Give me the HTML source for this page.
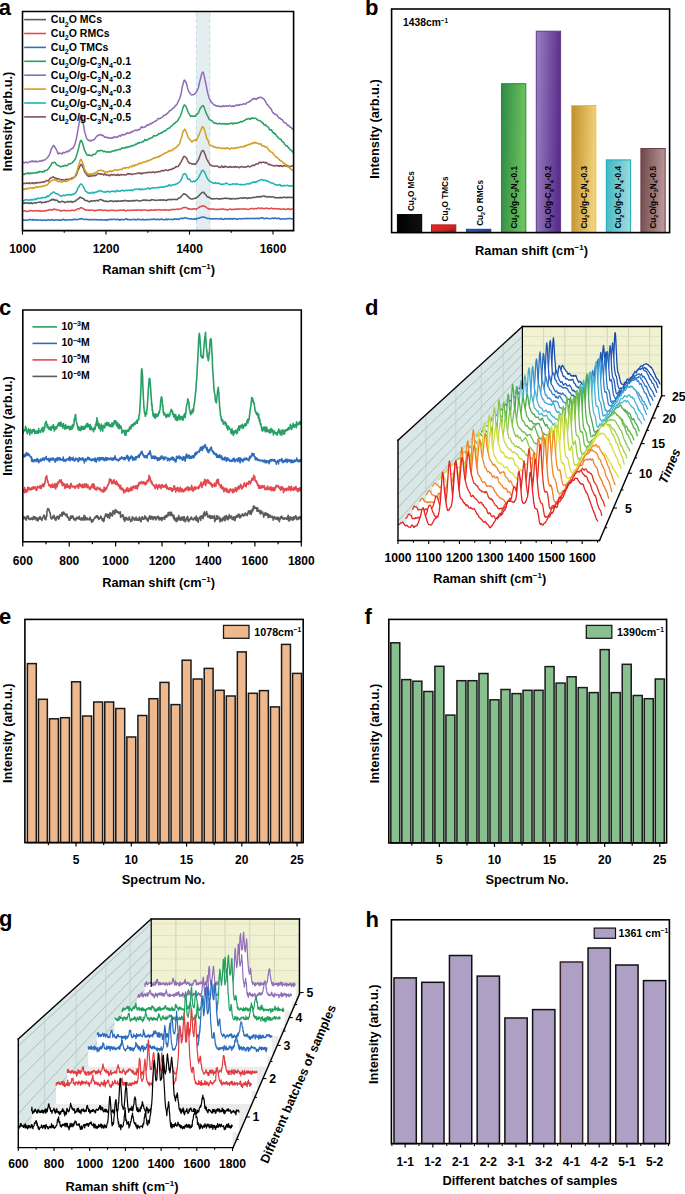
<!DOCTYPE html>
<html><head><meta charset="utf-8"><style>
html,body{margin:0;padding:0;background:#fff;width:685px;height:1194px;overflow:hidden}
svg{display:block}
text{font-family:"Liberation Sans",sans-serif;font-weight:bold;fill:#000}
</style></head><body>
<svg width="685" height="1194" viewBox="0 0 685 1194">
<defs>
<linearGradient id="gBlack" x1="0" y1="0" x2="1" y2="0"><stop offset="0" stop-color="#000"/><stop offset="1" stop-color="#111"/></linearGradient>
<linearGradient id="gRed" x1="0" y1="0" x2="1" y2="1"><stop offset="0" stop-color="#ee2a2a"/><stop offset="0.6" stop-color="#cc2424"/><stop offset="1" stop-color="#6e1a1a"/></linearGradient>
<linearGradient id="gBlue" x1="0" y1="0" x2="1" y2="0"><stop offset="0" stop-color="#2a58b0"/><stop offset="1" stop-color="#1d4090"/></linearGradient>
<linearGradient id="gGreen" x1="0" y1="0" x2="1" y2="0.15"><stop offset="0" stop-color="#2f8a45"/><stop offset="1" stop-color="#6cc35c"/></linearGradient>
<linearGradient id="gPurple" x1="0" y1="0" x2="1" y2="0.15"><stop offset="0" stop-color="#9a80c0"/><stop offset="1" stop-color="#5a2f8e"/></linearGradient>
<linearGradient id="gGold" x1="0" y1="0" x2="1" y2="0.15"><stop offset="0" stop-color="#c08f28"/><stop offset="1" stop-color="#f2d07a"/></linearGradient>
<linearGradient id="gCyan" x1="0" y1="0" x2="1" y2="0.15"><stop offset="0" stop-color="#3cb8c2"/><stop offset="1" stop-color="#9ad8de"/></linearGradient>
<linearGradient id="gBrown" x1="0" y1="0" x2="1" y2="0.15"><stop offset="0" stop-color="#6c4649"/><stop offset="1" stop-color="#b99598"/></linearGradient>
</defs>
<text x="-1.20" y="15.20" font-size="22" text-anchor="start" >a</text>
<text x="365.00" y="15.20" font-size="22" text-anchor="start" >b</text>
<text x="-0.90" y="315.20" font-size="22" text-anchor="start" >c</text>
<text x="365.00" y="315.20" font-size="22" text-anchor="start" >d</text>
<text x="-0.90" y="624.30" font-size="22" text-anchor="start" >e</text>
<text x="364.60" y="623.60" font-size="22" text-anchor="start" >f</text>
<text x="-0.90" y="925.80" font-size="22" text-anchor="start" >g</text>
<text x="365.40" y="926.90" font-size="22" text-anchor="start" >h</text>
<rect x="397.40" y="214.60" width="24.30" height="18.00" fill="url(#gBlack)" stroke="#000" stroke-width="1.0" />
<rect x="431.50" y="224.90" width="24.30" height="7.70" fill="url(#gRed)" stroke="#b01c1c" stroke-width="1.0" />
<rect x="466.50" y="229.30" width="24.30" height="3.30" fill="url(#gBlue)" stroke="#1c3f8a" stroke-width="1.0" />
<rect x="501.50" y="83.70" width="24.30" height="148.90" fill="url(#gGreen)" stroke="#228a3c" stroke-width="1.0" />
<rect x="536.30" y="31.20" width="24.30" height="201.40" fill="url(#gPurple)" stroke="#5f3a8c" stroke-width="1.0" />
<rect x="571.50" y="105.50" width="24.30" height="127.10" fill="url(#gGold)" stroke="#f0c030" stroke-width="1.0" />
<rect x="606.30" y="159.90" width="24.30" height="72.70" fill="url(#gCyan)" stroke="#19a9b3" stroke-width="1.0" />
<rect x="640.90" y="148.50" width="24.30" height="84.10" fill="url(#gBrown)" stroke="#6a4346" stroke-width="1.0" />
<text x="413.55" y="211.10" font-size="8.2" text-anchor="start" transform="rotate(-90 413.55 211.10)" font-family="Liberation Sans, sans-serif" font-weight="bold">Cu<tspan font-size="5.58" dy="2.46">2</tspan><tspan dy="-2.46">O MCs</tspan></text>
<text x="447.65" y="221.40" font-size="8.2" text-anchor="start" transform="rotate(-90 447.65 221.40)" font-family="Liberation Sans, sans-serif" font-weight="bold">Cu<tspan font-size="5.58" dy="2.46">2</tspan><tspan dy="-2.46">O TMCs</tspan></text>
<text x="482.65" y="225.80" font-size="8.2" text-anchor="start" transform="rotate(-90 482.65 225.80)" font-family="Liberation Sans, sans-serif" font-weight="bold">Cu<tspan font-size="5.58" dy="2.46">2</tspan><tspan dy="-2.46">O RMCs</tspan></text>
<text x="516.65" y="228.60" font-size="8.2" text-anchor="start" fill="#1a1a1a" transform="rotate(-90 516.65 228.60)" font-family="Liberation Sans, sans-serif" font-weight="bold">Cu<tspan font-size="5.58" dy="2.46">2</tspan><tspan dy="-2.46">O/g-C</tspan><tspan font-size="5.58" dy="2.46">3</tspan><tspan dy="-2.46">N</tspan><tspan font-size="5.58" dy="2.46">4</tspan><tspan dy="-2.46">-0.1</tspan></text>
<text x="551.45" y="228.60" font-size="8.2" text-anchor="start" fill="#1a1a1a" transform="rotate(-90 551.45 228.60)" font-family="Liberation Sans, sans-serif" font-weight="bold">Cu<tspan font-size="5.58" dy="2.46">2</tspan><tspan dy="-2.46">O/g-C</tspan><tspan font-size="5.58" dy="2.46">3</tspan><tspan dy="-2.46">N</tspan><tspan font-size="5.58" dy="2.46">4</tspan><tspan dy="-2.46">-0.2</tspan></text>
<text x="586.65" y="228.60" font-size="8.2" text-anchor="start" fill="#1a1a1a" transform="rotate(-90 586.65 228.60)" font-family="Liberation Sans, sans-serif" font-weight="bold">Cu<tspan font-size="5.58" dy="2.46">2</tspan><tspan dy="-2.46">O/g-C</tspan><tspan font-size="5.58" dy="2.46">3</tspan><tspan dy="-2.46">N</tspan><tspan font-size="5.58" dy="2.46">4</tspan><tspan dy="-2.46">-0.3</tspan></text>
<text x="621.45" y="228.60" font-size="8.2" text-anchor="start" fill="#1a1a1a" transform="rotate(-90 621.45 228.60)" font-family="Liberation Sans, sans-serif" font-weight="bold">Cu<tspan font-size="5.58" dy="2.46">2</tspan><tspan dy="-2.46">O/g-C</tspan><tspan font-size="5.58" dy="2.46">3</tspan><tspan dy="-2.46">N</tspan><tspan font-size="5.58" dy="2.46">4</tspan><tspan dy="-2.46">-0.4</tspan></text>
<text x="656.05" y="228.60" font-size="8.2" text-anchor="start" fill="#1a1a1a" transform="rotate(-90 656.05 228.60)" font-family="Liberation Sans, sans-serif" font-weight="bold">Cu<tspan font-size="5.58" dy="2.46">2</tspan><tspan dy="-2.46">O/g-C</tspan><tspan font-size="5.58" dy="2.46">3</tspan><tspan dy="-2.46">N</tspan><tspan font-size="5.58" dy="2.46">4</tspan><tspan dy="-2.46">-0.5</tspan></text>
<rect x="391.60" y="9.00" width="278.00" height="223.60" fill="none" stroke="#000" stroke-width="1.6" />
<text x="403" y="26.3" font-size="10.3" text-anchor="start" font-family="Liberation Sans, sans-serif" font-weight="bold">1438cm<tspan font-size="6.39" dy="-3.71">−1</tspan><tspan dy="3.71"></tspan></text>
<text x="378.50" y="129.00" font-size="12.8" text-anchor="middle" transform="rotate(-90 378.5 129)" font-family="Liberation Sans, sans-serif" font-weight="bold">Intensity (arb.u.)</text>
<text x="531.5" y="255" font-size="12.8" text-anchor="middle" font-family="Liberation Sans, sans-serif" font-weight="bold">Raman shift (cm<tspan font-size="7.94" dy="-4.61">−1</tspan><tspan dy="4.61">)</tspan></text>
<rect x="24.90" y="619.40" width="278.30" height="223.20" fill="#fff" stroke="none" stroke-width="1.0" />
<rect x="27.40" y="663.60" width="8.90" height="179.00" fill="#f0b98d" stroke="#1a1a1a" stroke-width="1.5" />
<rect x="38.45" y="699.30" width="8.90" height="143.30" fill="#f0b98d" stroke="#1a1a1a" stroke-width="1.5" />
<rect x="49.50" y="718.80" width="8.90" height="123.80" fill="#f0b98d" stroke="#1a1a1a" stroke-width="1.5" />
<rect x="60.55" y="717.70" width="8.90" height="124.90" fill="#f0b98d" stroke="#1a1a1a" stroke-width="1.5" />
<rect x="71.60" y="681.80" width="8.90" height="160.80" fill="#f0b98d" stroke="#1a1a1a" stroke-width="1.5" />
<rect x="82.65" y="716.00" width="8.90" height="126.60" fill="#f0b98d" stroke="#1a1a1a" stroke-width="1.5" />
<rect x="93.70" y="702.00" width="8.90" height="140.60" fill="#f0b98d" stroke="#1a1a1a" stroke-width="1.5" />
<rect x="104.75" y="702.00" width="8.90" height="140.60" fill="#f0b98d" stroke="#1a1a1a" stroke-width="1.5" />
<rect x="115.80" y="708.50" width="8.90" height="134.10" fill="#f0b98d" stroke="#1a1a1a" stroke-width="1.5" />
<rect x="126.85" y="737.00" width="8.90" height="105.60" fill="#f0b98d" stroke="#1a1a1a" stroke-width="1.5" />
<rect x="137.90" y="715.50" width="8.90" height="127.10" fill="#f0b98d" stroke="#1a1a1a" stroke-width="1.5" />
<rect x="148.95" y="698.70" width="8.90" height="143.90" fill="#f0b98d" stroke="#1a1a1a" stroke-width="1.5" />
<rect x="160.00" y="682.40" width="8.90" height="160.20" fill="#f0b98d" stroke="#1a1a1a" stroke-width="1.5" />
<rect x="171.05" y="704.60" width="8.90" height="138.00" fill="#f0b98d" stroke="#1a1a1a" stroke-width="1.5" />
<rect x="182.10" y="660.20" width="8.90" height="182.40" fill="#f0b98d" stroke="#1a1a1a" stroke-width="1.5" />
<rect x="193.15" y="679.00" width="8.90" height="163.60" fill="#f0b98d" stroke="#1a1a1a" stroke-width="1.5" />
<rect x="204.20" y="668.40" width="8.90" height="174.20" fill="#f0b98d" stroke="#1a1a1a" stroke-width="1.5" />
<rect x="215.25" y="690.30" width="8.90" height="152.30" fill="#f0b98d" stroke="#1a1a1a" stroke-width="1.5" />
<rect x="226.30" y="696.00" width="8.90" height="146.60" fill="#f0b98d" stroke="#1a1a1a" stroke-width="1.5" />
<rect x="237.35" y="651.90" width="8.90" height="190.70" fill="#f0b98d" stroke="#1a1a1a" stroke-width="1.5" />
<rect x="248.40" y="693.30" width="8.90" height="149.30" fill="#f0b98d" stroke="#1a1a1a" stroke-width="1.5" />
<rect x="259.45" y="690.60" width="8.90" height="152.00" fill="#f0b98d" stroke="#1a1a1a" stroke-width="1.5" />
<rect x="270.50" y="706.90" width="8.90" height="135.70" fill="#f0b98d" stroke="#1a1a1a" stroke-width="1.5" />
<rect x="281.55" y="644.40" width="8.90" height="198.20" fill="#f0b98d" stroke="#1a1a1a" stroke-width="1.5" />
<rect x="292.60" y="673.40" width="8.90" height="169.20" fill="#f0b98d" stroke="#1a1a1a" stroke-width="1.5" />
<rect x="24.90" y="619.40" width="278.30" height="223.20" fill="none" stroke="#000" stroke-width="1.6" />
<line x1="48.43" y1="842.60" x2="48.43" y2="845.10" stroke="#000" stroke-width="1.2" />
<line x1="76.05" y1="842.60" x2="76.05" y2="846.60" stroke="#000" stroke-width="1.2" />
<text x="76.05" y="864.10" font-size="12" text-anchor="middle" font-family="Liberation Sans, sans-serif" font-weight="bold">5</text>
<line x1="103.68" y1="842.60" x2="103.68" y2="845.10" stroke="#000" stroke-width="1.2" />
<line x1="131.30" y1="842.60" x2="131.30" y2="846.60" stroke="#000" stroke-width="1.2" />
<text x="131.30" y="864.10" font-size="12" text-anchor="middle" font-family="Liberation Sans, sans-serif" font-weight="bold">10</text>
<line x1="158.93" y1="842.60" x2="158.93" y2="845.10" stroke="#000" stroke-width="1.2" />
<line x1="186.55" y1="842.60" x2="186.55" y2="846.60" stroke="#000" stroke-width="1.2" />
<text x="186.55" y="864.10" font-size="12" text-anchor="middle" font-family="Liberation Sans, sans-serif" font-weight="bold">15</text>
<line x1="214.18" y1="842.60" x2="214.18" y2="845.10" stroke="#000" stroke-width="1.2" />
<line x1="241.80" y1="842.60" x2="241.80" y2="846.60" stroke="#000" stroke-width="1.2" />
<text x="241.80" y="864.10" font-size="12" text-anchor="middle" font-family="Liberation Sans, sans-serif" font-weight="bold">20</text>
<line x1="269.43" y1="842.60" x2="269.43" y2="845.10" stroke="#000" stroke-width="1.2" />
<line x1="297.05" y1="842.60" x2="297.05" y2="846.60" stroke="#000" stroke-width="1.2" />
<text x="297.05" y="864.10" font-size="12" text-anchor="middle" font-family="Liberation Sans, sans-serif" font-weight="bold">25</text>
<rect x="223.50" y="625.40" width="25.50" height="12.90" fill="#f0b98d" stroke="#1a1a1a" stroke-width="1.3" />
<text x="254.30" y="635.8" font-size="10.7" text-anchor="start" font-family="Liberation Sans, sans-serif" font-weight="bold">1078cm<tspan font-size="6.63" dy="-3.85">−1</tspan><tspan dy="3.85"></tspan></text>
<text x="163.40" y="883.50" font-size="12.8" text-anchor="middle" font-family="Liberation Sans, sans-serif" font-weight="bold">Spectrum No.</text>
<text x="12.00" y="733.20" font-size="12.8" text-anchor="middle" transform="rotate(-90 12 733.2)" font-family="Liberation Sans, sans-serif" font-weight="bold">Intensity (arb.u.)</text>
<rect x="388.80" y="619.40" width="277.80" height="223.50" fill="#fff" stroke="none" stroke-width="1.0" />
<rect x="390.80" y="642.80" width="9.00" height="200.10" fill="#88bf8f" stroke="#1a1a1a" stroke-width="1.5" />
<rect x="401.82" y="679.60" width="9.00" height="163.30" fill="#88bf8f" stroke="#1a1a1a" stroke-width="1.5" />
<rect x="412.84" y="681.20" width="9.00" height="161.70" fill="#88bf8f" stroke="#1a1a1a" stroke-width="1.5" />
<rect x="423.86" y="691.50" width="9.00" height="151.40" fill="#88bf8f" stroke="#1a1a1a" stroke-width="1.5" />
<rect x="434.88" y="666.30" width="9.00" height="176.60" fill="#88bf8f" stroke="#1a1a1a" stroke-width="1.5" />
<rect x="445.90" y="715.10" width="9.00" height="127.80" fill="#88bf8f" stroke="#1a1a1a" stroke-width="1.5" />
<rect x="456.92" y="680.70" width="9.00" height="162.20" fill="#88bf8f" stroke="#1a1a1a" stroke-width="1.5" />
<rect x="467.94" y="680.70" width="9.00" height="162.20" fill="#88bf8f" stroke="#1a1a1a" stroke-width="1.5" />
<rect x="478.96" y="673.50" width="9.00" height="169.40" fill="#88bf8f" stroke="#1a1a1a" stroke-width="1.5" />
<rect x="489.98" y="699.80" width="9.00" height="143.10" fill="#88bf8f" stroke="#1a1a1a" stroke-width="1.5" />
<rect x="501.00" y="689.50" width="9.00" height="153.40" fill="#88bf8f" stroke="#1a1a1a" stroke-width="1.5" />
<rect x="512.02" y="693.60" width="9.00" height="149.30" fill="#88bf8f" stroke="#1a1a1a" stroke-width="1.5" />
<rect x="523.04" y="690.30" width="9.00" height="152.60" fill="#88bf8f" stroke="#1a1a1a" stroke-width="1.5" />
<rect x="534.06" y="690.30" width="9.00" height="152.60" fill="#88bf8f" stroke="#1a1a1a" stroke-width="1.5" />
<rect x="545.08" y="666.60" width="9.00" height="176.30" fill="#88bf8f" stroke="#1a1a1a" stroke-width="1.5" />
<rect x="556.10" y="683.10" width="9.00" height="159.80" fill="#88bf8f" stroke="#1a1a1a" stroke-width="1.5" />
<rect x="567.12" y="676.80" width="9.00" height="166.10" fill="#88bf8f" stroke="#1a1a1a" stroke-width="1.5" />
<rect x="578.14" y="687.60" width="9.00" height="155.30" fill="#88bf8f" stroke="#1a1a1a" stroke-width="1.5" />
<rect x="589.16" y="692.60" width="9.00" height="150.30" fill="#88bf8f" stroke="#1a1a1a" stroke-width="1.5" />
<rect x="600.18" y="649.60" width="9.00" height="193.30" fill="#88bf8f" stroke="#1a1a1a" stroke-width="1.5" />
<rect x="611.20" y="692.60" width="9.00" height="150.30" fill="#88bf8f" stroke="#1a1a1a" stroke-width="1.5" />
<rect x="622.22" y="664.30" width="9.00" height="178.60" fill="#88bf8f" stroke="#1a1a1a" stroke-width="1.5" />
<rect x="633.24" y="695.50" width="9.00" height="147.40" fill="#88bf8f" stroke="#1a1a1a" stroke-width="1.5" />
<rect x="644.26" y="698.70" width="9.00" height="144.20" fill="#88bf8f" stroke="#1a1a1a" stroke-width="1.5" />
<rect x="655.28" y="679.00" width="9.00" height="163.90" fill="#88bf8f" stroke="#1a1a1a" stroke-width="1.5" />
<rect x="388.80" y="619.40" width="277.80" height="223.50" fill="none" stroke="#000" stroke-width="1.6" />
<line x1="411.83" y1="842.90" x2="411.83" y2="845.40" stroke="#000" stroke-width="1.2" />
<line x1="439.38" y1="842.90" x2="439.38" y2="846.90" stroke="#000" stroke-width="1.2" />
<text x="439.38" y="864.40" font-size="12" text-anchor="middle" font-family="Liberation Sans, sans-serif" font-weight="bold">5</text>
<line x1="466.93" y1="842.90" x2="466.93" y2="845.40" stroke="#000" stroke-width="1.2" />
<line x1="494.48" y1="842.90" x2="494.48" y2="846.90" stroke="#000" stroke-width="1.2" />
<text x="494.48" y="864.40" font-size="12" text-anchor="middle" font-family="Liberation Sans, sans-serif" font-weight="bold">10</text>
<line x1="522.03" y1="842.90" x2="522.03" y2="845.40" stroke="#000" stroke-width="1.2" />
<line x1="549.58" y1="842.90" x2="549.58" y2="846.90" stroke="#000" stroke-width="1.2" />
<text x="549.58" y="864.40" font-size="12" text-anchor="middle" font-family="Liberation Sans, sans-serif" font-weight="bold">15</text>
<line x1="577.13" y1="842.90" x2="577.13" y2="845.40" stroke="#000" stroke-width="1.2" />
<line x1="604.68" y1="842.90" x2="604.68" y2="846.90" stroke="#000" stroke-width="1.2" />
<text x="604.68" y="864.40" font-size="12" text-anchor="middle" font-family="Liberation Sans, sans-serif" font-weight="bold">20</text>
<line x1="632.23" y1="842.90" x2="632.23" y2="845.40" stroke="#000" stroke-width="1.2" />
<line x1="659.78" y1="842.90" x2="659.78" y2="846.90" stroke="#000" stroke-width="1.2" />
<text x="659.78" y="864.40" font-size="12" text-anchor="middle" font-family="Liberation Sans, sans-serif" font-weight="bold">25</text>
<rect x="586.30" y="625.40" width="25.50" height="12.90" fill="#88bf8f" stroke="#1a1a1a" stroke-width="1.3" />
<text x="617.10" y="635.8" font-size="10.7" text-anchor="start" font-family="Liberation Sans, sans-serif" font-weight="bold">1390cm<tspan font-size="6.63" dy="-3.85">−1</tspan><tspan dy="3.85"></tspan></text>
<text x="527.00" y="883.50" font-size="12.8" text-anchor="middle" font-family="Liberation Sans, sans-serif" font-weight="bold">Spectrum No.</text>
<text x="378.50" y="733.50" font-size="12.8" text-anchor="middle" transform="rotate(-90 378.5 733.5)" font-family="Liberation Sans, sans-serif" font-weight="bold">Intensity (arb.u.)</text>
<rect x="394.00" y="977.90" width="22.30" height="165.70" fill="#ada0c4" stroke="#111" stroke-width="1.5" />
<rect x="421.72" y="982.30" width="22.30" height="161.30" fill="#ada0c4" stroke="#111" stroke-width="1.5" />
<rect x="449.44" y="955.50" width="22.30" height="188.10" fill="#ada0c4" stroke="#111" stroke-width="1.5" />
<rect x="477.16" y="976.10" width="22.30" height="167.50" fill="#ada0c4" stroke="#111" stroke-width="1.5" />
<rect x="504.88" y="1018.00" width="22.30" height="125.60" fill="#ada0c4" stroke="#111" stroke-width="1.5" />
<rect x="532.60" y="1009.60" width="22.30" height="134.00" fill="#ada0c4" stroke="#111" stroke-width="1.5" />
<rect x="560.32" y="962.00" width="22.30" height="181.60" fill="#ada0c4" stroke="#3a2020" stroke-width="1.5" />
<rect x="588.04" y="948.00" width="22.30" height="195.60" fill="#ada0c4" stroke="#111" stroke-width="1.5" />
<rect x="615.76" y="965.00" width="22.30" height="178.60" fill="#ada0c4" stroke="#111" stroke-width="1.5" />
<rect x="643.48" y="980.60" width="22.30" height="163.00" fill="#ada0c4" stroke="#111" stroke-width="1.5" />
<rect x="391.40" y="919.80" width="278.00" height="223.80" fill="none" stroke="#000" stroke-width="1.6" />
<line x1="405.15" y1="1143.60" x2="405.15" y2="1147.60" stroke="#000" stroke-width="1.1" />
<line x1="419.01" y1="1143.60" x2="419.01" y2="1146.10" stroke="#000" stroke-width="1.1" />
<text x="405.15" y="1166.00" font-size="12" text-anchor="middle" font-family="Liberation Sans, sans-serif" font-weight="bold">1-1</text>
<line x1="432.87" y1="1143.60" x2="432.87" y2="1147.60" stroke="#000" stroke-width="1.1" />
<line x1="446.73" y1="1143.60" x2="446.73" y2="1146.10" stroke="#000" stroke-width="1.1" />
<text x="432.87" y="1166.00" font-size="12" text-anchor="middle" font-family="Liberation Sans, sans-serif" font-weight="bold">1-2</text>
<line x1="460.59" y1="1143.60" x2="460.59" y2="1147.60" stroke="#000" stroke-width="1.1" />
<line x1="474.45" y1="1143.60" x2="474.45" y2="1146.10" stroke="#000" stroke-width="1.1" />
<text x="460.59" y="1166.00" font-size="12" text-anchor="middle" font-family="Liberation Sans, sans-serif" font-weight="bold">2-1</text>
<line x1="488.31" y1="1143.60" x2="488.31" y2="1147.60" stroke="#000" stroke-width="1.1" />
<line x1="502.17" y1="1143.60" x2="502.17" y2="1146.10" stroke="#000" stroke-width="1.1" />
<text x="488.31" y="1166.00" font-size="12" text-anchor="middle" font-family="Liberation Sans, sans-serif" font-weight="bold">2-2</text>
<line x1="516.03" y1="1143.60" x2="516.03" y2="1147.60" stroke="#000" stroke-width="1.1" />
<line x1="529.89" y1="1143.60" x2="529.89" y2="1146.10" stroke="#000" stroke-width="1.1" />
<text x="516.03" y="1166.00" font-size="12" text-anchor="middle" font-family="Liberation Sans, sans-serif" font-weight="bold">3-1</text>
<line x1="543.75" y1="1143.60" x2="543.75" y2="1147.60" stroke="#000" stroke-width="1.1" />
<line x1="557.61" y1="1143.60" x2="557.61" y2="1146.10" stroke="#000" stroke-width="1.1" />
<text x="543.75" y="1166.00" font-size="12" text-anchor="middle" font-family="Liberation Sans, sans-serif" font-weight="bold">3-2</text>
<line x1="571.47" y1="1143.60" x2="571.47" y2="1147.60" stroke="#000" stroke-width="1.1" />
<line x1="585.33" y1="1143.60" x2="585.33" y2="1146.10" stroke="#000" stroke-width="1.1" />
<text x="571.47" y="1166.00" font-size="12" text-anchor="middle" font-family="Liberation Sans, sans-serif" font-weight="bold">4-1</text>
<line x1="599.19" y1="1143.60" x2="599.19" y2="1147.60" stroke="#000" stroke-width="1.1" />
<line x1="613.05" y1="1143.60" x2="613.05" y2="1146.10" stroke="#000" stroke-width="1.1" />
<text x="599.19" y="1166.00" font-size="12" text-anchor="middle" font-family="Liberation Sans, sans-serif" font-weight="bold">4-2</text>
<line x1="626.91" y1="1143.60" x2="626.91" y2="1147.60" stroke="#000" stroke-width="1.1" />
<line x1="640.77" y1="1143.60" x2="640.77" y2="1146.10" stroke="#000" stroke-width="1.1" />
<text x="626.91" y="1166.00" font-size="12" text-anchor="middle" font-family="Liberation Sans, sans-serif" font-weight="bold">5-1</text>
<line x1="654.63" y1="1143.60" x2="654.63" y2="1147.60" stroke="#000" stroke-width="1.1" />
<line x1="668.49" y1="1143.60" x2="668.49" y2="1146.10" stroke="#000" stroke-width="1.1" />
<text x="654.63" y="1166.00" font-size="12" text-anchor="middle" font-family="Liberation Sans, sans-serif" font-weight="bold">5-2</text>
<line x1="391.90" y1="1143.60" x2="391.90" y2="1146.10" stroke="#000" stroke-width="1.1" />
<rect x="594.20" y="928.10" width="21.30" height="10.20" fill="#ada0c4" stroke="#111" stroke-width="1.2" />
<text x="618.5" y="937.2" font-size="10.7" text-anchor="start" font-family="Liberation Sans, sans-serif" font-weight="bold">1361 cm<tspan font-size="6.63" dy="-3.85">−1</tspan><tspan dy="3.85"></tspan></text>
<text x="530.00" y="1184.50" font-size="12.8" text-anchor="middle" font-family="Liberation Sans, sans-serif" font-weight="bold">Different batches of samples</text>
<text x="378.50" y="1034.20" font-size="12.8" text-anchor="middle" transform="rotate(-90 378.5 1034.2)" font-family="Liberation Sans, sans-serif" font-weight="bold">Intensity (arb.u.)</text>
<rect x="196.40" y="12.50" width="13.40" height="217.60" fill="#e4edf0" stroke="none" stroke-width="1.0" />
<line x1="196.40" y1="12.50" x2="196.40" y2="230.60" stroke="#c3dde8" stroke-width="1.0" stroke-dasharray="4,2.3"/>
<line x1="209.80" y1="12.50" x2="209.80" y2="230.60" stroke="#c3dde8" stroke-width="1.0" stroke-dasharray="4,2.3"/>
<path d="M22.5,220.2l.4-.1 .4-.2 .5-.1 .4,.2 .4,.2 .4,.1 .4-.1 .4-.1 .5,.1 .4,.1 .4-.2 .4-.1 .4,.1 .4,0 .5-.1 .4-.4 .4,0 .4-.2 .4,.2 .4,0 .5,.4 .4,0 .4,.2 .4-.5 .4-.1 .5,.1 .4,.4 .4-.2 .4-.1 .4-.1 .4,.1 .5,.2 .4,0 .4,.2 .4-.1 .4,.1 .4-.1 .5-.1 .4,.1 .4-.2 .4,0 .4,.2 .5,0 .4,.1 .4-.2 .4,.1 .4,.2 .4,.1 .5-.1 .4-.3 .4,0 .4,.1 .4,.1 .4-.1 .5,.2 .4,.1 .4-.1 .4-.1 .4-.3 .5,.1 .4-.2 .4,0 .4-.1 .4,.4 .4,.2 .5-.1 .4-.3 .4-.1 .4-.1 .4,0 .4-.1 .5,.5 .4,.2 .4,0 .4-.3 .4-.1 .4,.3 .5-.1 .4,0 .4-.2 .4,.1 .4,0 .5-.2 .4,0 .4-.1 .4,.4 .4,.1 .4,.1 .5-.1 .4-.2 .4,.2 .4-.1 .4,.1 .4-.3 .5,0 .4-.4 .4-.1 .4-.1 .4,.1 .4,.4 .5,.4 .4,0 .4-.1 .4-.4 .4,.2 .5,.1 .4-.1 .4,.1 .4,.1 .4-.2 .4-.1 .5-.1 .4,0 .4,.1 .4-.2 .4,.3 .4,0 .5,.2 .4-.3 .4-.1 .4-.3 .4-.1 .5,.1 .4-.1 .4,.3 .4-.3 .4,.4 .4-.3 .5,.3 .4-.2 .4-.1 .4,0 .4,.1 .4,.1 .5-.3 .4-.3 .4-.2 .4,.1 .4-.1 .4,.2 .5-.3 .4,0 .4-.1 .4,.3 .4,.2 .5,.4 .4-.1 .4,0 .4-.1 .4-.1 .4,.2 .5,0 .4,.1 .4-.2 .4,0 .4,.3 .4,.1 .5,0 .4-.2 .4,.4 .4-.1 .4-.1 .5-.3 .4,0 .4,.1 .4,.1 .4,.3 .4-.2 .5,0 .4-.1 .4,.1 .4-.2 .4-.1 .4,.2 .5,.1 .4,.2 .4-.2 .4,0 .4-.1 .4,.1 .5,0 .4,.1 .4-.1 .4,.2 .4,.1 .5,.1 .4-.3 .4-.3 .4,.1 .4,.2 .4,.2 .5,0 .4-.1 .4,.2 .4,0 .4-.2 .4,.1 .5-.3 .4,.2 .4-.2 .4,.4 .4,.1 .5,.2 .4-.3 .4-.6 .4-.1 .4,0 .4,.3 .5,0 .4-.1 .4-.4 .4,0 .4,.2 .4,.3 .5,0 .4-.2 .4-.2 .4,0 .4,0 .5-.1 .4,.2 .4,.1 .4,.3 .4-.2 .4-.1 .5-.2 .4,0 .4,.1 .4,0 .4,.2 .4,0 .5,.5 .4-.3 .4,.1 .4-.3 .4,.2 .4-.4 .5-.1 .4,.2 .4,.2 .4,.1 .4-.2 .5,.2 .4,0 .4-.3 .4-.3 .4-.3 .4-.2 .5,0 .4,.5 .4,.5 .4-.1 .4-.3 .4,.2 .5,.2 .4,.1 .4-.2 .4,0 .4,.1 .4,.1 .5,0 .4-.3 .4,0 .4-.1 .4,.3 .5-.3 .4,.1 .4-.1 .4-.1 .4,.3 .4,.3 .5,.1 .4-.2 .4-.1 .4-.4 .4-.1 .4,0 .5,.4 .4-.2 .4-.1 .4,0 .4,.4 .5,0 .4,.1 .4,0 .4-.1 .4-.1 .4-.5 .5,.3 .4,.2 .4,.5 .4-.2 .4-.1 .4-.1 .5-.2 .4,0 .4-.1 .4,.3 .4,.1 .5,0 .4-.3 .4-.2 .4,.2 .4,.2 .4,.1 .5-.3 .4-.2 .4-.1 .4,.2 .4,.1 .4,0 .5-.2 .4,.1 .4-.2 .4,0 .4-.2 .4,.4 .5-.1 .4,.3 .4,0 .4,.1 .4-.2 .5-.2 .4,.1 .4-.1 .4,0 .4,.4 .4,.1 .5-.1 .4-.5 .4,.1 .4-.2 .4,0 .4,.1 .5,.1 .4,.3 .4,.1 .4,.1 .4,0 .4,0 .5-.1 .4-.1 .4-.6 .4,.1 .4,.3 .5,.4 .4-.2 .4-.4 .4-.2 .4,.2 .4,.1 .5,.1 .4,0 .4,0 .4-.1 .4,0 .4,0 .5,.1 .4,.3 .4,.1 .4-.1 .4-.6 .5,0 .4-.3 .4,0 .4,.1 .4,.4 .4,.1 .5-.4 .4-.2 .4-.1 .4,.4 .4,.4 .4,.1 .5-.3 .4-.6 .4-.1 .4,0 .4-.1 .5-.1 .4-.2 .4,.2 .4,.1 .4,.2 .4-.3 .5-.2 .4-.2 .4,0 .4-.2 .4-.1 .4-.1 .5,.3 .4,.2 .4,.4 .4,.1 .4-.1 .4-.1 .5,0 .4,.4 .4,.1 .4,.2 .4,0 .5-.1 .4-.3 .4,.1 .4,.3 .4-.2 .4,.1 .5,0 .4,.5 .4-.3 .4-.2 .4-.4 .4,.4 .5,0 .4,.4 .4-.6 .4,0 .4-.6 .4,0 .5,0 .4,0 .4,.1 .4-.2 .4-.1 .5-.4 .4-.2 .4,0 .4-.1 .4-.1 .4-.1 .5-.1 .4,0 .4,.1 .4,.3 .4,.1 .4,.1 .5-.1 .4,.2 .4,.2 .4,.1 .4,.5 .5-.1 .4,.2 .4-.2 .4,.1 .4,.1 .4,.1 .5,.3 .4-.1 .4-.1 .4-.1 .4,0 .4,.4 .5-.1 .4,0 .4-.4 .4,.2 .4-.1 .5,0 .4-.1 .4,.3 .4,0 .4-.1 .4-.3 .5,.1 .4,.2 .4,0 .4,.1 .4,0 .4,0 .5,.2 .4-.3 .4,0 .4-.4 .4,.4 .4,.2 .5,.3 .4-.3 .4,.1 .4,0 .4,.3 .5-.2 .4-.3 .4-.4 .4-.1 .4,.4 .4,.3 .5,0 .4-.3 .4-.2 .4,.4 .4-.3 .4,.2 .5-.4 .4,.6 .4-.3 .4,.1 .4-.4 .4,.1 .5,.2 .4,.4 .4,.1 .4-.4 .4-.4 .5,0 .4,.1 .4,.3 .4,0 .4-.1 .4,0 .5,0 .4,.3 .4,.3 .4,0 .4-.3 .4-.3 .5-.1 .4,0 .4,0 .4-.1 .4,.2 .5,0 .4,.2 .4-.1 .4-.1 .4-.2 .4,0 .5,0 .4,.2 .4,0 .4-.1 .4-.1 .4-.2 .5,.1 .4,0 .4-.2 .4,.1 .4,.1 .5,.3 .4-.1 .4-.1 .4-.1 .4,0 .4-.1 .5,.2 .4-.2 .4,.1 .4,0 .4,.2 .4-.2 .5,.1 .4-.3 .4,.2 .4-.1 .4,.3 .4-.1 .5-.1 .4-.1 .4,0 .4,.2 .4,0 .5-.3 .4,0 .4,.1 .4,.4 .4-.1 .4-.4 .5-.1 .4,0 .4-.2 .4-.1 .4-.2 .4,.2 .5-.2 .4,.5 .4,.1 .4,.2 .4,0 .4,.3 .5,0 .4-.3 .4-.5 .4,0 .4,.1 .5,.2 .4,.2 .4,.1 .4-.2 .4,0 .4,0 .5,.2 .4,.2 .4,0 .4-.2 .4-.1 .4-.2 .5-.2 .4,.1 .4,.1 .4,.4 .4-.4 .5,0 .4-.2 .4,.2 .4-.3 .4,0 .4,.3 .5,.4 .4,0 .4-.1 .4,0 .4-.3 .4,0 .5,0 .4,.5 .4,.3 .4,.1 .4,0 .4-.3 .5,0 .4-.1 .4-.1 .4,0 .4,.4 .5,0 .4-.1 .4-.3 .4,.2 .4,0 .4,.2 .5-.3 .4-.1 .4-.2 .4,.2 .4,.2 .4-.2 .5-.2 .4-.1 .4,.1 .4-.1 .4,.1 .5,.2 .4,.3 .4-.2 .4,0 .4-.1 .4,.3 .5-.3 .4-.1" stroke="#2f6fc0" stroke-width="1.5" fill="none" stroke-linejoin="round" />
<path d="M22.5,211l.4,0 .4,0 .5-.1 .4-.1 .4,.3 .4-.1 .4-.1 .4,.1 .5,.4 .4,.3 .4-.2 .4-.2 .4-.1 .4,0 .5-.2 .4-.2 .4,.1 .4,0 .4-.3 .4-.2 .5,.2 .4,.1 .4,.2 .4-.1 .4,.2 .5,0 .4,0 .4-.2 .4,0 .4-.2 .4,.2 .5,.1 .4,0 .4-.2 .4,0 .4,.2 .4-.2 .5-.1 .4-.2 .4,.6 .4,.2 .4,.1 .5-.3 .4,.2 .4-.1 .4-.1 .4-.1 .4,0 .5,.2 .4-.3 .4,.2 .4,.1 .4,.2 .4-.2 .5-.6 .4,0 .4-.1 .4,.3 .4-.1 .5,0 .4-.4 .4-.1 .4-.1 .4,.1 .4-.2 .5,0 .4-.4 .4,.2 .4,0 .4,.4 .4,0 .5-.1 .4-.4 .4-.4 .4-.2 .4,.2 .4,.2 .5-.1 .4,.2 .4-.1 .4,.4 .4,0 .5,.2 .4,0 .4,0 .4,.1 .4-.2 .4,.1 .5,.4 .4,.5 .4,.3 .4-.2 .4-.3 .4,0 .5-.1 .4,.1 .4-.2 .4,0 .4,0 .4,0 .5-.2 .4,0 .4,.4 .4,.1 .4,0 .5-.2 .4,.1 .4-.1 .4-.1 .4,0 .4,.2 .5,0 .4,.1 .4-.2 .4,0 .4-.3 .4,.3 .5-.3 .4,0 .4-.3 .4,.3 .4,.2 .5,.2 .4-.4 .4,0 .4-.3 .4,0 .4-.1 .5-.2 .4-.4 .4-.3 .4-.2 .4,0 .4-.1 .5,0 .4,.1 .4-.2 .4-.4 .4-.5 .4-.1 .5,.1 .4,.2 .4,.2 .4,.1 .4,.2 .5,.3 .4,.5 .4,.1 .4,.3 .4,.1 .4,.3 .5,.1 .4,.2 .4-.1 .4-.2 .4,0 .4,0 .5,.2 .4-.1 .4,.3 .4,0 .4,0 .5-.4 .4-.1 .4,.2 .4,.1 .4,.1 .4-.1 .5,.2 .4-.1 .4,.1 .4,0 .4,.5 .4-.2 .5-.2 .4-.4 .4,.2 .4-.1 .4,.1 .4-.1 .5,0 .4-.1 .4-.1 .4-.1 .4-.1 .5,0 .4,.3 .4,.2 .4-.2 .4-.1 .4,.2 .5,.3 .4,0 .4-.2 .4,0 .4-.1 .4,0 .5-.2 .4,.3 .4,.2 .4,.2 .4-.2 .5,.1 .4-.3 .4,.1 .4,.2 .4,.2 .4-.1 .5-.3 .4-.1 .4,.2 .4,0 .4-.3 .4-.2 .5,0 .4,.3 .4,.2 .4,0 .4,.1 .5-.3 .4,.1 .4,.2 .4,.2 .4-.1 .4-.3 .5,.2 .4-.2 .4,0 .4-.2 .4,.2 .4,0 .5-.1 .4-.1 .4,.1 .4-.1 .4-.1 .4,0 .5,.1 .4,0 .4,0 .4,0 .4-.1 .5,.1 .4-.2 .4,.3 .4,.3 .4,.4 .4-.2 .5-.2 .4-.3 .4,0 .4,.2 .4-.3 .4,.2 .5-.2 .4,.3 .4-.1 .4-.1 .4-.1 .4,0 .5,.1 .4,0 .4-.1 .4-.3 .4,0 .5,.2 .4,.3 .4-.1 .4,0 .4-.1 .4-.1 .5-.1 .4,.2 .4-.1 .4,.2 .4-.3 .4,0 .5,.1 .4,0 .4,0 .4-.2 .4,.1 .5,.4 .4-.1 .4,0 .4-.1 .4,0 .4-.1 .5-.1 .4,.1 .4-.2 .4,0 .4,.1 .4,0 .5-.1 .4,.2 .4,.1 .4,.2 .4,0 .5,0 .4,.2 .4-.3 .4,.1 .4-.4 .4,.4 .5,.1 .4-.3 .4-.3 .4-.2 .4,.4 .4,.2 .5-.1 .4,0 .4-.1 .4,0 .4,.1 .4-.4 .5,.1 .4-.3 .4,.5 .4-.2 .4,0 .5,0 .4-.1 .4,0 .4-.3 .4,.1 .4,.2 .5,.3 .4,0 .4,.1 .4-.1 .4,0 .4-.1 .5,.1 .4,0 .4-.1 .4-.2 .4,.1 .4-.1 .5,.1 .4-.1 .4,.2 .4-.2 .4,.1 .5,0 .4,0 .4,.2 .4,0 .4,.3 .4-.1 .5-.2 .4-.3 .4-.1 .4,.1 .4,.1 .4-.1 .5-.3 .4-.1 .4-.2 .4,.3 .4-.1 .5,.2 .4-.1 .4,.1 .4-.1 .4-.2 .4-.2 .5-.2 .4,.1 .4,.3 .4,.1 .4,.2 .4-.5 .5,.1 .4-.2 .4,.1 .4-.1 .4,.1 .5-.1 .4-.3 .4-.6 .4-.1 .4-.2 .4,0 .5-.2 .4,.2 .4-.4 .4,0 .4-.1 .4,.4 .5,.1 .4,0 .4,0 .4,.3 .4,.6 .4,.5 .5-.1 .4-.3 .4-.1 .4,.3 .4,.1 .5,0 .4,0 .4,.3 .4,.1 .4-.3 .4-.4 .5,0 .4-.2 .4,.3 .4-.1 .4,.4 .4,0 .5,.2 .4-.3 .4-.3 .4-.1 .4-.1 .4-.5 .5-.3 .4-.3 .4,.1 .4-.6 .4-.1 .5-.5 .4,0 .4,0 .4-.1 .4-.1 .4,0 .5-.4 .4,.1 .4-.2 .4,.5 .4,.2 .4,.2 .5,.1 .4,.3 .4,.4 .4,.2 .4,.4 .5,.5 .4,.1 .4-.1 .4,.2 .4,.5 .4,.1 .5-.3 .4-.1 .4,0 .4,0 .4,.2 .4,.1 .5,0 .4-.2 .4,0 .4,0 .4,.2 .5,.1 .4,.2 .4,.1 .4-.1 .4,0 .4-.1 .5-.1 .4,.1 .4-.1 .4,.2 .4-.1 .4,.1 .5-.3 .4-.1 .4,.2 .4-.1 .4,.3 .4-.1 .5-.3 .4-.2 .4-.2 .4,.3 .4,.3 .5,.3 .4-.1 .4-.3 .4,.2 .4,.2 .4,.1 .5-.1 .4,.3 .4,.2 .4-.2 .4-.3 .4-.1 .5-.1 .4-.2 .4-.1 .4,0 .4,.1 .4,0 .5,.5 .4-.1 .4-.1 .4-.3 .4,.2 .5,.1 .4,0 .4-.2 .4-.4 .4,0 .4,.1 .5,.3 .4,0 .4-.2 .4,0 .4,.2 .4,0 .5-.1 .4-.3 .4-.1 .4,.3 .4-.1 .5,.1 .4-.2 .4,.3 .4-.1 .4-.1 .4,.1 .5,.1 .4-.3 .4,0 .4-.2 .4,.2 .4,.1 .5,.2 .4,.1 .4-.1 .4,0 .4,.1 .5,.2 .4,0 .4-.2 .4-.2 .4-.1 .4-.2 .5,0 .4-.2 .4,.1 .4-.2 .4-.1 .4,0 .5,.3 .4,.3 .4-.1 .4-.1 .4-.3 .4,0 .5,0 .4,.1 .4,.2 .4,0 .4-.3 .5-.4 .4-.2 .4,0 .4,.3 .4,.2 .4-.1 .5-.1 .4,.1 .4,.2 .4-.2 .4-.3 .4,.1 .5,.2 .4,.2 .4,.1 .4,.1 .4,.1 .4-.1 .5-.4 .4-.2 .4,0 .4,.2 .4,.1 .5,0 .4-.1 .4,.1 .4,.2 .4,.1 .4,0 .5,.1 .4,0 .4-.4 .4-.3 .4,0 .4,.2 .5,.1 .4,.3 .4,.1 .4-.2 .4,.1 .5,.1 .4,0 .4-.3 .4,.2 .4,.1 .4,.1 .5-.2 .4,0 .4,0 .4,.1 .4,.1 .4,0 .5-.1 .4,.5 .4-.1 .4,.2 .4-.4 .4,.1 .5-.1 .4,.1 .4,.2 .4,0 .4-.2 .5-.3 .4,.1 .4,.1 .4,.3 .4,0 .4,.1 .5,0 .4-.1 .4-.3 .4-.4 .4-.2 .4,.4 .5,.1 .4,.3 .4-.1 .4,.3 .4,0 .5-.1 .4-.3 .4-.1 .4,.1 .4-.1 .4,0 .5,.2 .4-.2" stroke="#e54a50" stroke-width="1.5" fill="none" stroke-linejoin="round" />
<path d="M22.5,203.1l.4,.1 .4,.1 .5,.1 .4-.4 .4,.2 .4-.3 .4,.4 .4-.2 .5-.3 .4-.3 .4,0 .4,.7 .4,.2 .4,0 .5-.5 .4,.1 .4,.3 .4,.2 .4-.3 .4-.6 .5,.2 .4,.5 .4,.3 .4,.1 .4-.4 .5-.3 .4,0 .4-.3 .4,.1 .4-.2 .4,.4 .5,.1 .4,0 .4-.3 .4-.3 .4-.1 .4,0 .5,0 .4-.2 .4,0 .4-.1 .4-.1 .5-.2 .4,.3 .4,.3 .4,.6 .4-.3 .4-.2 .5-.2 .4,.2 .4,0 .4,.1 .4-.1 .4-.2 .5-.6 .4,.1 .4,.1 .4-.1 .4-.3 .5-.1 .4,.2 .4-.1 .4-.1 .4-.2 .4-.4 .5-.4 .4-.2 .4,0 .4-.5 .4-.3 .4,0 .5,.5 .4-.4 .4,.3 .4-.4 .4,.6 .4-.2 .5,.5 .4,.1 .4-.3 .4,.2 .4,0 .5,0 .4,.5 .4,.4 .4,.9 .4-.5 .4,.2 .5,.1 .4,.5 .4-.2 .4-.4 .4-.2 .4-.3 .5-.1 .4,.1 .4,.2 .4,.3 .4-.1 .4,.5 .5,.3 .4,0 .4-.1 .4-.4 .4,0 .5-.1 .4-.1 .4,0 .4-.4 .4,.3 .4,.3 .5,0 .4,.1 .4-.5 .4-.1 .4-.3 .4,.4 .5,.6 .4,.2 .4-.4 .4-.3 .4-.2 .5,.2 .4-.2 .4,0 .4-.2 .4-.3 .4-.3 .5-.6 .4-.3 .4-.4 .4-.1 .4-.4 .4-.1 .5-.3 .4-.5 .4-.5 .4-.5 .4,.2 .4,.4 .5,.3 .4,0 .4,.2 .4-.1 .4,.7 .5,0 .4,.1 .4,.6 .4,.7 .4,.5 .4-.2 .5,0 .4,.3 .4-.1 .4,0 .4,.2 .4,.3 .5,.4 .4,0 .4,.4 .4-.4 .4,.1 .5-.7 .4-.1 .4,.1 .4,.2 .4,.2 .4-.2 .5-.1 .4-.2 .4-.1 .4,0 .4,.1 .4,.1 .5-.1 .4-.3 .4-.2 .4,0 .4,.2 .4,.3 .5,.1 .4-.3 .4-.5 .4-.4 .4-.1 .5-.2 .4,.1 .4,.2 .4,.3 .4,.1 .4,.2 .5-.3 .4,.4 .4,.3 .4,.6 .4-.1 .4,.2 .5-.3 .4,.1 .4,.2 .4-.1 .4,.1 .5-.1 .4,.3 .4-.1 .4,0 .4-.2 .4,0 .5-.4 .4,0 .4-.2 .4,.2 .4,.1 .4,.2 .5-.2 .4,.3 .4,.1 .4,.4 .4-.5 .5-.2 .4,0 .4,.1 .4-.3 .4,.1 .4,.4 .5-.1 .4,.1 .4-.5 .4,.3 .4,.1 .4-.3 .5,.1 .4,0 .4,.1 .4-.1 .4-.2 .4-.1 .5,.4 .4-.2 .4,.2 .4-.5 .4,.3 .5-.2 .4-.3 .4-.1 .4-.2 .4,.4 .4,.3 .5,0 .4-.2 .4,0 .4,.2 .4,.5 .4-.2 .5-.2 .4-.3 .4,.1 .4,.3 .4,0 .4-.2 .5-.2 .4-.1 .4,.4 .4,0 .4-.1 .5-.5 .4,.1 .4,.3 .4,.1 .4-.3 .4-.1 .5-.2 .4-.2 .4,.2 .4,.2 .4,.2 .4,.1 .5,.2 .4-.1 .4,.2 .4,0 .4-.1 .5-.3 .4,0 .4-.1 .4-.1 .4-.1 .4-.2 .5-.1 .4,0 .4,.2 .4-.2 .4-.1 .4,.1 .5,.3 .4-.2 .4,.2 .4-.3 .4,.2 .5,.1 .4,.1 .4-.1 .4-.1 .4,.1 .4,0 .5-.1 .4,.2 .4-.3 .4-.2 .4-.4 .4,.2 .5,0 .4,0 .4,.2 .4,0 .4,.2 .4,0 .5,0 .4,0 .4,.2 .4,.2 .4-.2 .5-.3 .4-.2 .4,.1 .4,.2 .4,0 .4-.1 .5,0 .4,.1 .4,0 .4-.4 .4,0 .4-.1 .5,.5 .4,0 .4,0 .4-.4 .4,0 .4,.2 .5,.1 .4,.4 .4-.1 .4,.2 .4-.3 .5,0 .4-.5 .4-.1 .4-.1 .4,.2 .4-.4 .5,.2 .4-.1 .4,.3 .4-.2 .4,0 .4,.1 .5-.2 .4-.1 .4-.1 .4,.3 .4,0 .5-.2 .4-.2 .4,.1 .4,.2 .4-.1 .4,.3 .5-.2 .4,.1 .4-.3 .4-.5 .4-.3 .4-.5 .5-.1 .4,0 .4-.1 .4-.3 .4-.6 .5-.3 .4-.7 .4-.2 .4-.6 .4-.4 .4-.5 .5-.4 .4-.1 .4,.3 .4,.3 .4,0 .4,.1 .5,.1 .4,.7 .4,.2 .4,.8 .4,.2 .4,.6 .5,.2 .4,.6 .4,.4 .4,.3 .4,0 .5,.3 .4,.1 .4,.1 .4,.1 .4-.2 .4,0 .5-.4 .4-.1 .4,.1 .4-.1 .4,0 .4-.1 .5,.1 .4-.7 .4-.2 .4-.2 .4,0 .4-.3 .5-.9 .4-.2 .4-.5 .4,0 .4-.9 .5-.3 .4-.7 .4,0 .4-.7 .4-.4 .4,0 .5,0 .4,0 .4-.2 .4,.3 .4,.7 .4,.8 .5,.6 .4,0 .4,.4 .4,.8 .4,.8 .5,.4 .4,.1 .4,.1 .4-.1 .4,.1 .4,.4 .5,.3 .4,.7 .4,0 .4,.1 .4-.2 .4,.4 .5,.2 .4-.3 .4-.2 .4,.2 .4,.1 .5-.2 .4,0 .4,.1 .4,0 .4-.3 .4-.1 .5,.2 .4,.1 .4,.3 .4,.1 .4-.3 .4-.1 .5,0 .4,.4 .4,.1 .4-.3 .4-.2 .4,0 .5-.1 .4-.2 .4,0 .4,0 .4,.4 .5-.5 .4-.1 .4-.1 .4,.2 .4,.2 .4-.2 .5,.2 .4-.3 .4,.2 .4,0 .4,.2 .4-.1 .5,.2 .4-.1 .4,.3 .4-.3 .4,.4 .4-.2 .5,.2 .4-.4 .4,.2 .4-.3 .4,.1 .5,.1 .4,.2 .4,.1 .4,0 .4,0 .4-.2 .5-.2 .4-.3 .4,.3 .4,.1 .4,.1 .4-.3 .5-.2 .4,0 .4,0 .4,0 .4-.3 .5,0 .4-.1 .4,.2 .4,.1 .4-.1 .4,.1 .5-.1 .4,.1 .4-.4 .4-.2 .4,.2 .4,0 .5,.2 .4,.1 .4,.3 .4,.2 .4-.3 .5-.4 .4-.1 .4,.1 .4,.3 .4-.2 .4,.1 .5-.1 .4,.1 .4-.2 .4-.1 .4-.1 .4-.1 .5,0 .4-.2 .4,.2 .4-.2 .4,.2 .4-.4 .5,0 .4,.1 .4-.1 .4-.2 .4-.6 .5,0 .4,.5 .4,.1 .4,.2 .4-.6 .4,0 .5-.1 .4,.5 .4-.2 .4-.1 .4-.3 .4,0 .5-.1 .4-.1 .4-.3 .4,.1 .4,.2 .4,.3 .5-.3 .4,.2 .4,.1 .4,.5 .4,0 .5-.1 .4,0 .4-.3 .4,.2 .4-.2 .4,.1 .5,.3 .4,0 .4,0 .4-.2 .4,.1 .4-.1 .5,0 .4,0 .4,.1 .4,.1 .4-.1 .5,.5 .4,.3 .4,.2 .4-.3 .4,.1 .4,0 .5,.1 .4-.3 .4,0 .4,.3 .4-.1 .4,.3 .5-.3 .4,.1 .4-.5 .4,.5 .4-.2 .4,.2 .5-.2 .4,.3 .4-.2 .4-.2 .4-.4 .5,.2 .4,0 .4,.2 .4-.1 .4-.1 .4,0 .5,.2 .4,.3 .4-.2 .4-.1 .4-.4 .4,.4 .5-.1 .4,0 .4-.2 .4,.3 .4,0 .5,.1 .4,0 .4-.1 .4-.2 .4,0 .4,.1 .5,.2 .4,.1" stroke="#5a5a5a" stroke-width="1.5" fill="none" stroke-linejoin="round" />
<path d="M22.5,200.6l.4,0 .4,.5 .5-.1 .4-.6 .4-.4 .4,0 .4-.2 .4,.1 .5-.2 .4,0 .4,.2 .4,0 .4,.2 .4-.1 .5,.2 .4-.1 .4-.1 .4-.4 .4,.3 .4,.1 .5-.1 .4-.4 .4,0 .4,.2 .4,.3 .5,.1 .4-.3 .4-.4 .4-.6 .4,.1 .4,0 .5,.8 .4-.1 .4-.5 .4-.8 .4,0 .4,.1 .5-.1 .4-.2 .4,.3 .4,.1 .4-.2 .5,0 .4-.1 .4,0 .4-.5 .4-.1 .4,.1 .5-.1 .4,0 .4,0 .4,.1 .4,0 .4-.5 .5,.2 .4,0 .4,.1 .4-.8 .4-.6 .5-.1 .4,.5 .4,0 .4-.3 .4-.8 .4-.4 .5-.6 .4-.1 .4-.6 .4-.2 .4-.1 .4-.2 .5-.7 .4-.3 .4,0 .4-.2 .4,.1 .4,.3 .5,.6 .4,.4 .4,.3 .4,.2 .4-.2 .5,0 .4,.2 .4,.3 .4,.3 .4,.2 .4,.4 .5,.4 .4,.4 .4-.1 .4-.1 .4,.2 .4-.1 .5,.3 .4-.4 .4-.1 .4-.6 .4,.1 .4,.1 .5,.5 .4,0 .4-.2 .4-.4 .4,0 .5-.3 .4,0 .4-.2 .4,.2 .4,0 .4,.1 .5-.3 .4-.3 .4,.4 .4-.1 .4,.5 .4-.3 .5,.1 .4-.6 .4-.1 .4,.3 .4-.1 .5-.5 .4-.3 .4-.1 .4,.1 .4-.7 .4-.4 .5-1.3 .4-.1 .4-1 .4-1 .4-1.3 .4-.8 .5-.1 .4-1 .4-.8 .4-.9 .4,0 .4-.2 .5,.2 .4,.1 .4,.6 .4,.6 .4,.7 .5,.7 .4,1.1 .4,.6 .4,1.1 .4,.6 .4,.9 .5,.1 .4,.2 .4,.4 .4,.6 .4,.3 .4,.3 .5-.1 .4,0 .4-.4 .4,.3 .4,0 .5,.2 .4,.1 .4,.1 .4-.5 .4-.3 .4-.5 .5,.7 .4,.4 .4,.1 .4-.3 .4-.6 .4,0 .5,0 .4,.1 .4-.4 .4,0 .4-.6 .4,.1 .5-.2 .4,.2 .4-.3 .4-.5 .4-.3 .5,.2 .4,.4 .4-.1 .4,.1 .4,0 .4,.5 .5,.1 .4,.2 .4,.1 .4,.2 .4-.1 .4,.3 .5-.5 .4,.2 .4-.4 .4,.4 .4-.4 .5-.3 .4-.1 .4,.1 .4,.5 .4-.3 .4,.4 .5,0 .4,.2 .4-.4 .4-.3 .4-.2 .4,0 .5,.1 .4,.2 .4-.2 .4-.1 .4-.2 .5,.3 .4,.4 .4,.3 .4-.2 .4-.7 .4-.4 .5-.4 .4,.5 .4,.1 .4,.3 .4-.3 .4,.1 .5,.2 .4,0 .4-.1 .4-.5 .4,.3 .4-.2 .5-.1 .4-.5 .4-.1 .4,.3 .4,.7 .5,.1 .4,0 .4-.5 .4,0 .4-.3 .4-.1 .5,0 .4,.4 .4-.4 .4,.2 .4-.4 .4,.3 .5-.1 .4,.1 .4,.1 .4,0 .4-.1 .4-.5 .5,.2 .4,.3 .4,.6 .4-.2 .4-.7 .5-.3 .4-.4 .4,.1 .4,.2 .4,0 .4,0 .5-.6 .4,.1 .4,0 .4,.2 .4-.1 .4,.3 .5-.1 .4-.1 .4-.6 .4,.5 .4,.5 .5,.2 .4-.4 .4-.5 .4,.1 .4-.1 .4,.4 .5,0 .4,.2 .4-.2 .4-.2 .4,.2 .4-.3 .5,0 .4-.4 .4,0 .4-.2 .4,0 .5-.1 .4-.4 .4-.2 .4,.5 .4,.6 .4,.3 .5-.1 .4-.5 .4-.2 .4-.2 .4-.2 .4-.2 .5-.1 .4,.1 .4,0 .4,0 .4,0 .4,.3 .5-.1 .4,0 .4-.2 .4-.1 .4-.1 .5-.2 .4,.1 .4,.3 .4,.2 .4-.5 .4-.2 .5-.4 .4,.3 .4-.1 .4,0 .4,0 .4,.1 .5-.2 .4,.1 .4,.1 .4,0 .4-.1 .4-.5 .5,.3 .4-.3 .4-.1 .4-.3 .4-.2 .5,.1 .4,0 .4,.1 .4-.2 .4-.9 .4,0 .5-.4 .4,.7 .4,.1 .4,.4 .4-.3 .4-.3 .5-.2 .4-.1 .4-.2 .4-.3 .4,.3 .5,0 .4,.2 .4-.4 .4-.1 .4-.4 .4,0 .5,0 .4-.1 .4-.4 .4-.6 .4,0 .4-.3 .5-.3 .4-.5 .4-.3 .4-.4 .4-1.1 .5-.5 .4-.8 .4-.7 .4-1.3 .4-1.2 .4-1.1 .5-.5 .4-.1 .4,0 .4-.2 .4-.1 .4,.5 .5,.6 .4,1.1 .4,1 .4,1.6 .4,.7 .4,.2 .5-.1 .4-.4 .4,.4 .4,.5 .4,1.1 .5,.5 .4,.3 .4,0 .4,0 .4,.3 .4-.3 .5-.2 .4-.6 .4,.5 .4,.2 .4,.3 .4-.7 .5-.5 .4-.5 .4,0 .4-.5 .4-.3 .4-.7 .5-.4 .4-.8 .4-.7 .4-1 .4-1 .5-.7 .4-.9 .4-.7 .4-1 .4-.8 .4-.2 .5-.2 .4,.6 .4,.3 .4,.4 .4,.5 .4,.7 .5,1.1 .4,.9 .4,1.1 .4,1 .4,1.2 .5,.5 .4,.8 .4,.3 .4,.6 .4,.5 .4,.6 .5,.2 .4,0 .4,.2 .4,.4 .4,.3 .4,0 .5,.1 .4,.7 .4,.2 .4,0 .4-.3 .5-.4 .4,0 .4-.2 .4,.9 .4,0 .4,0 .5-.3 .4,.1 .4,.1 .4,.1 .4-.3 .4,.1 .5,.2 .4,.7 .4,.2 .4-.1 .4-.1 .4,.1 .5,.3 .4,0 .4-.2 .4-.2 .4-.2 .5,.1 .4,0 .4-.1 .4-.5 .4-.2 .4-.2 .5,.5 .4,.1 .4,.1 .4,.2 .4,.2 .4,.3 .5,.2 .4,.3 .4-.3 .4-.1 .4-.3 .4,.4 .5,0 .4-.2 .4-.2 .4-.4 .4,.1 .5,.1 .4-.1 .4-.1 .4,.2 .4,.2 .4,.3 .5-.4 .4-.2 .4-.2 .4,.4 .4,.1 .4,.3 .5,0 .4,.1 .4-.2 .4,.2 .4-.1 .5,.2 .4-.1 .4,.1 .4-.2 .4,0 .4,.2 .5,.1 .4,0 .4-.1 .4-.2 .4,.2 .4-.3 .5-.4 .4-.1 .4,0 .4,.1 .4-.3 .5-.3 .4,.6 .4,.1 .4-.3 .4-.3 .4-.3 .5,.6 .4-.4 .4-.5 .4-.5 .4,0 .4,.3 .5-.6 .4,0 .4,.3 .4-.1 .4,0 .4-.6 .5,.7 .4-.3 .4-.1 .4-.4 .4-.1 .5-.2 .4-.3 .4-.3 .4-.4 .4,.2 .4-.1 .5,.1 .4-.4 .4-.3 .4-.2 .4-.2 .4,.2 .5,.2 .4,.4 .4,0 .4,.2 .4-.1 .4,0 .5,.1 .4-.2 .4,.5 .4,.2 .4,.4 .5-.3 .4,.1 .4,0 .4,.6 .4,.1 .4,.1 .5,.3 .4,.3 .4,.2 .4,.2 .4,0 .4,.2 .5,0 .4,0 .4,.1 .4,.1 .4,.6 .5,.5 .4,.1 .4,.2 .4-.2 .4,.2 .4,0 .5,.1 .4,.5 .4,0 .4-.2 .4-.2 .4,0 .5,.2 .4-.8 .4,.4 .4,.3 .4,.8 .4,0 .5,.2 .4-.1 .4,0 .4-.4 .4,0 .5,0 .4,.3 .4-.2 .4-.1 .4-.1 .4,.2 .5,0 .4,0 .4-.1 .4-.3 .4,.4 .4,.1 .5,.2 .4-.2 .4,.5 .4-.3 .4-.2 .5,0 .4,.4 .4-.1 .4-.2 .4,.1 .4,.3 .5,.3 .4-.3" stroke="#1fb3b6" stroke-width="1.5" fill="none" stroke-linejoin="round" />
<path d="M22.5,184l.4-.4 .4,0 .5-.2 .4,0 .4-.1 .4,.1 .4,.1 .4,0 .5-.4 .4,.1 .4-.1 .4,.3 .4,.2 .4-.3 .5-.4 .4-.2 .4,.3 .4,.7 .4,0 .4-.3 .5-.3 .4-.3 .4-.2 .4,.4 .4,.2 .5,.4 .4-.5 .4,.3 .4-.1 .4,.1 .4-.6 .5-.4 .4,0 .4,.5 .4,.3 .4-.3 .4-.3 .5-.2 .4,.2 .4,0 .4,.2 .4-.3 .5,.1 .4-.1 .4,.1 .4-.5 .4-.1 .4,.2 .5,.1 .4-.2 .4-.3 .4,.2 .4,0 .4-.6 .5-.2 .4-.5 .4,0 .4-.1 .4,0 .5,.1 .4,.3 .4,0 .4-.3 .4-1.1 .4-.5 .5-.6 .4-.2 .4-.4 .4-.2 .4-.1 .4-.2 .5-.3 .4-.4 .4,.2 .4,.3 .4,.5 .4,.2 .5,.1 .4,.1 .4-.3 .4,.7 .4,.3 .5,.4 .4-.5 .4,.1 .4-.2 .4,.2 .4,.2 .5,.5 .4,.2 .4,.1 .4-.1 .4,.2 .4-.3 .5,.1 .4,0 .4-.1 .4,.6 .4-.2 .4,.5 .5-.6 .4,.2 .4-.7 .4-.1 .4-.1 .5,.3 .4,0 .4,.1 .4-.3 .4,.2 .4-.3 .5,.2 .4-.5 .4,.2 .4-.1 .4,.2 .4-.7 .5-.6 .4-.3 .4,.2 .4,0 .4-.1 .5-.5 .4,.1 .4-.3 .4-.4 .4-.6 .4-.4 .5-.6 .4-1.2 .4-1.3 .4-1.2 .4-1 .4-.9 .5-.8 .4-.9 .4-.9 .4-.9 .4-.8 .4-.7 .5-.1 .4,.5 .4,.9 .4,.9 .4,1 .5,.9 .4,1 .4,1.2 .4,1 .4,.9 .4,.6 .5,.5 .4,.4 .4,.8 .4,.4 .4,.5 .4,0 .5,.6 .4-.3 .4,.2 .4-.2 .4,.1 .5-.4 .4,.1 .4,0 .4,0 .4,.1 .4-.2 .5-.2 .4-.2 .4,.2 .4,.3 .4-.5 .4,0 .5-.3 .4,.4 .4-.6 .4-.2 .4-.6 .4-.2 .5-.3 .4,.1 .4,.1 .4,0 .4-.1 .5,.3 .4,.3 .4-.2 .4-.1 .4,.1 .4,.1 .5,0 .4,.1 .4,.6 .4,0 .4-.6 .4-.5 .5,.1 .4,.6 .4,.5 .4,.2 .4-.1 .5,0 .4-.2 .4,.2 .4-.2 .4,.8 .4,.1 .5,0 .4-.7 .4-.3 .4-.2 .4,.1 .4-.1 .5,.5 .4,0 .4,0 .4-.4 .4-.2 .5,.1 .4,.2 .4,.5 .4-.2 .4,.3 .4-.2 .5,.1 .4-.7 .4-.3 .4,.1 .4,.7 .4,.3 .5-.1 .4-.3 .4-.2 .4-.3 .4,.3 .4,.1 .5,0 .4-.2 .4,0 .4,.1 .4-.2 .5,.2 .4,0 .4,.1 .4,0 .4,.1 .4-.1 .5-.2 .4-.4 .4-.2 .4-.6 .4,.5 .4-.3 .5,.5 .4-.4 .4,.1 .4-.2 .4,.2 .4,.3 .5,.4 .4,0 .4,0 .4-.5 .4,0 .5-.2 .4,0 .4-.2 .4,0 .4,.1 .4,0 .5-.1 .4-.2 .4,0 .4-.2 .4-.1 .4,.2 .5-.3 .4,0 .4-.2 .4,.2 .4,.6 .5-.7 .4,.6 .4-.3 .4,.7 .4-.4 .4-.3 .5-.4 .4,.2 .4-.3 .4,.1 .4,0 .4-.1 .5,0 .4-.2 .4-.1 .4,.3 .4-.1 .5,0 .4-.3 .4-.3 .4,.2 .4-.1 .4,0 .5,.3 .4-.2 .4,.3 .4-.2 .4,.2 .4-.3 .5-.2 .4-.4 .4,.2 .4,.2 .4,.6 .4,.1 .5-.2 .4-.5 .4-.2 .4-.1 .4,.3 .5,0 .4-.2 .4-.4 .4,0 .4,.2 .4,0 .5-.1 .4-.2 .4,0 .4-.4 .4-.4 .4,.2 .5-.2 .4,.2 .4-.4 .4,.3 .4,0 .4,.1 .5-.6 .4-.1 .4-.3 .4,.3 .4,0 .5,.2 .4,.2 .4,0 .4,0 .4-.5 .4-.2 .5-.1 .4,.1 .4-.3 .4-.1 .4-.2 .4,.3 .5-.2 .4-.5 .4-.5 .4,.1 .4,.2 .5-.2 .4-.4 .4-.3 .4-.2 .4-.7 .4-.4 .5,.2 .4,.2 .4,0 .4-.2 .4-.2 .4-.8 .5-.5 .4-.8 .4-.4 .4-.7 .4-.6 .5-.6 .4-1.1 .4-1 .4-.4 .4-.8 .4-1.1 .5-1 .4-.1 .4,.2 .4-.2 .4,.4 .4,.2 .5,.7 .4,.4 .4,.8 .4,1.2 .4,.9 .4,.7 .5,.6 .4,.4 .4,.6 .4-.2 .4,0 .5,.2 .4,.2 .4,.3 .4-.1 .4,.2 .4,0 .5,.3 .4-.5 .4,.2 .4,0 .4,.4 .4-.4 .5-.6 .4,0 .4-.7 .4-.6 .4-1 .4-.3 .5-.8 .4-.7 .4-1.2 .4-1 .4-1.4 .5-1.1 .4-1.1 .4-1 .4-1 .4-.3 .4-.5 .5-.1 .4,.1 .4,.3 .4,1.2 .4,.7 .4,1.3 .5,1 .4,1.1 .4,1.1 .4,1.4 .4,.7 .5,1 .4,.5 .4,1 .4,.3 .4,.9 .4,.6 .5,1.1 .4,0 .4,.4 .4-.1 .4,.3 .4,.3 .5,.2 .4,0 .4-.1 .4,.3 .4,.2 .5-.2 .4-.3 .4,0 .4,.1 .4,.1 .4-.2 .5,.1 .4,.2 .4,.4 .4,.1 .4,.4 .4-.2 .5,.6 .4-.1 .4,.1 .4-.7 .4-.7 .4-.2 .5,.2 .4,1 .4-.3 .4,.4 .4-.4 .5,.4 .4-.9 .4,.1 .4-.2 .4,.7 .4,0 .5-.2 .4,.1 .4,.1 .4,.4 .4,0 .4,.1 .5-.1 .4-.5 .4-.4 .4,.2 .4,.4 .4,.3 .5-.3 .4-.1 .4,0 .4,0 .4-.2 .5,.5 .4,.1 .4,0 .4-.7 .4-.2 .4,.3 .5,.4 .4,.1 .4-.1 .4-.2 .4-.2 .4,.2 .5,.2 .4,.7 .4-.4 .4-.1 .4-.4 .5,.1 .4-.2 .4-.4 .4,.1 .4,.3 .4,.1 .5,.2 .4,.1 .4,.1 .4-.2 .4-.3 .4,0 .5,.1 .4,.1 .4-.1 .4-.3 .4-.3 .5-.3 .4,.1 .4,.3 .4,.5 .4-.2 .4,0 .5-.2 .4,.1 .4-.4 .4-.4 .4-.3 .4-.2 .5,0 .4,.1 .4-.1 .4,.2 .4-.5 .4-.1 .5-.6 .4-.3 .4,0 .4-.2 .4,.3 .5-.1 .4-.1 .4-.6 .4-.6 .4-.3 .4-.2 .5,.3 .4-.2 .4,.4 .4-.1 .4,.1 .4-.3 .5-.2 .4,0 .4,.2 .4-.2 .4,.1 .4,.4 .5,.3 .4-.1 .4-.5 .4-.1 .4,.5 .5,.3 .4,.5 .4,.3 .4,.7 .4-.1 .4,0 .5-.2 .4,.4 .4,0 .4,.1 .4,.3 .4,.2 .5,.2 .4,0 .4,.2 .4,.1 .4-.1 .5,.3 .4,.1 .4,0 .4-.5 .4-.1 .4-.1 .5,.2 .4,.2 .4-.2 .4,0 .4,.1 .4,.5 .5-.2 .4,.2 .4-.2 .4,0 .4-.5 .4,.2 .5,.4 .4,.4 .4,.1 .4-.4 .4-.4 .5-.2 .4,.2 .4-.2 .4,.2 .4,.1 .4,.3 .5,.1 .4-.3 .4-.3 .4-.2 .4,.4 .4,.5 .5,0 .4,0 .4-.2 .4,.4 .4-.2 .5,0 .4-.2 .4-.2 .4-.1 .4-.5 .4,.2 .5,.2 .4,.3" stroke="#7c5256" stroke-width="1.5" fill="none" stroke-linejoin="round" />
<path d="M22.5,189.3l.4-.1 .4-.1 .5,.3 .4,.2 .4-.7 .4-.5 .4,.1 .4,.3 .5,.4 .4-.5 .4,.1 .4-.5 .4,.5 .4-.2 .5,.3 .4-.5 .4-.3 .4-.5 .4-.1 .4,.1 .5,.4 .4,.3 .4,.3 .4-.6 .4-.3 .5-.3 .4,.5 .4,0 .4,.2 .4-.4 .4-.6 .5-.3 .4-.2 .4,.4 .4,.2 .4,0 .4-.3 .5,.3 .4-.1 .4-.2 .4-.4 .4-.1 .5,.1 .4,.1 .4,.4 .4-.4 .4-.2 .4-.4 .5,.2 .4-.1 .4-.2 .4,.1 .4-.2 .4-.1 .5-.3 .4-.1 .4-.2 .4,0 .4-.3 .5-.2 .4-.5 .4-.5 .4-.6 .4-.6 .4-.1 .5-.4 .4-.4 .4-.4 .4-.2 .4-.5 .4,0 .5-.4 .4,.1 .4-.3 .4,0 .4-.1 .4,.3 .5-.1 .4,.3 .4-.1 .4,.2 .4,.2 .5,.1 .4,1 .4,0 .4,0 .4-.2 .4,.3 .5-.2 .4,0 .4,0 .4,.4 .4,.1 .4,.2 .5,0 .4-.3 .4-.5 .4-.2 .4-.1 .4,.1 .5,0 .4-.4 .4,.3 .4,.4 .4,0 .5-.4 .4-.6 .4,.2 .4-.1 .4-.1 .4-.4 .5-.2 .4-.4 .4,.1 .4-.4 .4,.2 .4-.3 .5,.2 .4-.4 .4,0 .4-.7 .4-.2 .5-.6 .4-.2 .4-.7 .4-.3 .4-1.2 .4-.8 .5-1.5 .4-.5 .4-1.7 .4-1.3 .4-2.1 .4-.8 .5-1.6 .4-1.2 .4-1.8 .4-1.3 .4-.8 .4-.1 .5,.5 .4,.8 .4,.7 .4,1.2 .4,1.1 .5,1.5 .4,1.8 .4,1.4 .4,1.2 .4,.5 .4,.7 .5,1 .4,.6 .4,.4 .4,.1 .4,.5 .4,.8 .5-.3 .4,.3 .4-.2 .4,.3 .4-.3 .5,0 .4,.5 .4-.1 .4-.5 .4-.3 .4,.4 .5,.2 .4-.9 .4-.2 .4-.1 .4,.5 .4-.5 .5-.3 .4-.6 .4,.1 .4,.1 .4-.6 .4-.8 .5-.2 .4,.2 .4-.3 .4-.5 .4,0 .5,.2 .4-.1 .4,0 .4,0 .4,.3 .4,0 .5,.1 .4,.1 .4,.5 .4,.3 .4,.1 .4-.1 .5,.1 .4,.3 .4,0 .4,.3 .4,.1 .5-.1 .4-.5 .4-.1 .4,.1 .4,0 .4-.5 .5-.6 .4,.1 .4,.4 .4,.5 .4-.5 .4,0 .5-.3 .4,.3 .4-.2 .4-.2 .4-.3 .5-.6 .4-.1 .4-.3 .4,.4 .4,.2 .4,.5 .5-.1 .4-.3 .4-.2 .4-.2 .4,.1 .4-.1 .5-.2 .4-.2 .4-.1 .4,0 .4,.1 .4,.3 .5-.2 .4-.3 .4-.9 .4-.1 .4-.1 .5-.1 .4,0 .4,.1 .4,.2 .4-.3 .4-.4 .5,.2 .4-.3 .4,0 .4,.1 .4,.2 .4,.1 .5-.6 .4-.3 .4-.3 .4,0 .4-.1 .4,0 .5,0 .4,.3 .4-.5 .4-.6 .4-.7 .5,.4 .4,.2 .4,.4 .4-.6 .4-.5 .4-.2 .5,0 .4,0 .4-.2 .4,0 .4,.1 .4-.4 .5-.7 .4-.3 .4,.1 .4,.3 .4-.2 .5-.4 .4,.1 .4-.1 .4,0 .4-.5 .4-.2 .5-.2 .4-.2 .4-.2 .4-.3 .4,.3 .4,.1 .5,.3 .4-.5 .4-.2 .4-.8 .4-.3 .5,.2 .4,.2 .4,.1 .4-.3 .4-.2 .4-.4 .5-.3 .4,0 .4,0 .4-.1 .4-.3 .4-.4 .5-.3 .4-.4 .4,.2 .4-.6 .4,0 .4,.1 .5,.2 .4-.3 .4-.7 .4,.2 .4,0 .5,0 .4-.5 .4-.2 .4,.4 .4-.2 .4-.2 .5-.9 .4-.1 .4,0 .4,.1 .4-.3 .4-.5 .5-.3 .4-.2 .4,0 .4-.6 .4-.3 .4-.2 .5,.1 .4-.4 .4-.1 .4-.1 .4-.2 .5-.3 .4-.4 .4,.2 .4-.6 .4-.1 .4-.8 .5,.2 .4,.1 .4,0 .4-.1 .4-.6 .4,.3 .5-.1 .4,.2 .4-.9 .4-.7 .4-.2 .5,0 .4-.1 .4-.4 .4-.5 .4-.1 .4-.4 .5,.1 .4-.7 .4-.3 .4-.8 .4-.2 .4-.4 .5-.4 .4-.9 .4-1.1 .4-1.8 .4-1.1 .5-1.5 .4-.8 .4-1.7 .4-1.7 .4-1.6 .4-1.1 .5-.5 .4-.8 .4-.7 .4,0 .4,.4 .4,1.4 .5,.7 .4,1.1 .4,.9 .4,1.5 .4,.9 .4,1.1 .5,.5 .4,1.3 .4,.3 .4,.2 .4,.2 .5,.6 .4,1 .4,.4 .4,.1 .4-.4 .4-.5 .5-.2 .4-.2 .4,0 .4-.6 .4,.1 .4-.2 .5,.8 .4-.2 .4-.5 .4-1 .4-1 .4-.7 .5-1.4 .4-.3 .4-.8 .4-.9 .4-1.5 .5-1.1 .4-.8 .4-1 .4-1.3 .4-.9 .4-.5 .5,.4 .4,.2 .4,.4 .4,1 .4,1.2 .4,1.7 .5,1.3 .4,1.8 .4,1.5 .4,1.4 .4,1.2 .5,.6 .4,.8 .4,.9 .4,1.3 .4,1.2 .4,1 .5,.3 .4,.2 .4,.2 .4,.3 .4,.2 .4-.1 .5,.4 .4,0 .4,.6 .4-.4 .4,.6 .5-.1 .4,.6 .4-.5 .4,.3 .4,.2 .4,.2 .5,.2 .4-.2 .4-.3 .4,.1 .4,.3 .4,.3 .5,.1 .4-.3 .4,.1 .4-.1 .4,.1 .4,.7 .5-.3 .4,.3 .4-.2 .4-.1 .4-.5 .5-.1 .4,.4 .4,.4 .4,.2 .4,0 .4-.3 .5-.8 .4,.1 .4,0 .4,.7 .4,0 .4-.1 .5,.3 .4,.1 .4,.5 .4-.6 .4-.4 .4-.3 .5,.2 .4-.2 .4,.2 .4,.1 .4,.3 .5-.3 .4,.2 .4-.1 .4-.5 .4-.4 .4-.1 .5,.7 .4,0 .4-.1 .4-.4 .4,.1 .4-.1 .5-.1 .4-.3 .4,.1 .4-.1 .4-.3 .5-.1 .4-.1 .4,.3 .4-.2 .4,.3 .4,0 .5-.3 .4-.4 .4-.6 .4,.3 .4,0 .4,.4 .5-.6 .4-.7 .4-.1 .4-.1 .4,.3 .5-.4 .4-.1 .4-.1 .4-.5 .4,0 .4-.4 .5,.1 .4,0 .4,.1 .4-.1 .4-.8 .4-.3 .5,.1 .4,.3 .4-.4 .4-.3 .4-.3 .4,.3 .5,.3 .4,.5 .4-.2 .4,0 .4-.1 .5,.2 .4,0 .4,.4 .4,.3 .4,.4 .4-.4 .5,.2 .4-.4 .4,.3 .4,.4 .4,1.1 .4,.5 .5,.1 .4-.2 .4-.1 .4,0 .4,.4 .4,.2 .5,.5 .4,0 .4,0 .4-.1 .4,.2 .5,.4 .4,.8 .4,.7 .4,.7 .4,.3 .4,.7 .5,.2 .4,.5 .4,.2 .4,.4 .4,.3 .4,0 .5,.2 .4,.3 .4,.8 .4,.5 .4,.4 .5,.5 .4,.7 .4,.6 .4,.5 .4,0 .4,.2 .5,.1 .4,.5 .4,.3 .4,.6 .4,.4 .4,.3 .5,.1 .4,.8 .4,.6 .4,.5 .4-.2 .4,.2 .5,0 .4,.4 .4,.8 .4,.2 .4,.7 .5-.2 .4,.5 .4,.2 .4,.7 .4,.5 .4-.2 .5,.3 .4,.1 .4,1.2 .4,.3 .4,.6 .4-.4 .5,.3 .4,0 .4,.8 .4,.4 .4,.8 .5,0 .4,.3 .4,.5 .4,.3 .4,.1 .4,.1 .5,.3 .4,.7" stroke="#d29d22" stroke-width="1.5" fill="none" stroke-linejoin="round" />
<path d="M22.5,174.3l.4-.4 .4,.4 .5,.1 .4,0 .4-.4 .4-.5 .4,.1 .4,.2 .5-.1 .4,.1 .4-.6 .4,.1 .4-.6 .4,.7 .5,.1 .4,.4 .4-.6 .4,.1 .4-.5 .4,.1 .5,.2 .4,.3 .4,0 .4-.4 .4-.1 .5-.1 .4,0 .4,.2 .4,0 .4-.3 .4,0 .5-.1 .4,.3 .4,0 .4-.1 .4-.8 .4-.1 .5,.2 .4,.2 .4-.6 .4-.4 .4,.3 .5,.1 .4,0 .4-.2 .4,.4 .4,0 .4-.1 .5-.5 .4,.3 .4,.1 .4,0 .4-.8 .4-.5 .5,0 .4-.1 .4,.1 .4-.3 .4-.1 .5-.4 .4-.4 .4-.6 .4-.7 .4-.2 .4-.7 .5-.6 .4-1 .4-.4 .4-.8 .4-1.1 .4-.4 .5-.1 .4,.2 .4-.3 .4-.1 .4-.3 .4,.3 .5,0 .4,.6 .4,.6 .4,.8 .4,.2 .5,.5 .4,.1 .4,.3 .4,0 .4,.1 .4,.3 .5,.3 .4,.3 .4,.2 .4-.1 .4,0 .4-.4 .5,0 .4-.2 .4,.1 .4-.1 .4,.1 .4-.4 .5-.4 .4-.2 .4,.3 .4,.2 .4,.1 .5,0 .4-.1 .4-.4 .4-.6 .4-.5 .4-.3 .5,.1 .4,0 .4-.1 .4-.3 .4-.1 .4-.3 .5-.1 .4-.4 .4-.5 .4-.6 .4-.4 .5-.2 .4-.4 .4-.8 .4-.4 .4-1 .4-.9 .5-1.6 .4-1.3 .4-1.4 .4-1.3 .4-1.3 .4-1.7 .5-2.1 .4-1.9 .4-1.5 .4-1.5 .4-1 .4-.6 .5,.3 .4,.7 .4,1.1 .4,.7 .4,1.6 .5,1.8 .4,2.1 .4,1.1 .4,.6 .4,.9 .4,.9 .5,1.1 .4,.5 .4,.9 .4,.6 .4,0 .4,.1 .5-.3 .4,.2 .4-.1 .4,0 .4,.5 .5-.2 .4,.1 .4,.1 .4,.3 .4-.2 .4-.6 .5-.6 .4-.2 .4-.1 .4,.1 .4,.1 .4-.2 .5-.4 .4-.5 .4-.8 .4-.6 .4-.8 .4-.2 .5,.1 .4-.3 .4,.2 .4,0 .4,.1 .5-.5 .4-.2 .4,.1 .4,0 .4,.1 .4,.1 .5,.4 .4,.4 .4,.3 .4-.1 .4-.1 .4-.3 .5,.4 .4-.1 .4,.4 .4,0 .4,.4 .5-.2 .4-.4 .4,.1 .4,0 .4,.5 .4-.3 .5,.1 .4,0 .4-.1 .4,.1 .4-.8 .4,.1 .5-.4 .4,.1 .4-.2 .4,0 .4,.3 .5-.5 .4-.2 .4-.5 .4,.5 .4-.2 .4,.1 .5-.4 .4,.1 .4,0 .4-.1 .4-.2 .4-.6 .5,0 .4,.1 .4,.1 .4,0 .4-.7 .4-.4 .5-.6 .4,.2 .4,.3 .4,.1 .4,0 .5,0 .4-.2 .4-.4 .4-.5 .4,.4 .4-.3 .5,.1 .4-.3 .4,.4 .4-.2 .4-.5 .4,0 .5,.2 .4-.3 .4-.1 .4-.4 .4,.3 .4,0 .5-.3 .4-.6 .4-.4 .4,.3 .4,.3 .5-.2 .4,0 .4-.5 .4,0 .4-.8 .4,.1 .5-.3 .4,.2 .4-.3 .4-.3 .4-.8 .4,.2 .5-.2 .4,.3 .4-.5 .4-.2 .4,0 .5,0 .4,.1 .4-.3 .4-.2 .4-.6 .4-.1 .5,0 .4,.3 .4-.8 .4-.5 .4-.8 .4,0 .5,.4 .4,.4 .4,0 .4-.4 .4-.1 .5-.3 .4-.1 .4-.3 .4-.6 .4-.3 .4,.1 .5,.1 .4-.1 .4-.6 .4-.2 .4,.1 .4-.1 .5-.3 .4-1.1 .4-.2 .4-.4 .4,.1 .4,0 .5,.4 .4-.2 .4-.2 .4-.3 .4,0 .5-.2 .4-.6 .4-.3 .4-.6 .4-.1 .4,.2 .5-.2 .4-.2 .4-.6 .4,.1 .4-.1 .4,.1 .5-.4 .4-.4 .4-.6 .4-.1 .4-.2 .4-.1 .5,.1 .4-.2 .4-.4 .4-.4 .4-.3 .5-.4 .4-.8 .4-.1 .4-.1 .4-.1 .4-.4 .5-.1 .4-.1 .4-.6 .4-.6 .4-.5 .4,.1 .5-.3 .4-.5 .4-.6 .4-.6 .4-.2 .5-.4 .4,.2 .4-.6 .4-.3 .4-.6 .4-.4 .5-.2 .4-.3 .4-.1 .4-.9 .4-.4 .4-1.1 .5-.6 .4-.9 .4-.5 .4-.9 .4-1 .5-1.2 .4-1.3 .4-1.2 .4-1.4 .4-1.4 .4-1.4 .5-1.1 .4-.8 .4-.2 .4,.2 .4,.6 .4,.6 .5,.4 .4,.9 .4,1.2 .4,1.5 .4,1 .4,.9 .5,.8 .4,.7 .4,.6 .4,.7 .4,.8 .5,.5 .4-.1 .4-.3 .4,.1 .4,0 .4,.3 .5-.2 .4,0 .4-.1 .4,0 .4,.2 .4,0 .5-.6 .4-.8 .4-.7 .4-.2 .4-.2 .4-.1 .5-.6 .4-.8 .4-1 .4-1 .4-1.2 .5-1 .4-.3 .4-.8 .4-.3 .4-.5 .4-.1 .5-.3 .4-.1 .4,.6 .4,1 .4,1.1 .4,1.2 .5,1.3 .4,1.2 .4,1.1 .4,.8 .4,1.1 .5,.6 .4,1 .4,.7 .4,.8 .4,1 .4,.3 .5,.5 .4,0 .4,.2 .4,.3 .4,0 .4,.4 .5,.4 .4,.5 .4,.6 .4,.4 .4,.3 .5,.1 .4-.1 .4,.1 .4-.1 .4,0 .4,.2 .5,.4 .4,.2 .4-.1 .4,.1 .4-.2 .4-.2 .5-.3 .4,.3 .4-.1 .4,.6 .4,.1 .4,0 .5-.3 .4-.3 .4,.2 .4,.1 .4,.3 .5-.4 .4-.1 .4,0 .4,.5 .4,.3 .4-.4 .5,0 .4-.3 .4,.2 .4,0 .4,.3 .4-.2 .5-.1 .4-.4 .4-.2 .4,.1 .4,.1 .4,0 .5-.4 .4,0 .4,.6 .4,.3 .4,.1 .5-.7 .4-.3 .4-.2 .4,.4 .4,0 .4-.2 .5,.2 .4,.1 .4-.1 .4-.6 .4,0 .4-.2 .5,.3 .4-.2 .4-.2 .4-.3 .4-.6 .5,.2 .4-.1 .4,.3 .4-.1 .4-.3 .4-.3 .5-.3 .4-.2 .4,.1 .4-.3 .4-.2 .4-.6 .5-.2 .4-.4 .4,0 .4-.1 .4,.2 .5-.4 .4-.2 .4-.2 .4,0 .4,.6 .4,.3 .5,0 .4-.8 .4-.2 .4-.5 .4,.5 .4-.1 .5,.3 .4-.2 .4,0 .4-.2 .4,.2 .4-.1 .5,.2 .4,0 .4,.3 .4,.4 .4,.5 .5,.4 .4,.2 .4,0 .4,.4 .4-.2 .4,.4 .5-.1 .4,.4 .4,.2 .4,.4 .4,.7 .4,.5 .5-.1 .4,.2 .4,.5 .4,.9 .4,.6 .4,0 .5-.2 .4-.2 .4,.5 .4,.8 .4,.4 .5,.2 .4,.2 .4,.2 .4,.4 .4,.6 .4,1.2 .5,.4 .4,.5 .4-.2 .4,.3 .4-.4 .4,.7 .5,.5 .4,1.3 .4,.3 .4,.5 .4-.4 .5,.6 .4,.4 .4,.7 .4-.3 .4,.7 .4,.6 .5,.8 .4,.2 .4,.4 .4,.7 .4,.4 .4,.7 .5,.2 .4,.3 .4,0 .4,0 .4,.4 .4,.7 .5,1 .4,.4 .4,.3 .4,0 .4,.5 .5,.5 .4,1 .4,.3 .4,.5 .4,.6 .4,.5 .5,.4 .4-.3 .4,.1 .4,.4 .4,.7 .4,.9 .5,.1 .4,.4 .4,.5 .4,.8 .4,.4 .5-.1 .4,.3 .4,.5 .4,.8 .4,.2 .4,.7 .5,.2 .4,.4" stroke="#25a064" stroke-width="1.5" fill="none" stroke-linejoin="round" />
<path d="M22.5,162.1l.4,.4 .4,.1 .5,0 .4,.3 .4-.3 .4,0 .4-.4 .4-.1 .5,.2 .4,.1 .4,.2 .4,.2 .4-.1 .4,.1 .5-.7 .4-.5 .4-.2 .4,.1 .4,.2 .4,.3 .5-.5 .4-.2 .4-.6 .4,.8 .4,.1 .5,.2 .4-.6 .4,.3 .4,0 .4,.3 .4-.8 .5,.4 .4-.1 .4,.6 .4,0 .4-.2 .4-.3 .5-.1 .4,.1 .4-.1 .4-.2 .4-.3 .5,.1 .4,.2 .4,0 .4,.2 .4-.7 .4-.1 .5-.2 .4,.2 .4-.4 .4-.2 .4,0 .4,0 .5-.4 .4-.6 .4-.2 .4-.6 .4-.2 .5-.4 .4-.6 .4-.7 .4-.5 .4-.8 .4-.5 .5-1.2 .4-1.4 .4-1.7 .4-1.1 .4-.6 .4-.5 .5-1 .4-.8 .4-.8 .4,.4 .4,0 .4,1 .5,.6 .4,.9 .4,.8 .4,.4 .4,.9 .5,.9 .4,1.8 .4,.7 .4,.2 .4-.8 .4,.3 .5-.2 .4,.1 .4-.1 .4,.1 .4,.5 .4,0 .5,.1 .4-.6 .4-.7 .4-.3 .4,.1 .4,.3 .5,.2 .4-.2 .4-.5 .4-.1 .4-.6 .5-.1 .4,.1 .4,.4 .4-.3 .4-.6 .4-.3 .5,.3 .4-.5 .4-.7 .4-.6 .4,.3 .4-.4 .5-.2 .4-.7 .4,.3 .4-.5 .4-.5 .5-1.3 .4-.6 .4-.7 .4-1.3 .4-1.4 .4-1.9 .5-1.6 .4-2.3 .4-2.2 .4-2.3 .4-2.5 .4-2.3 .5-2.4 .4-2.5 .4-2.7 .4-2 .4-1.7 .4-.8 .5,.2 .4,1.6 .4,2.3 .4,1.8 .4,1.9 .5,2 .4,2.6 .4,2.3 .4,2 .4,1.4 .4,1.5 .5,1.7 .4,1.5 .4,.9 .4,.3 .4,.3 .4,.8 .5,.3 .4,.3 .4-.5 .4,0 .4,.1 .5,.7 .4-.1 .4-.4 .4-.1 .4-.1 .4-.1 .5-.3 .4-.2 .4,.1 .4-.2 .4-.6 .4-.6 .5-.6 .4-.6 .4-.7 .4-.2 .4-.5 .4,.1 .5-.6 .4,0 .4-.3 .4-.2 .4,.2 .5-.3 .4-.1 .4-.2 .4,.7 .4,.5 .4,.1 .5-.3 .4-.1 .4,.5 .4,.4 .4,.9 .4-.2 .5,.4 .4-.2 .4,.4 .4-.2 .4-.1 .5,.3 .4,.3 .4-.2 .4,.3 .4-.3 .4,.7 .5-.2 .4,.3 .4-.2 .4,.1 .4-.3 .4-.4 .5-.2 .4,.1 .4,.6 .4-.7 .4-.3 .5-.3 .4,.1 .4-.1 .4,.1 .4,.6 .4-.3 .5-.2 .4-.2 .4,.3 .4-.4 .4-.3 .4-.5 .5-.3 .4,0 .4,.2 .4,.4 .4-.4 .4-.7 .5-.6 .4,.1 .4,.5 .4-.1 .4-.3 .5,.1 .4-.3 .4,.2 .4-.5 .4-.3 .4,.1 .5-.7 .4,0 .4-.4 .4,.4 .4,.2 .4-.3 .5-.2 .4,.2 .4-.2 .4,0 .4-.9 .4-.3 .5,0 .4,.2 .4,0 .4-.4 .4-.2 .5-.5 .4-.1 .4-.4 .4,.1 .4-.1 .4-.3 .5-.1 .4,.2 .4,.1 .4,.3 .4-.6 .4-.1 .5-.3 .4,.1 .4,.1 .4-.4 .4-.4 .5-.7 .4-1 .4-.5 .4-.2 .4,.8 .4,0 .5,0 .4,0 .4-.2 .4-.1 .4-.1 .4,0 .5-.8 .4-.2 .4-.4 .4-.1 .4-.5 .5-.3 .4,.2 .4-.1 .4,.2 .4-.3 .4-.6 .5-.5 .4-.2 .4-.1 .4,.5 .4-.5 .4-.3 .5-.6 .4,0 .4-.1 .4-.5 .4-.3 .4-.1 .5,0 .4-.4 .4-.3 .4-.2 .4,0 .5-1 .4-.7 .4-.6 .4,.4 .4,0 .4,.2 .5-.1 .4-.3 .4-.4 .4,0 .4-.4 .4-.2 .5-.3 .4-.1 .4-.8 .4-.6 .4-.4 .4,.1 .5-.1 .4-.1 .4-.4 .4-.3 .4-.4 .5-.2 .4-.5 .4-.4 .4-.4 .4-.5 .4-.4 .5-.5 .4-.5 .4-.1 .4-.2 .4,0 .4-.7 .5-.3 .4-.4 .4-.3 .4-.6 .4-.2 .5-.5 .4,0 .4-1.1 .4-.5 .4-.4 .4-.1 .5-.4 .4-.7 .4-.8 .4-.5 .4-1.4 .4-.7 .5-1.2 .4-.5 .4-1 .4-1.5 .4-1.4 .5-2.1 .4-2.1 .4-2.9 .4-1.5 .4-1.5 .4-1.4 .5-2 .4-1.3 .4-.1 .4,.1 .4,1.2 .4,.5 .5,.7 .4,1.2 .4,1.4 .4,1.9 .4,1.5 .4,1.2 .5,1.4 .4,.6 .4,.7 .4,.4 .4,.4 .5,.8 .4,.4 .4,.3 .4,0 .4-.1 .4-.1 .5,0 .4-.2 .4,0 .4-.6 .4-.2 .4-.4 .5-.4 .4-.7 .4-.9 .4-.4 .4-1.1 .4-.9 .5-1.1 .4-1.2 .4-2.1 .4-2 .4-1.7 .5-1.6 .4-1.6 .4-1.8 .4-1.2 .4-1.5 .4-.8 .5-.3 .4,.6 .4,1.3 .4,1.7 .4,1.8 .4,2.1 .5,2.2 .4,2 .4,2 .4,1.9 .4,2.4 .5,1.9 .4,1.8 .4,1.4 .4,1.6 .4,1.3 .4,.8 .5,.8 .4,.4 .4,1.5 .4,.4 .4,.7 .4,.1 .5,.4 .4,.5 .4,.6 .4,.4 .4,.5 .5,.1 .4-.1 .4,.4 .4,.1 .4,.6 .4-.5 .5,.2 .4-.1 .4,.2 .4,.4 .4,.1 .4,.1 .5-.5 .4,.1 .4,.3 .4,.2 .4,0 .4,.1 .5-.4 .4-.3 .4-.6 .4,.3 .4,.5 .5,.3 .4-.2 .4-.4 .4,0 .4,.1 .4,.1 .5-.2 .4-.3 .4,.2 .4,0 .4,.5 .4-.4 .5-.3 .4-.3 .4,.3 .4,.2 .4,.1 .4,.4 .5,.2 .4-.2 .4-.6 .4,.1 .4,0 .5,.5 .4-.1 .4-.1 .4-.4 .4-.4 .4-.1 .5-.2 .4-.1 .4,.3 .4,.1 .4,0 .4-.4 .5-.3 .4,.4 .4-.5 .4,0 .4-.2 .5,.1 .4,.2 .4,0 .4,0 .4-.2 .4-.6 .5,.2 .4-.2 .4,.2 .4,0 .4,0 .4,.1 .5-.4 .4-.5 .4-.5 .4-.2 .4-.2 .5,0 .4-.3 .4,.2 .4-.7 .4-.3 .4-.2 .5-.1 .4-.2 .4-.8 .4,.1 .4-.5 .4-.2 .5-.7 .4-.2 .4,.5 .4-.2 .4,.1 .4-.5 .5,.6 .4-.1 .4,.6 .4-.8 .4-.1 .5-.7 .4,.3 .4,0 .4-.2 .4-.4 .4-.4 .5,0 .4,.1 .4,0 .4,.1 .4,.3 .4,.4 .5,.2 .4,0 .4,.2 .4,.5 .4,.4 .4,.6 .5,.8 .4,.9 .4,.4 .4,.9 .4,.9 .5,.6 .4,.2 .4,.5 .4,.6 .4,.8 .4,.3 .5,.7 .4,.4 .4,.2 .4,.6 .4,.1 .4,1.4 .5,1 .4,1.2 .4,0 .4,.3 .4,.4 .5,.6 .4,.4 .4-.1 .4,.2 .4,.1 .4,.3 .5,0 .4,.6 .4,.9 .4,.3 .4,.7 .4,.4 .5,.6 .4-.1 .4,0 .4,.7 .4,.4 .4,.1 .5,.2 .4,0 .4,.7 .4,.5 .4,.9 .5,.5 .4,.2 .4,.5 .4,.2 .4,.1 .4,.1 .5,.3 .4,.8 .4,.8 .4,.5 .4-.1 .4-.2 .5,.2 .4,.8 .4,.6 .4,.3 .4-.1 .5,.4 .4,.4 .4,.5 .4,.2 .4,.6 .4,.3 .5,.6 .4,.2" stroke="#8f6cb6" stroke-width="1.5" fill="none" stroke-linejoin="round" />
<line x1="24.20" y1="19.60" x2="46.00" y2="19.60" stroke="#5a5a5a" stroke-width="1.6" />
<text x="50.8" y="23.40" font-size="10.5" text-anchor="start" font-family="Liberation Sans, sans-serif" font-weight="bold">Cu<tspan font-size="7.14" dy="3.15">2</tspan><tspan dy="-3.15">O MCs</tspan></text>
<line x1="24.20" y1="33.50" x2="46.00" y2="33.50" stroke="#e54a50" stroke-width="1.6" />
<text x="50.8" y="37.30" font-size="10.5" text-anchor="start" font-family="Liberation Sans, sans-serif" font-weight="bold">Cu<tspan font-size="7.14" dy="3.15">2</tspan><tspan dy="-3.15">O RMCs</tspan></text>
<line x1="24.20" y1="47.40" x2="46.00" y2="47.40" stroke="#2f6fc0" stroke-width="1.6" />
<text x="50.8" y="51.20" font-size="10.5" text-anchor="start" font-family="Liberation Sans, sans-serif" font-weight="bold">Cu<tspan font-size="7.14" dy="3.15">2</tspan><tspan dy="-3.15">O TMCs</tspan></text>
<line x1="24.20" y1="61.30" x2="46.00" y2="61.30" stroke="#25a064" stroke-width="1.6" />
<text x="50.8" y="65.10" font-size="10.5" text-anchor="start" font-family="Liberation Sans, sans-serif" font-weight="bold">Cu<tspan font-size="7.14" dy="3.15">2</tspan><tspan dy="-3.15">O/g-C</tspan><tspan font-size="7.14" dy="3.15">3</tspan><tspan dy="-3.15">N</tspan><tspan font-size="7.14" dy="3.15">4</tspan><tspan dy="-3.15">-0.1</tspan></text>
<line x1="24.20" y1="75.20" x2="46.00" y2="75.20" stroke="#8f6cb6" stroke-width="1.6" />
<text x="50.8" y="79.00" font-size="10.5" text-anchor="start" font-family="Liberation Sans, sans-serif" font-weight="bold">Cu<tspan font-size="7.14" dy="3.15">2</tspan><tspan dy="-3.15">O/g-C</tspan><tspan font-size="7.14" dy="3.15">3</tspan><tspan dy="-3.15">N</tspan><tspan font-size="7.14" dy="3.15">4</tspan><tspan dy="-3.15">-0.2</tspan></text>
<line x1="24.20" y1="89.10" x2="46.00" y2="89.10" stroke="#d29d22" stroke-width="1.6" />
<text x="50.8" y="92.90" font-size="10.5" text-anchor="start" font-family="Liberation Sans, sans-serif" font-weight="bold">Cu<tspan font-size="7.14" dy="3.15">2</tspan><tspan dy="-3.15">O/g-C</tspan><tspan font-size="7.14" dy="3.15">3</tspan><tspan dy="-3.15">N</tspan><tspan font-size="7.14" dy="3.15">4</tspan><tspan dy="-3.15">-0.3</tspan></text>
<line x1="24.20" y1="103.00" x2="46.00" y2="103.00" stroke="#1fb3b6" stroke-width="1.6" />
<text x="50.8" y="106.80" font-size="10.5" text-anchor="start" font-family="Liberation Sans, sans-serif" font-weight="bold">Cu<tspan font-size="7.14" dy="3.15">2</tspan><tspan dy="-3.15">O/g-C</tspan><tspan font-size="7.14" dy="3.15">3</tspan><tspan dy="-3.15">N</tspan><tspan font-size="7.14" dy="3.15">4</tspan><tspan dy="-3.15">-0.4</tspan></text>
<line x1="24.20" y1="116.90" x2="46.00" y2="116.90" stroke="#7c5256" stroke-width="1.6" />
<text x="50.8" y="120.70" font-size="10.5" text-anchor="start" font-family="Liberation Sans, sans-serif" font-weight="bold">Cu<tspan font-size="7.14" dy="3.15">2</tspan><tspan dy="-3.15">O/g-C</tspan><tspan font-size="7.14" dy="3.15">3</tspan><tspan dy="-3.15">N</tspan><tspan font-size="7.14" dy="3.15">4</tspan><tspan dy="-3.15">-0.5</tspan></text>
<path d="M22.5,11.5 H293.6 V230.6 H22.5 Z" fill="none" stroke="#000" stroke-width="1.6"/>
<line x1="22.50" y1="230.60" x2="22.50" y2="234.60" stroke="#000" stroke-width="1.1" />
<text x="22.50" y="252.50" font-size="12" text-anchor="middle" font-family="Liberation Sans, sans-serif" font-weight="bold">1000</text>
<line x1="64.25" y1="230.60" x2="64.25" y2="232.80" stroke="#000" stroke-width="1.1" />
<line x1="106.00" y1="230.60" x2="106.00" y2="234.60" stroke="#000" stroke-width="1.1" />
<text x="106.00" y="252.50" font-size="12" text-anchor="middle" font-family="Liberation Sans, sans-serif" font-weight="bold">1200</text>
<line x1="147.75" y1="230.60" x2="147.75" y2="232.80" stroke="#000" stroke-width="1.1" />
<line x1="189.50" y1="230.60" x2="189.50" y2="234.60" stroke="#000" stroke-width="1.1" />
<text x="189.50" y="252.50" font-size="12" text-anchor="middle" font-family="Liberation Sans, sans-serif" font-weight="bold">1400</text>
<line x1="231.25" y1="230.60" x2="231.25" y2="232.80" stroke="#000" stroke-width="1.1" />
<line x1="273.00" y1="230.60" x2="273.00" y2="234.60" stroke="#000" stroke-width="1.1" />
<text x="273.00" y="252.50" font-size="12" text-anchor="middle" font-family="Liberation Sans, sans-serif" font-weight="bold">1600</text>
<text x="12.00" y="121.50" font-size="12.8" text-anchor="middle" transform="rotate(-90 12 121.5)" font-family="Liberation Sans, sans-serif" font-weight="bold">Intensity (arb.u.)</text>
<text x="158.6" y="273.5" font-size="12.8" text-anchor="middle" font-family="Liberation Sans, sans-serif" font-weight="bold">Raman shift (cm<tspan font-size="7.94" dy="-4.61">−1</tspan><tspan dy="4.61">)</tspan></text>
<path d="M22.8,520.2l.3-2.2 .3-1.2 .2-.4 .3,.5 .3,.6 .3,.2 .2,.8 .3-1.2 .3,.5 .3,1.7 .3-1.4 .2-.9 .3,2.9 .3-1.4 .3-2.1 .3,.9 .2-.8 .3-1 .3,1.8 .3-1.2 .2,2.4 .3-.5 .3,1.2 .3-.5 .3,.5 .2-.8 .3,.8 .3-1 .3,.9 .3,0 .2-1.2 .3,.1 .3-.3 .3,.1 .2,.9 .3,.7 .3-1.1 .3-2 .3,1 .2,1.7 .3-2.7 .3,1.9 .3-1.1 .3,1.2 .2-.1 .3-1.2 .3,.4 .3,2.5 .2-2.3 .3,.6 .3-.4 .3,1.2 .3,.5 .2,.3 .3,.9 .3-2.2 .3-.3 .3-.2 .2-1 .3,.2 .3,1.6 .3-2.5 .2,2.6 .3-.1 .3-1 .3,.2 .3,.9 .2,.4 .3,.9 .3-2.1 .3-.4 .3-.1 .2-.6 .3-.6 .3-1.3 .3-.3 .2,.9 .3,.7 .3,1.6 .3,1.2 .3-.2 .2-.8 .3,1.4 .3-3.1 .3-1.3 .3,.8 .2-5.2 .3-.8 .3-1.4 .3,1.2 .2-1.5 .3,1.4 .3-.5 .3,0 .3,1.8 .2,.7 .3,.1 .3,1 .3,1.2 .2,3.5 .3,.3 .3,.2 .3,.8 .3-.4 .2,.2 .3-1.3 .3-1.3 .3,.9 .3,.5 .2-.6 .3,.9 .3-2.7 .3,1.6 .2,1.1 .3-.2 .3,2 .3,.1 .3-1.2 .2,1.8 .3-3.1 .3,1.7 .3-1.7 .3-1 .2,.8 .3,.4 .3,0 .3,.4 .2-1.7 .3,2.9 .3-.8 .3-.1 .3-1.8 .2-1.4 .3,.4 .3,.4 .3-.1 .3-1.4 .2,.3 .3,.4 .3-2.3 .3,3.4 .2-3.5 .3,1.1 .3,.8 .3-2.5 .3,.6 .2,1.6 .3-1.8 .3,1.2 .3,.1 .3,.5 .2,.6 .3-.8 .3,.5 .3,1 .2-.3 .3,.9 .3-2 .3,1 .3,2.2 .2,.3 .3,.2 .3-.6 .3,.8 .3,.7 .2,1.4 .3-1.4 .3,1.6 .3-1.9 .2,1.1 .3-2.9 .3,.7 .3-1.6 .3,1.6 .2,.9 .3-1.1 .3-.2 .3,.1 .3-1.1 .2,.1 .3,.3 .3,2.1 .3,1.2 .2-1.4 .3,.5 .3,.6 .3-.3 .3,.3 .2,1.2 .3-1.1 .3-1.2 .3-.5 .2,1.8 .3-2.2 .3,.9 .3-.8 .3-.1 .2,.6 .3,0 .3,.9 .3,.1 .3-1.5 .2-1.2 .3,3 .3-1.2 .3,1.3 .2-.8 .3,0 .3,1.7 .3-1.1 .3,.5 .2-1.7 .3,1.2 .3,.2 .3-1.1 .3,1.9 .2-2.1 .3,.5 .3-1.6 .3-1.7 .2,4.1 .3,.3 .3,.4 .3-3.7 .3,2.8 .2,.9 .3-.8 .3-.1 .3-1 .3,1 .2-1.2 .3,.9 .3,.9 .3-1 .2,.7 .3-.3 .3,.3 .3,.5 .3-.6 .2-.4 .3-1.9 .3,1 .3,1.9 .3-.9 .2,1 .3-.4 .3,2.8 .3-2.1 .2-.3 .3,.3 .3,1.1 .3-1.3 .3,.7 .2-1.6 .3,.4 .3-.9 .3-.6 .3-.8 .2,1 .3-.8 .3-.6 .3,.8 .2-.7 .3-1.3 .3,.6 .3,.1 .3-.9 .2,2.3 .3-1.4 .3,.1 .3,.3 .3,2.6 .2-1.6 .3,1.4 .3-1.4 .3-.1 .2,.4 .3,.2 .3-.9 .3-1.3 .3,.6 .2,.6 .3,.9 .3,.8 .3,1.4 .2,0 .3-1.7 .3,.6 .3-.9 .3,3.2 .2-1.2 .3,.3 .3-2.6 .3-.2 .3-1.1 .2-1.7 .3,.5 .3-1.8 .3,1.9 .2-.7 .3,1.1 .3-.7 .3-1.2 .3,2 .2,1.2 .3-3 .3,.4 .3,.6 .3,.7 .2-1.7 .3,4 .3-1.5 .3-2 .2-2.4 .3,2.3 .3,.9 .3-.9 .3,.7 .2-1.9 .3,.9 .3-1.6 .3,3 .3-2.4 .2-2.8 .3,.1 .3,2.1 .3-.3 .2-.7 .3,.8 .3,1.5 .3-2.2 .3-2.5 .2,1.7 .3-1.3 .3,.8 .3,1.5 .3-.8 .2-.4 .3,1.3 .3-.7 .3,1 .2-.4 .3,.8 .3-1 .3,1.4 .3-.8 .2,.4 .3-.7 .3,1.3 .3-1.8 .3,5.7 .2-2.5 .3,1.8 .3-.8 .3,0 .2,.3 .3-1.3 .3,0 .3-.3 .3,.7 .2,.3 .3,4 .3-2.7 .3,1 .3,1.5 .2,2 .3-3.7 .3,.8 .3,.9 .2,.2 .3-2 .3-.4 .3,.3 .3,1.9 .2-.7 .3,1.1 .3-.7 .3,.2 .2,.6 .3-1.7 .3-.1 .3-1.3 .3,.9 .2,1.4 .3,.3 .3,0 .3,2.2 .3-.9 .2-.3 .3-1.2 .3,1.1 .3,.5 .2-3.7 .3-.4 .3,.9 .3,.1 .3,0 .2,.2 .3,1.5 .3-.1 .3,.9 .3-.4 .2-1.7 .3,1.7 .3-1.2 .3-.3 .2-1.3 .3,3 .3,.1 .3-1.7 .3,.4 .2,.6 .3,.5 .3,.3 .3-.3 .3,.5 .2-2.4 .3,.5 .3-1.6 .3,2.8 .2-.3 .3-.2 .3,1.2 .3,1.2 .3-.4 .2-3.1 .3,1.1 .3-2.5 .3,1.3 .3-.8 .2,1.6 .3,.3 .3-.9 .3,1 .2-.2 .3-.8 .3,.2 .3-2.6 .3,1.5 .2,1.3 .3,0 .3-1.9 .3,1.4 .3,.7 .2-.4 .3,1.6 .3-1.1 .3-.1 .2,.4 .3,2.1 .3-3.3 .3-.7 .3,1.3 .2-1.4 .3,.8 .3-2.4 .3,2.9 .3-.2 .2-1.8 .3,2.7 .3-1.5 .3-.6 .2-.9 .3,.4 .3,.5 .3-.3 .3,2.7 .2,0 .3-1.2 .3-.7 .3,.9 .3-1.9 .2,1.6 .3-.9 .3-.4 .3-.2 .2,2.2 .3,.9 .3-1.3 .3,0 .3-.1 .2-1.2 .3,.8 .3-1.8 .3,.7 .2,.5 .3-.9 .3,.2 .3,3.1 .3-.8 .2-1.2 .3,1.3 .3,.5 .3-1.9 .3,1 .2-1 .3,.5 .3-.8 .3,3.1 .2-3 .3,1.4 .3,.3 .3-1.4 .3,.8 .2-1 .3-.4 .3,.3 .3-.7 .3,2.5 .2-.9 .3-.5 .3-2.5 .3,1.6 .2-1.2 .3,.2 .3,1.1 .3-1.3 .3-1.2 .2,.6 .3,.1 .3,.8 .3-3.6 .3,2 .2-.5 .3-.7 .3,1.6 .3-1.9 .2-1.1 .3,1.5 .3,.4 .3,1.6 .3-2.1 .2,.2 .3-1.2 .3,2.3 .3,.6 .3,.7 .2-1.3 .3,1.4 .3-.9 .3,2.9 .2-1.6 .3-1.1 .3,4.5 .3-.6 .3,.2 .2,.1 .3-1.3 .3,2.5 .3-2.3 .3,3.1 .2-1.3 .3-2.2 .3,1.5 .3,1.4 .2-3 .3,.8 .3-1.7 .3,.5 .3-2.1 .2,4.1 .3-1.3 .3,1.5 .3-1.8 .3,.4 .2,1.9 .3-2.5 .3,.1 .3-.7 .2,1.3 .3,1.3 .3-.8 .3-1 .3-.7 .2,2.8 .3-3.2 .3,.9 .3,3 .2-2.8 .3-1.3 .3,2 .3,1.2 .3,1.9 .2-1 .3-1 .3,.3 .3-.1 .3-2.4 .2,1.6 .3,.5 .3-.5 .3-3 .2,2.7 .3,2.2 .3-1.8 .3,2.4 .3-1.8 .2-.7 .3,1 .3-1.3 .3,.4 .3-1.1 .2,1 .3-2.2 .3,1 .3-.7 .2,.6 .3,1.2 .3,.3 .3,0 .3-.1 .2-.3 .3,.9 .3-.7 .3-.1 .3-1.1 .2,.4 .3-1.1 .3,1.3 .3,.4 .2-1.3 .3,2.6 .3-4.3 .3,1.9 .3-.2 .2-.1 .3,3.5 .3-1.8 .3,.4 .3,2.4 .2-2.8 .3-.8 .3-.3 .3-.7 .2,.9 .3,0 .3-2 .3,2.5 .3,1.5 .2-4 .3,.8 .3,.2 .3,0 .3-1.9 .2,.5 .3,.1 .3,2.6 .3-.6 .2-3.6 .3-1.2 .3-.4 .3-1 .3,1.9 .2-.2 .3,2.3 .3-1.1 .3-1.1 .3,.4 .2-1.7 .3-.9 .3,2.3 .3,1.3 .2-1.6 .3,2.6 .3,1.1 .3-1 .3,.9 .2-.8 .3,.3 .3,.4 .3-1.6 .2,2.3 .3,.3 .3,.5 .3-2.7 .3,.4 .2,2.1 .3-1.1 .3,0 .3-.1 .3-1.1 .2,2.1 .3-.6 .3-.7 .3,.9 .2-1 .3,1.7 .3-2.8 .3,6 .3-3.5 .2,1.8 .3,.4 .3-1.6 .3,.1 .3-.6 .2-2.3 .3,2.3 .3,1 .3-1.3 .2-2.1 .3,.9 .3,.7 .3-.1 .3,.6 .2,.3 .3,1.3 .3-2.1 .3,4.6 .3-2.4 .2,1 .3-1.7 .3,.2 .3-.1 .2,2 .3,.1 .3-1.4 .3,.4 .3-2.1 .2,.9 .3-1.6 .3,1.9 .3,.4 .3,.5 .2,.1 .3-4 .3,4.6 .3-3 .2-.7 .3-1.1 .3,1.7 .3-2.2 .3,2.6 .2-.5 .3,1.9 .3-2.5 .3,1.7 .3-.2 .2,1.2 .3-3.1 .3,1.3 .3-3.1 .2,1.2 .3,.9 .3,1.1 .3-1.7 .3,.8 .2,.5 .3-1.6 .3,.5 .3-.3 .3,2.8 .2,.5 .3-1.2 .3-.5 .3,1.7 .2-1.2 .3-.9 .3-.6 .3,.5 .3,3 .2-3.1 .3,3.4 .3-3.2 .3-.9 .2,1.7 .3-1.7 .3,.5 .3-1.4 .3,.8 .2,0 .3,.7 .3-1 .3-1.7 .3,2 .2-.3 .3-.6 .3-.4 .3-.9 .2,3.8 .3-2.7 .3,2 .3,.2 .3-.9 .2-.9 .3-.1 .3-.6 .3,.8 .3-.4 .2-1.6 .3,.9 .3,.6 .3,.3 .2-.8 .3,1.2 .3-.9 .3,.3 .3-1 .2-1 .3-.4 .3,.4 .3,.5 .3,1.1 .2-.7 .3-.2 .3,.1 .3,1.5 .2-1.6 .3-1.3 .3,.7 .3-2.6 .3,1.3 .2-.5 .3,.5 .3-1 .3,2.1 .3,.8 .2-3.5 .3,1 .3,.3 .3,2.5 .2-3.6 .3-.7 .3,.3 .3,1.6 .3-2.9 .2,0 .3,1.1 .3-4.1 .3,0 .3,2.4 .2-.4 .3-1.7 .3,2.1 .3-.4 .2,.3 .3-.6 .3,.2 .3-.4 .3,.7 .2,.3 .3,2.6 .3-1.1 .3-2.3 .3,2.2 .2,1.1 .3-1.2 .3,1.2 .3-.8 .2,1.6 .3-1.1 .3,1.9 .3-1.5 .3,2.9 .2-3.1 .3-.5 .3,2.8 .3-1.1 .2,.7 .3,0 .3-.4 .3-.5 .3,1.5 .2,.3 .3,1.5 .3,1.9 .3-2.9 .3,.7 .2,.4 .3-1.7 .3-1.1 .3,1.2 .2,1.3 .3-1.1 .3,.9 .3-1.5 .3,1 .2-.4 .3-.4 .3,1.8 .3,.9 .3,1.4 .2-3.3 .3,2.4 .3,.7 .3-.3 .2-1.9 .3-.3 .3,.4 .3,.7 .3-.1 .2,.6 .3,.9 .3-1 .3,.2 .3-.6 .2,.1 .3,1.3 .3,.2 .3,2.4 .2-1.2 .3-.9 .3,.5 .3-1.9 .3,.8 .2,.9 .3,.2 .3,.5 .3-.5 .3-1.1 .2,1 .3-.7 .3,1.4 .3-1.1 .2,1.4 .3-2.2 .3,2.6 .3-1.9 .3-.5 .2,.3 .3,1.4 .3,2.5 .3-.9 .3-2.4 .2,1 .3-.6 .3-2 .3,1.2 .2-.7 .3,.9 .3-2 .3,2 .3-.4 .2-.2 .3,.3 .3,1.5 .3-1.2 .3-.1 .2,.5 .3-.1 .3,.7 .3-1.3 .2,0 .3,.1 .3,.5 .3-.2 .3,.4 .2,.5 .3-.9 .3,1.1 .3-.3 .2-2.6 .3,2.9 .3-4.1 .3,5.6 .3-1.3 .2,.6 .3-2.7 .3,3.5 .3-3.4 .3-.5 .2,1.2 .3-1.2 .3,.3 .3,1.9 .2-1.1 .3,1.2 .3-.1 .3,1.1 .3-2.7 .2,2 .3-1 .3,1 .3-2.8 .3,2.4 .2-.7 .3-.1 .3-1.5 .3,.8 .2,0 .3-1.8 .3,.3 .3,.5 .3,2.9 .2-1.5 .3,.9 .3-.7 .3,.1 .3-.4 .2-.5 .3,1.9 .3-1.3 .3-.4 .2-.9 .3,1.4 .3-.6 .3-.3 .3,1.6 .2-2.2 .3,1.7 .3,.6" stroke="#5a5c5e" stroke-width="1.6" fill="none" stroke-linejoin="round" />
<path d="M22.8,491.4l.3-.7 .3-.9 .2,1.7 .3-.6 .3-.7 .3,2.4 .2-5 .3,1.5 .3,1.7 .3-.3 .3-.7 .2,2.6 .3-.7 .3-2 .3,.5 .3,1.2 .2,0 .3-4.2 .3,2.3 .3-.5 .2-1.6 .3,2 .3-1.5 .3,.3 .3,1.6 .2-1.3 .3,.7 .3,.3 .3,.4 .3-.3 .2-1.7 .3,.3 .3,.8 .3-1.7 .2,.4 .3,1.4 .3-.1 .3-1.8 .3-.4 .2,1.5 .3-.3 .3-1 .3,.3 .3,.2 .2-.5 .3,2.7 .3-.7 .3-.2 .2-.3 .3,1.9 .3-1.5 .3-2.5 .3,.8 .2,.2 .3-.3 .3,.5 .3,.1 .3-.7 .2-.3 .3,.7 .3-1.7 .3,2.4 .2-.6 .3,.3 .3-2.3 .3,3.3 .3-3.4 .2,.6 .3,.8 .3-1.5 .3,.5 .3-2.1 .2,1.7 .3,.6 .3,.7 .3-1.1 .2-.3 .3-.3 .3-2 .3-1.8 .3,.7 .2-4.4 .3,.9 .3-2.1 .3,.8 .3-1.3 .2,2.8 .3,1.3 .3,.3 .3,2.2 .2-.5 .3,1.6 .3,.7 .3,1.6 .3-.3 .2-.8 .3,1.3 .3-.1 .3-.5 .2,2.1 .3-1.2 .3-.2 .3-1.5 .3,.7 .2,1.5 .3-2.6 .3,3 .3,.1 .3-.1 .2,0 .3-1.5 .3,.1 .3-2 .2,.4 .3,3.6 .3-1.6 .3-.7 .3,3.5 .2-2.7 .3-2.9 .3,3.6 .3,0 .3-1.6 .2,1 .3-2.2 .3-.3 .3-2.2 .2,1.4 .3,0 .3-1.1 .3-.4 .3-1.6 .2,1.7 .3-.7 .3,.8 .3-.6 .3,.6 .2-2 .3,3.7 .3-2 .3,1.3 .2,2.9 .3-2 .3-.8 .3,1.6 .3,.7 .2,.3 .3-1.7 .3,2.1 .3-1.9 .3,4.4 .2-1.2 .3-.9 .3,1.3 .3-.5 .2-2.3 .3,2.5 .3-1.9 .3-1.7 .3,3.2 .2,.4 .3,0 .3-1.1 .3-1 .3,1.4 .2,.6 .3-.1 .3,1.4 .3-2.4 .2,2.2 .3-.3 .3-4.4 .3-.2 .3,.9 .2,1.6 .3,.2 .3,.2 .3,.7 .3-.7 .2-.1 .3,.5 .3-.1 .3-.5 .2,1 .3-.8 .3,1.5 .3-1.3 .3,2 .2-1.8 .3,.2 .3-.7 .3,.6 .2-.5 .3-.1 .3-.8 .3-.5 .3,1.2 .2,.9 .3,.8 .3,.6 .3-1.9 .3-2.5 .2,1.8 .3-2.2 .3,.9 .3,2 .2-.2 .3-1.4 .3,.2 .3,.5 .3-.8 .2,2.4 .3-1.4 .3,1.9 .3-3.3 .3,1.9 .2-1.2 .3,2.4 .3-1.8 .3,1.7 .2-2.4 .3-1.1 .3,.5 .3-.1 .3,.5 .2,2.1 .3-.3 .3-2.8 .3,3.1 .3-1.7 .2,1.5 .3,1 .3-3 .3,.4 .2,1.8 .3-.6 .3,1.4 .3,.5 .3,.1 .2,1.2 .3-1.5 .3,1.1 .3-2.3 .3,1.2 .2,0 .3,0 .3-2.4 .3-.6 .2-.1 .3-.8 .3,1.9 .3,1.4 .3-3.4 .2-.1 .3,4.3 .3-3.9 .3,3.4 .3-1.4 .2,3 .3,.3 .3,.1 .3-.1 .2-1 .3,.2 .3,1.2 .3-.9 .3-2.1 .2,0 .3,.7 .3,0 .3,.6 .3,0 .2,1.1 .3-1 .3,.4 .3-.5 .2,.7 .3-1 .3,2.8 .3-1.6 .3,.5 .2,.1 .3,0 .3,1 .3,.8 .2-.5 .3-1 .3,1.8 .3-1.2 .3-.9 .2,2.1 .3-4.9 .3,2.3 .3,1.2 .3-.5 .2,.8 .3-2.7 .3-.1 .3,.6 .2-.6 .3,1.2 .3-1.8 .3-.8 .3,.1 .2-1.6 .3-.5 .3-.4 .3,.2 .3-1.6 .2-.2 .3-2.6 .3-1.3 .3,2.3 .2-.5 .3-.7 .3,.9 .3-.4 .3,2.6 .2-3 .3,3.8 .3-1.3 .3,1.2 .3-1 .2-.7 .3,.4 .3-1.3 .3-.8 .2-.4 .3,3.6 .3-.1 .3,.2 .3-1.2 .2,1.2 .3,0 .3,1.1 .3-3.5 .3,1.8 .2-1.3 .3,2 .3,.9 .3-.8 .2,1 .3,1.2 .3-1.1 .3-.3 .3,2.3 .2-.3 .3-.2 .3,2.4 .3-1.2 .3-2.2 .2,2.2 .3,.5 .3,1.7 .3-1.6 .2,.6 .3,1 .3-.4 .3-1.1 .3,1.4 .2,.5 .3,2 .3,.9 .3-3 .3,1.1 .2,.2 .3-.5 .3,.9 .3,.2 .2,.1 .3-2.7 .3,0 .3-1.3 .3,2.8 .2,.1 .3-3 .3-.1 .3,1.9 .2,1.5 .3,.5 .3-1.4 .3,.1 .3-.4 .2-1.2 .3,2.1 .3-2.2 .3-.5 .3,.5 .2-1.6 .3,2.4 .3,.8 .3-2.7 .2,1.5 .3,.7 .3-2.4 .3-.8 .3-.4 .2,1.3 .3-.7 .3-.4 .3,1.4 .3,.4 .2,0 .3-2.1 .3,2.3 .3-1.2 .2,0 .3-1.4 .3,2.3 .3-1.3 .3,2.2 .2-1.4 .3-2.5 .3-.6 .3,1.8 .3-2.3 .2-1.2 .3,.8 .3,.3 .3-1.5 .2,1.2 .3-.8 .3-.3 .3,1 .3-1.9 .2,.6 .3,.3 .3,.5 .3-.5 .3,1 .2-.2 .3-1 .3-.6 .3,1.5 .2-1.1 .3,1.3 .3,.9 .3-1.1 .3,.8 .2-1.7 .3,2.5 .3-1.4 .3,.7 .3-.9 .2,.3 .3-2.2 .3-.9 .3-.2 .2,.7 .3-.9 .3,1.1 .3,.2 .3-5.9 .2,.6 .3,1.4 .3,1.1 .3-1.2 .3,1.8 .2,1.4 .3,.7 .3,1.6 .3-.2 .2-1.4 .3,1.5 .3,1.8 .3-.6 .3,.9 .2-.2 .3,.1 .3,1.2 .3-.5 .3,0 .2,1 .3,.5 .3,1.7 .3-2.1 .2,1.2 .3-.9 .3-2.6 .3,2.8 .3-.4 .2-.7 .3,.2 .3,3 .3-3.5 .2-.1 .3,1.8 .3-.9 .3-1.9 .3,1.5 .2,0 .3,.7 .3,1.2 .3-1.5 .3,.9 .2,1.3 .3-3.9 .3,1.1 .3,1 .2-2.3 .3,1.3 .3-.2 .3,1.5 .3-1.4 .2,1.4 .3-.2 .3-1.2 .3,0 .3,1 .2-.2 .3-1.2 .3,2 .3-1.1 .2-.1 .3-1.8 .3,2.9 .3,1.7 .3-1.4 .2-1.2 .3,1.6 .3-.1 .3,1.1 .3-.4 .2,.9 .3-.7 .3,.7 .3-1.6 .2,.8 .3,.6 .3-1.4 .3,1.7 .3-1.6 .2,1.1 .3,.6 .3,1.6 .3-2.4 .3,2.4 .2-2.5 .3,.8 .3,.7 .3-.9 .2-2.6 .3-.8 .3,2 .3-1.9 .3,2.9 .2-.5 .3,.8 .3,2.9 .3-1.1 .3-1 .2-1.9 .3,1.6 .3-.5 .3-.2 .2,1.7 .3-3.3 .3,2.8 .3,0 .3-.2 .2,1.8 .3-3.1 .3,1 .3,.3 .3-2.8 .2,1.9 .3,.8 .3,1.7 .3-.2 .2,.3 .3-.7 .3-2.4 .3,1.8 .3-.4 .2,.9 .3,0 .3,1.1 .3-1.2 .2,.1 .3-1.4 .3,1 .3-1.8 .3,2.1 .2-2.5 .3,.2 .3-.3 .3,.5 .3,.9 .2-.8 .3,.7 .3-2.8 .3,2.8 .2-1.2 .3,1.1 .3,1.3 .3-3.4 .3,.9 .2,0 .3,1.7 .3-1.5 .3,.5 .3-.9 .2,1.5 .3-2 .3,2.2 .3-4.4 .2,1.5 .3,3.2 .3-1.5 .3-1 .3,3.8 .2-1.7 .3,1.2 .3-2.1 .3,.9 .3-.3 .2-2.6 .3,1.6 .3,0 .3,1.1 .2-.3 .3-2 .3,.1 .3,.3 .3,.5 .2-.8 .3,.3 .3,.8 .3,.1 .3,.4 .2-.6 .3-1.5 .3-1 .3,2 .2-1.2 .3-1.5 .3,.6 .3-2.1 .3,.6 .2-2 .3,2.7 .3-.6 .3,3.4 .3-1.2 .2-1.2 .3,.3 .3-.8 .3-2.4 .2,.1 .3-.7 .3,2.5 .3-2.7 .3-2.1 .2,3.1 .3,1.3 .3-3.8 .3,5.6 .3-3.9 .2,.3 .3-1.5 .3,.6 .3-.8 .2-.2 .3-.6 .3,3.6 .3-2.6 .3,1.2 .2,.6 .3-1.1 .3,2 .3,.2 .2-.4 .3,1.2 .3,.5 .3-1.8 .3,.4 .2,.3 .3,1 .3,1.9 .3,.5 .3-1.5 .2,1.1 .3-1.7 .3,.6 .3-1.1 .2,.6 .3-.7 .3,.7 .3,1.6 .3-3.5 .2,.8 .3-.5 .3,1.6 .3,.8 .3-2.5 .2-2.9 .3,2.8 .3-.9 .3-2.8 .2,1.2 .3,.6 .3-2 .3,4.2 .3,1.1 .2,.2 .3-.7 .3,1 .3,.1 .3,1.7 .2-1.2 .3,2 .3-.9 .3-2 .2,3.7 .3-1.5 .3-.2 .3,.9 .3-1 .2,2.8 .3-1.8 .3,1.4 .3,2.7 .3-1.3 .2-1.9 .3-.5 .3,2.3 .3-.9 .2,.6 .3,.2 .3-1.2 .3,2.3 .3-3.1 .2,3.6 .3-2.8 .3,.7 .3,.1 .3,2.1 .2,.5 .3-.8 .3,.7 .3,.1 .2-.8 .3-1.5 .3-.5 .3-.9 .3,1.8 .2-.1 .3-.7 .3,.8 .3,.2 .3-.4 .2-1.1 .3,.6 .3,2.9 .3-.8 .2-2.7 .3,1.4 .3-.1 .3,1.3 .3-2.5 .2,.3 .3,.9 .3-3.1 .3,1.5 .2,.4 .3-.6 .3,2.8 .3-.9 .3-1.9 .2-1.2 .3,2.2 .3-1 .3-2.1 .3,.9 .2-1.6 .3,.9 .3,1.9 .3,0 .2-1.2 .3-.4 .3-1.8 .3-1.1 .3,2.6 .2-.2 .3-1.1 .3,2.3 .3,1 .3-1 .2-.9 .3-.1 .3-.2 .3,.4 .2-2 .3-1.3 .3,.7 .3-1.7 .3,2.5 .2-.7 .3,1.5 .3-1 .3,1.2 .3,.5 .2-2.3 .3-1.4 .3,.8 .3-.7 .2,.5 .3-.7 .3,1.4 .3-.4 .3-2.8 .2,.9 .3-.4 .3,.9 .3-1.2 .3-.1 .2,2.6 .3-1.6 .3,0 .3-1.2 .2-.7 .3-.9 .3-1.3 .3,1.7 .3-1.3 .2-.2 .3,1.8 .3-2 .3-2.8 .3,.9 .2,.4 .3-.2 .3,.1 .3,4.2 .2,.1 .3,.3 .3-.6 .3,1 .3,.8 .2-1 .3,1.2 .3,1.3 .3,1.3 .3-.5 .2-.4 .3,.9 .3,2.9 .3-2.6 .2,1.9 .3-1.5 .3,2.4 .3-1.8 .3-.1 .2-.2 .3,1.5 .3,.3 .3,0 .2-2.1 .3,2.1 .3-2.1 .3-.2 .3,1.4 .2-.6 .3-.2 .3,.1 .3,1.1 .3-.9 .2-.7 .3,3.2 .3-1 .3,1.6 .2-.5 .3-.2 .3-1 .3,1.5 .3-1.3 .2-.6 .3,1.9 .3-3.5 .3,1.9 .3-.2 .2,.2 .3,1.1 .3,.5 .3-1.1 .2-.1 .3,1.2 .3-1.7 .3-1 .3,2 .2,.1 .3,1.8 .3-2.2 .3-1.3 .3,2.5 .2,.6 .3-2.2 .3,1.8 .3,.7 .2-2.5 .3,.1 .3-.7 .3,2.6 .3,.4 .2-.1 .3-2.5 .3,.7 .3-1.8 .3-.9 .2-.5 .3,.1 .3,1.3 .3-.3 .2-.1 .3-.3 .3-.8 .3,.9 .3,1.2 .2,.1 .3,.4 .3-.4 .3-.5 .3,1.5 .2-1.1 .3,2.7 .3-2.7 .3,2.1 .2-2.6 .3,2.7 .3-1.1 .3-1.7 .3,.8 .2-.1 .3,1.6 .3,.7 .3,2.8 .3-4.3 .2,2.9 .3-1.9 .3,1.1 .3,.2 .2-.8 .3-1 .3-.1 .3,0 .3,.4 .2,1.5 .3-2.4 .3,1.3 .3-1.3 .2,.1 .3,.2 .3,1.7 .3-.4 .3-.7 .2-2.7 .3,1.2 .3-.6 .3,1.7 .3,1.2 .2,0 .3,.8 .3-1.8 .3-2.5 .2,.2 .3,1.6 .3,.1 .3,1.6 .3-.7 .2,.1 .3-.3 .3,1.1 .3-1.8 .3-1 .2,2.5 .3-.2 .3-.7 .3-1.3 .2,1.8 .3-2.4 .3-.5 .3,2.3 .3-.5 .2,.8 .3,1.4 .3-1.6 .3,2.7 .3-2.7 .2,1.2 .3-1.6 .3,2.5 .3-1.2 .2,.3 .3,.6 .3-2.8 .3,1.2 .3-1.3 .2,1.2 .3,1.2 .3-1" stroke="#e24a4f" stroke-width="1.6" fill="none" stroke-linejoin="round" />
<path d="M22.8,455.5l.3-.6 .3,.1 .2,1.6 .3,.5 .3-2.2 .3,1.4 .2,.3 .3-.6 .3-1.8 .3,1.9 .3-2.7 .2,1.5 .3,.4 .3-2.8 .3,2.1 .3,.5 .2-.5 .3-.8 .3,.7 .3-1 .2,1.6 .3,.5 .3-.4 .3-.3 .3,.7 .2,.7 .3,.6 .3-.1 .3,1 .3-.5 .2-.4 .3,3.8 .3,.8 .3-2.4 .2,1 .3,1.3 .3,0 .3-.3 .3,.7 .2-1.6 .3-.3 .3,.5 .3-.6 .3,.8 .2-.4 .3,.6 .3-1.1 .3,1.7 .2-1.2 .3,1.2 .3-2.9 .3,.9 .3,1.2 .2-.9 .3,.8 .3-.9 .3,3.1 .3-1.1 .2-.7 .3,.5 .3-.9 .3,.6 .2-.6 .3-1.5 .3,.5 .3,1.5 .3-.5 .2-1.2 .3,.3 .3-.1 .3,.3 .3-1.9 .2,.1 .3,2 .3-1.1 .3,.4 .2,1.1 .3-1.4 .3-.5 .3-.6 .3-.2 .2,.9 .3-1.7 .3-.4 .3,3 .3-.6 .2,.6 .3-.4 .3,.1 .3,.7 .2-.2 .3-1.2 .3,2.2 .3-1.6 .3,.8 .2,1.9 .3-2.6 .3,1.2 .3-2 .2,.9 .3-.2 .3,.8 .3-.9 .3,.4 .2,.5 .3-1.8 .3,.6 .3,1.1 .3-1.7 .2,.5 .3,0 .3,1.3 .3-.5 .2,1 .3-.2 .3,1.9 .3-2 .3-1.2 .2,1.6 .3-.3 .3-.2 .3-2 .3,2.6 .2-1.3 .3-.2 .3-1.3 .3,1.8 .2-.8 .3,.9 .3-1.1 .3-.8 .3,1.3 .2-.8 .3,1.8 .3-1.7 .3,1.3 .3-.1 .2,.3 .3-.1 .3-.2 .3,.2 .2-.6 .3,.7 .3-.9 .3-1.9 .3,2.3 .2,1.7 .3-1.5 .3,.7 .3,.2 .3-.5 .2-.5 .3,1.9 .3-.1 .3-.7 .2-.8 .3-.4 .3-.1 .3,.4 .3-.4 .2,0 .3-.7 .3,.3 .3,1 .3-.4 .2-1.7 .3,1.9 .3-2.8 .3,3.9 .2-1.2 .3,.1 .3-1.8 .3,0 .3,.9 .2-.2 .3-.3 .3,1.6 .3,.2 .3-.8 .2-.6 .3-1.3 .3,1.9 .3-.4 .2,1.1 .3,1 .3-.3 .3-1.1 .3,.3 .2,.5 .3-2 .3,.8 .3-.2 .2-.6 .3,0 .3,.2 .3,.9 .3,.3 .2,1.7 .3-1 .3,1 .3-.9 .3-2.7 .2,1.8 .3-1.8 .3,1.8 .3-.8 .2-.1 .3,.8 .3-.8 .3,.9 .3,.3 .2-.9 .3,.3 .3-1.5 .3,1.6 .3-1.4 .2,1.9 .3,0 .3,.7 .3-.7 .2,2.9 .3-3.2 .3-.1 .3-.7 .3,1.6 .2-1.4 .3,1.8 .3-1.4 .3,.5 .3-1 .2,.5 .3-1.4 .3-.9 .3,1.6 .2-1.3 .3,.2 .3,1.7 .3-1.7 .3,1.9 .2-.9 .3,.2 .3,.7 .3,.4 .3-.7 .2,.6 .3,.7 .3,0 .3-.8 .2-.4 .3-.4 .3,.2 .3,.9 .3-.3 .2-.6 .3,.9 .3-1.3 .3,.1 .3,.1 .2,2.2 .3-3.1 .3,2.3 .3,0 .2-.2 .3,1.8 .3-1.4 .3-.7 .3-1.5 .2,.7 .3-1.2 .3,.4 .3,.5 .3-.7 .2,1.4 .3,1.4 .3-.5 .3-1.2 .2-1.6 .3,2.4 .3-.6 .3-1.1 .3,0 .2,.4 .3-1.1 .3,1.9 .3-1.6 .2,.3 .3,1.3 .3-1.7 .3,1.1 .3,.3 .2-1.1 .3,2.5 .3-1.1 .3,.9 .3-.1 .2-1 .3-.7 .3-1.1 .3,1.4 .2,.1 .3,1.5 .3-.8 .3-2 .3,1.4 .2-.6 .3-.2 .3,.7 .3,.6 .3-1.1 .2,.1 .3,.3 .3-.4 .3,.9 .2-.7 .3-.4 .3-.4 .3,1.1 .3,.6 .2-.5 .3-.9 .3,1.9 .3-1.2 .3,.1 .2,1.2 .3-2.2 .3,.3 .3-.2 .2-.3 .3,1.4 .3-.9 .3-2.4 .3,2.2 .2-.7 .3,2.2 .3-.2 .3,.1 .3,.4 .2-.2 .3-.4 .3,.3 .3,.4 .2,.6 .3-1 .3,1.3 .3-1.1 .3-.4 .2,.7 .3-1.9 .3,1.1 .3-.9 .3,.8 .2-1.2 .3,.2 .3-.3 .3-1.2 .2,1.6 .3-.7 .3,.5 .3-.2 .3,.8 .2-.5 .3,1.2 .3-1.7 .3,0 .3-.1 .2,1.2 .3,1 .3-.8 .3-1.4 .2,.9 .3-.7 .3-.4 .3-.8 .3-1.4 .2,1.5 .3,2 .3-.3 .3-2 .2,2.7 .3-1.3 .3,3.2 .3-2.3 .3-.7 .2,1.1 .3-1.7 .3,1.2 .3-.5 .3-1.5 .2,1.3 .3-2.1 .3,2.2 .3-.3 .2-.4 .3-.5 .3,3.3 .3,.1 .3-2.4 .2,2.1 .3-1.4 .3-.5 .3,.2 .3,.2 .2,1.2 .3-1.6 .3-1.3 .3,2.9 .2-1.7 .3-1.2 .3,1.2 .3-1.1 .3,.3 .2,.1 .3-.8 .3-.8 .3-.2 .3,1.6 .2-1.4 .3,1.8 .3-3.2 .3,1.4 .2-.8 .3-1.1 .3,.9 .3-1.2 .3-1.6 .2-.3 .3,1 .3-1.3 .3,2.3 .3,0 .2,0 .3,1.8 .3,.5 .3-.5 .2,.1 .3,1.7 .3,.4 .3-1.6 .3,.8 .2-.3 .3,.1 .3-.8 .3,1.8 .3-.6 .2,.4 .3,.7 .3-2.5 .3-.1 .2-.4 .3-.8 .3-.5 .3,.6 .3-1 .2,.8 .3-2.2 .3,.7 .3-1.7 .3,2.1 .2,.2 .3,2.1 .3,.8 .3,1.3 .2,.8 .3,0 .3,.1 .3-1.4 .3-.8 .2,2.1 .3-.2 .3-.8 .3,.4 .3-1.4 .2,2.6 .3-2.5 .3,1 .3,.8 .2-1.5 .3,1.7 .3,.4 .3-1.1 .3,.1 .2,.9 .3-.8 .3,2.8 .3-1.3 .2-.8 .3-.6 .3,1.5 .3,.8 .3-2.2 .2,.5 .3-.8 .3,1.4 .3-.8 .3,.9 .2-2.4 .3-.7 .3,0 .3,.9 .2-.9 .3,2.1 .3,.1 .3-.4 .3-.5 .2,1 .3,1.3 .3-2.7 .3,.9 .3,1.6 .2-2 .3,.1 .3-.6 .3,.8 .2,.1 .3-.3 .3-.1 .3,.7 .3,.2 .2,.7 .3,1.5 .3-1.3 .3-1.1 .3,1.6 .2-.2 .3-.9 .3,.2 .3,1.7 .2-1 .3-1 .3,.9 .3-.1 .3,0 .2-1.6 .3,1.3 .3-.5 .3-1.6 .3,1.8 .2,.3 .3-1.6 .3,2.7 .3-2.6 .2,.3 .3,1 .3,.8 .3,0 .3-.2 .2,2.1 .3-1.2 .3,.4 .3,1.2 .3-2.7 .2-3 .3,1.2 .3-.3 .3,.7 .2,.2 .3-1 .3,0 .3,.4 .3,.2 .2-2 .3,3.2 .3-.5 .3-.4 .3,.2 .2-1.5 .3,.6 .3,.6 .3,.8 .2-.6 .3,.3 .3-.2 .3,2.1 .3-.6 .2-.7 .3-2.3 .3,.8 .3-.9 .2,3 .3-.8 .3-.9 .3,.7 .3,2.5 .2-2 .3-3.1 .3,.5 .3-1.7 .3-.7 .2,1.9 .3,2 .3-1 .3-1.3 .2-.2 .3,.2 .3,1.1 .3-1.4 .3-.3 .2,3.3 .3-1.7 .3,1.7 .3-1.3 .3,1.2 .2-1.9 .3,1.2 .3,.6 .3-.7 .2-1.1 .3,1 .3-.8 .3-.8 .3,2 .2,.1 .3-.2 .3-2.1 .3,1.7 .3-1 .2-1.1 .3-1.9 .3,2.2 .3-.8 .2-.1 .3-2.4 .3,0 .3,2 .3-.6 .2-.8 .3-.3 .3-.2 .3-.8 .3,.4 .2-.9 .3,.6 .3-.6 .3,1 .2-1 .3-1.9 .3,1.1 .3-3 .3,1 .2,1 .3,.8 .3-2.6 .3,2.6 .3,.2 .2,.2 .3-4.1 .3,1.4 .3,.2 .2-.8 .3,1 .3-2.1 .3,1 .3-.6 .2-1.8 .3,.2 .3,.9 .3,1.4 .3,1 .2-.2 .3,1.8 .3-1.3 .3-.6 .2,3.2 .3,.8 .3-.7 .3-1 .3,1.7 .2,.9 .3-1.9 .3-.6 .3-.7 .2,1.1 .3-2.2 .3-.2 .3-.3 .3,.2 .2-1 .3,2.4 .3,.8 .3,.6 .3,.9 .2-.9 .3,1 .3-.2 .3,1.7 .2-.4 .3,1 .3-1.4 .3,1.2 .3-.3 .2,.6 .3,.7 .3,.2 .3,.2 .3-1.4 .2,3.4 .3-2 .3,.7 .3-.3 .2,1.9 .3-2.3 .3,1.8 .3,.1 .3,.1 .2-.4 .3-.7 .3-1.3 .3,3 .3-.5 .2-.6 .3,.5 .3-.7 .3-.7 .2,2.6 .3,.8 .3-1.8 .3,2.3 .3-.6 .2,.8 .3-1.1 .3,.6 .3-.8 .3,.4 .2-1.6 .3,2.6 .3-.9 .3-.7 .2,1.4 .3-2.4 .3,2.3 .3,1.4 .3-2.6 .2,1.7 .3-.5 .3-.2 .3-1.6 .3,2.4 .2-1.1 .3,.4 .3-.5 .3,.9 .2-.2 .3,.7 .3,.9 .3-.6 .3,.4 .2-.7 .3,.4 .3-.7 .3,.6 .3,.7 .2-1.7 .3,.6 .3-.5 .3-1.4 .2,1.3 .3,1 .3-1.5 .3-1.1 .3,1.9 .2-.4 .3,2.2 .3-1.8 .3,.1 .2-.4 .3,.3 .3-.7 .3-.2 .3,.8 .2-.7 .3,2.1 .3-2.6 .3,.8 .3-1.3 .2-.5 .3,2.9 .3-2.6 .3,3.5 .2-1.6 .3,1.2 .3,1.6 .3-4.7 .3,.5 .2,1.9 .3-.8 .3-.1 .3,.7 .3-.5 .2,1.2 .3,.7 .3-2.5 .3,.4 .2,.4 .3,.6 .3-2.2 .3,1.2 .3-.6 .2,.4 .3,0 .3,.1 .3-1.4 .3-.2 .2,1 .3,.7 .3,.2 .3-1 .2,0 .3,.7 .3,.3 .3-.5 .3-.4 .2,1.9 .3-2.3 .3-.9 .3-1.3 .3,1.6 .2-1.2 .3,1.5 .3-2.2 .3,.6 .2-.6 .3-.1 .3-2.6 .3,2.3 .3-1.4 .2-.2 .3,.4 .3-.3 .3,1.3 .3-1.7 .2,3 .3,.2 .3,0 .3-.1 .2,2.8 .3-.9 .3-.9 .3,2 .3-1.5 .2,.5 .3-.5 .3,.6 .3,.5 .3,.7 .2-.9 .3,.6 .3,.6 .3,0 .2,.1 .3-.5 .3,.3 .3,.5 .3-.8 .2,.9 .3-.5 .3-.2 .3,.1 .2-.1 .3,.3 .3,.4 .3-.6 .3-.1 .2,1.8 .3-.3 .3-.9 .3,.6 .3-.8 .2-.6 .3,.3 .3,2.3 .3-1.7 .2,0 .3-.4 .3,.7 .3,1.6 .3-1.3 .2,.4 .3-.4 .3-.6 .3,1 .3-.9 .2,.3 .3-.5 .3,2.9 .3-2.5 .2-.3 .3,1.1 .3-2.3 .3,.8 .3-1 .2,.8 .3-.6 .3,1.3 .3-1 .3-.1 .2-.4 .3,.5 .3-.3 .3,1.1 .2-.2 .3,.4 .3-1.3 .3,1.6 .3-1.7 .2,1.4 .3-.2 .3,.3 .3-.1 .3,.6 .2,2.6 .3-2.4 .3-.3 .3,.6 .2-.7 .3,.5 .3-1.7 .3,.2 .3,3.6 .2-2.7 .3-.6 .3,.2 .3-.1 .3-1.3 .2,1.3 .3-.4 .3,.3 .3-.2 .2-.5 .3-.3 .3-1.2 .3,3.4 .3-1.9 .2,.6 .3,2 .3-1.6 .3,1 .3-1.1 .2,.8 .3-.9 .3-.5 .3,1.3 .2-1.2 .3-1.1 .3,1.2 .3,.6 .3-1.8 .2,2 .3,.3 .3,.8 .3-2.2 .2,1.2 .3-2.2 .3,1.1 .3,.7 .3,.3 .2-.3 .3-.4 .3-.7 .3,.1 .3,.8 .2,.8 .3,.6 .3,.5 .3-.3 .2-2.6 .3,.8 .3,.6 .3-.5 .3,1.8 .2-.2 .3-1.1 .3,0 .3,1.1 .3-1.8 .2-.6 .3,1.3 .3-.5 .3,.6 .2-.5 .3,.4 .3-1.2 .3-.1 .3,.6 .2-2.5 .3,2.5 .3,.6 .3-.6 .3-.5 .2,1.4 .3-.5 .3,.5 .3,.4 .2-1.1 .3-.3 .3-.6 .3,.1 .3,.2 .2,.3 .3,1.1 .3-2.7" stroke="#2e6cbb" stroke-width="1.6" fill="none" stroke-linejoin="round" />
<path d="M22.8,431.4l.3,1.8 .3-1.2 .2-.5 .3,0 .3-2 .3,1 .2-.7 .3,.1 .3,.2 .3-3.9 .3,4.3 .2-3 .3,3.9 .3-.5 .3,.8 .3,2.2 .2-3.5 .3,2 .3-1 .3-2.6 .2,2.8 .3-.8 .3-.7 .3-.3 .3,5.1 .2-4.4 .3-1.2 .3,.9 .3,1.4 .3,1.1 .2,.1 .3-1.4 .3,1.9 .3-1.5 .2-2.1 .3,.7 .3,.2 .3,.7 .3-.5 .2-1.5 .3,.7 .3-.1 .3,3.5 .3-2.5 .2,2.3 .3,.1 .3-1.7 .3,1.1 .2-.7 .3-1 .3,1.1 .3,1.2 .3-.7 .2-1.7 .3-.4 .3,2.7 .3-4.6 .3,1.8 .2,.6 .3,0 .3,.8 .3-.3 .2-.1 .3,1 .3-2 .3-.1 .3-1.3 .2,.7 .3-.2 .3-1.9 .3,3 .3,1.4 .2-.3 .3-.8 .3-2.9 .3,2.6 .2-3.3 .3-1.1 .3,1.8 .3-4.8 .3,.5 .2-1.1 .3-.8 .3-.4 .3,1.8 .3,.7 .2,2.3 .3,1.4 .3-3 .3,2.2 .2,.5 .3-.2 .3,.5 .3,1.9 .3-.1 .2-2.1 .3,.6 .3,1.3 .3-2.1 .2,.4 .3,2.8 .3-.5 .3-2.9 .3-.6 .2,1.9 .3-2 .3,.9 .3-.7 .3,1.7 .2-3.5 .3,1.6 .3,1.7 .3,3.1 .2-1.1 .3-2.8 .3,1.5 .3,.8 .3-1.9 .2-.6 .3,.8 .3,1.1 .3-2.4 .3,.6 .2-.5 .3-.7 .3-1.5 .3,1.4 .2-1.9 .3-1 .3,1.8 .3,.6 .3,.5 .2-3 .3,3.2 .3-2.6 .3-1.3 .3,.7 .2,3.5 .3-1 .3-1.3 .3,.3 .2,1.2 .3-.9 .3,3.6 .3-3.3 .3-1.3 .2,2.4 .3,.5 .3-.3 .3,.6 .3,2.5 .2-3.5 .3,.3 .3-1.2 .3,3.4 .2,.6 .3-1.3 .3,.8 .3-1.7 .3,1.7 .2-.2 .3-1.9 .3,.9 .3-.6 .3-.3 .2,1.1 .3,1.2 .3,1.2 .3-2.8 .2-.1 .3-.2 .3,2.5 .3-.2 .3-1 .2,1.6 .3-.7 .3-3.4 .3,3.2 .3-.9 .2-1.9 .3-1.5 .3,2.1 .3-1.4 .2-1.1 .3-4.9 .3-.5 .3,.6 .3-3.8 .2,.1 .3-.9 .3,5.9 .3,1 .2,.7 .3,1.4 .3,.4 .3,1.7 .3,1.7 .2-.8 .3,3.1 .3-1.7 .3-1 .3,3.3 .2-1.3 .3,1.2 .3-.7 .3-1.8 .2,3 .3-3 .3,2.6 .3-3.6 .3-.5 .2,2.7 .3,.3 .3-1 .3-1.4 .3,2.8 .2-3 .3,1.6 .3,.5 .3-.1 .2,.8 .3-2.3 .3,1.7 .3-.4 .3-3.1 .2,0 .3,1.1 .3-.6 .3,.6 .3-3.1 .2,4 .3-.6 .3-1.6 .3-1.1 .2,1.7 .3-1 .3,2.2 .3-.6 .3,1 .2-.8 .3,3 .3-4.9 .3,1.6 .3,2.3 .2-2.1 .3,3.4 .3-2.4 .3,2.4 .2-1.1 .3,.1 .3,.5 .3,.3 .3-.1 .2,2.4 .3-2.6 .3-1.6 .3,1.8 .3-.7 .2,.7 .3-.5 .3-4.2 .3,1.8 .2-1.9 .3-2.3 .3-.1 .3-4.4 .3,3 .2,4.5 .3-4.2 .3,2.4 .3,2.5 .3,.9 .2,1.2 .3-4.2 .3,3.3 .3,.8 .2-2.1 .3,2 .3,2.9 .3-1.4 .3-1.4 .2-3.9 .3,3 .3,1.3 .3-.9 .2,.4 .3,3.3 .3-3.7 .3-2.1 .3,2 .2-.1 .3,.2 .3-.2 .3,.5 .3-1.3 .2-3.3 .3,1.1 .3,.1 .3-1.1 .2,2.1 .3-.1 .3-2.9 .3,1.2 .3,1.7 .2-1 .3-1.2 .3,1.4 .3-1.3 .3-.3 .2,3.3 .3-.7 .3,.7 .3-1.2 .2,.6 .3-.8 .3,1.1 .3,.8 .3-.7 .2,.6 .3-3.7 .3,1.3 .3,2.2 .3,.2 .2-1.3 .3-1.1 .3-1.7 .3,1.9 .2-.6 .3-3.3 .3,2.3 .3-.8 .3,0 .2-1.3 .3,2.4 .3-1.8 .3,4.3 .3-2.1 .2-1.3 .3,3.7 .3-.3 .3-2.2 .2,4.5 .3-3.1 .3,1.8 .3,1.8 .3-4 .2,4.4 .3-1.3 .3,.3 .3-2.1 .3,2.2 .2-1.9 .3,1 .3,1.5 .3,.7 .2,4.1 .3-3.1 .3,.8 .3,0 .3,.2 .2,.5 .3,.2 .3-1.5 .3,.8 .3,.4 .2,2.3 .3,1.2 .3-2.1 .3-2.6 .2,4.9 .3-2.3 .3-2.2 .3,.5 .3-.8 .2,0 .3,.8 .3,.2 .3-.7 .2-1.6 .3,1.1 .3,.7 .3-1.4 .3-.2 .2-2.7 .3,2.4 .3-.1 .3-2.5 .3,.1 .2,1.9 .3-3.7 .3,1.1 .3-.7 .2,.7 .3-.9 .3-.4 .3,1.6 .3-1.5 .2,.4 .3-2 .3-.1 .3,.9 .3,.7 .2-.1 .3-.6 .3-1.9 .3,.5 .2,.2 .3-1.2 .3-.8 .3,.6 .3,2.1 .2-3.2 .3-.5 .3,.3 .3,0 .3-.2 .2-3 .3-2.4 .3,.3 .3-5.6 .2-2.3 .3-5.8 .3-5.6 .3-6.8 .3-8.7 .2-6.5 .3-4.5 .3,.3 .3,4.6 .3,2.3 .2,9.2 .3,6.1 .3,7 .3,4.1 .2,5.2 .3,2.3 .3,2.9 .3-.6 .3,2.7 .2,1.3 .3-2.5 .3,.5 .3-2.5 .3,2.6 .2-4.4 .3,.4 .3-4.6 .3-4.4 .2-2.6 .3-5.3 .3-4.6 .3-3.9 .3-4.3 .2-2.1 .3-.1 .3,.1 .3,3.3 .3,2.6 .2,3.6 .3,5 .3,4 .3,3.9 .2,4.7 .3-1.7 .3,6.7 .3-.9 .3,4 .2,2.1 .3-1.8 .3-.4 .3,3.3 .3-.6 .2-.5 .3-.5 .3,3 .3-3.8 .2-.8 .3,3.3 .3-1.9 .3-.8 .3,2.2 .2-1.6 .3,.7 .3-.2 .3-1.5 .2,1.9 .3-1.5 .3-1.9 .3-.7 .3,1.5 .2-2.4 .3-.9 .3-1.3 .3-3 .3-5.6 .2-.5 .3-2 .3-.7 .3,.7 .2,.6 .3,3.6 .3,4.6 .3-.5 .3,5 .2,2.4 .3-.1 .3,1.8 .3-1 .3-1.3 .2,2 .3-.1 .3,.6 .3,0 .2,2.2 .3-.9 .3-1.8 .3,1.2 .3,.8 .2-2.3 .3,.4 .3,0 .3-.5 .3,.4 .2,1.4 .3,.6 .3-1.2 .3-.7 .2,.4 .3-1.9 .3-1.8 .3,.5 .3-1.4 .2-1.2 .3,1.4 .3-.2 .3,.4 .3-.2 .2,3.4 .3-1.3 .3,.6 .3,1.3 .2,2 .3-1.7 .3,2 .3-1.7 .3-.7 .2,.1 .3,4.9 .3-5.2 .3,3.5 .3,1.9 .2-3 .3,2.5 .3,1.1 .3-1.5 .2,1.4 .3-2.2 .3-1.9 .3,1 .3-1.1 .2-1.4 .3,.3 .3,4.6 .3-3.5 .3,1 .2,.4 .3,1.5 .3-1 .3,.6 .2-1.3 .3-1.1 .3,.1 .3,1.7 .3,2.2 .2-1.2 .3,.7 .3-1.8 .3-1 .2-2.1 .3,2 .3-3.3 .3,2.1 .3,1.8 .2-3 .3-.8 .3-2.9 .3-3.7 .3-1.4 .2-1.5 .3-.3 .3-.9 .3-4.1 .2,.7 .3,.9 .3,1.1 .3,.4 .3,4 .2,2.9 .3,1.2 .3,0 .3,3.1 .3-1.7 .2,3.3 .3-2 .3,.7 .3-.5 .2-.8 .3-1.6 .3-1.2 .3,3.3 .3-3 .2-.6 .3,2.1 .3-5.2 .3-.5 .3-3 .2-.4 .3-3 .3-2.6 .3-3.4 .2-1.7 .3-2.1 .3-7.6 .3-.9 .3-4.8 .2-4.1 .3-6.9 .3-2.6 .3-8.4 .3-4.3 .2-6.1 .3-6.5 .3-1.6 .3-2.2 .2,1.7 .3,2.9 .3,4.7 .3,4.5 .3,3.8 .2,5.6 .3,.3 .3-1.2 .3,1.8 .3,.1 .2,.6 .3-.8 .3-1.4 .3,1.6 .2-4.7 .3-4.1 .3-3.6 .3-3.3 .3-2.1 .2-3.4 .3,.2 .3-4.3 .3,6.2 .3,4.1 .2,4.7 .3,1.7 .3,1.3 .3,5.8 .2,1.2 .3-.2 .3,1.6 .3,2.1 .3-1.2 .2-2.2 .3-4.7 .3,1.9 .3-8.3 .2-2 .3-4.7 .3,1.4 .3-2.4 .3,1.3 .2,1.8 .3,4.5 .3,5.8 .3,3.6 .3,9.1 .2,5.6 .3,2.8 .3,5 .3,4 .2,5.6 .3,2.3 .3,2.3 .3,1.8 .3,1 .2,3.8 .3,2.2 .3,.7 .3,.9 .3,.2 .2-2.7 .3-2.6 .3-2 .3-3.6 .2-2.3 .3-.1 .3-2.2 .3,4.9 .3,.4 .2,7.3 .3,2.6 .3,5.2 .3,2.3 .3,1.9 .2,3.8 .3,.3 .3,1 .3,2.3 .2,1.3 .3,.3 .3,.3 .3-1.6 .3,1.5 .2,.7 .3,2.3 .3-1.8 .3-.3 .3,1.4 .2-.5 .3,.4 .3,.3 .3-1.9 .2,3.5 .3-.5 .3-.2 .3-.8 .3,2.4 .2,1.9 .3-1.3 .3,0 .3,3.2 .3-2.9 .2-1 .3,1.4 .3-.1 .3,0 .2,.3 .3,1.6 .3-.2 .3,.3 .3,.8 .2,1.8 .3,1.3 .3,.5 .3-.2 .3-4.8 .2,3.1 .3,.6 .3,.4 .3-1.8 .2,4.4 .3-1 .3-1.5 .3,.6 .3-1.3 .2-1.2 .3,1.4 .3-1.2 .3-.9 .2,1.6 .3,.1 .3-1.3 .3,3.1 .3-3.5 .2,2.8 .3-1.3 .3-3.3 .3,.1 .3,.9 .2-1.9 .3-1.5 .3,1.8 .3,2.4 .2-4.2 .3,2 .3-1.4 .3-1.2 .3,0 .2,0 .3,1.1 .3-.2 .3-1.4 .3,3.5 .2-4.2 .3,2.8 .3,0 .3,.8 .2-1.4 .3,.1 .3-1.2 .3,.3 .3-1.7 .2,1.9 .3-2.3 .3,2.1 .3-.6 .3,.2 .2-1.7 .3,.5 .3-3.2 .3-.6 .2,2 .3-3.1 .3,3.5 .3-2.8 .3,.4 .2-.4 .3-1.4 .3-2.9 .3-2.4 .3-2.8 .2-1.1 .3-1.8 .3-1.9 .3-2.7 .2-1.6 .3-3.7 .3,2 .3,.3 .3-1.6 .2,1.7 .3,1.8 .3-.7 .3,2.3 .3,.3 .2-.6 .3,3.2 .3,1.6 .3,3.1 .2-.7 .3,1.6 .3-.2 .3,1.8 .3-.5 .2,1.6 .3-.6 .3-.9 .3,1 .3,.3 .2,1 .3,2.9 .3-4.2 .3,4 .2,1.9 .3,1.3 .3-2 .3,3.3 .3,1.7 .2-.7 .3,.3 .3,3.1 .3-.1 .2,2.8 .3-1.3 .3,2.7 .3-2.1 .3-1 .2,.1 .3-.8 .3,1.6 .3,1.5 .3-2.2 .2,1 .3-2.1 .3,2.5 .3,2.3 .2-4.3 .3,4.1 .3-.5 .3-4.2 .3,.9 .2,.7 .3,2.8 .3-1.8 .3,.5 .3,1.3 .2-.5 .3,.3 .3-.2 .3,1.8 .2-2.9 .3,3 .3-3.6 .3,.4 .3,2.4 .2,.4 .3-4 .3,3.1 .3-2.1 .3-.1 .2,1.8 .3-1.1 .3,2.2 .3-1 .2,3.6 .3-2.6 .3-1.2 .3-.2 .3,.5 .2,1.2 .3,.4 .3,.7 .3-.5 .3-.3 .2,.8 .3-.9 .3,1.5 .3,.8 .2-.1 .3-2.1 .3-1.6 .3,1 .3,.1 .2-3.3 .3,2.4 .3,.9 .3-1.4 .3-.7 .2,4.1 .3-.2 .3-1.1 .3,1.7 .2,0 .3-3.5 .3,3.9 .3-5.2 .3,.8 .2-.8 .3,1.4 .3-1.2 .3,2.2 .3,1.7 .2-1.5 .3-.4 .3,1.6 .3-3.8 .2,1.5 .3-1.5 .3,.6 .3,0 .3-.3 .2-.1 .3-.8 .3,.1 .3,.9 .2-1 .3-1 .3-.1 .3-.8 .3,1.5 .2,.6 .3-.6 .3-.8 .3,.5 .3-2.5 .2-2 .3,4 .3-1.5 .3,.9 .2-.6 .3,2.4 .3-3.7 .3,1.2 .3-1 .2-1.3 .3-1.2 .3,3.2 .3-.7 .3,.1 .2,1.3 .3-1.7 .3-.8 .3,.4 .2,.4 .3-.6 .3-1 .3,3.7 .3-5.8 .2,3.1 .3,.2 .3-.4 .3-.9 .3,.9 .2-.7 .3-1 .3,.9 .3-.7 .2-.6 .3,1.4 .3-2.7 .3,2.3 .3-1.2 .2,1.9 .3-1 .3,.4" stroke="#26a065" stroke-width="1.6" fill="none" stroke-linejoin="round" />
<line x1="32.50" y1="326.90" x2="57.00" y2="326.90" stroke="#26a065" stroke-width="1.6" />
<text x="61.4" y="329.90" font-size="10.4" text-anchor="start" font-family="Liberation Sans, sans-serif" font-weight="bold">10<tspan font-size="7" dy="-3.8">−3</tspan><tspan dy="3.8">M</tspan></text>
<line x1="32.50" y1="343.40" x2="57.00" y2="343.40" stroke="#2e6cbb" stroke-width="1.6" />
<text x="61.4" y="346.40" font-size="10.4" text-anchor="start" font-family="Liberation Sans, sans-serif" font-weight="bold">10<tspan font-size="7" dy="-3.8">−4</tspan><tspan dy="3.8">M</tspan></text>
<line x1="32.50" y1="359.90" x2="57.00" y2="359.90" stroke="#e24a4f" stroke-width="1.6" />
<text x="61.4" y="362.90" font-size="10.4" text-anchor="start" font-family="Liberation Sans, sans-serif" font-weight="bold">10<tspan font-size="7" dy="-3.8">−5</tspan><tspan dy="3.8">M</tspan></text>
<line x1="32.50" y1="376.40" x2="57.00" y2="376.40" stroke="#5a5c5e" stroke-width="1.6" />
<text x="61.4" y="379.40" font-size="10.4" text-anchor="start" font-family="Liberation Sans, sans-serif" font-weight="bold">10<tspan font-size="7" dy="-3.8">−6</tspan><tspan dy="3.8">M</tspan></text>
<path d="M22.8,310.0 H301.3 V541.8 H22.8 Z" fill="none" stroke="#000" stroke-width="1.6"/>
<line x1="22.80" y1="541.80" x2="22.80" y2="546.60" stroke="#000" stroke-width="1.2" />
<text x="22.80" y="564.60" font-size="12" text-anchor="middle" font-family="Liberation Sans, sans-serif" font-weight="bold">600</text>
<line x1="46.01" y1="541.80" x2="46.01" y2="544.20" stroke="#000" stroke-width="1.2" />
<line x1="69.22" y1="541.80" x2="69.22" y2="546.60" stroke="#000" stroke-width="1.2" />
<text x="69.22" y="564.60" font-size="12" text-anchor="middle" font-family="Liberation Sans, sans-serif" font-weight="bold">800</text>
<line x1="92.42" y1="541.80" x2="92.42" y2="544.20" stroke="#000" stroke-width="1.2" />
<line x1="115.63" y1="541.80" x2="115.63" y2="546.60" stroke="#000" stroke-width="1.2" />
<text x="115.63" y="564.60" font-size="12" text-anchor="middle" font-family="Liberation Sans, sans-serif" font-weight="bold">1000</text>
<line x1="138.84" y1="541.80" x2="138.84" y2="544.20" stroke="#000" stroke-width="1.2" />
<line x1="162.05" y1="541.80" x2="162.05" y2="546.60" stroke="#000" stroke-width="1.2" />
<text x="162.05" y="564.60" font-size="12" text-anchor="middle" font-family="Liberation Sans, sans-serif" font-weight="bold">1200</text>
<line x1="185.26" y1="541.80" x2="185.26" y2="544.20" stroke="#000" stroke-width="1.2" />
<line x1="208.46" y1="541.80" x2="208.46" y2="546.60" stroke="#000" stroke-width="1.2" />
<text x="208.46" y="564.60" font-size="12" text-anchor="middle" font-family="Liberation Sans, sans-serif" font-weight="bold">1400</text>
<line x1="231.67" y1="541.80" x2="231.67" y2="544.20" stroke="#000" stroke-width="1.2" />
<line x1="254.88" y1="541.80" x2="254.88" y2="546.60" stroke="#000" stroke-width="1.2" />
<text x="254.88" y="564.60" font-size="12" text-anchor="middle" font-family="Liberation Sans, sans-serif" font-weight="bold">1600</text>
<line x1="278.09" y1="541.80" x2="278.09" y2="544.20" stroke="#000" stroke-width="1.2" />
<line x1="301.30" y1="541.80" x2="301.30" y2="546.60" stroke="#000" stroke-width="1.2" />
<text x="301.30" y="564.60" font-size="12" text-anchor="middle" font-family="Liberation Sans, sans-serif" font-weight="bold">1800</text>
<text x="12.00" y="426.00" font-size="12.8" text-anchor="middle" transform="rotate(-90 12 426)" font-family="Liberation Sans, sans-serif" font-weight="bold">Intensity (arb.u.)</text>
<text x="158.6" y="587" font-size="12.8" text-anchor="middle" font-family="Liberation Sans, sans-serif" font-weight="bold">Raman shift (cm<tspan font-size="7.94" dy="-4.61">−1</tspan><tspan dy="4.61">)</tspan></text>
<path d="M398.0,540.5 398.0,440.3 522.4,326.5 522.4,395.8 Z" fill="#dae7e7" stroke="none"/>
<path d="M522.4,326.5 661.7,326.5 661.7,395.8 522.4,395.8 Z" fill="#f0f2d2" stroke="none"/>
<line x1="543.62" y1="326.53" x2="543.62" y2="395.77" stroke="#cdd0bb" stroke-width="0.9" />
<line x1="564.83" y1="326.53" x2="564.83" y2="395.77" stroke="#cdd0bb" stroke-width="0.9" />
<line x1="586.05" y1="326.53" x2="586.05" y2="395.77" stroke="#cdd0bb" stroke-width="0.9" />
<line x1="607.27" y1="326.53" x2="607.27" y2="395.77" stroke="#cdd0bb" stroke-width="0.9" />
<line x1="628.48" y1="326.53" x2="628.48" y2="395.77" stroke="#cdd0bb" stroke-width="0.9" />
<line x1="649.70" y1="326.53" x2="649.70" y2="395.77" stroke="#cdd0bb" stroke-width="0.9" />
<line x1="522.40" y1="382.37" x2="661.65" y2="382.37" stroke="#dcdfc2" stroke-width="0.9" />
<line x1="398.00" y1="521.10" x2="522.40" y2="382.37" stroke="#a3b0b0" stroke-width="0.75" />
<line x1="522.40" y1="373.17" x2="661.65" y2="373.17" stroke="#dcdfc2" stroke-width="0.9" />
<line x1="398.00" y1="507.80" x2="522.40" y2="373.17" stroke="#a3b0b0" stroke-width="0.75" />
<line x1="522.40" y1="363.98" x2="661.65" y2="363.98" stroke="#dcdfc2" stroke-width="0.9" />
<line x1="398.00" y1="494.50" x2="522.40" y2="363.98" stroke="#a3b0b0" stroke-width="0.75" />
<line x1="522.40" y1="354.79" x2="661.65" y2="354.79" stroke="#dcdfc2" stroke-width="0.9" />
<line x1="398.00" y1="481.20" x2="522.40" y2="354.79" stroke="#a3b0b0" stroke-width="0.75" />
<line x1="522.40" y1="345.60" x2="661.65" y2="345.60" stroke="#dcdfc2" stroke-width="0.9" />
<line x1="398.00" y1="467.90" x2="522.40" y2="345.60" stroke="#a3b0b0" stroke-width="0.75" />
<line x1="522.40" y1="336.41" x2="661.65" y2="336.41" stroke="#dcdfc2" stroke-width="0.9" />
<line x1="398.00" y1="454.60" x2="522.40" y2="336.41" stroke="#a3b0b0" stroke-width="0.75" />
<line x1="425.92" y1="414.76" x2="425.92" y2="508.02" stroke="#b9c6c8" stroke-width="0.6" />
<line x1="455.81" y1="387.43" x2="455.81" y2="473.24" stroke="#b9c6c8" stroke-width="0.6" />
<line x1="481.29" y1="364.13" x2="481.29" y2="443.60" stroke="#b9c6c8" stroke-width="0.6" />
<line x1="503.26" y1="344.03" x2="503.26" y2="418.04" stroke="#b9c6c8" stroke-width="0.6" />
<path d="M522.4,385.1l.4-.4 .4-.5 .5-.3 .4,.2 .4,.6 .4-.7 .5-.7 .4,.3 .4,.9 .4,.7 .5-.2 .4,1 .4,.6 .4,.5 .5-.7 .4-.1 .4,0 .4,0 .5,.9 .4-1.2 .4-.2 .4-1.2 .5,1.3 .4,.1 .4-.5 .4-.9 .5,.1 .4,1 .4,.4 .4-.1 .5-1 .4,0 .4-.6 .4-.7 .5-1.5 .4-1.8 .4-1.2 .4-1.5 .4-1 .5-1.6 .4-.3 .4,1 .4,1.4 .5,1.5 .4,1.6 .4,1.7 .4,1.3 .5,.4 .4,.6 .4,.6 .4,.4 .5,.1 .4-.5 .4-.5 .4-.1 .5-.1 .4-.4 .4-1.2 .4-.9 .5-1.4 .4-.3 .4-.4 .4,.6 .5,0 .4-.7 .4-1.9 .4-3.3 .5-4.2 .4-5.8 .4-7.2 .4-8.2 .5-7.4 .4-3.7 .4,3.7 .4,6.7 .4,8 .5,5.6 .4,5.7 .4,4 .4,3.1 .5,1.5 .4,.8 .4,.6 .4,.4 .5,.1 .4-.5 .4-1 .4-.4 .5-1.9 .4-1.8 .4-2.5 .4-2 .5-2 .4-.5 .4,0 .4,1 .5,.3 .4,1.3 .4,1 .4,.4 .5,.2 .4,.8 .4,.7 .4,.6 .5,.1 .4,1.1 .4,1.1 .4,.3 .5-.8 .4,0 .4,0 .4,.5 .4,.6 .5,1 .4,.4 .4-.5 .4-.2 .5,.6 .4,.2 .4,.3 .4-1.1 .5,.3 .4,.1 .4,.6 .4-.8 .5,.1 .4,.8 .4,1.8 .4,.7 .5,1.2 .4,.7 .4,1 .4,.4 .5-.6 .4-.1 .4,.1 .4,.2 .5,.5 .4,.7 .4,.9 .4,.6 .5-.2 .4,.1 .4,.2 .4,.6 .5,.1 .4,.3 .4,.4 .4,.8 .4,0 .5-.3 .4-.9 .4-.4 .4-.8 .5,.3 .4-.6 .4,.2 .4-.9 .5-.4 .4-1.3 .4,.3 .4-.4 .5-.2 .4-.9 .4-.4 .4-.2 .5,0 .4-.7 .4,.4 .4-1 .5-.9 .4-1.7 .4-.8 .4,0 .5-.9 .4-.8 .4-1.9 .4-1.8 .5-1 .4-1.4 .4,.1 .4-.3 .5,1.8 .4,.9 .4,.6 .4,.9 .4,1.1 .5,.1 .4-.7 .4-1 .4-.6 .5-2.3 .4-2 .4-3.5 .4-3.8 .5-4.6 .4-2.2 .4,1.7 .4,4.4 .5,4.4 .4,3.4 .4,1.8 .4,1 .5,1 .4,.8 .4,.3 .4,.2 .5-.7 .4,.5 .4,.6 .4,.4 .5-1.4 .4-3.2 .4-4.3 .4-6.4 .5-7.8 .4-8.9 .4-6.6 .4-.4 .5,6.3 .4,9.9 .4,8.8 .4,7 .4,4.7 .5,3.2 .4,.9 .4,.8 .4,1.6 .5,1.9 .4,2.1 .4,1.7 .4,1.2 .5,.7 .4,.5 .4,0 .4,.3 .5,.3 .4,.4 .4,0 .4-1.3 .5-.7 .4-.9 .4,.1 .4,.1 .5-.8 .4-1.5 .4-.9 .4,.3 .5,.2 .4,.1 .4-.4 .4,.5 .5-1 .4-.6 .4-.7 .4-.1 .5,.2 .4-.3 .4-1 .4-.8 .4-1.2 .5,.3 .4-.5 .4,.1 .4-.6 .5-.8 .4,.1 .4-.8 .4-.5 .5-1.2 .4-.3 .4-.1 .4-.8 .5-.5 .4-.2 .4-.3 .4-.9 .5-.8 .4-.4 .4-.1 .4-.1 .5-.1 .4,.4 .4-.3 .4-.7 .5-.6 .4,.1 .4-.2 .4-.3 .5-.4 .4,.1 .4-.1 .4,.2 .5,.6 .4-.2 .4,.2 .4,.4 .4,.8 .5,0 .4,.7 .4,0 .4,1 .5-.6 .4,.7 .4,.7 .4,.9 .5,.5 .4,.8 .4,1 .4,1.4 .5,.2 .4,1.3 .4,.6 .4,1.8 .5,0 .4,1.4 .4,.4 .4,.8 .5,.1 .4,.5 .4,1.1 .4,.8 .5,1.4 .4,.4 .4,.3 .4-.2L660.7,395.8L522.4,395.8Z" fill="#fff" stroke="#184aa8" stroke-width="1.3" stroke-linejoin="round" stroke-dasharray="429.4 9999"/>
<path d="M518.8,389.1l.4-.7 .4-.2 .5-.4 .4,.1 .4,.9 .5-.3 .4,.1 .4-1.3 .4,1.5 .5,.2 .4,1.5 .4-.5 .5,.8 .4-.3 .4,.1 .4-.7 .5,.1 .4-.2 .4-.1 .5-.2 .4,.3 .4,0 .5,.2 .4-.3 .4,.6 .4,.1 .5,1.2 .4-.5 .4,.1 .5-1.6 .4-.7 .4-.3 .5-.7 .4,0 .4-1.8 .4-.5 .5-1.5 .4-1.5 .4-2.3 .5-1.7 .4,0 .4,1.4 .5,1.3 .4,1.7 .4,1.4 .4,2 .5,.8 .4,.5 .4,.7 .5,.6 .4-.4 .4-.9 .5-.4 .4,.4 .4,.4 .4-.6 .5-.2 .4-.9 .4-.5 .5-1 .4-.8 .4-.3 .5,.1 .4-.2 .4-.8 .4-1.6 .5-2.7 .4-4.3 .4-6.6 .5-8.6 .4-8.8 .4-7 .5-2.8 .4,2.1 .4,6.6 .4,8.7 .5,8.2 .4,6.4 .4,3.8 .5,3.1 .4,1.3 .4,1.1 .4,0 .5-.5 .4-.9 .4-.5 .5,.2 .4-.4 .4-1.3 .5-2.1 .4-2.9 .4-3.2 .4-3.1 .5-1.4 .4,.2 .4,1.2 .5,1.6 .4,1.5 .4,1.2 .5,.4 .4,1.4 .4,1.4 .4,1.3 .5,.8 .4-.2 .4-.3 .5,.3 .4,.9 .4,1.5 .5-.5 .4,.5 .4-.2 .4,.2 .5,.3 .4,.3 .4,.4 .5,.3 .4-.3 .4,.4 .5-.4 .4,0 .4-.5 .4,.5 .5-.5 .4,.5 .4-.6 .5,1.6 .4,.9 .4,1.5 .5,.1 .4,.6 .4,.3 .4,1.5 .5,.4 .4,.5 .4-.2 .5,.8 .4,.2 .4,.7 .5-1.2 .4,.6 .4-.9 .4,.8 .5,0 .4,1.4 .4,.6 .5,.3 .4,.8 .4-.1 .5,.9 .4-1.1 .4,.9 .4-1.1 .5-.8 .4-1.7 .4-.4 .5-.1 .4-.4 .4-.9 .4-.4 .5-.7 .4-.3 .4-.6 .5-.4 .4-.3 .4-.4 .5-1.3 .4-.3 .4-1.4 .4,0 .5,.1 .4,0 .4-.6 .5-1.8 .4-.6 .4-1 .5-1 .4-1.9 .4-1.8 .4-1.6 .5-.9 .4,.8 .4,.7 .5,1.9 .4,.9 .4,1 .5-.9 .4,0 .4,.2 .4,.1 .5-2.1 .4-2 .4-3.4 .5-4 .4-7.2 .4-6.1 .5-3.1 .4,3.1 .4,6.2 .4,6.2 .5,5.3 .4,3.7 .4,2.6 .5,.9 .4,.6 .4-.4 .5,1 .4-.5 .4,.1 .4-1.5 .5-.2 .4-.3 .4-1.1 .5-3.9 .4-5.7 .4-7 .5-6.6 .4-4.9 .4,.7 .4,6.1 .5,8.7 .4,6.9 .4,4.2 .5,3.1 .4,2.2 .4,.7 .4,.7 .5,1.9 .4,3.2 .4,2.8 .5,1.8 .4,1.2 .4,.7 .5,1.1 .4-.6 .4,0 .4-.4 .5,.6 .4-.2 .4-.1 .5,.6 .4-.8 .4-.5 .5-1.7 .4,.1 .4-.4 .4-.6 .5-.1 .4-.4 .4-.4 .5-.9 .4,.2 .4-.3 .5,.1 .4-1.2 .4-.9 .4-1.3 .5-.2 .4,.3 .4,.2 .5-.7 .4-.4 .4-.5 .5,.7 .4-.4 .4-.4 .4-1.2 .5-1.3 .4-.2 .4-.2 .5-.3 .4-.6 .4-1 .5-.3 .4-.9 .4-.2 .4-.8 .5-1.1 .4-.3 .4,.1 .5-.1 .4-.7 .4,.1 .5,.2 .4-.5 .4-.2 .4-.4 .5,0 .4-.3 .4-.1 .5-.2 .4-.5 .4-.1 .4,1 .5,.3 .4,.4 .4-.7 .5,1.1 .4,.2 .4,.7 .5,.6 .4,.3 .4,1 .4,.5 .5,1 .4,.6 .4,.1 .5,1 .4,.4 .4,.5 .5,.7 .4,.5 .4,.7 .4,1 .5,.7 .4,.8 .4,.4 .5,.6 .4,.3 .4,.5 .5,1.7 .4,1.2 .4,1.3 .4,.4 .5,.8 .4,.8L658.9,400.0L518.8,400.0Z" fill="#fff" stroke="#1b54b0" stroke-width="1.3" stroke-linejoin="round" stroke-dasharray="448.5 9999"/>
<path d="M515,393.2l.5-.1 .4-.6 .5-1 .4-.5 .4,0 .5,.4 .4,1.3 .4,1 .5,.2 .4-.2 .4-.8 .5,0 .4,.5 .4,.7 .5-.3 .4-.1 .5-.1 .4,1.2 .4-.2 .5,.2 .4-.1 .4-.4 .5,.2 .4-.3 .4,.5 .5-.5 .4-.1 .4,0 .5-.1 .4,.2 .4-.3 .5-.9 .4-.3 .5-1.5 .4-1.2 .4-2 .5-2.1 .4-2 .4-1.4 .5-.8 .4,.1 .4,.8 .5,1.6 .4,1.8 .4,1.8 .5,2.6 .4,1.3 .5,1 .4,.5 .4,.8 .5,.7 .4-.6 .4-.8 .5,0 .4-.5 .4,.5 .5-1.4 .4-.2 .4-1.6 .5-1.2 .4-.7 .4,.5 .5,.2 .4-.9 .5-.8 .4-1.9 .4-2.6 .5-4.2 .4-6.5 .4-7.9 .5-10.4 .4-7.7 .4-3.2 .5,3.7 .4,8.2 .4,8.9 .5,7.3 .4,5.7 .5,3.7 .4,3 .4,1.1 .5,.4 .4,.3 .4,.5 .5,.3 .4-1.3 .4-.1 .5-.6 .4-.9 .4-2.9 .5-3.3 .4-3.1 .5-3.1 .4-.4 .4,.6 .5,2.3 .4,1.3 .4,1.8 .5,.7 .4,1.4 .4,1 .5,1.3 .4,.4 .4,.7 .5,.6 .4-.1 .4,.1 .5-.5 .4,1.1 .5,1.2 .4,.9 .4,0 .5-.7 .4-.4 .4-.2 .5,0 .4,.3 .4,.6 .5,1 .4,0 .4,.2 .5,0 .4-.1 .5-.3 .4-.4 .4,.9 .5,.2 .4,.8 .4,.5 .5,1.3 .4,1.1 .4,.9 .5-.4 .4,.4 .4-.4 .5,1 .4-.1 .5,.7 .4,.3 .4-.3 .5-.1 .4,.3 .4,1.1 .5,1.1 .4-.4 .4,.2 .5,.2 .4,.5 .4,.5 .5-.6 .4-.4 .4-1 .5-.6 .4,.5 .5,.1 .4,0 .4-1 .5-.8 .4-.7 .4-.2 .5,.3 .4-.4 .4-.6 .5-1.6 .4-1.1 .4-.5 .5-.4 .4,.7 .5-.8 .4-.4 .4-.9 .5-.4 .4,0 .4-.7 .5-.5 .4-2 .4-.3 .5-1.2 .4-1.6 .4-1.3 .5,.1 .4,.6 .5-.5 .4,.1 .4,1 .5,1.4 .4,.2 .4-.1 .5-.2 .4-.8 .4-1.5 .5-2.5 .4-3.4 .4-4.4 .5-6.2 .4-5.7 .4-2.7 .5,2.9 .4,5.7 .5,5.8 .4,4.9 .4,3.3 .5,1.7 .4,1.3 .4,.9 .5,1.1 .4,.1 .4-.2 .5-.9 .4-.4 .4-.4 .5-.7 .4-2.3 .5-3.5 .4-6.1 .4-7.5 .5-7.8 .4-4.6 .4,1.7 .5,6 .4,9.1 .4,7.2 .5,4.8 .4,2.6 .4,.9 .5,1 .4,.4 .4,2.5 .5,2.7 .4,3.7 .5,2.3 .4,2.2 .4,.7 .5,.4 .4-.8 .4,.2 .5,0 .4-1.2 .4-1.3 .5-.6 .4,1.5 .4,.2 .5-.6 .4-1.6 .5-.9 .4-.7 .4-.4 .5-.6 .4,.5 .4-1.4 .5,0 .4-.9 .4-.2 .5-.8 .4-1.1 .4,.3 .5-.3 .4-.4 .5-.3 .4-.4 .4-.1 .5-.8 .4-.3 .4-.2 .5-.8 .4-.9 .4-1.4 .5-.4 .4-.3 .4,.4 .5-.6 .4-.7 .4-1.9 .5-1.4 .4-1.3 .5,.5 .4,.8 .4,.2 .5-.5 .4-1.5 .4-.6 .5-.5 .4,.2 .4-.7 .5,0 .4-.4 .4,.8 .5-.4 .4,.2 .5-.7 .4-.1 .4-.6 .5-.1 .4,.5 .4,1.2 .5,.9 .4,.3 .4,0 .5,.4 .4,0 .4,.1 .5,.4 .4,1.2 .5,1.1 .4,.6 .4,.6 .5,1.4 .4,.9 .4,1.6 .5,.2 .4,.4 .4,.6 .5,.8 .4,1.3 .4,.7 .5,.2 .4,.3 .4,.4 .5,1.7 .4,1 .5,1.1 .4,.5 .4,1.6 .5,1 .4,1.2 .4,1L657.0,404.3L515.0,404.3Z" fill="#fff" stroke="#1f5cb6" stroke-width="1.3" stroke-linejoin="round" stroke-dasharray="460.5 9999"/>
<path d="M511.2,397.7l.5,.7 .4,0 .4-.5 .5-.8 .4-.1 .5,0 .4,.1 .5-.2 .4,1 .4,.5 .5,.8 .4,0 .5,.3 .4,0 .4-.5 .5-.3 .4-.1 .5,.4 .4-.3 .4-.8 .5-.4 .4,.7 .5,.3 .4-.4 .5,0 .4-.3 .4,.5 .5-.7 .4,.7 .5-.2 .4,.2 .4-.6 .5-.9 .4-.6 .5-.9 .4-1.2 .5-1.6 .4-2.3 .4-.7 .5-1.9 .4,1 .5-.1 .4,1.6 .4,1.1 .5,2.3 .4,1.9 .5,1.2 .4,.1 .4,0 .5,0 .4-.3 .5,.5 .4-.1 .5,.9 .4-.7 .4,.4 .5-.5 .4-1.1 .5-1.3 .4-2.1 .4,.1 .5,.3 .4,.5 .5-.5 .4-1.1 .5-1.3 .4-2.7 .4-3.5 .5-6.2 .4-7.1 .5-7.8 .4-6.5 .4-3.1 .5,1.9 .4,6.4 .5,7.7 .4,6.8 .4,6 .5,3.9 .4,2.6 .5,.4 .4-.3 .5-.1 .4,.2 .4-.1 .5-.6 .4-1.2 .5-1 .4-1.4 .4-2.2 .5-2.8 .4-3.2 .5-2.2 .4-.9 .5-.5 .4,.5 .4,1.4 .5,1.7 .4,2.6 .5,.5 .4,1 .4-.2 .5,1.5 .4,.9 .5,1 .4-.2 .4,1 .5,.3 .4,1 .5-.1 .4,.4 .5-.2 .4,.2 .4,.1 .5,.7 .4,.7 .5,.3 .4-.1 .4-.1 .5-.1 .4,.1 .5-.2 .4,.1 .5,.5 .4-.1 .4,.1 .5,.5 .4,.4 .5,1.6 .4,.1 .4,1.3 .5,.1 .4,.4 .5,.3 .4,.5 .4,1.1 .5,1.1 .4,.3 .5-.6 .4-.3 .5,.4 .4,.7 .4,.4 .5-.2 .4,.7 .5,.3 .4,.8 .4,.4 .5,.9 .4,0 .5-.9 .4-.8 .5-.1 .4-.8 .4-.6 .5-1.1 .4,0 .5-.3 .4,.1 .4-.3 .5-.6 .4-1 .5-1.5 .4-.9 .4-.1 .5,.4 .4,0 .5-.6 .4-.9 .5-.8 .4-.2 .4-1 .5-1.1 .4-.8 .5-.4 .4-1.1 .4-1.4 .5-1.5 .4-.4 .5-.2 .4,.6 .5,.7 .4-.1 .4-.5 .5-.4 .4,.1 .5,0 .4-.3 .4,.4 .5-.8 .4-1.5 .5-2 .4-3.1 .4-3.8 .5-5.1 .4-4.1 .5-1.4 .4,2 .5,5.4 .4,4.2 .4,4.1 .5,2.9 .4,2 .5,1.7 .4,0 .4,.3 .5-.5 .4,.5 .5,.1 .4-.2 .5-1 .4-1.7 .4-2.8 .5-4.2 .4-4.5 .5-5.9 .4-6.1 .4-3.8 .5,2.6 .4,6.2 .5,7.4 .4,6.1 .4,4.3 .5,2.8 .4-.3 .5-.9 .4-.3 .5,2.4 .4,3.3 .4,4.2 .5,3.7 .4,2.1 .5,.9 .4,.9 .4,.7 .5,.7 .4-.4 .5,.2 .4-.5 .5-1.1 .4-1.4 .4-.9 .5,.9 .4-.5 .5-.5 .4-2.1 .4-.3 .5,.4 .4-.1 .5-.2 .4-.6 .4,.2 .5-.9 .4-.6 .5-1.6 .4-.6 .5-.2 .4,.1 .4,.1 .5-.7 .4-.4 .5-1.1 .4-.8 .4,.1 .5-.4 .4-.5 .5-.8 .4-1.1 .5,0 .4-1.9 .4-.1 .5-1.2 .4,.2 .5-.6 .4,.1 .4-.1 .5,.5 .4-1.1 .5-.5 .4-1.4 .4-.4 .5-.1 .4-.3 .5-.1 .4-.8 .5-.1 .4-.1 .4-.1 .5-.3 .4,.3 .5,.4 .4,.7 .4-.6 .5-.2 .4-.7 .5,1.8 .4,.5 .5,1.2 .4-.7 .4-.3 .5,.4 .4,1 .5,.8 .4,0 .4,1.3 .5,.8 .4,1.2 .5,.2 .4,1.2 .4,.8 .5,.5 .4,.7 .5,1.4 .4,.7 .5,.9 .4,.4 .4,1.1 .5,.5 .4,.6 .5,.5 .4,.6 .4,1.6 .5,.9 .4,1.1 .5,.6 .4,1L655.1,408.8L511.2,408.8Z" fill="#fff" stroke="#2466bd" stroke-width="1.3" stroke-linejoin="round" stroke-dasharray="425.8 9999"/>
<path d="M507.3,404l.4-.6 .5-.6 .4-.4 .5-1.6 .4,0 .5-.4 .4,.3 .5,.5 .4,.5 .5,.2 .4,1.2 .5,.4 .4,.8 .5-.4 .4-.4 .5-.6 .4,0 .4,1 .5,0 .4-.1 .5-.4 .4,1.1 .5-.2 .4-.6 .5-.7 .4,0 .5-.4 .4-.6 .5-.7 .4,.2 .5-.4 .4,.9 .5,0 .4,.3 .5-2.6 .4-1.7 .4-2.2 .5-.3 .4-.9 .5,.2 .4-1.2 .5,.4 .4,.2 .5,3 .4,1.5 .5,1.1 .4,.5 .5,.5 .4,1 .5,.2 .4-.1 .5-.7 .4-.2 .5,.2 .4,.4 .4-.5 .5-.3 .4-.7 .5-1 .4-.5 .5-.9 .4-.2 .5-1.1 .4-.4 .5-.5 .4-1.6 .5-3 .4-4.2 .5-6.2 .4-8.2 .5-9.2 .4-7.8 .5-3.3 .4,3.1 .4,7.5 .5,7.8 .4,7.7 .5,6.1 .4,5.2 .5,2.2 .4,1.8 .5,.3 .4,.2 .5-.1 .4,.4 .5,.3 .4-1.2 .5-1.2 .4-2.2 .5-2.3 .4-3.3 .5-3.9 .4-3.8 .4-.9 .5,1.2 .4,2.6 .5,2 .4,2 .5,1.6 .4,0 .5,.6 .4,1.1 .5,1.1 .4,1.2 .5,.4 .4,1 .5,.9 .4,.5 .5-.5 .4-.7 .5,.9 .4,.8 .4,.9 .5-.5 .4,.6 .5-.3 .4,.4 .5-.4 .4,.2 .5,.8 .4,.3 .5-.2 .4-.8 .5-.5 .4,.7 .5,.6 .4,.9 .5,.3 .4-.1 .5,.1 .4,1.4 .4,.6 .5,1.6 .4,0 .5,.7 .4-.4 .5,.1 .4-.3 .5,.8 .4,.1 .5,.7 .4,0 .5,1.2 .4,.2 .5,.2 .4-.5 .5,.5 .4,.5 .5,.5 .4,.1 .4-.8 .5-1.1 .4,0 .5-1 .4,1.5 .5-1.1 .4,.7 .5-2.4 .4,.3 .5-1.3 .4,.8 .5-.4 .4-.3 .5-1.3 .4-.6 .5-1.1 .4,0 .5-1.4 .4,.8 .4-.2 .5,.1 .4-.6 .5-1.2 .4,.1 .5-1.6 .4-1.2 .5-2.5 .4-2.5 .5-2.5 .4-1.5 .5,.2 .4,1.2 .5,1.3 .4,1.1 .5,.8 .4,.5 .4,1 .5-.3 .4,0 .5-.4 .4,0 .5-.9 .4-2.7 .5-4.8 .4-5.5 .5-4.9 .4-2 .5,1.7 .4,4.1 .5,5.5 .4,4.2 .5,3.1 .4,1.9 .5,1.2 .4,1.1 .4,0 .5,0 .4,.3 .5,.1 .4,.2 .5-1.4 .4-1.3 .5-2.8 .4-3.4 .5-5.6 .4-7 .5-6.8 .4-3.1 .5,3.1 .4,6.1 .5,7.3 .4,6.5 .5,5 .4,3.5 .4,.2 .5,.3 .4,.6 .5,2.1 .4,1.7 .5,3 .4,2.8 .5,2.1 .4,.5 .5-.4 .4-.7 .5-.3 .4,.4 .5-.4 .4-.5 .5,.1 .4,.1 .5-1.3 .4-.7 .4-1.4 .5,.6 .4-1.3 .5-.3 .4-.6 .5-.8 .4,.1 .5-.4 .4,.6 .5-.5 .4-.5 .5-.4 .4-.7 .5-1.3 .4-.2 .5-.1 .4,.5 .5-1 .4-1.4 .4-1.2 .5-.9 .4-.2 .5-1.3 .4,.1 .5,0 .4,.4 .5-1.1 .4-1 .5-.2 .4,0 .5-.6 .4-.6 .5-.9 .4-.3 .5-1.4 .4-.8 .5-1.7 .4,.4 .4-.2 .5,.5 .4-.5 .5-.1 .4-.2 .5,.6 .4-.2 .5-.5 .4,0 .5,0 .4,.1 .5-1.2 .4,.1 .5,.3 .4,.1 .5-.2 .4,.8 .5,1.4 .4,.6 .4,.3 .5,.6 .4,1.1 .5,.6 .4,.6 .5,.8 .4,1.1 .5,1.3 .4,.1 .5,.2 .4-.3 .5,1.6 .4,1.3 .5,1.2 .4,.5 .5,1.6 .4,.9 .5,1.6 .4,.1 .4,1.3 .5-.2 .4,.6 .5,.8 .4,1.2 .5,1.1 .4,1.1L653.1,413.3L507.3,413.3Z" fill="#fff" stroke="#2a72c2" stroke-width="1.3" stroke-linejoin="round" stroke-dasharray="456.1 9999"/>
<path d="M503.3,407.5l.4-.8 .5-.6 .4-.6 .5-.5 .4-.5 .5-.4 .4,.6 .5,1.1 .4,1.4 .5,1.2 .4-.6 .5-.3 .5-.2 .4,.9 .5,.1 .4-.1 .5-.5 .4,.5 .5,.4 .4-.5 .5,0 .4-.4 .5,0 .4,.3 .5-.3 .4,.4 .5-.7 .5,.1 .4,.3 .5,.6 .4-.9 .5-.7 .4-1.8 .5-.5 .4-1.3 .5-1.2 .4-1.4 .5-2.1 .4-1.4 .5-1.1 .5,.7 .4,1.2 .5,1.8 .4,1.3 .5,1.2 .4,.5 .5,.9 .4,1 .5,.5 .4,.5 .5-.1 .4,.5 .5,.1 .4,.3 .5-.1 .5-.4 .4-.5 .5-.6 .4-.7 .5-.9 .4,.1 .5-.4 .4-1.2 .5-1.5 .4-1.4 .5-1.1 .4-2.9 .5-3.7 .4-5.9 .5-7.5 .5-8.2 .4-7.5 .5-3 .4,1.4 .5,7.1 .4,8 .5,8.1 .4,5.6 .5,5.1 .4,2.5 .5,.7 .4-.5 .5-.2 .5-.4 .4-.2 .5-.2 .4-.1 .5-1.3 .4-3.2 .5-2.5 .4-3.7 .5-3.6 .4-3.3 .5-1.6 .4,1.7 .5,1.9 .4,3.6 .5,1.8 .5,1.1 .4,.1 .5,1.3 .4,1.6 .5,.1 .4,.4 .5,.2 .4,1.4 .5,.9 .4,1.2 .5,.3 .4,.5 .5-.4 .5,0 .4,.2 .5,.9 .4,1.7 .5,.4 .4-.1 .5-1.2 .4,1 .5,1 .4,0 .5-1 .4-1.2 .5,.1 .4-.5 .5,1.2 .5,.9 .4,.9 .5,.2 .4,.9 .5,1 .4,.6 .5,.6 .4,.4 .5,.2 .4,.1 .5,.3 .4,1.1 .5,0 .4,.8 .5,.3 .5,.9 .4-.2 .5,.2 .4,.3 .5,1 .4,.4 .5-.1 .4-.8 .5-.5 .4-.2 .5,.1 .4,.1 .5,0 .5,.2 .4-1.1 .5-.6 .4-.6 .5,.3 .4-.6 .5-.6 .4-.7 .5-.5 .4-1.2 .5,0 .4-.5 .5,.3 .4-.8 .5-1.1 .5-1 .4-.5 .5,0 .4-.3 .5-1.3 .4-.4 .5-1.4 .4-.9 .5-1.9 .4-1.3 .5-.8 .4,0 .5,.3 .5,.8 .4,.7 .5,.4 .4,.4 .5-.3 .4-.2 .5,.4 .4,.1 .5-.2 .4-2.8 .5-3.4 .4-4 .5-4.3 .4-4.2 .5-2.3 .5,1.5 .4,4.2 .5,4.7 .4,3.9 .5,2.8 .4,2 .5,1.5 .4,1.2 .5-.1 .4-.4 .5-.7 .4,.3 .5,.1 .4-.4 .5-2 .5-2.7 .4-4 .5-5 .4-7 .5-6.2 .4-2.1 .5,2.9 .4,7 .5,7 .4,6.8 .5,3.5 .4,2.6 .5,.5 .5-.5 .4-.2 .5,1.4 .4,3 .5,3.3 .4,3.1 .5,1.8 .4,.5 .5,.6 .4,0 .5,.4 .4,.2 .5,.5 .4-.3 .5-1.4 .5-1.3 .4-.2 .5,.1 .4-.8 .5-.6 .4-.1 .5-.5 .4-.7 .5-1.3 .4-.7 .5-.9 .4-.6 .5-.1 .4,.8 .5-.4 .5-.6 .4-1.8 .5-1 .4-.7 .5-.6 .4,0 .5-.4 .4,.3 .5-.5 .4-.6 .5-1.4 .4-.4 .5-.9 .5-1.1 .4-.4 .5-.2 .4,.3 .5-1.6 .4-1.5 .5-1.1 .4-.2 .5,.5 .4-.1 .5-.6 .4-.9 .5-.1 .4-1 .5,0 .5-.9 .4,.3 .5-.1 .4,.1 .5-.1 .4-.5 .5-.4 .4,.2 .5-1 .4,0 .5,.4 .4,2.2 .5,.3 .5-.1 .4-.5 .5,1.3 .4,1.2 .5,1.3 .4-.7 .5-.5 .4,.3 .5,1 .4,2.2 .5,.4 .4,1.4 .5,.5 .4,1.4 .5,1.6 .5,.5 .4,.3 .5,.1 .4,.8 .5,1 .4,1.9 .5,.3 .4,1.4 .5,.7 .4,1.9 .5,1.1 .4,.7 .5,.8 .4,1.7 .5,.4L651.1,418.0L503.3,418.0Z" fill="#fff" stroke="#2f80c8" stroke-width="1.3" stroke-linejoin="round" stroke-dasharray="447.0 9999"/>
<path d="M499.1,411.1l.5-.3 .4-1.3 .5-.6 .4,.5 .5-.2 .5,1 .4-1.2 .5,1.2 .4,.7 .5,1 .5-.3 .4-.2 .5,.6 .4,.2 .5-.6 .5,.3 .4,.5 .5,1 .4-.3 .5-.2 .5,.2 .4-.2 .5,.5 .4-.4 .5,.2 .5-.5 .4-.8 .5-.9 .4-.6 .5-.3 .5,.5 .4-.6 .5,0 .4-1.1 .5-.8 .5-.9 .4-1.4 .5-1.6 .4-2.2 .5-1.1 .5,.2 .4,1.5 .5,1.5 .4,1.8 .5,1.7 .5,1.5 .4,.6 .5,.7 .4,1.3 .5,.3 .5-.6 .4-.6 .5,.1 .4,1 .5-.9 .5-.1 .4-1.9 .5-.4 .4-1.8 .5-1.1 .5-.4 .4-1.2 .5,1.1 .4-.6 .5,1 .5-1.9 .4-3 .5-3.6 .4-5.7 .5-6.8 .5-8.8 .4-7 .5-2.4 .4,3.2 .5,7.1 .5,7.3 .4,5.8 .5,4.7 .4,2.9 .5,2.5 .5,1.2 .4,1.2 .5,1 .4-.2 .5,.4 .5-1.4 .4-1.8 .5-1.5 .4-2.4 .5-2.2 .5-4.2 .4-4 .5-3.2 .4-2.5 .5,1.5 .5,2.7 .4,3.2 .5,1.7 .4,1.8 .5,2.2 .5,1.9 .4-.4 .5,.2 .4,1 .5,1.5 .5,.9 .4-.6 .5,.4 .4-.4 .5,.9 .5-.3 .4,.7 .5,.3 .4,1.5 .5,.6 .4,.3 .5,0 .5-1 .4,.2 .5,.1 .4,.4 .5,0 .5-.7 .4,.3 .5,.3 .4,.1 .5,.7 .5,.2 .4,1.5 .5,1.5 .4,1.6 .5,.7 .5,0 .4-.1 .5,0 .4,.8 .5,.3 .5,1 .4,.1 .5-.6 .4-.6 .5,.2 .5,.6 .4,.3 .5-.2 .4,.5 .5,1 .5,.7 .4,1.3 .5-.1 .4,0 .5-.6 .5-.5 .4-.8 .5-.9 .4-1 .5-.3 .5-1 .4,.5 .5-.5 .4,0 .5-1.2 .5-.6 .4-.2 .5,.1 .4-.5 .5-.9 .5-.4 .4-.7 .5-.7 .4-.6 .5-1 .5-.2 .4-.4 .5-1.1 .4-1.9 .5-1.5 .5-.8 .4-.8 .5-.6 .4-.1 .5,.3 .5-.3 .4,1.2 .5-.3 .4,.7 .5-.4 .5,.4 .4-.1 .5-.2 .4-1 .5-2.3 .5-2.9 .4-4.5 .5-4.1 .4-5.4 .5-2.5 .5,1.3 .4,4.8 .5,6.1 .4,4.2 .5,3.4 .5,1 .4,1.2 .5,.3 .4,0 .5,.4 .5-.7 .4,.4 .5-.7 .4-.9 .5-2 .5-3.3 .4-4.9 .5-7.4 .4-8.8 .5-7.2 .5-1.3 .4,6.2 .5,8.5 .4,9.3 .5,6.2 .5,5.1 .4,2.9 .5,1.9 .4,1.6 .5,2.1 .5,2.1 .4,2.3 .5,2 .4,1.8 .5,.1 .5-.2 .4,1.2 .5,.1 .4-.1 .5-.3 .5-.4 .4-.1 .5,0 .4-.9 .5,0 .4-1.2 .5-.5 .5,.1 .4-.7 .5,.4 .4-1.1 .5,.1 .5-1.2 .4,.1 .5-.9 .4-.1 .5-.9 .5-.1 .4-.1 .5-.9 .4-.7 .5-.5 .5,.4 .4-.3 .5-.7 .4-.9 .5-1 .5,.6 .4-1.5 .5,.1 .4-.7 .5,1.2 .5-1 .4-1.2 .5-1.1 .4-.1 .5-.4 .5-.4 .4-1 .5-.7 .4-.5 .5,.6 .5-.6 .4-.3 .5-.5 .4-.2 .5-.7 .5,.2 .4,1.1 .5,.2 .4-.5 .5-.7 .5-1.3 .4-1.7 .5,0 .4,.8 .5,1 .5,.3 .4,1.2 .5,.2 .4,.4 .5-.4 .5,.6 .4,.7 .5,0 .4,.8 .5,.2 .5,1.5 .4,.4 .5,.4 .4,.7 .5,.8 .5,1.3 .4,1 .5,1.1 .4,.4 .5,0 .5,.1 .4,1.3 .5,1.1 .4,1.1 .5,.2 .5,.7 .4,1.1 .5,1.6 .4,.4 .5,.1 .5,.4 .4,.6L649.0,422.9L499.1,422.9Z" fill="#fff" stroke="#3a9ad2" stroke-width="1.3" stroke-linejoin="round" stroke-dasharray="463.6 9999"/>
<path d="M494.8,415.8l.5-.3 .5-.2 .4,.6 .5-.9 .5-1 .4-1.1 .5,.3 .5,.7 .4,.6 .5,1.3 .5,.4 .4,.6 .5-.1 .5-.4 .4,.1 .5-.6 .5,.4 .4,.3 .5-.3 .5-.1 .4-.1 .5,.9 .5,.8 .4,.1 .5,0 .5-.6 .4,0 .5-.5 .5,0 .4,.2 .5,.1 .5-.1 .4-.9 .5-1.2 .5-2.1 .4-1.8 .5-1.2 .5-1.6 .4-3.5 .5-1.7 .5-.2 .4,2.5 .5,1.1 .5,1.5 .4,1.8 .5,1.5 .5,2.4 .4,.9 .5,1.7 .5-.1 .4,.4 .5-.7 .5,.4 .4-.6 .5-.3 .5-.6 .4-.2 .5-.4 .5-1.3 .4-1.8 .5-1.4 .5-.3 .4-.1 .5,0 .5-.7 .4-1.3 .5-3.1 .5-4.3 .4-5.8 .5-8.3 .5-8.2 .4-7 .5-2.6 .5,1.9 .4,6 .5,8.2 .5,7.5 .4,6 .5,3.8 .4,2.5 .5,1.2 .5,.7 .4-.2 .5,.4 .5-.7 .4-1 .5-2.2 .5-1.2 .4-1.3 .5-1.5 .5-3.6 .4-5.2 .5-3.6 .5-1.2 .4,1.3 .5,1.5 .5,3.1 .4,3 .5,2 .5,1 .4,1.1 .5,1.8 .5-.3 .4,1 .5,.2 .5,1.7 .4,.7 .5,.2 .5-.2 .4,.5 .5,.5 .5-.1 .4,.5 .5,.3 .5,.5 .4-.1 .5-.2 .5-.4 .4,.1 .5,0 .5,1.6 .4-.6 .5-.7 .5-1.1 .4-.7 .5,1.8 .5,0 .4,2.1 .5,.9 .5,1.9 .4,.9 .5,.8 .5,1 .4,.7 .5-.3 .5-.4 .4-.3 .5,1 .5,.8 .4,1.1 .5,0 .5,.1 .4-.6 .5,.2 .5,.5 .4,.5 .5,1 .5,1 .4,.7 .5,0 .5-1.2 .4-.7 .5-.4 .5-.4 .4-.4 .5-1 .5-1 .4-.5 .5-.4 .5,.9 .4-1.1 .5,.2 .5-1.6 .4-1.2 .5-1.1 .5,.1 .4-.2 .5-.5 .5-1.2 .4,.1 .5-1.1 .5-1 .4-.6 .5-.9 .5-.2 .4-1.4 .5-.6 .5-2.3 .4-.9 .5-1.1 .5-.4 .4,.6 .5,.8 .4,.6 .5-.3 .5-.1 .4,.4 .5-1 .5,0 .4-.4 .5-.1 .5-1.8 .4-3 .5-4.3 .5-5.2 .4-5.3 .5-1.4 .5,1.8 .4,5.2 .5,3.4 .5,5 .4,3 .5,2 .5,.5 .4,.2 .5,1.2 .5,.4 .4,.3 .5,.2 .5-1.2 .4-.2 .5-2.6 .5-2.4 .4-6 .5-7.7 .5-9.7 .4-6.6 .5-.2 .5,6 .4,7.1 .5,9.2 .5,6.9 .4,6.3 .5,2.9 .5,1.1 .4,.6 .5,.9 .5,2.3 .4,2.9 .5,2.9 .5,3 .4,1.1 .5,1 .5-.5 .4-.1 .5-.4 .5,.1 .4-.4 .5,0 .5-.3 .4-1.3 .5-1.4 .5-1.1 .4,.4 .5,.3 .5,.2 .4-1.4 .5-.8 .5-.5 .4-.5 .5-.9 .5-.8 .4-.3 .5-.7 .5-.5 .4-.6 .5-.2 .5-.7 .4-.8 .5-.4 .5-.5 .4,.1 .5-1.3 .5-1 .4-1.5 .5-.8 .5-.8 .4-.6 .5,.1 .5-.7 .4,0 .5-2 .5-.4 .4-1.3 .5,.8 .5-1 .4-1 .5-.4 .5,.1 .4,.1 .5-.8 .5-1.3 .4-1.5 .5-.1 .5-.1 .4,.8 .5-1.3 .4,1.3 .5-.1 .5,0 .4-.8 .5-.6 .5,.9 .4-.6 .5,.6 .5,.3 .4,1.3 .5,.8 .5-.2 .4,.3 .5,.8 .5-.2 .4,1.4 .5,.6 .5,2.1 .4,.6 .5,.9 .5,1.4 .4,1.2 .5,.8 .5,1.3 .4,.7 .5,.7 .5,1 .4,.4 .5,1 .5,.1 .4,1 .5,1.6 .5,2.1 .4,1.1 .5,.7 .5,.9 .4,1.7 .5,.9 .5,1.2L646.9,427.8L494.8,427.8Z" fill="#fff" stroke="#3fa9d6" stroke-width="1.3" stroke-linejoin="round" stroke-dasharray="483.7 9999"/>
<path d="M490.5,422.2l.4-1 .5-1 .5-1.7 .4,.7 .5-.1 .5,.1 .5,.1 .4-.1 .5,1.6 .5,0 .5,2 .4,.2 .5,1.1 .5-.9 .4-.3 .5-.2 .5,.7 .5,.3 .4,.1 .5,.1 .5-.5 .5-.3 .4,.6 .5,.1 .5-.7 .5-.9 .4-.3 .5,.7 .5,0 .4-.2 .5,0 .5-.7 .5,.1 .4-1.6 .5-.5 .5-2.4 .5-1.8 .4-1.7 .5-1.4 .5-.3 .4-1.2 .5,1.4 .5,1.3 .5,2.3 .4,.7 .5,2.1 .5,.6 .5,1.3 .4,0 .5,.7 .5-.3 .5-.7 .4-1 .5,.4 .5,.8 .4,.5 .5-.9 .5-1.7 .5-2.1 .4-2.7 .5-1.3 .5,1.3 .5,1.1 .4,.7 .5-1.2 .5-1.3 .4-3 .5-4 .5-5.6 .5-7.6 .4-8.4 .5-7.7 .5-1.4 .5,3.1 .4,7.7 .5,6.1 .5,6.5 .5,4.8 .4,4.7 .5,2.5 .5,1.3 .4,.1 .5,.4 .5,.2 .5-.9 .4-.1 .5-1.6 .5-1 .5-2.6 .4-2.5 .5-3.5 .5-4.8 .4-2.8 .5-2.1 .5,1.6 .5,1.9 .4,2.9 .5,2.2 .5,1.7 .5,1.7 .4,.9 .5,1.6 .5,.8 .4,1.1 .5,.3 .5,.5 .5,.1 .4,.4 .5-.2 .5,1.4 .5,.9 .4,.7 .5,.1 .5-.1 .5-.1 .4-.5 .5-.5 .5,.2 .4,.9 .5,.5 .5,.6 .5-.5 .4,.6 .5-.7 .5,.3 .5,.1 .4,1.8 .5,.7 .5,.8 .4,0 .5,1 .5,.5 .5,.3 .4-.5 .5,.7 .5,.7 .5,.8 .4-.1 .5,.4 .5-.4 .5,.6 .4,0 .5,1.5 .5,0 .4,1.5 .5-.3 .5,.4 .5-.2 .4,0 .5,.3 .5-.6 .5,.5 .4-1 .5-.8 .5-.7 .4,.5 .5-.1 .5-.8 .5-1 .4-.1 .5,0 .5-.6 .5-2.5 .4-.6 .5,.6 .5,.2 .5-.6 .4-.9 .5-.5 .5-.7 .4-.7 .5,.2 .5-.7 .5-1.3 .4-1.1 .5-2.2 .5-1.7 .5-4 .4-2.3 .5-1.9 .5,.9 .4,2 .5,1.7 .5,.8 .5,.7 .4,.3 .5,1.4 .5-.2 .5-.2 .4-.4 .5-1.1 .5-.5 .4-3.2 .5-4.2 .5-6.9 .5-6 .4-2.1 .5,2.8 .5,5.5 .5,6 .4,4.4 .5,2.7 .5,.7 .5,1.6 .4,1.3 .5,1.2 .5,.1 .4-.1 .5-.9 .5-.7 .5-.6 .4-1.8 .5-3.4 .5-4.9 .5-6 .4-6.7 .5-4.7 .5-.1 .4,4.8 .5,5.5 .5,7.5 .5,6 .4,4.4 .5,1.5 .5-.1 .5,.1 .4,.3 .5,1.6 .5,3.5 .5,3.1 .4,3.6 .5,.2 .5,1.5 .4,.4 .5,.5 .5-.3 .5-.7 .4-.3 .5,.2 .5,.2 .5-.1 .4-1.3 .5-.4 .5-1.5 .4-.2 .5-.9 .5-.4 .5-.3 .4-.4 .5-.3 .5-1 .5-.2 .4-1.2 .5-.5 .5-.4 .5,.6 .4-.6 .5-1.2 .5-.9 .4-1.2 .5-.8 .5-1 .5,.2 .4,.1 .5-.3 .5,0 .5-1.3 .4-.2 .5-.6 .5,.1 .4-.2 .5-1.2 .5-1.4 .5-.7 .4-1.3 .5-.4 .5-.3 .5,.5 .4-.2 .5-.5 .5-.7 .4-.6 .5-.7 .5-.7 .5,.4 .4,.2 .5,.9 .5,.2 .5-.3 .4-.7 .5-.7 .5-.1 .5-.7 .4,.5 .5,.4 .5,1.4 .4,.3 .5-.2 .5,.2 .5-.4 .4,1.7 .5-.3 .5,.3 .5,.6 .4,1.5 .5,1.9 .5,.2 .4,1.4 .5,.6 .5,.9 .5,.5 .4,2.1 .5,1.5 .5,.7 .5-.4 .4,.9 .5,1.2 .5,.9 .5,.5 .4,.1 .5,1.1 .5,.6 .4,1.2 .5,1.8 .5,1.3 .5,.8L644.7,432.9L490.5,432.9Z" fill="#fff" stroke="#48b4d4" stroke-width="1.3" stroke-linejoin="round" stroke-dasharray="473.9 9999"/>
<path d="M485.9,426.4l.5-.7 .5,.6 .5-.7 .5,0 .4-.4 .5,.5 .5,0 .5-.1 .5,.3 .4,1.1 .5,.9 .5-.3 .5,.2 .5-.7 .4,1.1 .5-.6 .5,.2 .5-1.2 .5,.3 .4,.6 .5,1.1 .5-.6 .5-.3 .5-.5 .4,.5 .5-.2 .5-.3 .5-.8 .5,.8 .4-.5 .5,.3 .5-1.4 .5-.2 .5-1.2 .4-1.8 .5-1.9 .5-1.3 .5-1.7 .5-1.6 .4-1.9 .5,0 .5,1 .5,1.5 .5,2.4 .4,.9 .5,2.4 .5,1.3 .5,1.6 .5-.1 .4-.5 .5-.2 .5,.2 .5,.3 .5,.3 .4-.1 .5-.1 .5-1 .5-1.4 .5-1.1 .4-.1 .5,.3 .5,.5 .5,0 .5-.4 .4-1.6 .5-1.4 .5-2.1 .5-4.4 .5-6.9 .4-7.2 .5-7.6 .5-6.5 .5-3.4 .5,3 .4,6.7 .5,7.1 .5,6.4 .5,4.5 .5,2.9 .4,1.6 .5,2 .5,1.4 .5,.1 .5,.1 .4-1 .5-1 .5-1 .5-1.4 .4-2.4 .5-3.6 .5-3 .5-3.2 .5-3.2 .4-2.3 .5,.5 .5,2.4 .5,2.5 .5,2 .4,1.9 .5,2.1 .5,2 .5,.8 .5,0 .4,1.1 .5,.4 .5,1.1 .5-.3 .5-.1 .4,.4 .5,2.1 .5,1.3 .5,.2 .5-.8 .4,.2 .5-.1 .5-.8 .5,.6 .5,.6 .4,1.1 .5,.6 .5-.6 .5,.4 .5-.3 .4,.6 .5-.2 .5-.5 .5-.1 .5,.9 .4,1.6 .5,1.1 .5,.9 .5-.7 .5,1.7 .4-.3 .5,1.2 .5-.7 .5,1.2 .5,.9 .4,1 .5,1 .5-.7 .5-.5 .5-.5 .4,1.1 .5,1.6 .5,.8 .5,.4 .5-.9 .4,.7 .5,.3 .5,0 .5-1 .5-.1 .4-.8 .5-.6 .5-.1 .5-.9 .5-1.5 .4-1 .5-.5 .5,.8 .5-.7 .5-.8 .4-1.1 .5-1.5 .5,.1 .5-1 .5,.2 .4-1.1 .5-1 .5-.9 .5,.3 .5,.3 .4-.1 .5-1.5 .5-1.7 .5-1.8 .5-2 .4-1.4 .5-2.2 .5,.1 .5-.1 .5,1.9 .4,1.4 .5,1.7 .5-.2 .5,.2 .5-1.4 .4,0 .5-1.4 .5,.1 .5-1.5 .5-2.9 .4-5.5 .5-5.3 .5-5.3 .5-1.7 .5,1.5 .4,5.6 .5,5.5 .5,4.8 .5,2.6 .5,1.9 .4,.7 .5,1.5 .5,0 .5,1.1 .5-.6 .4,.3 .5-1.1 .5-1.4 .5-2.2 .5-3.2 .4-5.7 .5-8.6 .5-9.3 .5-5.2 .5,.8 .4,7.1 .5,7.9 .5,9.7 .5,6.5 .5,4.4 .4,2.8 .5,2.1 .5,1.4 .5,.7 .5,1.5 .4,2.7 .5,3.4 .5,2.5 .5,1.2 .5-.4 .4,1.1 .5-1.2 .5-1 .5-1.5 .5,.6 .4,.5 .5-.7 .5-1.1 .5-.3 .5-.6 .4-.5 .5-1.1 .5,.2 .5-.2 .5,.1 .4-.8 .5-.2 .5-1.3 .5-.4 .5-.9 .4-.2 .5-.6 .5,.2 .5-.9 .5-.4 .4-.9 .5,.4 .5-.2 .5-.4 .5-1 .4-.5 .5-.8 .5-.6 .5-.7 .5-1.5 .4-.4 .5-1.1 .5,.3 .5-.6 .5-.7 .4-1.1 .5-.7 .5,.1 .5-.3 .5,.4 .4-1 .5-.1 .5-1.5 .5,.4 .5-.3 .4,.3 .5-.6 .5-.6 .5-.6 .5-.1 .4-.4 .5-.2 .5,.6 .5,1 .5,0 .4-.9 .5-.3 .5,.4 .5,1 .5,.6 .4,1 .5,.5 .5,.9 .5,.5 .5,.4 .4,.4 .5,.8 .5,.2 .5,.9 .5-.1 .4,.9 .5,1.2 .5,1.1 .5,1.9 .5-.2 .4,1.1 .5,.7 .5,2.4 .5,1.2 .5,1 .4-.5 .5,1.2 .5,.4 .5,1.1 .5,.6 .4,.8 .5,1.3 .5,.5L642.4,438.2L485.9,438.2Z" fill="#fff" stroke="#52b9c8" stroke-width="1.3" stroke-linejoin="round" stroke-dasharray="487.5 9999"/>
<path d="M481.3,432.5l.5-1.1 .5,.1 .4-1.2 .5-.8 .5-1.5 .5,.7 .5,1 .5,1.7 .5-.7 .5,.7 .4-.2 .5,1.2 .5,.5 .5,.5 .5,.3 .5-.9 .5-.3 .5-1.1 .4,.8 .5-.3 .5,.1 .5,.4 .5-.4 .5-.3 .5-.4 .4,.8 .5,1.3 .5-.5 .5-.1 .5-1.1 .5,0 .5-.4 .5,.1 .4-1.4 .5-1.5 .5-2 .5-2 .5-1.8 .5-1.7 .5-.9 .5,.9 .4,1.1 .5,2.8 .5,1.2 .5,1.8 .5,.3 .5,1.3 .5,.9 .5,1 .4,.3 .5-.6 .5,.2 .5,.4 .5,.7 .5-1.3 .5-.7 .4-1.3 .5,0 .5-2.5 .5-1.6 .5-2.1 .5,.8 .5,.1 .5,.5 .4-1.2 .5-.7 .5-2 .5-3.4 .5-5.3 .5-7.6 .5-8 .5-7.8 .4-1.9 .5,2.4 .5,6.2 .5,6.1 .5,6.9 .5,4.9 .5,3 .4,2.1 .5,1.7 .5,1.5 .5,.7 .5-.1 .5-1.2 .5-1.3 .5-1.4 .4-1.8 .5-3.3 .5-3.7 .5-3.7 .5-4.4 .5-4.1 .5-2.6 .5,.7 .4,2.4 .5,4.5 .5,2.7 .5,2.9 .5,.5 .5,2.3 .5,.7 .4,1 .5,.3 .5,1.3 .5,.4 .5,.3 .5-.4 .5,.7 .5,1 .4,1.1 .5,.4 .5,.5 .5-.4 .5,.1 .5-.3 .5,.2 .5,1 .4,.7 .5,.9 .5,0 .5,.4 .5-.2 .5-1.6 .5-.3 .5,.5 .4,1.7 .5,1.4 .5,.9 .5,1 .5,1.3 .5,1 .5-.9 .4-.5 .5,.3 .5,1.7 .5,1.2 .5,.4 .5,.3 .5,.7 .5,.8 .4,1 .5-.2 .5,.4 .5,.1 .5-.2 .5,0 .5,.1 .5,.4 .4,.8 .5-.2 .5,.1 .5-1.2 .5-.3 .5-.6 .5-1.1 .4-.6 .5,0 .5,.2 .5-.8 .5-1.1 .5-.6 .5-.9 .5-.6 .4-.4 .5,.1 .5-1 .5-.6 .5-.5 .5-.5 .5-1.4 .5-.3 .4-.2 .5-.2 .5-1.4 .5-3.1 .5-1.4 .5-2.5 .5-1.3 .4-2.5 .5-.7 .5,.8 .5,1.8 .5,.9 .5,1.6 .5,.6 .5,.2 .4-.3 .5-.1 .5-.4 .5-2 .5-1.5 .5-3.2 .5-3.9 .5-5.8 .4-3.6 .5-1.5 .5,3 .5,3.7 .5,6 .5,4.8 .5,3.4 .5,.7 .4,1.5 .5,1.1 .5,.4 .5-1.8 .5,.5 .5-.2 .5-.7 .4-2.5 .5-2.4 .5-3.8 .5-5.6 .5-9.6 .5-8.6 .5-6.4 .5,2.2 .4,7.8 .5,9.7 .5,9.2 .5,6.3 .5,3.8 .5,2.6 .5,1.8 .5,1.6 .4,2 .5,2.2 .5,2.5 .5,2.2 .5,2.7 .5,1 .5,.9 .4-.1 .5-.7 .5-.1 .5-.2 .5,0 .5-.8 .5-.8 .5,.5 .4-.4 .5-.1 .5-.7 .5-.2 .5-.5 .5-1.1 .5-1.6 .5-.6 .4-.7 .5,.3 .5,.3 .5,.2 .5-1 .5-1.7 .5,0 .4-.9 .5,.5 .5-.5 .5,.8 .5-1.4 .5-1 .5-1.1 .5,1.2 .4-.3 .5,0 .5-1.8 .5-.3 .5-1.1 .5,.1 .5-.1 .5,.7 .4-1.4 .5-1.5 .5-.9 .5-.4 .5-.1 .5-.8 .5,.7 .5-.2 .4-.5 .5-1.1 .5-.3 .5-.6 .5-.7 .5-.1 .5,.1 .4,1.2 .5-.7 .5,.5 .5-.6 .5,.2 .5-.3 .5-.3 .5,.6 .4,.4 .5,.7 .5,0 .5,.1 .5,.7 .5,.8 .5,.3 .5,.5 .4-.2 .5,.4 .5,.9 .5,1.4 .5,1.6 .5,.9 .5,1.3 .4-.2 .5,.3 .5-1.2 .5,1.7 .5,.7 .5,1.7 .5,.5 .5,.6 .4,.9 .5,.7 .5,1.2 .5,1.7 .5,1.3 .5,1.3 .5-.9 .5,.1L640.1,443.6L481.3,443.6Z" fill="#fff" stroke="#4aab52" stroke-width="1.3" stroke-linejoin="round" stroke-dasharray="502.3 9999"/>
<path d="M476.5,436.6l.5-.9 .5-.3 .5-.2 .5-.3 .5-1 .5-.6 .5,.5 .5,.8 .4,.1 .5,.5 .5,.3 .5,.8 .5-.3 .5,1.4 .5-.2 .5,.8 .5-.6 .5,1 .5-.4 .5,.2 .5-.2 .5,.7 .5,0 .5-.5 .5,0 .4,.2 .5-.2 .5-.5 .5-1.3 .5,.1 .5-.7 .5-.5 .5-.9 .5-1.2 .5-.8 .5-1.9 .5-2.3 .5-1.6 .5-1.6 .5,.2 .5-.4 .5,.5 .5,1.2 .4,1.7 .5,2.7 .5,1.2 .5,1.8 .5,.9 .5,.5 .5,.5 .5-.4 .5,.5 .5-.5 .5,0 .5,.2 .5-.3 .5-.7 .5-1.4 .5-.8 .5-1.6 .5-.4 .4-.4 .5,.6 .5-.3 .5-.4 .5-1.9 .5-3.7 .5-5.2 .5-5.5 .5-7.8 .5-9.1 .5-8.6 .5-3.9 .5,2.6 .5,7 .5,8.3 .5,8.7 .5,5.9 .4,4.9 .5,1.3 .5,1.7 .5,.9 .5,.8 .5-.1 .5-.6 .5-1.7 .5-1.1 .5-3 .5-2.5 .5-4.8 .5-3.5 .5-5.5 .5-4.1 .5-2 .5,1.5 .5,3.5 .4,2.7 .5,2.5 .5,2.4 .5,1.6 .5,2.9 .5,1.7 .5,.9 .5,.5 .5,.6 .5,1.9 .5,.4 .5,1 .5-.3 .5-.2 .5-.3 .5,.5 .5,1.2 .4,.3 .5,.9 .5,.4 .5-.4 .5,.3 .5,.1 .5,1.3 .5-1.2 .5-.5 .5-.5 .5,.8 .5-.3 .5-.1 .5,.2 .5,1.7 .5,1.1 .5,.9 .5,.6 .4,1.9 .5,2 .5,1.4 .5-.2 .5,.3 .5,.3 .5,.6 .5,.2 .5,.5 .5,0 .5-.1 .5-.4 .5,.4 .5,.1 .5,.7 .5,.9 .5,1.7 .5,.6 .4,.5 .5-1.6 .5-.9 .5-1.4 .5-.5 .5-.7 .5-.2 .5-.1 .5,.1 .5-.3 .5,0 .5-.9 .5-.5 .5-.1 .5,.8 .5-.3 .5-1.2 .4-1.5 .5-1.4 .5-.5 .5-.2 .5-.1 .5-1.3 .5-1.8 .5-.2 .5-.6 .5-.6 .5-2.9 .5-2.6 .5-2.2 .5-.9 .5,.6 .5,1.2 .5,1.5 .5,1 .4,.4 .5,.4 .5-.1 .5-.7 .5-.5 .5-.3 .5,.5 .5-.9 .5-2.8 .5-5.2 .5-5.5 .5-5.2 .5-2.4 .5,2 .5,5.1 .5,5.6 .5,4.5 .4,3.4 .5,1.9 .5,.7 .5,.6 .5,1 .5,.5 .5-.7 .5-.5 .5-1.4 .5-.9 .5-3.1 .5-3.4 .5-6.6 .5-7.7 .5-8 .5-2.9 .5,2.2 .5,8 .4,7.3 .5,7.9 .5,5.1 .5,3.4 .5,2.2 .5,1 .5,1.1 .5,.4 .5,1.2 .5,2.4 .5,3.6 .5,3 .5,1 .5,0 .5-.1 .5-.6 .5-.8 .4-.2 .5,.2 .5,.5 .5-.6 .5-1.8 .5-.7 .5,0 .5-.4 .5-.6 .5-1.3 .5-.4 .5-.3 .5-.1 .5,0 .5-1.2 .5-1 .5-.6 .5-.6 .4,.4 .5-.9 .5-.6 .5-1.3 .5,.2 .5-.5 .5-.1 .5-1.8 .5-.6 .5-.9 .5-.1 .5-.9 .5-.8 .5-1 .5-.1 .5-1.1 .5-.3 .5-1.3 .4-.4 .5-1.3 .5-.4 .5,0 .5,.2 .5-.6 .5-1.8 .5-.8 .5-.6 .5-.4 .5-.3 .5-.4 .5,.1 .5-.2 .5-.2 .5-.5 .5-.8 .4,.1 .5-.8 .5,.4 .5,.1 .5,1.7 .5,.8 .5-.1 .5,1.4 .5,.1 .5,1.4 .5-.4 .5,.6 .5,.6 .5,1.1 .5,.3 .5,.6 .5,.5 .5,1.6 .4,.5 .5,.5 .5,.5 .5,1.2 .5,1.2 .5,1.9 .5,.7 .5,1.5 .5,.9 .5,1.7 .5,1.1 .5,.5 .5,.5 .5,.2 .5,1.2 .5,1.9 .5,1.8 .4,1.5 .5,1.1L637.6,449.2L476.5,449.2Z" fill="#fff" stroke="#50b04a" stroke-width="1.3" stroke-linejoin="round" stroke-dasharray="503.5 9999"/>
<path d="M471.6,442.7l.5,.1 .5-1 .5-1.1 .5,0 .5,.2 .5-.2 .5,.2 .5,.2 .5,1.1 .5,1 .5,.5 .5,.7 .5-.8 .5,.2 .5,.7 .5,0 .5,.9 .5-.7 .5,.6 .5-.8 .5-.2 .5-.8 .5,.1 .5,.2 .5,0 .5-.6 .5-.7 .5,.1 .5,.1 .5,.3 .5-.1 .5-1 .5-1.6 .5-2.1 .5-.6 .5-1.1 .5-1.2 .5-2.4 .5-1.5 .5-2 .5-.8 .5,.7 .5,2.9 .5,2.7 .5,2.5 .5,1.6 .5,1.1 .6-.2 .5,.3 .5,.2 .5,1.2 .5,1.6 .5-.2 .5-.8 .5-1.7 .5-.5 .5-.1 .5-.5 .5,0 .5-2.1 .5-1.7 .5,.2 .5,0 .5,.1 .5-1.8 .5-.6 .5-3.6 .5-4.2 .5-6.9 .5-6.3 .5-8.4 .5-6.6 .5-3.5 .5,3.2 .5,6.8 .5,8.1 .5,6.9 .5,5.1 .5,2.9 .5,2.6 .5,1.7 .5,1.1 .5,.1 .5-.4 .5-.5 .5-1.7 .5-1.8 .5-2.6 .5-3.4 .5-4 .5-4.8 .5-4.7 .5-4.2 .5-2.4 .5,.4 .5,2 .5,4.3 .5,4.2 .5,3.4 .5,1.7 .5,2 .5,.9 .6,0 .5,.3 .5,1.5 .5,1.3 .5,.8 .5,.8 .5,.3 .5,.3 .5-.7 .5,1.1 .5,.6 .5,.9 .5,.9 .5-.8 .5,1.1 .5-.2 .5,1.1 .5-.5 .5-1.2 .5-.6 .5-1.5 .5-.4 .5-.1 .5,.8 .5,1.5 .5,1.5 .5,1.2 .5,1.5 .5,1.6 .5,1.5 .5,.5 .5,.7 .5,.6 .5,1.3 .5-.5 .5,.9 .5-.9 .5,.9 .5-.5 .5,1.1 .5,.5 .5,.8 .5,.3 .5,.3 .5-.1 .5,1.1 .5,.6 .5,.4 .5-1.6 .5,.1 .5,0 .5,0 .5-1.1 .5,.5 .6-.8 .5,.3 .5-2.5 .5-.5 .5-1.2 .5,.1 .5-.3 .5-.4 .5-.3 .5-.6 .5-.5 .5-.9 .5-1 .5-1.4 .5-.7 .5-.7 .5-.6 .5-.9 .5-.5 .5-1.4 .5-2 .5-3.1 .5-1.9 .5,0 .5,.1 .5,.5 .5-.2 .5,1.4 .5,.8 .5,1.6 .5,1 .5-.6 .5-.9 .5-1.1 .5-.1 .5-1.5 .5-3.1 .5-5.5 .5-5.3 .5-6.3 .5-3.3 .5,1.6 .5,6.1 .5,6.9 .5,5.4 .5,3.4 .5,2.7 .5,.9 .5,.7 .5,0 .5-.2 .5,.4 .5-.7 .5-.3 .6-2.3 .5-2.3 .5-4.7 .5-6.5 .5-8.3 .5-8.3 .5-3.4 .5,2.8 .5,7.5 .5,8.3 .5,8.8 .5,6.9 .5,4.2 .5,2.3 .5,.6 .5,.8 .5,1 .5,1.3 .5,2.9 .5,2.7 .5,2.5 .5,.6 .5,.9 .5,.9 .5-.2 .5-.7 .5-1 .5-.4 .5-.6 .5,.5 .5-.3 .5-.4 .5-.4 .5-1.2 .5-.1 .5-.7 .5,.5 .5-.5 .5-.1 .5-.7 .5,.1 .5-.9 .5-1.5 .5-.4 .5-1.3 .5,.4 .5-1.7 .5,.7 .5-1.4 .5,.3 .5-.8 .5-.3 .5-.5 .5,.5 .5,.2 .6-.8 .5-1.1 .5-.2 .5-.2 .5-1.6 .5-1.5 .5-.7 .5,.1 .5,.2 .5-1.7 .5-.2 .5-1.5 .5,0 .5-.6 .5,.4 .5-.2 .5-1.7 .5-.4 .5-.3 .5,.7 .5-.7 .5,0 .5,.6 .5-.1 .5-.7 .5-.6 .5,.7 .5-.1 .5,1.2 .5-.4 .5,.9 .5-1.1 .5,1 .5-1 .5,1 .5,0 .5,3.1 .5,.4 .5,.8 .5,.2 .5,1.7 .5,1.1 .5-.3 .5-.6 .5,1.2 .5,1.1 .5,2 .5-.3 .5,1.3 .5-.4 .5,1.7 .5,.7 .5,.7 .5,1.1 .6,.1 .5,1.7 .5,.8 .5,2.1 .5,.3 .5,.5 .5,.6L635.2,454.9L471.6,454.9Z" fill="#fff" stroke="#5cb547" stroke-width="1.3" stroke-linejoin="round" stroke-dasharray="522.9 9999"/>
<path d="M466.5,448.3l.5-1.3 .5-.4 .5,1.4 .5-.2 .5-.1 .5-1.6 .5,.4 .6,.5 .5,1 .5,.7 .5,1.1 .5-.1 .5,.3 .5-.2 .5-.5 .5-.3 .5-.2 .5,1.4 .6,.3 .5-.5 .5-1.1 .5-.3 .5,.6 .5,.1 .5-.2 .5,0 .5,1.1 .5-.8 .6-.9 .5-1.4 .5-.1 .5,.6 .5-1.4 .5-.5 .5-2.5 .5-1 .5-2 .5-1.9 .5-2.5 .6-1.3 .5,.1 .5,1.8 .5,1.2 .5,2.2 .5,1.8 .5,2.7 .5,2 .5,1.3 .5,1.3 .6-.2 .5-.3 .5-.9 .5,.4 .5-.1 .5,0 .5-1.6 .5-.2 .5-.7 .5-1.5 .6-2.4 .5-1 .5-.1 .5-.1 .5-1.1 .5,1.1 .5-.8 .5-1.5 .5-4.8 .5-4.8 .5-8.3 .6-7.6 .5-7.5 .5-2.5 .5,1.7 .5,6 .5,7.7 .5,6.7 .5,5.3 .5,4.3 .5,1.7 .6,1.3 .5-.3 .5,.8 .5,.2 .5,0 .5-.5 .5-2.3 .5-3.2 .5-3.8 .5-3 .5-4.8 .6-4.9 .5-4.3 .5-.7 .5,.5 .5,1.6 .5,2.9 .5,3.7 .5,3.1 .5,1.7 .5,1.9 .6,1.1 .5,.9 .5,.1 .5,1.3 .5-.1 .5,.8 .5,.3 .5,1 .5,.8 .5-.4 .5,.7 .6-.3 .5,.8 .5,.2 .5,.2 .5,2 .5,0 .5,.9 .5-1.1 .5-.3 .5,.2 .6,0 .5-.2 .5,.2 .5,1 .5,1.2 .5,1 .5,.8 .5,.9 .5,1.1 .5,1 .6,1 .5,.3 .5,0 .5,.9 .5-.4 .5,.2 .5-.2 .5,1.2 .5,1.9 .5,.1 .5,1.1 .6-1 .5,1.5 .5-.6 .5,1 .5,0 .5,.1 .5-.2 .5-.1 .5,.5 .5-.2 .6-1.1 .5-1.3 .5-.2 .5,.2 .5,.2 .5-.8 .5-1.8 .5-1.4 .5-1.3 .5-.4 .5-.2 .6-.3 .5-.5 .5-.5 .5,0 .5-1.2 .5-1.5 .5-1.5 .5,.6 .5-.5 .5,.4 .6-1.7 .5-1.1 .5-1.6 .5-1.5 .5-1.2 .5-2.6 .5-1.1 .5,.8 .5,1.6 .5,.9 .5-.4 .6,.8 .5-.5 .5,.2 .5-1.1 .5,.8 .5-1.6 .5-2.1 .5-5.4 .5-4.4 .5-7.3 .6-6.3 .5-4 .5,2.6 .5,6.1 .5,6.6 .5,6 .5,4.4 .5,2.7 .5,1.1 .5,1 .6,.9 .5,1.2 .5-.4 .5-1 .5-1.1 .5-1.1 .5-3.6 .5-4.6 .5-7 .5-8.5 .5-9 .6-2.6 .5,5.2 .5,8.9 .5,7.4 .5,7.7 .5,6.8 .5,3.6 .5,1.6 .5-.6 .5,.9 .6-.4 .5,1.5 .5,2.7 .5,4.4 .5,3.6 .5,1.3 .5,.3 .5,1.1 .5,.4 .5,.9 .5-1.7 .6-.4 .5,0 .5,.2 .5-.4 .5-1.1 .5-.4 .5-.4 .5,0 .5-1.8 .5-1.2 .6-1.2 .5,0 .5-1.4 .5-.3 .5-.1 .5-.2 .5-1.1 .5-1.1 .5,.1 .5-.8 .6-.4 .5-1.5 .5-1 .5-.4 .5-.3 .5,.3 .5-2.1 .5-.7 .5-1.6 .5,.2 .5-1.3 .6-1.1 .5-.3 .5,.2 .5-.5 .5-.7 .5-1.4 .5-.8 .5-1.3 .5-1.7 .5-.7 .6,.3 .5-.3 .5-1 .5-.6 .5-.4 .5,0 .5-.9 .5,0 .5-.3 .5-.8 .5-.7 .6,.1 .5,.3 .5-.6 .5,.7 .5,.4 .5,1.6 .5-.4 .5-.1 .5,1 .5,.4 .6,1.7 .5-1.1 .5,1.7 .5-.2 .5,2.3 .5,.3 .5,1.9 .5,1 .5,1.4 .5,.8 .5,.8 .6,1.4 .5,1.3 .5,2.2 .5,1 .5,1.2 .5,.1 .5,.8 .5,1.3 .5,1.3 .5,.9 .6,.9 .5,1.9 .5,.9 .5,1 .5,.4 .5,1.1L632.6,460.8L466.5,460.8Z" fill="#fff" stroke="#6fbd48" stroke-width="1.3" stroke-linejoin="round" stroke-dasharray="535.3 9999"/>
<path d="M461.2,455.6l.5-1 .6-.7 .5-1.2 .5,0 .5-.1 .5-.3 .6-.7 .5,.7 .5,.6 .5,1.3 .5,1.1 .5,.5 .6,.8 .5-.6 .5,.8 .5,0 .5-.1 .5,0 .6,.2 .5-.3 .5-.4 .5-.7 .5,.3 .5-.2 .6,.7 .5-.6 .5-.3 .5-1.1 .5,.8 .6-.6 .5,.5 .5-.2 .5-.1 .5-1.3 .5-1.6 .6-1.9 .5-2.2 .5-2 .5-2.2 .5-.5 .5-.5 .6,.8 .5,.5 .5,3 .5,1.6 .5,3.1 .6-.3 .5,1.7 .5-.3 .5,1.4 .5-.4 .5-.3 .6-.5 .5,.4 .5-.5 .5-1.2 .5-1.3 .5-.6 .6-1 .5-1.6 .5-1.6 .5-.6 .5,.7 .6,.7 .5-.3 .5-1.9 .5-3 .5-4.8 .5-6 .6-8.7 .5-8.8 .5-9.2 .5-3.8 .5,2.4 .5,8.8 .6,9.7 .5,7.5 .5,5.5 .5,3.5 .5,3.5 .6,2 .5,.7 .5-.4 .5-.1 .5,0 .5-1.5 .6-2 .5-2.9 .5-3.6 .5-4.7 .5-5.1 .5-4.9 .6-5.5 .5-1.8 .5,1.3 .5,4.2 .5,4.4 .6,3 .5,3.2 .5,1 .5,2.7 .5,1.3 .5,1.3 .6,1.6 .5,1.1 .5,.8 .5-1.2 .5-.3 .5,0 .6,2 .5,.4 .5,.3 .5-.4 .5-.3 .6,1.5 .5,1.1 .5,1.5 .5,0 .5-.5 .5-.6 .6-.8 .5-.6 .5-.5 .5-.7 .5,.4 .5,1.3 .6,1.1 .5,1.3 .5,1.6 .5,1.7 .5,1.1 .5,.5 .6,1 .5,.2 .5,.2 .5,.9 .5,1.3 .6,.2 .5,.4 .5,.6 .5,2 .5,.2 .5,.1 .6,.4 .5,.8 .5,.7 .5-.8 .5-.1 .5,0 .6,1.4 .5-.4 .5-.9 .5-1.2 .5-1.2 .6-.4 .5-.8 .5-.4 .5-.3 .5-.9 .5-.6 .6-1.2 .5,.4 .5,0 .5-.2 .5-.8 .5-1.3 .6-.9 .5-1.6 .5-.6 .5,0 .5-.5 .6,0 .5-.9 .5-.4 .5-1.1 .5-1.9 .5-2.6 .6-1.8 .5-1.7 .5,.3 .5-.1 .5,1.2 .5,.5 .6-.3 .5-.5 .5-.1 .5,1 .5-.7 .6,0 .5-.7 .5-.4 .5-2.5 .5-4.1 .5-5.8 .6-5.6 .5-5.4 .5-2.6 .5,1.2 .5,6.1 .5,7.1 .6,6.8 .5,3.7 .5,2.5 .5,.6 .5,.8 .6-.5 .5,0 .5-.5 .5-.5 .5-.8 .5-1.3 .6-2.8 .5-6.2 .5-7.8 .5-8.7 .5-6.1 .5-1.5 .6,4.9 .5,9.4 .5,8.5 .5,8.1 .5,4.3 .6,2.1 .5,.3 .5,.1 .5,.5 .5,1.1 .5,1.5 .6,4 .5,4.4 .5,4.1 .5,.9 .5,1.4 .5,.2 .6,.8 .5-1.4 .5-.6 .5-.2 .5-.5 .6-.3 .5-1.4 .5-.8 .5-1.4 .5-1.2 .5,.3 .6,.8 .5,0 .5-.7 .5-1.8 .5-1.3 .5-1.1 .6-.5 .5-.6 .5-.7 .5,0 .5-.4 .5-.7 .6-.5 .5-1.7 .5-.7 .5-1 .5-.4 .6-.2 .5-1.4 .5-.4 .5-2 .5-.1 .5-.5 .6,.3 .5-.5 .5-1 .5-.8 .5-1.4 .5-.5 .6-1.7 .5,.4 .5-1.2 .5-.3 .5-1.8 .6-.2 .5-1.3 .5-.3 .5-.9 .5,.5 .5-.3 .6-.1 .5-.7 .5,.1 .5,0 .5,.8 .5-.7 .6,.3 .5-.1 .5,.1 .5,0 .5-.1 .6,.9 .5,.4 .5,.8 .5,1.1 .5,.8 .5,1 .6,.5 .5,.9 .5,1.1 .5,1.4 .5,.7 .5,.2 .6,.8 .5,1.2 .5,1.8 .5,1.3 .5,2 .6,1.5 .5,1.1 .5,.9 .5,1.1 .5,1.5 .5,.6 .6,1.6 .5,1.2 .5,1.1 .5,.7 .5,.3 .5,1.6 .6,1.8L630.0,466.9L461.2,466.9Z" fill="#fff" stroke="#85c64a" stroke-width="1.3" stroke-linejoin="round" stroke-dasharray="545.9 9999"/>
<path d="M455.8,460.1l.5,.3 .6-.9 .5,.3 .5-1.4 .5,.7 .6-1.5 .5,1.4 .5-.6 .5,0 .6,.1 .5,1.4 .5,.7 .5,.3 .6,.2 .5,.4 .5,1.2 .6,.2 .5,1.2 .5-1 .5,.3 .6-1.1 .5-.8 .5-.9 .5,.5 .6,1.1 .5-.3 .5,.1 .5-1.2 .6-.4 .5-.6 .5,.9 .5,.3 .6-1.4 .5-2.2 .5-2.5 .5-.1 .6-1.9 .5-1.4 .5-2.1 .5-.9 .6-.6 .5,.1 .5,1.8 .5,2.4 .6,1.7 .5,2 .5,1.4 .6,1.1 .5,.5 .5,0 .5,.6 .6-1 .5-.1 .5-.4 .5,.2 .6,.2 .5-.7 .5-1.4 .5-2.5 .6-1.6 .5-1.2 .5-.1 .5,.2 .6,.1 .5-.5 .5-1.6 .5-2.9 .6-4.3 .5-6.5 .5-7.7 .5-8.2 .6-7.9 .5-4.5 .5,1.7 .6,6.5 .5,8.7 .5,8.6 .5,7.5 .6,4.8 .5,2.3 .5,1.1 .5,0 .6,.5 .5-.7 .5-.2 .5-.7 .6-1 .5-2.4 .5-4.3 .5-4.3 .6-3.9 .5-4.8 .5-4.8 .5-3.4 .6,.4 .5,3.4 .5,4.6 .5,3.5 .6,3.4 .5,2.2 .5,2.4 .5,.1 .6,0 .5,1.2 .5,1.3 .6,1.5 .5,.4 .5,.5 .5,.3 .6,.6 .5,1.1 .5,1.1 .5,.3 .6-.2 .5-.6 .5,.8 .5,.8 .6,0 .5-.3 .5-.5 .5,1 .6,.6 .5,1 .5-.6 .5,.5 .6,.9 .5,1.5 .5-.3 .5,0 .6,.3 .5,1.3 .5,.6 .6,.8 .5,1.2 .5-.3 .5,.5 .6-.8 .5,2 .5,.1 .5,1.6 .6,.3 .5,.6 .5-.6 .5-.8 .6-.1 .5,1.1 .5,.7 .5,1.3 .6,.6 .5,.7 .5-.8 .5-1.2 .6,.5 .5-1.1 .5,.1 .5-2.1 .6-.5 .5-.3 .5,.2 .5-.3 .6-.7 .5-.2 .5-.1 .6-1.3 .5-1.3 .5-.5 .5-.6 .6-.8 .5-1.2 .5,.1 .5,.5 .6-.3 .5-1.3 .5-1.4 .5-.8 .6-.6 .5-2.3 .5-2.3 .5-3.4 .6,0 .5,.2 .5,2.2 .5-.2 .6,.1 .5,.3 .5,2.2 .5,.2 .6-.3 .5-.7 .5,.6 .5-1.4 .6-2.7 .5-4.5 .5-5.5 .6-6.7 .5-6.1 .5-2.9 .5,2.7 .6,6.4 .5,6.8 .5,6.4 .5,3.1 .6,2.4 .5,.7 .5,1.3 .5,0 .6-.6 .5,.6 .5,.6 .5-.7 .6-3.5 .5-4.2 .5-5.1 .5-6.7 .6-7.9 .5-6.4 .5-.7 .5,6.4 .6,7.5 .5,7.5 .5,6.1 .6,5.3 .5,3.2 .5,.4 .5-1.1 .6-1.7 .5-1.1 .5,2.7 .5,4.1 .6,5.6 .5,2.6 .5,1.7 .5,1.3 .6,.8 .5-.2 .5-1.3 .5-.4 .6,0 .5,.4 .5-.1 .5-1.1 .6-1.2 .5-.9 .5-.4 .5-.9 .6-.8 .5-1 .5,.5 .5-.4 .6,.6 .5-.6 .5-1.1 .6-2.2 .5-1.2 .5,0 .5-.1 .6-1.4 .5-1.1 .5-1.1 .5-.1 .6-.2 .5,.1 .5-.6 .5-2.3 .6-1.5 .5-.7 .5,.1 .5-.6 .6-.7 .5-.6 .5-.6 .5-1.3 .6-1.6 .5-1.6 .5-.3 .5-.3 .6,.1 .5-.4 .5-.4 .6-1.3 .5-1 .5-.8 .5-.6 .6-.7 .5,.1 .5,.8 .5-.7 .6-.1 .5-1.2 .5,.5 .5-.1 .6-.4 .5,.1 .5,.1 .5,1.3 .6,1.2 .5,1.1 .5,.2 .5,.3 .6,.3 .5,.8 .5,.8 .5,.3 .6,1.5 .5,1.1 .5,.9 .5,1.2 .6,.6 .5,1.4 .5,.8 .6,2.2 .5,2 .5,1.7 .5,1 .6,.1 .5,1.1 .5,1.1 .5,1.8 .6,.9 .5,1.3 .5,.7 .5,.8 .6,1 .5,1.3 .5,2.3 .5,1.1L627.2,473.2L455.8,473.2Z" fill="#fff" stroke="#9fcf45" stroke-width="1.3" stroke-linejoin="round" stroke-dasharray="551.4 9999"/>
<path d="M450.2,466.5l.6-.5 .5-.1 .5-.3 .6-.8 .5-1.1 .5,.2 .6,.4 .5,1.1 .5,.3 .6,1 .5,.5 .5,.1 .6,.3 .5-.2 .5,.4 .6-.1 .5-.4 .5,.5 .6-.6 .5,1.1 .5,.4 .6,.4 .5-1.5 .5-1.4 .6,.4 .5,.6 .5,.9 .6,.4 .5-.5 .6-.3 .5-2.1 .5-.3 .6-.7 .5-.2 .5-1.2 .6-2.3 .5-2.2 .5-3.6 .6-1.8 .5-.9 .5,1.3 .6,.7 .5,1.1 .5,2.3 .6,2.9 .5,2.4 .5,1.8 .6,1 .5,.3 .5,.2 .6-1 .5-.2 .5-.3 .6,.4 .5-.9 .5,.1 .6-.9 .5-1.5 .5-2.6 .6-.8 .5,.2 .6,.4 .5-1.6 .5,.2 .6-.7 .5-.2 .5-2.6 .6-3 .5-6.3 .5-8.8 .6-10 .5-7.8 .5-3.3 .6,2 .5,7.8 .5,7.6 .6,7.1 .5,4.4 .5,4.5 .6,2.7 .5,1.9 .5,.4 .6-.3 .5-.2 .5-.6 .6-.6 .5-2.2 .5-1.9 .6-3.9 .5-5 .5-5.6 .6-5.2 .5-4 .6-2.8 .5,.9 .5,2.9 .6,4.3 .5,3.1 .5,3.5 .6,2.3 .5,2.9 .5,1.1 .6,1.1 .5,.2 .5,1.9 .6,.7 .5,1 .5,.6 .6,.5 .5,1.2 .5-.2 .6,.4 .5-.6 .5,.9 .6,1.2 .5,1.1 .5,0 .6-.4 .5,.1 .5-.2 .6,.4 .5,.5 .5,1.1 .6,.4 .5-.2 .6,.1 .5,1.7 .5,.7 .6,1.9 .5-.3 .5,.8 .6-.3 .5,.1 .5,.6 .6,.5 .5,1.4 .5,.7 .6,1 .5,1 .5,.9 .6-.1 .5-.7 .5,.3 .6,0 .5,.4 .5,.1 .6,1.1 .5-.1 .5,1.1 .6,.1 .5-.6 .5-.6 .6-.5 .5,1 .5-.9 .6-.4 .5-.8 .6,.4 .5-.2 .5-.8 .6-1.5 .5-.7 .5-1.1 .6-1.2 .5-.6 .5,.5 .6-.1 .5-.6 .5-1.4 .6-1 .5-.5 .5-.4 .6-.2 .5,.1 .5-1.8 .6-1.3 .5-3.5 .5-2.1 .6-2.4 .5-.5 .5,1.1 .6,1.3 .5,1.2 .5-.1 .6,.2 .5,.3 .5,.4 .6,.4 .5,0 .6-.1 .5-.7 .5-1 .6-3.6 .5-5.9 .5-7 .6-4.5 .5-2.3 .5,2.3 .6,5.3 .5,6.2 .5,4.6 .6,2.8 .5,1.6 .5,2.1 .6,.8 .5,.4 .5-.2 .6-.4 .5,0 .5-.5 .6-2.5 .5-3 .5-5.2 .6-5.7 .5-7.4 .5-4.9 .6-.6 .5,5.4 .6,6.4 .5,7.3 .5,6.3 .6,4.6 .5,1.4 .5,.3 .6-1.8 .5-1.2 .5-1.8 .6,2.2 .5,3.5 .5,5.7 .6,4.8 .5,2.3 .5,1 .6-.4 .5,.7 .5-.8 .6,.5 .5-.1 .5-1.1 .6-1 .5-2.1 .5-.1 .6-.1 .5-.5 .5-1.2 .6-2.2 .5-1.4 .5-.5 .6-.1 .5-.1 .6-.1 .5-1.2 .5-1.1 .6-1.5 .5-.1 .5-.8 .6-.4 .5-1.8 .5-.2 .6-.9 .5,0 .5-.7 .6-.7 .5-.8 .5-.2 .6-2.3 .5-1.2 .5-2.3 .6,.5 .5-.9 .5-.8 .6-1.5 .5-.1 .5-.9 .6-.1 .5-1.5 .5-.6 .6-1.5 .5-.8 .5-1.5 .6-1.6 .5-.7 .6,.4 .5-.6 .5,.3 .6-.5 .5,.5 .5-.6 .6-1.2 .5-.4 .5-.9 .6,.9 .5,0 .5,.8 .6,.4 .5,.8 .5,.4 .6,.3 .5,1 .5,1.7 .6,1.3 .5,2.1 .5,.5 .6,1.3 .5-.4 .5,2.4 .6,0 .5,1.9 .5,.9 .6,2.1 .5,1 .5,.5 .6,.5 .5,2 .6,1.5 .5,2.3 .5,1.4 .6,1.3 .5,.9 .5,1.5 .6,1.3 .5,1.5 .5,1.1 .6,2.6 .5,1.9 .5,1.8L624.4,479.7L450.2,479.7Z" fill="#fff" stroke="#c4d83e" stroke-width="1.3" stroke-linejoin="round" stroke-dasharray="543.0 9999"/>
<path d="M444.4,472l.6,.6 .5-1 .6,.6 .5-2.1 .6-.9 .5,0 .5,.9 .6,1.4 .5,1.1 .6,1.4 .5,.5 .6-.6 .5,0 .6,0 .5,.2 .5-.2 .6,.7 .5,.1 .6-.1 .5,.1 .6-.6 .5-.5 .5-.8 .6-.3 .5,1 .6,.4 .5,1.2 .6-.2 .5-1.4 .5-.5 .6-.7 .5,.2 .6-1.4 .5-1.1 .6-1 .5-1.1 .5-2.3 .6-2.1 .5-2.2 .6-.6 .5,0 .6,1.4 .5,.9 .5,1.9 .6,1.5 .5,2.2 .6,1.1 .5,1.5 .6,.6 .5,.2 .5-.2 .6-.1 .5,.4 .6,.2 .5,.3 .6-.8 .5-1 .6-1.4 .5-1.8 .5-1.3 .6-1.1 .5-.3 .6-.8 .5-.1 .6-.8 .5-1.4 .5-2.3 .6-3.9 .5-5.1 .6-8 .5-8.7 .6-7.2 .5-3.6 .5,2.8 .6,6.2 .5,7.8 .6,7.5 .5,6.1 .6,4 .5,2.2 .5,.6 .6,1 .5,.2 .6,.2 .5-.3 .6-1.3 .5-1.9 .5-3 .6-5.3 .5-4.6 .6-4.9 .5-5 .6-5.1 .5-3 .5,1.5 .6,3.2 .5,4.1 .6,3.8 .5,3.1 .6,1.4 .5,2 .6,1.8 .5,1.8 .5,1.9 .6,.2 .5,.7 .6-.8 .5,1.2 .6-.2 .5,1.8 .5,1 .6,1.6 .5,0 .6-.8 .5,.5 .6,.1 .5,1.1 .5,.2 .6,.7 .5-.9 .6-.4 .5-.4 .6,1.2 .5,0 .5,.3 .6-.7 .5,1.5 .6,1.6 .5,2.3 .6,1 .5,.3 .5,.7 .6-.1 .5,.9 .6,.6 .5,1.4 .6,1.2 .5,.7 .5-.3 .6-.5 .5,.3 .6,1.2 .5,.2 .6,.4 .5,.1 .6,1 .5,.3 .5,.6 .6,.9 .5,.4 .6,0 .5-.7 .6-.6 .5-.7 .5-.8 .6-.1 .5,0 .6,.5 .5-1 .6-2 .5-1.3 .5,.1 .6-.3 .5-1.2 .6-1.2 .5,0 .6-.4 .5-.6 .5-1.2 .6-.5 .5-1 .6-.6 .5-.4 .6-.6 .5-1.5 .5-2.8 .6-2 .5-2.8 .6-1.8 .5-2.2 .6,.6 .5,2.6 .5,1.5 .6,1.4 .5-.1 .6,1.8 .5,.5 .6,.2 .5-.9 .6-1.1 .5-1.6 .5-2.3 .6-3.1 .5-5.3 .6-6.1 .5-6.4 .6-2.5 .5,2.7 .5,5.6 .6,6.2 .5,5.1 .6,3.3 .5,1.7 .6,1.7 .5,2.4 .5,1.2 .6-.9 .5-1.7 .6-1.2 .5-1 .6-2.5 .5-4.3 .5-6.4 .6-8.3 .5-9.3 .6-6 .5,1.4 .6,8.2 .5,8.5 .5,7.7 .6,6.5 .5,5.8 .6,3.2 .5,1.3 .6,.5 .5-.5 .5,1 .6,1.7 .5,3.3 .6,3.1 .5,2.5 .6,1.6 .5,.3 .6,1.4 .5,.1 .5,1.5 .6-1.2 .5-1.6 .6-1.2 .5-.2 .6,.1 .5-.6 .5-.9 .6-1 .5-1.2 .6-.2 .5-.7 .6-1.3 .5-.5 .5-.7 .6-.8 .5-.1 .6-.9 .5-1.3 .6-1.5 .5-1.2 .5,.1 .6-1.6 .5-.1 .6-.4 .5,.3 .6-1.9 .5-.8 .5-1.4 .6-.4 .5-1.6 .6-1.1 .5,.7 .6-.5 .5-.2 .5-1 .6-1.3 .5-1.9 .6-1.4 .5-.4 .6-.7 .5-1.7 .6-.6 .5-1.1 .5-.8 .6-1.1 .5,.5 .6-.3 .5-.7 .6-1.7 .5,.3 .5-.7 .6,.7 .5-.8 .6,.7 .5-.3 .6-.3 .5,.4 .5,0 .6,1.2 .5,.2 .6,1.3 .5,.4 .6,1.6 .5,.5 .5,.5 .6-.4 .5,1.6 .6,2 .5,1.7 .6-.4 .5,.9 .5,1.2 .6,2.2 .5,1 .6,1.7 .5,1.1 .6,1.2 .5,.4 .5,1.9 .6,1.1 .5,.9 .6,.5 .5,1.4 .6,3.3 .5,1.1 .6,.7 .5,0 .5,2 .6,1.9 .5,.4L621.5,486.5L444.4,486.5Z" fill="#fff" stroke="#d4dd3a" stroke-width="1.3" stroke-linejoin="round" stroke-dasharray="566.0 9999"/>
<path d="M438.5,480l.5-1.1 .6,.1 .5-.5 .6-.8 .5-1.1 .6-.1 .5,.6 .6,1.2 .5,.7 .6-.1 .6-1.1 .5,1.2 .6,2 .5,1 .6-.6 .5,.1 .6,.4 .5-.5 .6-.7 .5-.9 .6,.7 .5-.4 .6,.7 .5,.2 .6,.9 .5,.6 .6-.2 .5,.1 .6-.9 .5-.4 .6-1.1 .6-.9 .5-.5 .6-.9 .5-1.7 .6-1.7 .5-2 .6-.2 .5-1.2 .6-1.6 .5-.8 .6,1 .5,1.8 .6,2.1 .5,.8 .6,2.1 .5,1 .6,2.4 .5,0 .6,1 .5-.4 .6,.1 .5-.5 .6-1.1 .6,0 .5-1 .6,.1 .5-.7 .6-1.5 .5-1.4 .6-1.6 .5-.1 .6-.6 .5,.2 .6-.8 .5-1.5 .6-2.9 .5-4.1 .6-5.8 .5-6.6 .6-7.1 .5-6.9 .6-3.9 .5,2 .6,7.1 .6,8.3 .5,6.1 .6,4 .5,3.5 .6,2.9 .5,1.6 .6,0 .5-.5 .6-.7 .5,.1 .6-1.7 .5-2.1 .6-2.3 .5-2.8 .6-4.3 .5-8 .6-7.2 .5-5.4 .6-1.9 .5,1.6 .6,4.9 .5,6.2 .6,3.8 .6,3.4 .5,2.4 .6,2.6 .5,.8 .6-.1 .5,1.9 .6,1.1 .5,1.5 .6,.7 .5,.3 .6,.5 .5-.4 .6,.4 .5,.7 .6,.6 .5,0 .6-.3 .5,.6 .6,1.1 .5,1.1 .6,1.1 .6,.1 .5,0 .6-1.2 .5,.1 .6-.1 .5,.5 .6,1.6 .5,1.3 .6,1.5 .5-.2 .6,1 .5,.1 .6,.2 .5-.2 .6,.6 .5,1.4 .6,.2 .5,1.1 .6,.8 .5,1 .6,0 .6-.2 .5,1.3 .6,1.3 .5,.2 .6,.8 .5-.6 .6-.1 .5-.6 .6,.4 .5,1 .6-.1 .5-.3 .6-.9 .5-.7 .6,.5 .5,.1 .6-1.5 .5-1.1 .6-2.4 .5,.3 .6-1 .5,.7 .6-.8 .6-.7 .5,0 .6-.7 .5,.4 .6,0 .5-.6 .6-.7 .5-1 .6-.9 .5-1.2 .6-1.8 .5-1.8 .6-2 .5-2.5 .6-1.5 .5-3.1 .6-1.6 .5,.3 .6,1.8 .5,2.1 .6,1 .6,1 .5-.3 .6,.5 .5,.3 .6,.9 .5-.8 .6-.4 .5-2.4 .6-4 .5-6.8 .6-5.7 .5-4.8 .6-2 .5,2.8 .6,5.3 .5,6.9 .6,4.6 .5,3.7 .6,1.6 .5,1.7 .6-.7 .5,.2 .6-.2 .6,1.4 .5-.1 .6-1.2 .5-2.4 .6-4.7 .5-6.7 .6-7.6 .5-7.5 .6-4.2 .5,.9 .6,7.4 .5,7.2 .6,7.2 .5,4.9 .6,5.2 .5,1.6 .6,1.9 .5-1.2 .6,.1 .5,.4 .6,3 .6,3.5 .5,3.2 .6,3 .5,1.2 .6,.7 .5-.1 .6,.6 .5-.1 .6-.6 .5-.6 .6,.3 .5,.4 .6-.9 .5-.6 .6-.3 .5-1.2 .6-1.3 .5-.2 .6,1.1 .5,.4 .6-1 .5-1.1 .6-.6 .6-.9 .5-.8 .6-.8 .5-.3 .6-1.4 .5-.9 .6-.8 .5,0 .6-1.1 .5,.3 .6,0 .5,.4 .6-2.2 .5-1.9 .6-.3 .5,.5 .6-.2 .5-1.2 .6-1.3 .5-.2 .6,.2 .6-.6 .5-1.5 .6-.7 .5,.5 .6,.1 .5-.4 .6-1.7 .5-.2 .6-1.7 .5-.1 .6-1 .5-.2 .6-.4 .5,.4 .6-.4 .5,.4 .6-1.3 .5,.6 .6-.4 .5,.5 .6-.3 .5-.3 .6,1.2 .6,1 .5,.5 .6-.4 .5,.1 .6,.1 .5,.9 .6,.2 .5,.8 .6,.6 .5,1.4 .6,1 .5,.9 .6,.6 .5,1.8 .6,.9 .5,.6 .6,.7 .5,1.1 .6,1.9 .5,.4 .6,2 .6,.1 .5,1.2 .6,.1 .5,1.6 .6,.7 .5,.7 .6,1 .5,1.2 .6,1.1 .5,.9L618.5,493.4L438.5,493.4Z" fill="#fff" stroke="#dfe03c" stroke-width="1.3" stroke-linejoin="round" stroke-dasharray="539.0 9999"/>
<path d="M432.3,486.4l.6-.2 .5-1.3 .6-.9 .6-.6 .5,.3 .6-.5 .5,.8 .6,.9 .6,.2 .5,.1 .6,.8 .5,1 .6,.5 .6-.8 .5,1.2 .6,0 .6,.3 .5-.1 .6,.3 .5,.3 .6-.7 .6-.2 .5,0 .6,.6 .5,.2 .6-.8 .6-.4 .5-.7 .6,.6 .6-1 .5-.4 .6-.9 .5-1.1 .6-1.3 .6-.7 .5-1.3 .6-3 .6-3.7 .5-2.5 .6,.1 .5,.8 .6,.2 .6,.9 .5,1.6 .6,4.1 .5,3.2 .6,2.5 .6,1.1 .5,.2 .6,.8 .6-.8 .5,0 .6-.5 .5-.5 .6-.8 .6-.9 .5-.4 .6-1.1 .5-.8 .6-1.1 .6-.9 .5-1 .6-1.3 .6-.3 .5-.2 .6-.7 .5-2.3 .6-5.3 .6-7 .5-9.2 .6-9.6 .5-8.7 .6-3.8 .6,3.4 .5,7.5 .6,9.5 .6,7.2 .5,6.4 .6,2.9 .5,2.7 .6,1.4 .6,1.5 .5-.3 .6-.4 .6-.5 .5-1.5 .6-2.8 .5-3.6 .6-4.2 .6-4 .5-5.7 .6-6.4 .5-5.6 .6-3.8 .6,1.9 .5,3.3 .6,6.5 .6,3.9 .5,3.2 .6,1.4 .5,3 .6,2.4 .6,1.2 .5,.7 .6,.5 .5,.8 .6,1.9 .6,.6 .5,.5 .6-1.3 .6,.5 .5,1.5 .6,1 .5,0 .6,.6 .6,1.3 .5,1.4 .6,.4 .5,1 .6,1.3 .6,.7 .5-.4 .6-1 .6-.1 .5,.1 .6,.2 .5-.7 .6,.6 .6,2 .5,1.8 .6,1.1 .6,.2 .5,.7 .6,.3 .5,1.3 .6,1.5 .6,.9 .5-.4 .6-.9 .5,.4 .6,1.1 .6,1.7 .5,1.2 .6,1 .6,.9 .5,.5 .6-.1 .5,.3 .6,.3 .6,.7 .5-.8 .6-.4 .5-.9 .6-.7 .6,.4 .5-.6 .6-.7 .6-1.5 .5-.6 .6-.3 .5-.9 .6-.2 .6-1.2 .5-.8 .6-.3 .5,0 .6-.8 .6-1.5 .5-1.1 .6,.2 .6-.1 .5-.6 .6-1.4 .5-1.1 .6-.5 .6-1.1 .5-1.4 .6-1.6 .5-1.4 .6-1 .6,.1 .5-.1 .6-.1 .6-.7 .5,.6 .6,1 .5,.4 .6-.3 .6-.5 .5-.5 .6-.9 .6-3.2 .5-3.7 .6-6.1 .5-7.3 .6-7.2 .6-4.2 .5,3.3 .6,6.4 .5,8.3 .6,6.9 .6,4.9 .5,2.4 .6,.8 .6,.7 .5,.9 .6,.4 .5-.7 .6-1.3 .6-2.1 .5-2.2 .6-4.6 .5-6.1 .6-8.7 .6-6.6 .5-3.9 .6,2.7 .6,7.7 .5,7.9 .6,7 .5,4.9 .6,4.3 .6,1.9 .5,1.6 .6,.3 .5-.2 .6-.3 .6,2.1 .5,3.3 .6,3.9 .6,2.7 .5,2.3 .6,.8 .5,.6 .6-.8 .6,.3 .5,0 .6,.1 .6-.5 .5-1.3 .6-.7 .5-.7 .6-.5 .6-1 .5-.2 .6-.3 .5-.7 .6-2.5 .6-1.3 .5-.5 .6,.4 .6-.3 .5-1.4 .6-.9 .5-1.2 .6-.1 .6-1.2 .5-1.2 .6-.2 .5-.7 .6-.3 .6-2.2 .5-.9 .6-.7 .6-.8 .5-.9 .6-1 .5-1.4 .6-1.4 .6-1.3 .5,.1 .6-.3 .5-1 .6-.7 .6-1.7 .5,.2 .6-2.4 .6-.9 .5-1.2 .6,.5 .5,.8 .6-.8 .6-1.3 .5-1.6 .6-.3 .6-.6 .5-.3 .6-.6 .5,.8 .6-.1 .6-1 .5-.3 .6,1.2 .5,1.4 .6-.3 .6-.7 .5,.9 .6,1.4 .6,1.9 .5,.3 .6,1.4 .5,.5 .6,1.5 .6,1 .5,.2 .6,.3 .5,1.2 .6,2 .6,1.3 .5,1.3 .6,1.6 .6,2.5 .5,.5 .6,1.1 .5,1 .6,2.2 .6,1.9 .5,.9 .6,1.5 .5,1.2 .6,2.5 .6,1.5 .5,1.8 .6,1 .6,1.7 .5,1.3L615.4,500.6L432.3,500.6Z" fill="#fff" stroke="#ef8d2c" stroke-width="1.3" stroke-linejoin="round" stroke-dasharray="587.4 9999"/>
<path d="M425.9,495.2l.6-.6 .6-1.3 .5-.5 .6-1.1 .6-1.1 .5-.2 .6,.7 .6,.5 .6,1.4 .5,1.1 .6,.7 .6-.2 .5,.5 .6,.5 .6,.5 .6-.5 .5,.7 .6,.4 .6,.7 .5-.7 .6-2 .6-1.1 .6-.7 .5,1.1 .6-.4 .6,.3 .5-.1 .6,.1 .6,.5 .6,.8 .5,.6 .6-1.9 .6-2.4 .5-2 .6-1 .6-1.7 .6-2.6 .5-2.3 .6-2.7 .6-.8 .5-1 .6,1.8 .6,2.3 .6,3.3 .5,2.7 .6,1.8 .6,2.4 .5,1.1 .6,.8 .6-.4 .6-.1 .5-.7 .6,.7 .6-.4 .5,.3 .6-1.4 .6-.9 .6-2.2 .5-1.7 .6-1.6 .6-1.7 .5-.1 .6,.2 .6,.9 .6-.2 .5-1.5 .6-2.9 .6-4.2 .5-6.1 .6-8 .6-10.2 .6-7.6 .5-2.9 .6,2.9 .6,7.4 .5,8.2 .6,8.1 .6,5.8 .6,4.8 .5,2 .6-.2 .6-1.2 .5-.7 .6,1.4 .6-.1 .6-1.5 .5-2.9 .6-2.3 .6-3.4 .5-5.7 .6-7.3 .6-6.8 .6-6.7 .5-3.1 .6,1 .6,5 .5,5.1 .6,5 .6,2.7 .6,1.9 .5,1.8 .6,2.8 .6,1.7 .5,1.3 .6-.1 .6,1.7 .6,1.3 .5,1.1 .6-.7 .6,.7 .5,.1 .6,1.3 .6-.6 .6,.8 .5,1.4 .6,1.6 .6,.5 .5-.9 .6-.2 .6,.5 .6,1.3 .5,.3 .6-.1 .6-1.1 .5,0 .6,1.3 .6,2.8 .6,1.8 .5,.4 .6,.4 .6,1 .5,.4 .6,0 .6,1.2 .6,1.1 .5,.9 .6-.1 .6,.5 .5,.4 .6-.7 .6,.7 .6,1.2 .5,2 .6,.3 .6-.7 .5,.1 .6,.6 .6,1.4 .6,1.1 .5,.8 .6-.1 .6-1.2 .5-.9 .6-1.4 .6,0 .6-.3 .5-.4 .6-1.3 .6-.7 .5-1.2 .6-1 .6-1.4 .6-.1 .5-.1 .6,.3 .6-1.8 .5-.5 .6-1.9 .6,.1 .6-1.7 .5,.2 .6-.9 .6-.4 .5-1.3 .6-1.3 .6-1.8 .6-2.6 .5-2.9 .6-1.7 .6,0 .5,.4 .6,2.1 .6-.2 .6,.4 .5-.5 .6,.5 .6,.8 .5-1.3 .6,.4 .6-.6 .6-.4 .5-3 .6-3.9 .6-7.3 .5-7 .6-8.1 .6-1.8 .6,3 .5,8.1 .6,7.6 .6,5.6 .5,3.3 .6,2.1 .6,2 .6,1.1 .5,.7 .6,.9 .6-.2 .5-.3 .6-2.5 .6-2.8 .6-5.5 .5-7.2 .6-9.4 .6-8.8 .5-4.4 .6,4.4 .6,8.6 .6,8.8 .5,7.7 .6,6.6 .6,5.4 .5,2.6 .6,1.9 .6,1.3 .6,.7 .5,2 .6,1.9 .6,3.8 .5,2.3 .6,2.8 .6,.4 .6,1.1 .5,.5 .6-.6 .6,.1 .5-.1 .6-.9 .6-1.4 .6-.6 .5,.7 .6-.7 .6-.6 .5-2 .6-1 .6-2.5 .6-.2 .5-1.1 .6,.6 .6-1 .5-.4 .6-1 .6-2.2 .6-.9 .5-.9 .6-1.1 .6-.5 .5-1 .6,.3 .6-.8 .6-1.3 .5-1.5 .6-.7 .6-.4 .5-.1 .6-.9 .6-.6 .6-.9 .5-1.2 .6-1.8 .6-1.5 .5-1.5 .6-1 .6-.2 .6-.6 .5-1 .6-1.7 .6-1.2 .5-.9 .6-.4 .6-.1 .6-.5 .5-.5 .6-.2 .6-.6 .5-.7 .6-1.5 .6,.3 .6-.7 .5,0 .6-.7 .6,1.1 .5,.5 .6,.2 .6,.1 .6,.4 .5,.6 .6,.1 .6,.7 .5,.6 .6,2.1 .6,1.2 .6,2.2 .5-.2 .6,.4 .6,1.3 .5,2 .6,1.7 .6,1 .6,1.4 .5,1.4 .6,.7 .6,1.5 .5,2.4 .6,2.4 .6,1.5 .6,1.1 .5,1.1 .6,1 .6,.9 .5,1.5 .6,1.6 .6,2.8 .6,2.1 .5,2 .6,.8L612.2,508.0L425.9,508.0Z" fill="#fff" stroke="#f0852a" stroke-width="1.3" stroke-linejoin="round" stroke-dasharray="618.9 9999"/>
<path d="M419.3,501.7l.6-.5 .6-1.1 .6-1 .5-.4 .6-.5 .6,.6 .6,.3 .6,1.4 .5,1.1 .6,.2 .6-.2 .6,.5 .6,.2 .6,.5 .5-.9 .6,0 .6,.1 .6,.5 .6-.1 .5,0 .6-.6 .6,.2 .6,.3 .6,.3 .5-.2 .6-.7 .6,.7 .6,.7 .6,1 .6-1 .5-.7 .6-1.4 .6-1 .6-2.2 .6-1.3 .5-1.9 .6-1.5 .6-2.6 .6-2.6 .6-1.4 .6,.2 .5,2 .6,1.8 .6,2.3 .6,2.2 .6,2.2 .5,1.3 .6-.1 .6,0 .6,1.1 .6,1.1 .5,1.4 .6,.2 .6,.3 .6-1.7 .6-1.4 .6-1.1 .5-.6 .6-1.6 .6-2.3 .6-2.2 .6,.7 .5,.5 .6,.9 .6-1.5 .6-.8 .6-2.8 .6-3.7 .5-7 .6-7.3 .6-9.7 .6-9.2 .6-4.5 .5,3.1 .6,9 .6,8.2 .6,6.7 .6,5.3 .5,3.8 .6,3.6 .6,1.3 .6,.9 .6-.1 .6-1.2 .5-1.1 .6-2.1 .6-1.9 .6-3.1 .6-4.3 .5-6 .6-6.9 .6-7 .6-7 .6-3.1 .6,1 .5,5.5 .6,6.4 .6,5.2 .6,4.8 .6,2.9 .5,3 .6,.9 .6,1 .6,.7 .6,1.4 .6,.5 .5,1.9 .6,1.1 .6,.7 .6-.2 .6-.1 .5,.3 .6,0 .6,1.5 .6,1.3 .6,1.3 .5-.4 .6-.1 .6-.1 .6,.2 .6,.7 .6-.8 .5,.2 .6,0 .6,.9 .6,.3 .6,.7 .5,1.2 .6,1.4 .6,1 .6,.6 .6,.9 .6,1.1 .5,1 .6,.2 .6,.5 .6,.9 .6,.9 .5,.5 .6-.2 .6,.6 .6,.5 .6,0 .5,.1 .6,.7 .6,.8 .6,.9 .6,.4 .6,.8 .5,1 .6-1 .6-.6 .6-1.6 .6-.5 .5-.2 .6-.2 .6-1.5 .6,0 .6-1.1 .6-.3 .5-2 .6,.2 .6-1 .6,.3 .6-1.3 .5,0 .6,0 .6-.6 .6-1 .6-2.2 .5-.4 .6,0 .6-.8 .6-1 .6-2.3 .6-2 .5-2.3 .6-2 .6-1.6 .6-.6 .6,.1 .5,.6 .6,0 .6,1 .6-.1 .6,1.3 .6,.3 .5,1 .6-.3 .6-.4 .6-1.1 .6-2.2 .5-3.9 .6-5.6 .6-6.2 .6-6.1 .6-2.2 .5,2 .6,6.3 .6,7 .6,6 .6,3.3 .6,1.6 .5,1 .6,1.2 .6-.2 .6-.6 .6-.4 .5-1.6 .6-1.4 .6-3.2 .6-4.8 .6-8.2 .6-10.4 .5-9.6 .6-2.6 .6,5.5 .6,10 .6,9.4 .5,7 .6,7.3 .6,3.9 .6,4 .6,.8 .5,.8 .6-1.7 .6,1.4 .6,1.9 .6,3.9 .6,3.6 .5,3.5 .6,1.7 .6,.7 .6,.9 .6-.4 .5-.4 .6-.3 .6-.9 .6-.4 .6-2 .6-.8 .5-1.1 .6,.2 .6-.3 .6-.6 .6-1.3 .5-1.1 .6-2.5 .6,0 .6-.8 .6,.1 .6-2.2 .5-1.7 .6-.2 .6-.7 .6,1.1 .6-1.2 .5-.9 .6-2.4 .6-.3 .6-.1 .6,.5 .5-1.2 .6-.6 .6-2 .6-.9 .6-1.8 .6-.8 .5-1.1 .6-1.5 .6-1.6 .6-.5 .6-.8 .5-.8 .6-2.2 .6-.5 .6,.2 .6-.2 .6,.5 .5-.9 .6-.6 .6-2.2 .6-1.2 .6-.8 .5-.2 .6,.2 .6-.7 .6-.1 .6-.2 .5,.6 .6,.2 .6-.6 .6-.7 .6,.3 .6,.8 .5,.3 .6-.9 .6-.2 .6,1.5 .6,2.4 .5,1.4 .6,.9 .6,1.2 .6,.8 .6,.2 .6,1.4 .5,2.3 .6,2.8 .6,1.6 .6,.6 .6,1.9 .5,.5 .6,1.6 .6,.4 .6,2.4 .6,1.5 .5,1.6 .6,.3 .6,1.3 .6,1.8 .6,1.3 .6,1 .5,.9 .6,2.5 .6,1.9 .6,2.4L608.9,515.7L419.3,515.7Z" fill="#fff" stroke="#ee7a22" stroke-width="1.3" stroke-linejoin="round" stroke-dasharray="614.6 9999"/>
<path d="M412.5,509.9l.6-1.9 .5-1 .6-1 .6,.8 .6,.2 .6-.3 .6,.7 .6,.7 .6,1.5 .6,.4 .6-.4 .6-.3 .6,.2 .5,.3 .6-.1 .6-.4 .6,1 .6-.3 .6,.4 .6-.7 .6,.2 .6-1 .6-.1 .6,.3 .6,1.2 .6,.6 .5,.2 .6-1.4 .6-.1 .6,.5 .6,.2 .6-1.1 .6-1.5 .6-1.2 .6-.5 .6-2.3 .6-1.6 .6-2.9 .5-2 .6-.9 .6-.2 .6,1.5 .6,1.5 .6,1.7 .6,2.3 .6,1.7 .6,1.3 .6,0 .6,1.1 .6,1.6 .6,.2 .5-.2 .6-.6 .6,.5 .6-1.1 .6,.3 .6-1.6 .6-1.2 .6-1.9 .6-.8 .6-.1 .6,.5 .6-1.4 .5,.4 .6-1 .6-.8 .6-3.7 .6-5.2 .6-6.4 .6-7.5 .6-7.6 .6-6.1 .6-2.8 .6,1.8 .6,5.6 .6,7 .5,7.8 .6,5.7 .6,4 .6,1.5 .6,1.2 .6-.3 .6-.8 .6-1.7 .6-.1 .6-1.1 .6-1.4 .6-3.4 .5-4 .6-6.3 .6-6.3 .6-8.1 .6-5.6 .6-4.7 .6,1.9 .6,4.7 .6,6.4 .6,5.2 .6,3.4 .6,2.7 .5,1.4 .6,2.7 .6,1.7 .6,1.8 .6,.3 .6,.2 .6,1.2 .6,.3 .6,.7 .6-.1 .6,1.8 .6,.6 .6,1.4 .5-.3 .6,1.1 .6,0 .6,1.3 .6-.6 .6,.4 .6,.2 .6,.1 .6,.9 .6-1.4 .6,.9 .6-.6 .5,1.2 .6,1.3 .6,2.3 .6,1.1 .6,.7 .6-.3 .6,1.3 .6-.7 .6,1.2 .6-.2 .6,1.8 .6,.7 .6,1.1 .5,1.2 .6,.9 .6,.1 .6,.3 .6,.8 .6,1.1 .6,.9 .6,0 .6,.3 .6-.5 .6-.3 .6,.6 .5-.5 .6-.1 .6-.3 .6-.4 .6-1.6 .6-.5 .6-1.6 .6,.4 .6-1.3 .6,1.4 .6-.9 .6,.2 .5-2.9 .6-1.4 .6-.8 .6,0 .6-.5 .6-1.2 .6-.9 .6-.9 .6,0 .6-1.5 .6-.7 .6-.4 .6-.4 .5-1.9 .6-5.4 .6-3.8 .6-2.5 .6-1.3 .6,.2 .6,1 .6,2.1 .6,1.8 .6,.8 .6,.8 .6-.1 .5-.5 .6,.4 .6-1.4 .6-.3 .6-2.3 .6-4 .6-7.3 .6-9 .6-7.5 .6-3.4 .6,4.1 .6,7.6 .6,7.7 .5,6.6 .6,3.9 .6,2.7 .6,1.6 .6,1.3 .6,1.6 .6-.4 .6,.6 .6-1.3 .6-1.1 .6-4 .6-5.6 .5-8.7 .6-8.7 .6-8.5 .6-3.3 .6,4.9 .6,9.6 .6,10.8 .6,7.2 .6,6.7 .6,4.5 .6,2.8 .6,1.2 .6-.5 .5-.1 .6,.2 .6,1.6 .6,3.1 .6,4.6 .6,5.4 .6,1.9 .6,.6 .6-1.1 .6-.2 .6-1.6 .6,.2 .5-.8 .6,1.1 .6-.4 .6-.3 .6-1.3 .6-1.5 .6,.6 .6-1.2 .6-1.2 .6-2.9 .6-.6 .6,0 .5-.4 .6-1 .6-.4 .6-.8 .6-.4 .6-1.2 .6-1.3 .6-.2 .6-.4 .6,.1 .6-.8 .6-1.9 .6,0 .5-.5 .6-.4 .6-2 .6-.9 .6-1.3 .6,.4 .6-2 .6,.1 .6-1.6 .6-1.3 .6-1.3 .6-.8 .5-.2 .6-1.9 .6-1.2 .6-.4 .6,0 .6,0 .6-.7 .6-.2 .6-1.4 .6-.5 .6-.9 .6-.5 .6-1.3 .5,.8 .6,.3 .6,1.2 .6-1.1 .6-.1 .6-.4 .6,.9 .6,1 .6,1.3 .6-.1 .6,.3 .6-.2 .5,1.1 .6,.4 .6,0 .6,1.3 .6,1.1 .6,2.8 .6,1.4 .6,1.9 .6,.9 .6,.5 .6,1 .6,1 .6,1.8 .5,1.5 .6,1.5 .6,1.7 .6,1.4 .6,1.5 .6,1.1 .6,2 .6,1.1 .6,1.2 .6,.2 .6,2.3 .6,2.1 .5,1.2 .6,1.1L605.4,523.7L412.5,523.7Z" fill="#fff" stroke="#e6321f" stroke-width="1.3" stroke-linejoin="round" stroke-dasharray="620.3 9999"/>
<path d="M405.4,518.2l.6,.4 .6-.7 .6-1.2 .6-.9 .6-1.5 .6-.2 .6,.2 .6,.7 .6,.3 .6,.7 .6,1.8 .6,1 .6-.5 .6,.4 .6-.6 .6,.6 .6-1.1 .6,.7 .6-.5 .6,.1 .6-.8 .6,.6 .6-.6 .6,1.2 .6-.6 .6,.6 .6-.8 .6-.4 .6,1 .6-.2 .6-.4 .7-1.4 .6-.2 .6-.7 .6-1.5 .6-1.8 .6-2.7 .6-1.7 .6-1.8 .6-.5 .6,0 .6,.7 .6,1.7 .6,1.9 .6,1.6 .6,1.7 .6,.5 .6,1.9 .6,.8 .6,1 .6-.7 .6,.9 .6,.4 .6-.4 .6-1.9 .6-1 .6-.6 .6-1.2 .6-.8 .6-.6 .6-1 .6-1 .6-.6 .6,.5 .6-1.6 .6-2 .6-3.2 .7-4.7 .6-6.2 .6-9 .6-9.1 .6-8.8 .6-3.4 .6,2.9 .6,7.7 .6,8.5 .6,7.7 .6,5.9 .6,3.2 .6,2.9 .6,.8 .6,1.5 .6-.4 .6-.1 .6-.9 .6-2 .6-3.1 .6-2.3 .6-4.5 .6-5.1 .6-8.3 .6-7.4 .6-7.4 .6-3 .6,1.2 .6,4.8 .6,6.1 .6,5.8 .6,4.2 .6,1.7 .6,2.8 .6,2.3 .6,1.8 .7,1.5 .6,.9 .6,1.2 .6,.8 .6,2.2 .6,1.5 .6,.3 .6-.9 .6-.5 .6,.8 .6,1.1 .6,.6 .6,.8 .6,.5 .6,0 .6,1 .6,.7 .6,1.3 .6,.5 .6,.6 .6-.3 .6-.7 .6,.1 .6,.7 .6,1.7 .6-.2 .6,1.6 .6,.5 .6,1.2 .6,.4 .6,.2 .6,1.3 .6,1.8 .6,1.8 .6,.5 .6-.8 .7-.1 .6,.5 .6,1.9 .6,1 .6,.6 .6-.6 .6-.5 .6-.1 .6,1.3 .6,1.1 .6,.8 .6-.6 .6-.7 .6-.3 .6-1.2 .6-1.3 .6-1 .6-.5 .6,1 .6-.9 .6-1.5 .6-2.2 .6-.5 .6-.4 .6-1.1 .6-.3 .6-.5 .6,.4 .6-.9 .6-.4 .6-.9 .6,.2 .6-1.2 .6-1.9 .6-.5 .6-2.2 .7-1.5 .6-3.8 .6-2.6 .6-2.8 .6-2 .6-.2 .6,1.3 .6,1.5 .6,2.1 .6,.8 .6,1.4 .6,.3 .6,.3 .6-1.3 .6-.6 .6-2.1 .6-2.5 .6-4.8 .6-5.2 .6-7.5 .6-5.3 .6-4.1 .6,5.3 .6,6.4 .6,8.2 .6,5.1 .6,4.8 .6,3.3 .6,.8 .6,.5 .6-.8 .6-.4 .6-2 .6-.6 .6-1.2 .6-2.3 .7-6.5 .6-7.9 .6-8.7 .6-5.1 .6-.7 .6,6.9 .6,8 .6,8.6 .6,6.1 .6,5.5 .6,3.9 .6,1.2 .6,2.7 .6,.9 .6,.3 .6,.6 .6,1.7 .6,4.5 .6,3 .6,3.5 .6-.3 .6,1.3 .6-.5 .6-.3 .6-.2 .6-.6 .6,0 .6-2.2 .6-.9 .6-1.3 .6-1.8 .6-1.1 .6-.6 .6,.2 .6-.6 .6-1.7 .7,.1 .6-1.8 .6,.1 .6-1.2 .6,.5 .6-1 .6-2.1 .6-1.3 .6-.5 .6,.2 .6-.9 .6-2 .6-.8 .6-.8 .6-2 .6-1 .6-.9 .6,1.2 .6-1.5 .6-.7 .6-2.6 .6-1.2 .6-1.7 .6,.2 .6-.2 .6-.4 .6-1.4 .6-1 .6-1 .6-1 .6-1.1 .6-1 .6-1.2 .6-1.3 .6-.5 .6-1.3 .7-.1 .6-1.3 .6-.2 .6,.6 .6,.1 .6,.2 .6-1.5 .6-.2 .6,.1 .6,1.6 .6,1.2 .6,.7 .6,.8 .6,.5 .6,1.2 .6-.5 .6,.1 .6,.7 .6,1.7 .6,2.1 .6,1.1 .6,.5 .6,.7 .6,1.6 .6,1.8 .6,2.4 .6,1.6 .6,1.1 .6,1.4 .6,1.2 .6,1.6 .6-.3 .6,1.7 .6,2 .6,3.4 .6,2 .7,2.2 .6,1.8 .6,.6 .6,1.1 .6,.7 .6,2.8 .6,2.5L601.9,531.9L405.4,531.9Z" fill="#fff" stroke="#e52a22" stroke-width="1.3" stroke-linejoin="round" stroke-dasharray="630.0 9999"/>
<path d="M398,525.2l.6-.8 .6,0 .6-.3 .7-1 .6-.1 .6-.4 .6-.4 .6-.1 .6,1.1 .6,1.1 .7,.8 .6,.7 .6-.6 .6,.4 .6-.3 .6,1 .6,.5 .7,.3 .6,.1 .6,.1 .6-.5 .6-1.2 .6-.7 .6,.5 .7,1.3 .6,.8 .6-.5 .6-.8 .6-.6 .6-.1 .6,.3 .6-1.9 .7-1 .6-2.1 .6-2 .6-1.1 .6-2.7 .6-2 .6-3.4 .7-1.3 .6-.5 .6,1.6 .6,2.8 .6,2.4 .6,1.8 .6,1.6 .7,2.3 .6,1.9 .6,1.3 .6,1.2 .6-.1 .6,0 .6,.5 .7,0 .6-.8 .6-1.2 .6-1.1 .6-.7 .6-1.6 .6-.7 .7-.6 .6-.3 .6-.6 .6-.4 .6-.3 .6-2.1 .6-3 .7-5.2 .6-5.4 .6-8.4 .6-9.4 .6-8.7 .6-2.5 .6,4 .6,9.4 .7,7 .6,5.7 .6,3.7 .6,4.2 .6,2.6 .6,1.8 .6-.1 .7-.3 .6-1.5 .6-.7 .6-.7 .6-1.7 .6-2.6 .6-6.2 .7-7.6 .6-8.9 .6-8.1 .6-7.5 .6-3.5 .6,1.7 .6,6 .7,6.8 .6,6.9 .6,6.5 .6,3.5 .6,4.1 .6,1.8 .6,.3 .7,.7 .6,.2 .6,2.2 .6,1 .6-.2 .6,1.5 .6,0 .7,1.8 .6-1 .6,.4 .6,.3 .6,1.9 .6,.6 .6,0 .7-.8 .6,.8 .6,.4 .6,.7 .6-.4 .6,.1 .6-.3 .7,1 .6,1.1 .6,1.4 .6,1.4 .6,.5 .6,.8 .6,.6 .6,1.7 .7,.5 .6,.6 .6,.7 .6,.7 .6,.4 .6,.7 .6,1.2 .7,0 .6,.3 .6-.7 .6,1 .6,.4 .6,1.3 .6,0 .7,.9 .6,.6 .6,1.8 .6,.3 .6-.4 .6-1.2 .6-.1 .7-1.5 .6-.8 .6-1.5 .6-.1 .6-1.2 .6-1.6 .6-1 .7,.4 .6,0 .6-.7 .6-1.2 .6-.7 .6-.1 .6-1.1 .7,.2 .6-.8 .6-.2 .6-2 .6-1 .6-1.2 .6,.3 .6-1.7 .7-1.3 .6-2.8 .6-1.8 .6-1.7 .6,.3 .6-.2 .6,.2 .7-.4 .6,.4 .6,.2 .6,0 .6,.6 .6,.3 .6-.1 .7-1.3 .6-.8 .6-1.1 .6-3.9 .6-6.6 .6-8.8 .6-6.6 .7-2 .6,3.5 .6,6.9 .6,7 .6,6.7 .6,4.9 .6,2.4 .7,.8 .6-.3 .6-.1 .6-.3 .6-1.3 .6-.8 .6-2.4 .7-1.7 .6-4.7 .6-5.7 .6-6.9 .6-6.6 .6-.3 .6,4.2 .7,7.6 .6,6.8 .6,4.6 .6,7 .6,2.8 .6,2.8 .6,.2 .7,.6 .6,.3 .6,.7 .6,3.5 .6,2.5 .6,4.9 .6,2.5 .6,1.3 .7-1.1 .6,.6 .6,.7 .6,.3 .6-1 .6-.8 .6-.5 .7,0 .6-1.4 .6-.9 .6-1.1 .6-1.5 .6-1.1 .6-.8 .7,.9 .6-1.8 .6-1.1 .6-1.4 .6,.7 .6-.9 .6-1 .7-2.2 .6-2 .6-1.1 .6,.6 .6,.8 .6-.2 .6-2.3 .7-1.8 .6-1.7 .6-.2 .6,.2 .6-1 .6-1.4 .6-.9 .7-.1 .6-1.3 .6-1.7 .6-.9 .6-1.9 .6-1.1 .6-1.8 .6-.7 .7-1.4 .6-2.2 .6-.1 .6-2.5 .6,1 .6-1.3 .6,.5 .7-1.6 .6-1 .6-.1 .6,.4 .6-.5 .6-1.4 .6-.1 .7-.2 .6,.5 .6-.4 .6,1.5 .6,1.3 .6,.3 .6,1.5 .7,.3 .6,.8 .6,.2 .6-.3 .6,.4 .6,.7 .6,2.1 .7,2.1 .6,1.1 .6,1.6 .6,1.1 .6,.4 .6,1.2 .6,1.8 .7,2.3 .6,1.9 .6,1.3 .6,1.8 .6,1.7 .6,1.5 .6,2.3 .7,1.3 .6,2 .6,.7 .6,2 .6,1.9 .6,2 .6,.6 .7,1.3 .6,1.5L598.2,540.5L398.0,540.5Z" fill="#fff" stroke="#e31e24" stroke-width="1.3" stroke-linejoin="round" stroke-dasharray="618.8 9999"/>
<line x1="398.00" y1="540.50" x2="599.50" y2="540.50" stroke="#000" stroke-width="1.4" stroke-linecap="square"/>
<line x1="398.00" y1="540.50" x2="398.00" y2="440.30" stroke="#000" stroke-width="1.4" stroke-linecap="square"/>
<line x1="398.00" y1="440.30" x2="522.40" y2="326.53" stroke="#000" stroke-width="1.4" stroke-linecap="square"/>
<line x1="522.40" y1="326.53" x2="661.65" y2="326.53" stroke="#000" stroke-width="1.4" stroke-linecap="square"/>
<line x1="661.65" y1="326.53" x2="661.65" y2="395.77" stroke="#000" stroke-width="1.4" stroke-linecap="square"/>
<line x1="599.50" y1="540.50" x2="661.65" y2="395.77" stroke="#000" stroke-width="1.4" stroke-linecap="square"/>
<line x1="522.40" y1="326.53" x2="522.40" y2="388.86" stroke="#000" stroke-width="1.2" />
<line x1="398.00" y1="540.50" x2="398.00" y2="544.00" stroke="#000" stroke-width="1.1" />
<text x="398.00" y="561.80" font-size="12.2" text-anchor="middle" font-family="Liberation Sans, sans-serif" font-weight="bold">1000</text>
<line x1="413.35" y1="540.50" x2="413.35" y2="542.70" stroke="#000" stroke-width="1.1" />
<line x1="428.70" y1="540.50" x2="428.70" y2="544.00" stroke="#000" stroke-width="1.1" />
<text x="428.70" y="561.80" font-size="12.2" text-anchor="middle" font-family="Liberation Sans, sans-serif" font-weight="bold">1100</text>
<line x1="444.05" y1="540.50" x2="444.05" y2="542.70" stroke="#000" stroke-width="1.1" />
<line x1="459.40" y1="540.50" x2="459.40" y2="544.00" stroke="#000" stroke-width="1.1" />
<text x="459.40" y="561.80" font-size="12.2" text-anchor="middle" font-family="Liberation Sans, sans-serif" font-weight="bold">1200</text>
<line x1="474.75" y1="540.50" x2="474.75" y2="542.70" stroke="#000" stroke-width="1.1" />
<line x1="490.10" y1="540.50" x2="490.10" y2="544.00" stroke="#000" stroke-width="1.1" />
<text x="490.10" y="561.80" font-size="12.2" text-anchor="middle" font-family="Liberation Sans, sans-serif" font-weight="bold">1300</text>
<line x1="505.45" y1="540.50" x2="505.45" y2="542.70" stroke="#000" stroke-width="1.1" />
<line x1="520.80" y1="540.50" x2="520.80" y2="544.00" stroke="#000" stroke-width="1.1" />
<text x="520.80" y="561.80" font-size="12.2" text-anchor="middle" font-family="Liberation Sans, sans-serif" font-weight="bold">1400</text>
<line x1="536.15" y1="540.50" x2="536.15" y2="542.70" stroke="#000" stroke-width="1.1" />
<line x1="551.50" y1="540.50" x2="551.50" y2="544.00" stroke="#000" stroke-width="1.1" />
<text x="551.50" y="561.80" font-size="12.2" text-anchor="middle" font-family="Liberation Sans, sans-serif" font-weight="bold">1500</text>
<line x1="566.85" y1="540.50" x2="566.85" y2="542.70" stroke="#000" stroke-width="1.1" />
<line x1="582.20" y1="540.50" x2="582.20" y2="544.00" stroke="#000" stroke-width="1.1" />
<text x="582.20" y="561.80" font-size="12.2" text-anchor="middle" font-family="Liberation Sans, sans-serif" font-weight="bold">1600</text>
<line x1="597.55" y1="540.50" x2="597.55" y2="542.70" stroke="#000" stroke-width="1.1" />
<line x1="604.97" y1="527.77" x2="607.17" y2="527.77" stroke="#000" stroke-width="1.1" />
<line x1="613.45" y1="508.02" x2="616.95" y2="508.02" stroke="#000" stroke-width="1.1" />
<text x="628.45" y="512.82" font-size="12.3" text-anchor="middle" font-family="Liberation Sans, sans-serif" font-weight="bold">5</text>
<line x1="621.23" y1="489.91" x2="623.43" y2="489.91" stroke="#000" stroke-width="1.1" />
<line x1="628.38" y1="473.24" x2="631.88" y2="473.24" stroke="#000" stroke-width="1.1" />
<text x="645.58" y="478.04" font-size="12.3" text-anchor="middle" font-family="Liberation Sans, sans-serif" font-weight="bold">10</text>
<line x1="634.99" y1="457.85" x2="637.19" y2="457.85" stroke="#000" stroke-width="1.1" />
<line x1="641.11" y1="443.60" x2="644.61" y2="443.60" stroke="#000" stroke-width="1.1" />
<text x="658.31" y="448.40" font-size="12.3" text-anchor="middle" font-family="Liberation Sans, sans-serif" font-weight="bold">15</text>
<line x1="646.80" y1="430.37" x2="649.00" y2="430.37" stroke="#000" stroke-width="1.1" />
<line x1="652.09" y1="418.04" x2="655.59" y2="418.04" stroke="#000" stroke-width="1.1" />
<text x="669.29" y="422.84" font-size="12.3" text-anchor="middle" font-family="Liberation Sans, sans-serif" font-weight="bold">20</text>
<line x1="657.03" y1="406.54" x2="659.23" y2="406.54" stroke="#000" stroke-width="1.1" />
<line x1="661.65" y1="395.77" x2="665.15" y2="395.77" stroke="#000" stroke-width="1.1" />
<text x="678.85" y="400.57" font-size="12.3" text-anchor="middle" font-family="Liberation Sans, sans-serif" font-weight="bold">25</text>
<text x="669.5" y="470.5" font-size="12.8" text-anchor="middle" font-style="italic" transform="rotate(-66.7 669.5 466)" font-family="Liberation Sans, sans-serif" font-weight="bold">Times</text>
<text x="489.7" y="583" font-size="12.8" text-anchor="middle" font-family="Liberation Sans, sans-serif" font-weight="bold">Raman shift (cm<tspan font-size="7.94" dy="-4.61">−1</tspan><tspan dy="4.61">)</tspan></text>
<path d="M18.3,1147.6 18.3,1039.0 151.2,919.0 151.2,994.0 Z" fill="#dae7e7" stroke="none"/>
<path d="M151.2,919.0 299.5,919.0 299.5,994.0 151.2,994.0 Z" fill="#f0f2d2" stroke="none"/>
<path d="M18.3,1147.6 233.1,1147.6 299.5,994.0 151.2,994.0 Z" fill="#ebebeb" stroke="none"/>
<line x1="175.87" y1="919.05" x2="175.87" y2="994.00" stroke="#cdd0bb" stroke-width="0.9" />
<line x1="200.51" y1="919.05" x2="200.51" y2="994.00" stroke="#cdd0bb" stroke-width="0.9" />
<line x1="225.15" y1="919.05" x2="225.15" y2="994.00" stroke="#cdd0bb" stroke-width="0.9" />
<line x1="249.78" y1="919.05" x2="249.78" y2="994.00" stroke="#cdd0bb" stroke-width="0.9" />
<line x1="274.42" y1="919.05" x2="274.42" y2="994.00" stroke="#cdd0bb" stroke-width="0.9" />
<line x1="299.06" y1="919.05" x2="299.06" y2="994.00" stroke="#cdd0bb" stroke-width="0.9" />
<line x1="151.23" y1="982.29" x2="299.47" y2="982.29" stroke="#dcdfc2" stroke-width="0.9" />
<line x1="18.30" y1="1130.64" x2="151.23" y2="982.29" stroke="#a3b0b0" stroke-width="0.75" />
<line x1="151.23" y1="970.59" x2="299.47" y2="970.59" stroke="#dcdfc2" stroke-width="0.9" />
<line x1="18.30" y1="1113.68" x2="151.23" y2="970.59" stroke="#a3b0b0" stroke-width="0.75" />
<line x1="151.23" y1="958.88" x2="299.47" y2="958.88" stroke="#dcdfc2" stroke-width="0.9" />
<line x1="18.30" y1="1096.72" x2="151.23" y2="958.88" stroke="#a3b0b0" stroke-width="0.75" />
<line x1="151.23" y1="947.18" x2="299.47" y2="947.18" stroke="#dcdfc2" stroke-width="0.9" />
<line x1="18.30" y1="1079.76" x2="151.23" y2="947.18" stroke="#a3b0b0" stroke-width="0.75" />
<line x1="151.23" y1="935.47" x2="299.47" y2="935.47" stroke="#dcdfc2" stroke-width="0.9" />
<line x1="18.30" y1="1062.80" x2="151.23" y2="935.47" stroke="#a3b0b0" stroke-width="0.75" />
<line x1="151.23" y1="923.77" x2="299.47" y2="923.77" stroke="#dcdfc2" stroke-width="0.9" />
<line x1="18.30" y1="1045.84" x2="151.23" y2="923.77" stroke="#a3b0b0" stroke-width="0.75" />
<line x1="44.69" y1="1015.19" x2="44.69" y2="1117.10" stroke="#b9c6c8" stroke-width="0.6" />
<line x1="76.13" y1="986.82" x2="76.13" y2="1080.78" stroke="#b9c6c8" stroke-width="0.6" />
<line x1="105.72" y1="960.12" x2="105.72" y2="1046.59" stroke="#b9c6c8" stroke-width="0.6" />
<line x1="130.10" y1="938.12" x2="130.10" y2="1018.42" stroke="#b9c6c8" stroke-width="0.6" />
<path d="M144.6,984.4l.2-.6 .3,2.9 .2-2.9 .3-.8 .2,.6 .3,.6 .2-2.6 .3,2 .2-1.3 .3,2.1 .2,.5 .3-.1 .2,0 .3-1.1 .3-.8 .2,.4 .3-.1 .2-.3 .3-.1 .2,.1 .3,0 .2,.1 .3,.4 .2-.9 .3,.8 .2-1.1 .3,.8 .2,0 .3,1.2 .2,1.5 .3-.7 .2-.4 .3-.4 .2,.2 .3-1.7 .2,2.4 .3,.4 .2-1 .3,.7 .3-1 .2-.6 .3-2.1 .2,3.2 .3-.1 .2-1.2 .3,.5 .2-1.3 .3-2.7 .2-.3 .3,.1 .2-.5 .3,3.4 .2-1 .3,1.6 .2,.2 .3,1.8 .2-1 .3-.8 .2-.9 .3,1 .2-1.5 .3,2.9 .2-1.7 .3-.1 .2,1.5 .3-.1 .3-.1 .2-.5 .3-.5 .2,.7 .3,.1 .2-.2 .3-.6 .2-.8 .3,.9 .2,.8 .3-.3 .2,.5 .3,.3 .2-.5 .3-.2 .2-1.2 .3,2.1 .2-1.6 .3,.9 .2-1.4 .3,1 .2-.9 .3,.9 .2,1.4 .3-1.3 .3,0 .2-.2 .3,.3 .2-.3 .3,.1 .2,.5 .3-2.4 .2,2.9 .3-.5 .2-.7 .3-.3 .2,.5 .3-.6 .2,.6 .3-.5 .2-.1 .3,.7 .2-1.6 .3-1.3 .2-.9 .3-1.2 .2-.5 .3-.2 .2,1.3 .3,2.6 .2,.9 .3-.6 .3,2.6 .2-1.2 .3,.5 .2-3.5 .3,2.6 .2,.4 .3,.1 .2,1.3 .3-1.2 .2-1.8 .3,1.1 .2,.5 .3-.6 .2-.1 .3,1 .2-.7 .3,0 .2,1.8 .3-1 .2,1.9 .3-1 .2-2.8 .3-.2 .2-.2 .3,3.1 .2-.8 .3,.3 .3-.9 .2,.6 .3-.3 .2-.6 .3,1 .2-1.5 .3,.9 .2-1.2 .3,.4 .2,0 .3,.5 .2,.1 .3-1.3 .2-2 .3,2 .2-3 .3,1.9 .2,2.1 .3-1 .2,2 .3-.5 .2,.6 .3-1.5 .2,0 .3-.7 .3,1.1 .2-1.2 .3,1.5 .2-.3 .3,0 .2-.1 .3,1.6 .2-1.7 .3,2.6 .2-1.9 .3,1 .2-.2 .3,.9 .2-1.4 .3,1.2 .2-1.2 .3,1.3 .2-.1 .3-1 .2-1 .3,2 .2-1.2 .3-.4 .2-.5 .3-.6 .2-1.7 .3,.3 .3,.1 .2-1.1 .3-.3 .2,1.4 .3,.2 .2-.5 .3-.8 .2,4.9 .3-1 .2-1.3 .3,1.4 .2-1.5 .3,.4 .2,1.4 .3,0 .2-.3 .3,.7 .2-1.1 .3-.2 .2-.2 .3-1 .2,.8 .3-.5 .2,1.5 .3-1.7 .3,1.5 .2-1.4 .3-.9 .2,.2 .3,1.4 .2-.3 .3,.1 .2,0 .3,.9 .2,1.1 .3-1.8 .2,.8 .3-1.6 .2,.4 .3,3.2 .2-.8 .3-1.9 .2-.4 .3,1 .2-.8 .3,1.8 .2-3.6 .3,3 .2-1.5 .3,.2 .2,1.3 .3-2 .3-1.3 .2,.3 .3-1.4 .2-3.7 .3-4.1 .2-4.1 .3-1 .2-.8 .3,3 .2,6.4 .3,3 .2,1.9 .3,2.7 .2,1 .3-1.8 .2-.2 .3-1.3 .2-.3 .3-1.7 .2-1.5 .3-4 .2-1.3 .3-3.5 .2-2.4 .3,.7 .3,4 .2,3.8 .3,2 .2,4.1 .3,1.3 .2,1.7 .3-1.6 .2,1.1 .3,2 .2-.2 .3-1.4 .2-.8 .3-1.3 .2,1 .3,1.5 .2-.7 .3,.2 .2,1.2 .3-1.4 .2-.6 .3-1.1 .2-2.9 .3-3.5 .2-2.5 .3,.8 .2,1.1 .3,1.5 .3,4.1 .2,1.8 .3-1.8 .2,5.5 .3-1.9 .2-.1 .3-.6 .2-1 .3,1.3 .2-.2 .3-.2 .2-.1 .3-1 .2-2.8 .3,2.9 .2-1.1 .3-.6 .2,1.1 .3-2.8 .2,.7 .3,2.1 .2-1.1 .3,.4 .2,1.9 .3-1.1 .3,1.9 .2,1.2 .3-1.2 .2,1.2 .3,.4 .2,1.1 .3-.2 .2-.8 .3-1.3 .2-.1 .3-.9 .2-.3 .3,.9 .2-.3 .3-2 .2,1.2 .3-.5 .2,1.4 .3,.1 .2-.2 .3,.2 .2-1 .3,.8 .2-.9 .3-1.1 .2-2 .3,1.8 .3-3.4 .2-1.6 .3,.9 .2-.1 .3,2.3 .2,1.9 .3,2.1 .2,.2 .3,0 .2,.7 .3-1.4 .2,0 .3-1.1 .2-.7 .3-4.4 .2-.2 .3-1.3 .2-2.9 .3-1.6 .2-2.9 .3-3 .2-4.4 .3-5.1 .2-3.9 .3-9.7 .3-5.8 .2-.7 .3-1.4 .2,4.8 .3,4.1 .2,3.3 .3,3 .2,1.4 .3-.6 .2-.3 .3-1.3 .2-3.8 .3-6.7 .2-2.4 .3-2.8 .2,1.6 .3,5.1 .2,3.1 .3,5.3 .2,3.1 .3,.1 .2,1.3 .3-2.8 .2-3 .3-1.4 .2-2.8 .3-3 .3,4.5 .2,3.2 .3,5.4 .2,6 .3,3.2 .2,3.2 .3,3.4 .2,2.8 .3,.8 .2,1.1 .3,.7 .2,1.2 .3-1.4 .2-2.7 .3-1.1 .2-1 .3,3.3 .2,2.4 .3,3.6 .2,2.3 .3,1.6 .2,1.6 .3-1.5 .2,3 .3-1.9 .3,1.4 .2-1.5 .3,.9 .2-.5 .3,.9 .2,1 .3,1 .2-.5 .3-.6 .2-1 .3-.9 .2,2.6 .3-1.8 .2,.9 .3-.5 .2-.5 .3-.4 .2,.2 .3,.5 .2-1.5 .3,1.5 .2,.4 .3-.9 .2,2.1 .3-.3 .2-1.6 .3,1 .3,1.5 .2-2.8 .3-.8 .2,1.3 .3,.7 .2-.8 .3,0 .2,1.4 .3,0 .2-1.4 .3-.5 .2,1.5 .3-.2 .2-.8 .3,.8 .2-.6 .3,.6 .2-1.3 .3,1.3 .2-.7 .3,2.2 .2-1 .3-1.5 .2,2.3 .3-2.7 .3,.3 .2-.2 .3-.3 .2,0 .3-.6 .2-1.7 .3-2.1 .2-3.3 .3,.3 .2-2.6 .3-.7 .2-2.7 .3,.1 .2-.7 .3,.8 .2,3.3 .3,3.3 .2,.5 .3,1.8 .2,1.8 .3,1.9 .2-.1 .3,1.7 .2-.3 .3,.1 .2,2.1 .3-2.9 .3-.6 .2,2 .3,.5 .2-1.2 .3,2.1 .2-1.5 .3-.1 .2,.5 .3-.7 .2,.7 .3-.3 .2-1.2 .3,1.6 .2-.2 .3-.3 .2-.8 .3,1.2 .2,.1 .3-1.1 .2,2.6 .3-.2 .2-2.4 .3-.6 .2,2.1 .3-1.2 .3,1.3 .2-1.6 .3-.4 .2-.3 .3,.7 .2-1.5 .3,3 .2-2.6 .3,2.6 .2-.5 .3-1.2 .2-.8 .3,2.3 .2,1.1 .3-2.8 .2,1.2 .3,.2 .2-.3 .3,.4 .2-.6 .3,1 .2-.4 .3-.6 .2,1.1 .3-1.6 .2-.2 .3-.2 .3,1.9 .2,.5 .3,.8 .2-1.5 .3-.9 .2-.3 .3,1.4 .2-.8 .3,.5 .2,.7 .3,.3 .2-1.3 .3,.9 .2-1.6 .3,1.2 .2-1.8 .3,1.6 .2-1.4 .3,.6 .2-.5 .3,2.3 .2,.9 .3-.8 .2-.7 .3-1 .3,.1 .2-.9 .3,2.3 .2-2.5 .3,.9 .2,.7 .3,2.3 .2-1.4 .3-.3 .2-2.1 .3,1.8 .2,0 .3-1.9 .2-.1L295.7,1001.7L144.6,1001.7Z" fill="#fff" stroke="#8f70b8" stroke-width="1.2" stroke-linejoin="round" stroke-dasharray="831.3 9999"/>
<path d="M137,997.3l.3-.1 .2-.1 .3-1 .2,.6 .3,.5 .3-2.8 .2,1.9 .3-1.2 .2,.3 .3,1.1 .2,.8 .3-1.8 .3-.9 .2-.9 .3,.8 .2,.3 .3,.7 .3,.1 .2-3.2 .3,2 .2,2.2 .3-1.6 .2-.1 .3,1.9 .3-1.1 .2-.9 .3-.7 .2-.4 .3,1.2 .2,.4 .3,0 .3-.9 .2-.4 .3,2.3 .2-1.3 .3,.4 .3,0 .2-.4 .3-2.3 .2,.4 .3,.4 .2,2.9 .3-1.5 .3-1.8 .2,.7 .3,.4 .2-2.1 .3-.1 .3-1.2 .2-.6 .3,0 .2,1.2 .3,.7 .2,2.2 .3-.6 .3-.3 .2,1.1 .3,0 .2,1.2 .3-2.2 .3,2.5 .2-1.2 .3,1 .2-1.4 .3,0 .2,1.4 .3,2.1 .3-1 .2-.8 .3-.2 .2-1.3 .3-1.6 .3,1.6 .2,.9 .3-1.5 .2,1.5 .3-.7 .2,.4 .3,2.2 .3-2.8 .2-1.2 .3,1.8 .2-1.5 .3,0 .3,.5 .2,.2 .3-1.5 .2,2 .3,.2 .2-1.4 .3-.1 .3-.8 .2,1.3 .3,.5 .2-1.8 .3,2.9 .3-.8 .2,.1 .3-1.9 .2,1.6 .3,.9 .2-.9 .3-1.2 .3,3 .2-.9 .3-2.1 .2,.6 .3,.8 .2-1.5 .3-.9 .3,.5 .2-1.1 .3-2.3 .2,1.8 .3,.1 .3,2.2 .2,.9 .3-.1 .2,1.2 .3-.9 .2,.8 .3-.1 .3-.2 .2,1 .3-2.5 .2,2.5 .3-1.7 .3,2 .2-2.3 .3,1.3 .2-.4 .3-.1 .2-.2 .3,.6 .3-.2 .2-.2 .3,.6 .2-.2 .3-.6 .3,.1 .2,.3 .3-1.4 .2,2.8 .3-2.7 .2,2.4 .3-1.4 .3,.4 .2,.1 .3-1 .2-1.3 .3,2 .3-.4 .2,.2 .3-2.3 .2,.8 .3-.4 .2,.9 .3,1.3 .3-2.9 .2,1.7 .3-1 .2-1.4 .3,2.1 .3,.6 .2,2.3 .3-2.1 .2,.4 .3,.7 .2-1.1 .3,1.4 .3-.8 .2-.6 .3-.3 .2,1 .3,1.1 .2-1.6 .3-2.1 .3,1.1 .2-.3 .3,.4 .2,1.8 .3-.1 .3,2.1 .2-1.5 .3-1.2 .2-.4 .3-.6 .2,1.6 .3-1 .3,.9 .2,.5 .3,.2 .2-1 .3,.2 .3-.1 .2-4.1 .3,2.1 .2-1.1 .3,.3 .2-2.8 .3,5.2 .3-2.1 .2-.5 .3-1 .2,2.3 .3,1.3 .3-1.9 .2,1.2 .3,1.5 .2-.2 .3-.4 .2-.1 .3,1.6 .3-2 .2,.2 .3-.5 .2,0 .3,1.2 .3-2.4 .2,.5 .3,.9 .2,.3 .3-.2 .2-1 .3-.7 .3,2.2 .2-.3 .3-.9 .2,1 .3,0 .3,.2 .2,.5 .3-1.8 .2,.6 .3,1.2 .2-1.8 .3-1.2 .3,.9 .2,.2 .3,.6 .2-.2 .3,.3 .3-1 .2,2 .3,1 .2-1.5 .3-1.4 .2,2.1 .3-2.2 .3-.4 .2-.8 .3-2.6 .2-3.5 .3-1.3 .2-4.7 .3-2.2 .3-.7 .2,2.9 .3,4.9 .2,1.8 .3,3.5 .3,3 .2,1.6 .3-.8 .2-.6 .3-1.6 .2-.1 .3-1.7 .3-1.6 .2-5.1 .3-3.8 .2-2.3 .3-1.6 .3,2.1 .2,2.9 .3,2.6 .2,5.3 .3,1.5 .2,.9 .3,2.9 .3,.6 .2,.7 .3,.4 .2-.8 .3,1.3 .3-1.3 .2,.6 .3,1 .2-1.1 .3-1.4 .2,.4 .3,1.2 .3-.6 .2,.6 .3-1.8 .2-2.8 .3-3.4 .3-3.5 .2,1.4 .3-1.3 .2,3.7 .3,1.8 .2,3.5 .3-.6 .3,1.5 .2,1.2 .3-1 .2,.7 .3,.7 .3-.9 .2,.2 .3-.5 .2-.4 .3,1.3 .2-3.7 .3,.6 .3-1.6 .2-.6 .3-.2 .2-1.7 .3,1.5 .2,.9 .3-1 .3,4.4 .2,.3 .3-1.2 .2,1.3 .3-1.2 .3,1 .2,.3 .3-1 .2,1.6 .3,.3 .2-.4 .3,1.6 .3,.3 .2-.1 .3-2 .2-1 .3,.8 .3,1.3 .2,.2 .3,.4 .2-1.3 .3-.7 .2,1.1 .3-.7 .3,2.5 .2-3.1 .3,.5 .2-1.8 .3-1.3 .3-1 .2-2.9 .3-1.6 .2,3.7 .3,0 .2-1.6 .3,2.2 .3,2 .2,.2 .3,.3 .2-.9 .3,1.4 .3-.2 .2,.5 .3-3.4 .2,.2 .3-.5 .2-1.1 .3-2.9 .3-2.9 .2-4 .3-2 .2-1.6 .3-4.9 .3-5.5 .2-7.9 .3-4.8 .2-4.1 .3,1.6 .2,3.8 .3,5.9 .3,1.9 .2,4 .3,2.2 .2-1.7 .3-1.9 .3-3.1 .2-5.2 .3-6 .2-5.6 .3,.4 .2,1.1 .3,8.4 .3,1.6 .2,6.3 .3,1.8 .2,2.4 .3-.8 .2-1.3 .3-1.1 .3-3 .2-.4 .3-5.1 .2,2.1 .3,3.6 .3,3.4 .2,6.2 .3,4.5 .2,4.9 .3,1 .2,2.8 .3-.2 .3,3 .2,1.4 .3-1.4 .2-3.5 .3,.8 .3-4.7 .2,.3 .3,3.6 .2,.6 .3,1.3 .2,5.4 .3,3.8 .3,.6 .2,1.4 .3-2.8 .2,2.2 .3,2.7 .3-3.5 .2,.6 .3,.8 .2-.8 .3-.7 .2-1.6 .3,2 .3,.4 .2-1.1 .3,1.9 .2,.6 .3-1.1 .3-.3 .2,.7 .3,.2 .2-1.7 .3,.1 .2,2.6 .3-.6 .3-.4 .2-.7 .3-.3 .2-.3 .3-.4 .3-.5 .2,1.9 .3,1.5 .2-1.6 .3-.2 .2,1.3 .3,.3 .3-1.2 .2,.4 .3,.4 .2-1.1 .3-.9 .2,.2 .3-.3 .3,1 .2-1 .3-1.1 .2,1.4 .3-.1 .3-1.6 .2,1.1 .3,1.5 .2-.6 .3-1.3 .2,.9 .3-1.5 .3,1.3 .2,.3 .3-1.2 .2,.9 .3-2.1 .3-.1 .2-1.4 .3-1.9 .2-1 .3-.9 .2-2.1 .3-2.7 .3-.6 .2,.1 .3-.5 .2,2.8 .3,.7 .3-.5 .2,4.2 .3-.3 .2,3.1 .3,.8 .2,1.2 .3,.8 .3,.2 .2-.8 .3,1.9 .2,.3 .3-.8 .3,1 .2-.2 .3-.2 .2-.3 .3,1 .2-1.6 .3,.3 .3,.7 .2-.7 .3-1.1 .2-1.3 .3,2.4 .3-1.6 .2,2.5 .3-.3 .2,.9 .3-.9 .2,.6 .3,.3 .3,1 .2-2.6 .3,2.3 .2-1.1 .3-2.5 .3,1.4 .2,.1 .3,0 .2,.3 .3,.5 .2-.4 .3,.4 .3-.4 .2-.4 .3-.4 .2,.3 .3,.1 .2,0 .3-.1 .3,2.2 .2,1.1 .3-2.5 .2,.3 .3-.7 .3,.9 .2-1.7 .3,1.4 .2-1 .3,1.1 .2-3.3 .3,2.3 .3,2.2 .2-3.3 .3,.3 .2,0 .3,2.5 .3-1.6 .2-.8 .3,1.4 .2-1.2 .3,.3 .2,.4 .3-1.8 .3,2.2 .2-.2 .3-.5 .2,.3 .3,0 .3,2.3 .2-3.2 .3,2.3 .2-.7 .3-.4 .2-.5 .3,.5 .3,.7 .2-1.2 .3-.6 .2,2.5 .3,0 .3-.4 .2,.5 .3-.8 .2-.9 .3-1 .2,1.1 .3,.2 .3-.4 .2,.6 .3-3.3 .2,1L291.9,1010.4L137.0,1010.4Z" fill="#fff" stroke="#8f70b8" stroke-width="1.2" stroke-linejoin="round" stroke-dasharray="855.1 9999"/>
<path d="M122,1009.4l.3,2.1 .2,.2 .3-3.3 .3-.1 .3-.5 .2,1.5 .3-.8 .3,1.8 .2-1.6 .3,.5 .3,0 .3-.2 .2,.4 .3-.5 .3-1.1 .2-.8 .3,.9 .3-.3 .2,.9 .3-1.4 .3-.9 .3,2.5 .2-1.4 .3,.3 .3-1.3 .2,4.9 .3-1.3 .3,.7 .3-3.1 .2,1.9 .3-.4 .3-.2 .2,.4 .3-.3 .3,1 .2,1.2 .3-1.9 .3,.5 .3,.1 .2-.6 .3-2.1 .3,1.4 .2,0 .3-1.2 .3-1.2 .3,2.6 .2-.6 .3-.9 .3-2.4 .2-.4 .3-1.2 .3,2.1 .2,2.1 .3,1 .3-1.1 .3,2.8 .2-.1 .3-.9 .3-.2 .2-.8 .3,.7 .3-1.4 .3-.1 .2,2.9 .3-1 .3,.9 .2-1.3 .3,.8 .3-.8 .3-.5 .2-.2 .3,2.3 .3,.5 .2-.4 .3-2.8 .3,1.9 .2-.9 .3-.7 .3,2.6 .3-1.8 .2,1.4 .3-.8 .3,1.3 .2-1.5 .3,.1 .3,0 .3,2.1 .2-1.1 .3-1 .3,.8 .2-1.4 .3-.1 .3,.2 .2,.4 .3-.9 .3,1.2 .3-1.9 .2,.6 .3-.4 .3-.4 .2,1.3 .3,.2 .3,.5 .3-.8 .2-1.1 .3,1.6 .3,1 .2-.1 .3-2.9 .3-.3 .2-1.3 .3,2.1 .3-1.4 .3,.7 .2,1.3 .3,.1 .3,.2 .2-1.4 .3,3.6 .3-.8 .3,.9 .2-.8 .3-1.1 .3,2.1 .2,.7 .3-1.7 .3-.2 .3,1.3 .2-2.4 .3,1.7 .3-.5 .2-.4 .3-2.2 .3,.9 .2,.5 .3,1.6 .3-.4 .3-.5 .2-2.7 .3,.1 .3,1.4 .2,1.3 .3,1.1 .3-1.1 .3-.5 .2-.5 .3,0 .3,1.2 .2-1.2 .3,.7 .3-1.2 .2,.9 .3-.8 .3,.9 .3,.3 .2-2.3 .3,1.6 .3-2.5 .2-.1 .3-.4 .3,0 .3,1.3 .2,1.6 .3,.6 .3,.4 .2-1.4 .3-.2 .3-.1 .3,1.9 .2-1.6 .3-.1 .3,2.2 .2,.1 .3-2.2 .3,1.8 .2-1.5 .3,1.6 .3,.8 .3-.9 .2-.4 .3-.8 .3,1.2 .2-.1 .3-3 .3,3.1 .3-2 .2,2.5 .3-1.6 .3,.6 .2-.8 .3,1.1 .3,.8 .2-1.1 .3,1 .3-.2 .3-1.5 .2-4 .3,.8 .3-1.2 .2,1.5 .3,1.8 .3,.1 .3-1.5 .2,1.5 .3,.2 .3,1 .2-.1 .3,1.6 .3-2.2 .2,1.8 .3-2.4 .3-.7 .3,2 .2-1.3 .3-.1 .3,1.3 .2,.3 .3-1.4 .3,1 .3,.5 .2,.4 .3,.1 .3-1 .2,.1 .3,1.2 .3-.7 .3-.4 .2,.9 .3-.2 .3,1.3 .2-.6 .3-.8 .3,.2 .2,.9 .3-2.5 .3,2.5 .3-1.8 .2,.4 .3,.1 .3-1 .2-.8 .3,1.4 .3-1.4 .3-2.3 .2,3.1 .3-.4 .3-.6 .2,.6 .3,.5 .3,0 .2-1.4 .3-2 .3-3.6 .3-6.6 .2-4 .3-2.8 .3-1.1 .2,3.6 .3,6.9 .3,3.5 .3,4.1 .2,.3 .3,.9 .3,1.4 .2-1 .3,1.2 .3-1.1 .3-2.7 .2-3.1 .3-4.3 .3-.4 .2-4.7 .3-.7 .3,.5 .2,4.8 .3,3.4 .3,.7 .3,2.9 .2,2.2 .3,2.5 .3-.8 .2,1.7 .3,1.4 .3-1 .3,.4 .2,1 .3-.8 .3,.1 .2-1.8 .3-.6 .3-.3 .2-.4 .3,2.2 .3-2 .3-2.1 .2-2.5 .3-1.1 .3-1.4 .2-4.2 .3,2.8 .3,2.2 .3,5 .2,.1 .3,2 .3,1.8 .2-.6 .3-.4 .3-.9 .2-.3 .3-.2 .3,.7 .3,1 .2,.1 .3-.7 .3-.3 .2,.1 .3,0 .3-3.7 .3,.3 .2-2.3 .3,2.9 .3-1.4 .2,1.5 .3-.2 .3,1.4 .3-.8 .2,1.7 .3,1.6 .3,.3 .2,.2 .3-.8 .3,.1 .2,.6 .3-.1 .3-.6 .3,2.5 .2-2.8 .3-.1 .3,3.9 .2-1.7 .3-1 .3,2.3 .3-2.8 .2-1.1 .3,.2 .3-.6 .2,1.4 .3-.5 .3,.1 .2,.4 .3-1.1 .3,.4 .3-2.1 .2-3.6 .3-1.3 .3,2.2 .2,1.8 .3,1.5 .3-1.7 .3,1.8 .2-1.1 .3,1 .3-.3 .2,1.5 .3,.7 .3-1.4 .2-2.4 .3,1.2 .3-4 .3-.9 .2-3.6 .3-.8 .3-2.8 .2-4.6 .3,.2 .3-9.4 .3-5.9 .2-6.1 .3-7.8 .3-2.2 .2-1 .3,4.8 .3,3.3 .3,5.9 .2,2.4 .3-.3 .3,.9 .2-.3 .3-2.3 .3-4.7 .2-6.3 .3-2.3 .3-3 .3,2.2 .2,5.9 .3,3.9 .3,2.1 .2,4.4 .3,1.4 .3-.4 .3-1.2 .2-1.3 .3-6.1 .3-4.8 .2-1.7 .3-1.2 .3,6 .2,8.1 .3,6.9 .3,2.8 .3,5.6 .2,6.9 .3,0 .3,3.7 .2,1.6 .3-.8 .3-.3 .3,.6 .2-2.6 .3-1.4 .3,.6 .2,1 .3,4 .3,1 .3,1.6 .2,3.6 .3,1.6 .3-.5 .2-1.2 .3,1.2 .3,.8 .2-.3 .3,1.5 .3-1.4 .3,.1 .2-.2 .3-1.1 .3,1.6 .2,.4 .3-1.4 .3,.6 .3,.5 .2,0 .3-.3 .3,.1 .2,1.5 .3-1.7 .3-1.4 .2,1.6 .3,1.3 .3-2.1 .3,.6 .2,1.7 .3-1.2 .3-.4 .2-1.5 .3,2.3 .3-2.2 .3,2.2 .2-.7 .3,.6 .3-.7 .2-1.2 .3,1.6 .3,1.6 .2-.3 .3-.5 .3-1.6 .3,1.4 .2-.1 .3,.2 .3-1.3 .2-1.2 .3,2 .3-2.7 .3,.5 .2,1.2 .3,.4 .3-1.8 .2,3.8 .3-1.2 .3-2.8 .3,3.4 .2-1.8 .3,0 .3,.3 .2-1 .3-1.4 .3-2.3 .2-2.1 .3-1.4 .3-.7 .3-1.8 .2-1 .3,1 .3,1 .2-1.8 .3,4.8 .3-1 .3,.9 .2,4.1 .3,2.6 .3-.5 .2-1.2 .3,1.9 .3-2 .2,.7 .3,1.6 .3-1.1 .3,1.7 .2-1.1 .3-1.4 .3-1.7 .2,.1 .3-.1 .3,3.5 .3-4.4 .2,4.7 .3-.8 .3-1.2 .2,1.2 .3-.3 .3,2.4 .3,.2 .2-1.1 .3-.1 .3-1 .2,.3 .3,.7 .3-.8 .2,1.2 .3,.1 .3-1.2 .3,1.2 .2-.5 .3,.2 .3-1 .2,.4 .3,.6 .3-.3 .3,1.1 .2-1.4 .3,.2 .3-.5 .2-.5 .3,.7 .3,.8 .2-1.4 .3,1.9 .3,1.8 .3-1.4 .2-.6 .3,.4 .3-2.6 .2,1.3 .3-.4 .3,2.2 .3-1.7 .2-.1 .3-.7 .3,.4 .2-.7 .3,1.5 .3-3.1 .2-1.1 .3,1.3 .3,2.8 .3-1.9 .2,1.2 .3-.4 .3,0 .2-1 .3,.5 .3,2.1 .3-1.6 .2,.2 .3-2 .3,3.2 .2-1.5 .3,.9 .3-1.3 .3,1.9 .2-.7 .3-.5 .3,.3 .2,.6 .3-.5 .3,.3 .2,.3 .3-.5 .3-.3 .3-.3 .2,2.4 .3-2.2 .3-1.3 .2,3.4 .3-1.5 .3,.2 .3-1 .2,.2L284.4,1027.8L122.0,1027.8Z" fill="#fff" stroke="#22a05f" stroke-width="1.2" stroke-linejoin="round" stroke-dasharray="896.9 9999"/>
<path d="M114.6,1017.7l.3,.4 .3,.2 .3,.5 .2,.7 .3-.7 .3,.1 .3,1.6 .3-1 .2-.1 .3,1.3 .3-.6 .3-.5 .2-1.4 .3,0 .3,2.3 .3-.8 .2-3.3 .3,2.4 .3-2.3 .3,1.5 .3-.9 .2,1.3 .3-.5 .3-.3 .3,.3 .2,.5 .3-.9 .3,2 .3-.9 .2,2.4 .3-1 .3-1.9 .3-.5 .3-.9 .2,1 .3-.1 .3,.8 .3,1.6 .2-1.3 .3-1.3 .3,1.2 .3-.1 .2-1.1 .3,2.3 .3-1.8 .3,.3 .3-2.2 .2,.9 .3-2.7 .3-.6 .3-.2 .2,.9 .3-.7 .3,3.7 .3,1.5 .2,2 .3,.5 .3-.7 .3,.1 .2-2 .3,1.2 .3-.6 .3-.4 .3,.9 .2-.2 .3-.5 .3-.7 .3,.6 .2,.7 .3-2 .3,.8 .3-.4 .2-1.4 .3,2.9 .3-1.9 .3,.9 .3,.2 .2,2.6 .3-1.2 .3-1.1 .3,0 .2-1.9 .3,1.6 .3-.5 .3,1 .2,.9 .3-1.2 .3-.7 .3-1.6 .3,.3 .2,1.6 .3,1.1 .3-.8 .3,.5 .2-2.8 .3,2.2 .3,.6 .3,.6 .2,.5 .3-.8 .3,2.3 .3-2.5 .3-.3 .2-1.8 .3,2.9 .3-2.8 .3,1 .2-1.5 .3,.4 .3-2 .3-1.5 .2-3 .3,2.7 .3,.4 .3,.9 .3,1.4 .2,1.2 .3,.6 .3,.1 .3,1.1 .2-1.6 .3,1.5 .3-.4 .3-1 .2,3.3 .3-1.2 .3-.8 .3-.3 .3,.2 .2-.9 .3-1 .3,2 .3-.3 .2-.8 .3,1.4 .3,1 .3-1.7 .2-.6 .3,.4 .3,1.1 .3,.3 .2-2.6 .3,.6 .3,.4 .3,.7 .3-.5 .2,1.5 .3,0 .3-1.5 .3,.5 .2,.5 .3,0 .3-1.5 .3,2.7 .2-3 .3,.7 .3-2.1 .3,.8 .3-3.4 .2,.3 .3,3 .3-2 .3,1.8 .2-.1 .3,1.8 .3,.4 .3,1.6 .2-1.1 .3-.7 .3,1.2 .3-1.2 .3-1.6 .2-.6 .3,1.2 .3-2 .3,2.4 .2-.6 .3-.2 .3,1.8 .3-1.5 .2,1.1 .3,.2 .3-1.8 .3,.4 .3,2.2 .2-1.3 .3,.4 .3,.3 .3-3.1 .2,1.8 .3,.9 .3-.9 .3-.5 .2,.1 .3-.4 .3,.2 .3-2.2 .3,2 .2-2.1 .3,.4 .3,.8 .3-.1 .2,.7 .3-.2 .3-1.3 .3,2.4 .2,1.7 .3-1.8 .3,2.2 .3-.2 .3-2.5 .2,1.4 .3-.5 .3,1.1 .3,.1 .2-.2 .3-.7 .3-1.4 .3,2.7 .2,1.5 .3-2.7 .3,1.5 .3-2.1 .2,1.4 .3-1.6 .3-.3 .3,1.9 .3,.6 .2-1.4 .3,1.5 .3-1.1 .3-.5 .2,1.3 .3-2.3 .3,2.2 .3-1.9 .2,1.1 .3,1.3 .3-1.2 .3-1.3 .3,1.3 .2-2.5 .3,3.1 .3-2.1 .3,2.4 .2-1 .3-1.8 .3,2.6 .3-2.1 .2,.2 .3-2 .3-3.2 .3-4.7 .3-6.5 .2-5.4 .3-3.9 .3,1.3 .3,.5 .2,5.6 .3,7.2 .3,5.5 .3,3.6 .2-.2 .3,.6 .3,1.5 .3-1.5 .3-1.6 .2-1.1 .3-1.9 .3-3.3 .3-1.6 .2-3.5 .3-1.2 .3,1.8 .3,1.8 .2,1.8 .3,3.3 .3,5.6 .3,1.6 .3-1 .2,1.2 .3,.4 .3,2.3 .3-1.7 .2-.7 .3-.2 .3,1 .3-.6 .2-1.2 .3-.3 .3-1.3 .3,3.6 .3-1.4 .2-2.2 .3,1.5 .3-3.5 .3-5.1 .2-1.5 .3-2.9 .3,.1 .3,6.9 .2,4.4 .3,.3 .3,2.7 .3,0 .2,.3 .3-1.4 .3,.6 .3-1.4 .3,.8 .2,.2 .3-.8 .3,.6 .3,.7 .2-3.8 .3,4.4 .3-1.4 .3-1.3 .2-1.7 .3-1.4 .3,.5 .3-2.9 .3,4.1 .2,.8 .3,.1 .3,1.5 .3,1.2 .2-1.4 .3,1.3 .3-1 .3,1.7 .2-1.5 .3,.9 .3,.5 .3,1.4 .3-1.4 .2,1 .3-1.6 .3,.9 .3-.3 .2-2.1 .3,1.5 .3,3.2 .3-3.4 .2,.6 .3-.2 .3,.8 .3-1.9 .3,4 .2-2.5 .3-3.5 .3-1.4 .3-2.5 .2-1.8 .3-1.2 .3-1.5 .3,2.5 .2,3.8 .3-.4 .3,4.3 .3-.4 .3,1.1 .2,.2 .3-.2 .3,.8 .3-2.6 .2-.9 .3-2 .3-1.8 .3-1.5 .2-2.7 .3-2.2 .3-1.2 .3-5.7 .3-3.2 .2-3.7 .3-7.4 .3-6.7 .3-3.1 .2-4.5 .3,2 .3,2.3 .3,4.4 .2,2.6 .3,2.6 .3,2.3 .3-2.6 .2-2.3 .3-3.5 .3-5.4 .3-4.5 .3-6.1 .2-1.6 .3,3.6 .3,5.9 .3,3.8 .2,5.7 .3,5.8 .3,.8 .3-2.6 .2-.2 .3-.6 .3-6 .3-4.5 .3-2.4 .2,1.9 .3,4.5 .3,6.3 .3,6.9 .2,5.1 .3,2.4 .3,3.4 .3,5.8 .2,3.7 .3,.8 .3,1.2 .3,.1 .3-.2 .2-3.6 .3-1.1 .3-1.5 .3,3.1 .2,1.3 .3,4.1 .3,2 .3,1.7 .2,.7 .3,1.1 .3,.8 .3,.2 .3,.4 .2,0 .3-.7 .3-2.5 .3,.8 .2,.8 .3,.9 .3-2.6 .3,1.3 .2,.2 .3-.4 .3,3 .3-.5 .3-1.4 .2-1.7 .3,1.8 .3-.2 .3-.2 .2,.7 .3-.1 .3,.8 .3,.6 .2-.7 .3-1.2 .3-.3 .3,.8 .3,.1 .2-1.7 .3,.4 .3-.6 .3,.5 .2-.5 .3,.3 .3,.6 .3-1.2 .2,2.3 .3-1 .3-.4 .3,1.7 .2-.7 .3,.7 .3-.7 .3,.7 .3-3.6 .2,3.7 .3-2 .3,1.3 .3-.8 .2,.6 .3,.4 .3-1.9 .3,.1 .2,2.1 .3-2.1 .3-.5 .3,.7 .3-2.5 .2-1.5 .3-.5 .3-1.8 .3-3.8 .2,.7 .3-3.6 .3-1.7 .3,4.5 .2-1.6 .3-.2 .3,2.8 .3,2.8 .3-.3 .2,2.2 .3,3.1 .3-1.5 .3,1.5 .2,.4 .3,1.4 .3-1.7 .3,.7 .2,1.4 .3-.5 .3-1.5 .3,.6 .3,3.3 .2-2 .3,.7 .3,.2 .3-1 .2-1.3 .3,.9 .3,1.8 .3-1.3 .2-.6 .3-.8 .3,1 .3,0 .3,.6 .2-.1 .3,2.9 .3-3.7 .3,.4 .2-.5 .3,1.3 .3-1.5 .3-.7 .2,3.1 .3,1.3 .3-1.8 .3,.3 .3-.6 .2,1.5 .3-1.5 .3-.9 .3,4.1 .2-3.6 .3-.3 .3,1.7 .3,1.5 .2-1.5 .3-2.3 .3,1.4 .3-2.3 .2,2.1 .3,.8 .3,.4 .3-3 .3,2.9 .2-1.5 .3-.3 .3-.9 .3,1.3 .2,1.7 .3,.4 .3-2.8 .3,2 .2-.3 .3,.4 .3-.5 .3,.9 .3-2.2 .2,.4 .3,.6 .3-.8 .3,.8 .2-.1 .3-1.7 .3,.9 .3,.5 .2-2.2 .3,2.3 .3-.3 .3-1.3 .3,2.1 .2-1 .3-1.3 .3,.8 .3,0 .2,.5 .3,.1 .3-.1 .3,0 .2,.9 .3-1.9 .3,1.5 .3-1.3 .3,1.3 .2-1.8 .3,2 .3-1.4 .3,.5 .2-1.8L280.7,1036.3L114.6,1036.3Z" fill="#fff" stroke="#22a05f" stroke-width="1.2" stroke-linejoin="round" stroke-dasharray="971.4 9999"/>
<path d="M97.1,1033.6l.3,.8 .3-1.8 .3,2.4 .2-2.1 .3,3.9 .3-.2 .3-1.9 .3,1 .3-1.5 .3,1.1 .3-.1 .3,1.4 .3-.7 .3-1.2 .3,1.4 .2-.6 .3-1.2 .3,.4 .3-.1 .3-1.5 .3,.8 .3,2.6 .3-1.1 .3,.2 .3-.1 .3-1.9 .3,1.2 .2,1.3 .3,1.1 .3-2.2 .3,.7 .3-1.2 .3,.5 .3-.9 .3,2.7 .3-.1 .3-.2 .3,1.3 .2-1.3 .3,1 .3-.6 .3,.5 .3-.8 .3,1 .3-3.6 .3-.3 .3-1.3 .3-1.7 .3,.4 .3,.4 .2-1.3 .3,2.5 .3,.2 .3,4.5 .3-1.3 .3-.5 .3-.5 .3,.4 .3-1.2 .3,2 .3,1 .3-.6 .2,1 .3-.7 .3-.2 .3,1.7 .3-.5 .3-2.3 .3,1 .3-2 .3,1 .3,1 .3-2.1 .2,2 .3-.9 .3,1 .3-.2 .3,.3 .3-.2 .3-.1 .3,.7 .3-.5 .3-.8 .3,1.2 .3,1.7 .2-2.2 .3,2.1 .3-1.7 .3-.4 .3,0 .3,1.5 .3,0 .3-2 .3,0 .3,1.8 .3-1.1 .3,.5 .2,2.4 .3-4.1 .3,2.1 .3,.2 .3-.4 .3,1 .3-2.2 .3,1.2 .3-.2 .3-1.8 .3-.2 .2-.2 .3-1.3 .3-3.3 .3,.3 .3-.2 .3,.7 .3-1.3 .3,3.8 .3,2.5 .3-2 .3,1.8 .3,1.7 .2-.5 .3-.2 .3,.5 .3-1.2 .3,.1 .3-2.7 .3,1.8 .3,.8 .3-.4 .3-.3 .3,0 .3-.3 .2,3.2 .3-.2 .3-2 .3-2.9 .3,2.6 .3-1.4 .3,1.7 .3,.1 .3-.1 .3-1.9 .3,1.5 .2-.7 .3-.2 .3-.2 .3,.9 .3-.9 .3-1 .3,1 .3,1.1 .3,0 .3,0 .3,.4 .3,.6 .2-.7 .3-1.7 .3,.6 .3-5.5 .3,1.5 .3,1.6 .3,1.8 .3-1.4 .3,3.5 .3,.6 .3-1.6 .3,1.3 .2-.6 .3,0 .3,0 .3,.8 .3-1.9 .3,.4 .3,.6 .3,.3 .3-1.9 .3,1.4 .3-.9 .2,1.7 .3,.7 .3-2.5 .3,1.5 .3,.1 .3-.6 .3-1.1 .3,1.1 .3-.2 .3-.9 .3-.6 .3,.6 .2,1.8 .3-3.1 .3,1.6 .3-3.9 .3,2.8 .3-.7 .3,.3 .3-1 .3-2.3 .3,2.4 .3-1.6 .3,.9 .2,1.4 .3-.8 .3,1 .3,.6 .3,2.2 .3-1.6 .3-2.3 .3,3.9 .3-.1 .3,.7 .3-4.6 .2,4.4 .3-.7 .3,1 .3-3.5 .3,1 .3-.2 .3,.6 .3-1.8 .3,1.3 .3-.1 .3,4.7 .3-2.1 .2-1.5 .3-.8 .3,4.2 .3-5.3 .3,1.7 .3,0 .3,3.1 .3-.6 .3,.2 .3-.8 .3-.5 .3,.2 .2-3.2 .3,.7 .3,1.1 .3,1.3 .3-3.5 .3,3.4 .3-.8 .3,.5 .3-1.1 .3-.6 .3,0 .3-.1 .2,.3 .3-3.6 .3-2.8 .3-3.1 .3-5.7 .3-.4 .3-3.5 .3,.2 .3,2.8 .3,3.1 .3,4.9 .2,3.8 .3,.2 .3,2.1 .3,.5 .3-.1 .3,.3 .3-1.6 .3-.8 .3-3.9 .3-4.8 .3-4.5 .3-3 .2-4 .3,5.5 .3,1.9 .3,5.2 .3,4.5 .3,3.6 .3,2 .3-.4 .3,3 .3-2.7 .3,2.4 .3,.1 .2-2.1 .3,1.1 .3-2.3 .3,4.1 .3-1.8 .3,.5 .3-.1 .3,.7 .3,.4 .3-3 .3-1.5 .2-2 .3-4 .3-4.1 .3-1.6 .3,2.3 .3,4.7 .3,2.9 .3,4.5 .3-.1 .3,1.2 .3-.7 .3-1.4 .2,1 .3-1 .3,2 .3-2.6 .3,1.9 .3-3.1 .3,1.5 .3,0 .3,.6 .3-1.9 .3-3.3 .3,2.3 .2,.5 .3-1.8 .3-.6 .3,2 .3,2 .3,.1 .3,.4 .3-.6 .3-.2 .3,2 .3,.9 .2,1.5 .3,.6 .3-1.6 .3,1.6 .3-2.5 .3,.3 .3,1.1 .3-2.6 .3,3.3 .3-3.3 .3,.6 .3-.6 .2,.7 .3,1.4 .3-1.7 .3,.3 .3,3.8 .3-2.6 .3-.3 .3-.7 .3-3.1 .3-1.2 .3-2.2 .3-3.7 .2,1.3 .3,0 .3,1.4 .3,2.5 .3,2.3 .3-.6 .3,3.6 .3-3.5 .3,4.1 .3,.4 .3-2.3 .2-.7 .3-3.6 .3,.2 .3-.1 .3-3.1 .3-1.6 .3-5.8 .3-.4 .3-3.4 .3-3.8 .3-5.2 .3-4.9 .2-5.4 .3-6.6 .3-3.4 .3,3.1 .3,1.6 .3,5.1 .3,3.7 .3,.5 .3-.4 .3-1.1 .3,0 .3-1.9 .2-4.6 .3-6.1 .3-4.1 .3-1.8 .3,2.9 .3,2.3 .3,7.3 .3,2.3 .3,2.7 .3,1.4 .3,.2 .2,.1 .3-5.2 .3-3.8 .3-5.4 .3-1.8 .3-.3 .3,6.2 .3,7.7 .3,5.6 .3,8 .3,3.6 .3,3.5 .2,2.7 .3,3.1 .3,2.3 .3-.8 .3-.7 .3-3.4 .3-1.8 .3-.1 .3-.2 .3,5.8 .3,2.4 .3,3.8 .2,.4 .3,1.9 .3,1.2 .3-.3 .3,1 .3,.8 .3,.7 .3-1.4 .3,.7 .3-2.1 .3,1.8 .2-.4 .3,.8 .3-1.3 .3,2 .3,1.5 .3-1.5 .3,.5 .3-.8 .3,0 .3-1.3 .3,1 .3-.8 .2-.5 .3,1.2 .3-.3 .3,1.4 .3-1.7 .3,.1 .3-1 .3,1.2 .3-1.1 .3,1.2 .3-1.7 .3-.5 .2,.4 .3,1.7 .3-1.7 .3,3.8 .3-2.1 .3,1.8 .3-1.8 .3,1.7 .3-.9 .3,.8 .3-1.8 .2-.8 .3,1.1 .3-.2 .3,.9 .3,.4 .3,.1 .3,1.2 .3-.9 .3-2.4 .3,.9 .3-.3 .3,1.1 .2-3.6 .3,1 .3,1.4 .3-3 .3,.3 .3-1 .3-.6 .3-1.7 .3-3.9 .3-1.4 .3-1.6 .3-.8 .2,.4 .3,.4 .3,.9 .3,3.7 .3-.3 .3,.9 .3,3.9 .3-.8 .3,2.7 .3,1.8 .3-.6 .3,1.1 .2-1.1 .3,1.8 .3-1.4 .3,.4 .3-.2 .3-1.1 .3,1.9 .3-.9 .3-1.3 .3,0 .3,1.6 .2,1.6 .3-1 .3,.2 .3,0 .3,1.9 .3,.8 .3-2.8 .3,.4 .3,2.7 .3-1.8 .3,0 .3,.3 .2-1.7 .3,.8 .3,1 .3-1.3 .3-1 .3,2.1 .3-2.7 .3-.6 .3,.8 .3-.1 .3,.8 .3-.2 .2,2 .3,1.2 .3-1.8 .3-2.6 .3,.6 .3,1.7 .3-.4 .3,.6 .3,.5 .3-1.1 .3-.8 .2,.3 .3,.7 .3,2.5 .3-4.3 .3,3.5 .3-1.1 .3-1.4 .3,.2 .3-1.1 .3,3.4 .3-1.8 .3-.3 .2,1.3 .3,.7 .3-2.8 .3,2 .3-2.2 .3,.1 .3,.7 .3,1.5 .3,0 .3,.1 .3-.4 .3,.4 .2-1 .3,.5 .3-.7 .3,.6 .3-1.8 .3-.8 .3,1.3 .3,0 .3,0 .3-1 .3-.1 .2,.6 .3,.8 .3-1.3 .3-.4 .3,2.1 .3-.9 .3,1.9 .3-.8 .3-1.2 .3,1.7 .3-.3 .3-1.1 .2,2L271.9,1056.6L97.1,1056.6Z" fill="#fff" stroke="#2a6cbd" stroke-width="1.2" stroke-linejoin="round" stroke-dasharray="979.2 9999"/>
<path d="M88.3,1046.4l.3,2.8 .3-1.6 .3,.4 .3-.1 .3-1.2 .3,2.6 .3-1.2 .3,.5 .3-.8 .3-2 .3,3.7 .2-.4 .3,.4 .3-2.1 .3,.7 .3,.1 .3-.5 .3-.9 .3,1.7 .3,1.6 .3-3.9 .3,1.3 .3,1.3 .3-1 .3-.9 .3,2.5 .3-.7 .3,.8 .3-1.4 .3,3.8 .3-1.3 .3-3.1 .3,2.8 .3,.2 .3,.2 .3,.7 .3-2.7 .3-1.1 .3-.4 .3,2 .3-.9 .3-1.8 .3,1.7 .3,.8 .3-2.8 .3,.9 .3,.8 .3-2.3 .3-2.9 .3,.8 .3,.1 .3,.2 .3,2.7 .3,1.9 .3-.6 .3,1.3 .3-1.1 .3,.9 .3-.4 .3,.8 .3-1.8 .3-1.6 .3,3.6 .3-2.5 .3,.3 .3,.9 .3,.2 .3-2.1 .3,.9 .3,.3 .3,1 .3-2.2 .3,4.6 .3-1.6 .3-1.7 .3,.9 .3-2.2 .3,2 .3-.7 .3-.8 .3,2.7 .3-.9 .3-.8 .3,1.2 .3-1.2 .3-1.1 .3,2.3 .3-.6 .3,.1 .3,1.5 .3-1.9 .3-.2 .3,1.8 .2-1.5 .3,.8 .3-.8 .3-.3 .3,.3 .3-.6 .3,.8 .3-1.6 .3,.3 .3,2 .3-.9 .3-2.1 .3,3 .3-2.6 .3-2.1 .3,2 .3-2.8 .3,1.5 .3-5.4 .3,.3 .3,.2 .3,2.6 .3,1.3 .3,1.6 .3,1.2 .3,1.9 .3,0 .3,0 .3,.5 .3,1.2 .3,.6 .3-1.6 .3,.7 .3-1.3 .3,.2 .3-.5 .3-.4 .3,.1 .3-2.8 .3,2.9 .3-1.1 .3,0 .3,.4 .3,1 .3-.9 .3,.5 .3,2.1 .3-3.2 .3,1.1 .3,1.9 .3-1.2 .3-1.2 .3,.9 .3,1.3 .3-2 .3,.7 .3,2.3 .3-1.2 .3-1.6 .3,1.5 .3-.7 .3-1.3 .3,.1 .3-.7 .3-.2 .3-4.6 .3,3.2 .3-.5 .3-1.3 .3,2.3 .3,1 .3,.8 .3-2.4 .3,.9 .3,2.9 .3,.1 .3-2.1 .3-.7 .3,3 .3-1.8 .3,3.5 .3-.5 .2-1 .3-2.1 .3,0 .3-1.8 .3,2.9 .3-2.8 .3,2.8 .3-3.1 .3,3.6 .3,2.4 .3-2.5 .3,.1 .3-2.3 .3,1 .3-.6 .3,2 .3,.1 .3-1.7 .3-.1 .3,.1 .3-2.3 .3-1.5 .3,1.8 .3-.4 .3,.1 .3-1.1 .3,1.3 .3-.1 .3-.4 .3,2 .3,.3 .3-.3 .3-1.5 .3,2.1 .3,0 .3,.9 .3-1.2 .3-.5 .3,1.9 .3-2.2 .3,.4 .3-.8 .3,1.4 .3,.3 .3,.6 .3-1.8 .3-.5 .3,2.6 .3-1 .3,0 .3,.8 .3,.2 .3,.7 .3,.7 .3-2.3 .3,3.1 .3-3 .3,1.7 .3-.8 .3,.6 .3-.8 .3,.7 .3-.8 .3,2.1 .3-.6 .3-1 .3-.9 .3,1.6 .3-3.1 .3,3.1 .3-1.3 .3,2.4 .3-1.2 .3-.8 .3-.8 .3-1.2 .3-2.9 .3-3.8 .3-7.6 .3-3.2 .3-4 .2,2.6 .3,0 .3,4.9 .3,7.1 .3,4 .3,.9 .3-1.8 .3,3.8 .3-.2 .3-.5 .3-2.6 .3-3.1 .3-1.1 .3-6.8 .3-3.4 .3-3.3 .3-2.8 .3,.2 .3,4.5 .3,5.1 .3,3.7 .3,4.9 .3,2.3 .3,0 .3,3.4 .3,1.7 .3,1 .3-1 .3,1.3 .3-.9 .3,.2 .3-.9 .3,1.3 .3-1.4 .3,.1 .3-1.1 .3-1.1 .3-1 .3-.1 .3-1.3 .3-5.8 .3-3.1 .3-1.3 .3,.4 .3,2.4 .3,5.3 .3,3.1 .3,1.1 .3,2.6 .3-2.5 .3,2.9 .3,.2 .3-2.1 .3,.8 .3,.5 .3-2 .3-.5 .3,3.2 .3-3 .3-1.2 .3-2.4 .3,.2 .3-1.6 .3,.4 .3-.5 .3-.6 .3,2.1 .3,2.6 .3-.1 .3-1.2 .3,4.3 .3-.1 .3,.5 .3-1.5 .3,2.2 .3-.4 .3-.7 .3-.5 .3-.1 .3,1.6 .3,.2 .3,.5 .2-3.5 .3,1.2 .3-.6 .3,.4 .3,2.5 .3,.2 .3-.2 .3-2.6 .3,2.4 .3-1.6 .3,1.5 .3-4.1 .3,1 .3,.3 .3-3.7 .3-2.9 .3-2.7 .3,1.4 .3,.2 .3,2.7 .3,2.4 .3,1.8 .3,.5 .3-.4 .3,1.3 .3-.3 .3-4 .3,1.5 .3-1 .3,1.2 .3-4.8 .3,1.2 .3-5.3 .3-1.3 .3-2.2 .3-2.5 .3-5.3 .3-4.6 .3-5.1 .3-10.5 .3-3.6 .3-4.6 .3,.9 .3,1.1 .3,8.4 .3,.9 .3,3.2 .3,5.1 .3-1.1 .3-2.7 .3-2.8 .3-7 .3-6.9 .3-7.3 .3-.4 .3,.7 .3,6.3 .3,6.1 .3,7.3 .3,3.1 .3,2.7 .3-.4 .3-.6 .3-1.7 .3-2.2 .3-7.9 .3-2.6 .3,1.6 .3,2.6 .3,7.8 .3,6.9 .3,6.5 .3,2.4 .3,3.7 .3,5 .3,2.9 .3-.3 .3,.2 .3,0 .3,.5 .3-4 .3-1.7 .2,.5 .3,.3 .3,3.9 .3,2.1 .3,3.3 .3,2.7 .3-1.1 .3,2.8 .3-.5 .3,.3 .3,1.8 .3-.8 .3,1.1 .3,0 .3,.7 .3-1.7 .3,.7 .3,1.3 .3-2 .3,1.3 .3,.1 .3-1.7 .3,.4 .3,.8 .3-1.3 .3,.5 .3,.5 .3-.7 .3,.8 .3-1.6 .3,.7 .3-.1 .3,3 .3-2.9 .3-2.4 .3,2.9 .3-.8 .3,.5 .3,1.7 .3-2 .3-1.4 .3,.6 .3,2.5 .3,.7 .3-.5 .3-1.2 .3,1.4 .3-1.6 .3-.1 .3,1.2 .3,0 .3-3.1 .3,.1 .3,1.2 .3-1.4 .3,1.8 .3,.5 .3-1.1 .3-.2 .3,3.4 .3-3.3 .3,.2 .3,1.7 .3-.3 .3-2.6 .3,1.7 .3-.7 .3-2 .3,1.2 .3-5.8 .3,1.7 .3-1.9 .3-1.1 .3-2.3 .3,.1 .3-.1 .3,1.8 .3,3.5 .3-2.2 .3,2.4 .3,1.5 .3,1.5 .2,.7 .3,2.3 .3-3.4 .3,4.3 .3,.7 .3-3.7 .3,2.3 .3-1.1 .3,1.3 .3-1 .3-1 .3,.7 .3,2.4 .3-2 .3,1.3 .3,1 .3-2.9 .3-.3 .3,.6 .3,.9 .3-.9 .3,1.6 .3,1.6 .3-1.6 .3,.6 .3,1.1 .3-2.7 .3,1.6 .3-1 .3-1.4 .3,.5 .3-.9 .3,1 .3,3.5 .3-3.9 .3,1.9 .3-.3 .3,.8 .3,.2 .3-2.1 .3-.1 .3-.8 .3,1.2 .3-2.5 .3,1.1 .3,.1 .3,.7 .3-.2 .3-.7 .3,.8 .3-.1 .3,.8 .3-.7 .3,1.3 .3-1.6 .3,0 .3,1.3 .3-.3 .3,0 .3,1.6 .3,1.6 .3-1.7 .3-.3 .3-.3 .3,1.4 .3,.1 .3,.6 .3-2.2 .3,.4 .3-1.9 .3,1.8 .3-2.7 .3,1.8 .3,.2 .3-.8 .3-.1 .3-.8 .3,2.9 .3-2 .3-.6 .3,.1 .3,.7 .2,1.1 .3-1.2 .3,1.2 .3,0 .3-1.9 .3,1.7 .3,0 .3-1.7 .3,.4 .3,3.2 .3-.3 .3,1 .3-4 .3,1.8 .3,0 .3-.3L267.5,1066.8L88.3,1066.8Z" fill="#fff" stroke="#2a6cbd" stroke-width="1.2" stroke-linejoin="round" stroke-dasharray="1037.0 9999"/>
<path d="M67.3,1069.4l.3,3.3 .3-1.9 .3-1.7 .3,1.7 .4,1.7 .3-.4 .3,.1 .3-1.1 .3,1.4 .3-.5 .4,1.7 .3-1.7 .3-1.5 .3,1.6 .3,.2 .3,.1 .3-1.8 .4,.9 .3,.6 .3,.9 .3,.6 .3-2.3 .3,1.3 .4-1.5 .3,.4 .3,1.7 .3,.4 .3-1.6 .3,3.5 .4,.8 .3-4.3 .3,2.3 .3-1.4 .3-1.8 .3-1.5 .4,3.6 .3-.6 .3-1.8 .3,1.7 .3,.8 .3-2.5 .4,3.2 .3-2.9 .3,.8 .3-.5 .3,.4 .3-1.6 .4-2.8 .3,.2 .3-1.1 .3,1.1 .3,2.6 .3,1.6 .3,.6 .4,1 .3-1.4 .3,2.8 .3-3.2 .3,2.2 .3,.7 .4-1 .3,1.8 .3-3.2 .3,.6 .3-.4 .3-.6 .4,.2 .3,3.3 .3-3.3 .3,2.2 .3-1.8 .3,1.2 .4-.2 .3,.9 .3-1.9 .3-1 .3,2.5 .3-1.3 .4-.8 .3,.6 .3,.1 .3-2.1 .3,0 .3,.5 .4-.3 .3,0 .3,1.7 .3-.8 .3,1.2 .3,1.2 .4-1.8 .3-.5 .3-.3 .3,2 .3,.6 .3-.3 .3-2.4 .4,.6 .3-2 .3,2.6 .3-1.3 .3,1.4 .3-.3 .4,.9 .3,1.5 .3-3.1 .3,.4 .3-1.2 .3-.6 .4-.2 .3-2.2 .3-2.3 .3-1.5 .3,2.3 .3,1.9 .4-.4 .3,2.8 .3,.5 .3,.2 .3-1 .3,2.1 .4-1.4 .3,.5 .3,.3 .3-1.8 .3,3.7 .3-1.6 .4,0 .3,.4 .3-.8 .3,4.4 .3-1.8 .3,.1 .3,.6 .4-1.6 .3-1.5 .3,.4 .3-1.9 .3,4.6 .3-1.8 .4,.1 .3,.5 .3-.5 .3,.3 .3-1.1 .3,.5 .4-.2 .3,.3 .3-.5 .3-1.1 .3,1.6 .3-1.1 .4,.9 .3-.1 .3-1.9 .3,2.4 .3-2.6 .3-2.8 .4-.9 .3-.7 .3-1.4 .3,3.3 .3,.3 .3-.5 .4,4.8 .3-1.6 .3,.4 .3,.6 .3-.4 .3,1.3 .3-.9 .4,.6 .3-.3 .3,.5 .3-2.3 .3,.4 .3-1.7 .4,1.4 .3,.5 .3-.1 .3,0 .3,2.4 .3,1 .4,.2 .3-2.6 .3,.9 .3-.2 .3-.7 .3-1.4 .4,1.2 .3,.2 .3-.6 .3-1.7 .3,1.3 .3-1.5 .4-.7 .3,.8 .3,.3 .3,.2 .3-.9 .3,.9 .4,0 .3,1.7 .3-1.1 .3,1.1 .3-1.3 .3,2.3 .4-1 .3-.8 .3,2.9 .3-1.4 .3,.9 .3,.3 .3,1.2 .4-1.5 .3,.3 .3-.9 .3-1.1 .3,3.1 .3-4.8 .4-1.3 .3,2.8 .3,.7 .3,.2 .3-1.3 .3-2 .4,3.6 .3,2.6 .3-3 .3,1.1 .3,.5 .3-.1 .4,2.1 .3-3.7 .3,1.2 .3-1.2 .3,.9 .3,.3 .4,1.2 .3-3.5 .3,1.3 .3,0 .3-1.5 .3,.9 .4-.3 .3,2.8 .3-4.9 .3-.1 .3,1.2 .3-.2 .3-3.4 .4-1.9 .3-6.6 .3-3.3 .3-8.5 .3-6.1 .3-.6 .4,6.9 .3,7.6 .3,5.2 .3,1.7 .3,6.8 .3,1.3 .4-.4 .3,.4 .3-1.6 .3,1.4 .3-2.6 .3-5 .4-1.9 .3-3.9 .3-1.8 .3-1.4 .3,1.4 .3,2.9 .4,4.4 .3,2.5 .3,3.3 .3,.9 .3,.9 .3,3 .4-1.2 .3,1.4 .3,2.6 .3-3.1 .3,1.7 .3-2.5 .4,1.7 .3-2.5 .3-.1 .3,2.1 .3-.3 .3-2.9 .3,1.8 .4-2.3 .3-4 .3-2.4 .3-5.3 .3-3.7 .3,3.6 .4,3.8 .3,4.7 .3,5.6 .3-1.1 .3,.8 .3-.4 .4,1.5 .3,.7 .3,.6 .3-1 .3,.6 .3,.4 .4-1.8 .3-1.2 .3-1 .3,1 .3-1.8 .3,.1 .4-.2 .3-1.8 .3-.6 .3,3.4 .3,.1 .3,1.9 .4,1.8 .3,.2 .3-.3 .3,.3 .3,.7 .3-1 .3-1.8 .4,2 .3-1.7 .3,.3 .3-.8 .3,.4 .3,.5 .4,1.5 .3,.9 .3,.1 .3-.5 .3-.3 .3,0 .4-.5 .3-.5 .3,.3 .3-1 .3-2.8 .3,3.1 .4-.5 .3-.2 .3-3.9 .3-1.6 .3-.3 .3-4.1 .4,1.3 .3,.1 .3,3.2 .3,2.4 .3,3.7 .3-.4 .4-.6 .3-1.2 .3,1 .3,.1 .3-.1 .3-2 .4-1.7 .3-2 .3-2.3 .3-1.5 .3-1.2 .3-4.9 .3-4.9 .4-3.7 .3-3.1 .3-8.9 .3-5.4 .3-5.3 .3-.9 .4-.6 .3,3.4 .3,2.9 .3,6.6 .3,1.9 .3-1.4 .4-1.3 .3-2.3 .3-2 .3-5.7 .3-7.2 .3-6 .4-2.4 .3,4.1 .3,6.9 .3,3.4 .3,7 .3,3.3 .4,.3 .3,2.9 .3-3.7 .3-3.3 .3-6 .3-4.8 .4-4 .3,4.3 .3,4.7 .3,8.3 .3,6.1 .3,6.4 .3,5.8 .4,3.1 .3,4.3 .3,3.1 .3-.8 .3,3.1 .3-1.8 .4-2.9 .3,1.9 .3-4.2 .3,.3 .3,1.2 .3,6.4 .4-.3 .3,4.8 .3,.4 .3,1.1 .3,.2 .3,1.8 .4,.3 .3,.8 .3,1.3 .3-.9 .3-.6 .3-.2 .4-.5 .3,0 .3-1.4 .3-1.2 .3,3.4 .3-1.2 .4,.2 .3,.5 .3-.1 .3,3 .3-2.9 .3,.5 .4,2.3 .3-2.5 .3-2.3 .3,1.6 .3-2.2 .3,.2 .3,2.5 .4,.7 .3-1.4 .3-1.3 .3-.8 .3,2 .3,1.1 .4-2.4 .3,4.5 .3-1.9 .3-.6 .3-.5 .3,1.4 .4-1.3 .3-.6 .3,.5 .3,.6 .3-2.2 .3,.3 .4,1.2 .3,.4 .3-2.3 .3,2.9 .3-.7 .3,.9 .4-.9 .3-.3 .3,.2 .3-1.4 .3-.4 .3-.3 .4,.8 .3,.4 .3,.8 .3-3.6 .3,.3 .3-1.6 .3-3.1 .4-4.5 .3-2.1 .3-2.2 .3,.9 .3-.2 .3,2.3 .4,6.1 .3-3.2 .3,5.1 .3-1.1 .3,2.9 .3,1.9 .4,.9 .3,1.2 .3-1.2 .3,.1 .3,2.5 .3,.9 .4-3.6 .3,1.3 .3,2.3 .3-3 .3-.5 .3,.7 .4-.3 .3,.4 .3,2.9 .3-3.9 .3,1.7 .3-2.7 .4,3.2 .3-.9 .3,.9 .3,1.2 .3-1.4 .3-3.2 .4,2.8 .3,1.8 .3-3.7 .3-.3 .3,2.4 .3-1.4 .3,.7 .4,.8 .3-.6 .3,1.5 .3-2.4 .3-1.2 .3,2 .4-1.2 .3,.7 .3,.4 .3-.1 .3,2.2 .3,0 .4-1.7 .3,.9 .3,2.8 .3-3.3 .3,1 .3-.5 .4-1.3 .3-1.3 .3,1.6 .3,2.3 .3-.1 .3-.7 .4-.5 .3-2.7 .3,4.5 .3-1.2 .3-1.9 .3,.8 .4-.3 .3,.7 .3,.2 .3-2.3 .3,2.4 .3-2.2 .3,1.5 .4-.7 .3-1.1 .3,2.6 .3,.2 .3-2.1 .3,1.1 .4,.1 .3-1.6 .3,2.2 .3-.8 .3,2 .3-.2 .4-2.6 .3-.9 .3,.7 .3,1.7 .3-1.2 .3-.4 .4,.4 .3-.7 .3,1.9 .3-1.2 .3,.9 .3-.7 .4-.1 .3-1.1 .3,1.7 .3-.5 .3-.2L257.0,1091.0L67.3,1091.0Z" fill="#fff" stroke="#e23a3f" stroke-width="1.2" stroke-linejoin="round" stroke-dasharray="1071.5 9999"/>
<path d="M56.1,1086l.3-3.1 .3-.1 .3,.3 .4-.4 .3,1.4 .3,0 .3-2.1 .4-.1 .3,1.3 .3-.8 .3,1.8 .4-.1 .3-.4 .3,.9 .4-.7 .3-2.4 .3,2.3 .3-.1 .4-2.1 .3,3.6 .3-.7 .3,.5 .4-.8 .3-3 .3,5.1 .3-3.6 .4,3.2 .3,.6 .3-1.9 .3-.1 .4-.4 .3,1.1 .3-2 .3,2.2 .4-3.1 .3-2.1 .3,5.1 .3-2.5 .4,.7 .3,2.5 .3-1.8 .3-1.3 .4,0 .3-.4 .3,1.1 .3-1.5 .4-.1 .3-3.3 .3,1.3 .3-.4 .4,.6 .3-2.2 .3,5.4 .3-1.1 .4,.8 .3,1 .3-.2 .4,1.5 .3-2.9 .3-.1 .3,1.3 .4-1.9 .3,.4 .3-.2 .3,.3 .4,.3 .3,2.1 .3-.9 .3-1 .4-1.8 .3,1.4 .3,.9 .3-.5 .4-.4 .3,2.7 .3,.2 .3-2.6 .4-1.6 .3,.8 .3,2.1 .3-3 .4,.8 .3,2 .3-1.9 .3,.4 .4-.2 .3,1 .3-.9 .3,.9 .4,.1 .3,.9 .3-2.8 .3,.2 .4-.5 .3,1.7 .3,.2 .3,.6 .4,.4 .3,.8 .3-2.4 .4,1.5 .3,2.6 .3-2.2 .3-1.2 .4,.5 .3-.6 .3,.3 .3-2.4 .4,1.5 .3-3.1 .3-1 .3-.6 .4-2.8 .3,4.9 .3,1.1 .3-.3 .4,.2 .3,1.9 .3,1.5 .3-.3 .4-1.7 .3,1.8 .3-.5 .3-.4 .4-.9 .3,2 .3-.8 .3,1.8 .4-.8 .3-.9 .3-.5 .3,1.7 .4,.8 .3-.8 .3,2 .3-1.2 .4-.7 .3-1 .3-1.9 .3,1.5 .4,1 .3-1 .3,1.3 .3-1.1 .4-1 .3,3.1 .3-2.3 .4-3.3 .3,1 .3,2.1 .3,3.8 .4-4.3 .3,0 .3,1.3 .3-1.4 .4,.2 .3-1.6 .3,1 .3-1.8 .4-.3 .3,.5 .3,2.4 .3,1.1 .4,.1 .3,2 .3,.5 .3,.1 .4-1.6 .3,2.3 .3-.1 .3-3 .4,.2 .3-3.1 .3,2.5 .3,1.6 .4-2 .3-.3 .3,.1 .3-.4 .4-2.7 .3,2.8 .3-1.8 .3,1.3 .4,1.5 .3-.3 .3-.4 .3,.1 .4,.4 .3-2.6 .3,1.8 .4,1.3 .3,.6 .3-1.6 .3,.2 .4,0 .3-.4 .3-2.9 .3-2 .4,4.7 .3-3.1 .3-.7 .3,1.7 .4-2.8 .3,3.4 .3,3.5 .3-1.6 .4,1.8 .3-2.8 .3,1.7 .3-1.4 .4,2.3 .3-.7 .3-1.7 .3,1.7 .4,.1 .3-.7 .3-.9 .3,1.2 .4-.5 .3-.5 .3,2.6 .3,.2 .4-.8 .3,.4 .3-1.4 .3-.7 .4,2 .3-2 .3,.3 .3,1.9 .4-1.1 .3,1.4 .3-2.9 .4,1.5 .3-.7 .3-1.1 .3,.5 .4,.9 .3-.7 .3,.9 .3-1.3 .4-1.8 .3,2.7 .3-1.8 .3,.3 .4,.4 .3-1.3 .3,2.3 .3-.3 .4-1.6 .3-1.1 .3-2.8 .3-4.3 .4-5.6 .3-5.3 .3-4.3 .3,.9 .4,1.7 .3,4.9 .3,8.4 .3,4.3 .4,.1 .3,1 .3,1.9 .3-.6 .4-1.4 .3-.1 .3-1.3 .3-2.6 .4-4.9 .3-5.8 .3-.7 .3-5 .4,3.4 .3,1.8 .3,6.7 .4,4.8 .3,3.9 .3,0 .3,1.8 .4,1.4 .3-.1 .3-.2 .3,1.7 .4-2 .3,3.6 .3-1.8 .3-1.1 .4,.9 .3-.7 .3,1.5 .3-.6 .4-.3 .3,1.3 .3-3.6 .3,0 .4-4 .3-2 .3-3 .3,2.7 .4,1.7 .3,2.7 .3,2.8 .3-.1 .4-.5 .3,3.9 .3,.9 .3-4.4 .4,2.9 .3-4.7 .3,2.6 .3,2.9 .4-3.4 .3,.4 .3-1.2 .3-1.9 .4,1 .3-2.2 .3-1.1 .4,1.8 .3-1.5 .3-.2 .3,2.2 .4,.9 .3,1 .3,2.8 .3-.6 .4,1.2 .3-2.1 .3-.4 .3,.8 .4,2.6 .3-2.2 .3-1.1 .3,1 .4-.3 .3,.8 .3,2.9 .3-1.4 .4-.9 .3,1.5 .3-2.4 .3-1 .4-2.8 .3,1.3 .3,1.8 .3,.6 .4,2 .3-2 .3-1.8 .3,.3 .4-2.4 .3-3.6 .3-.7 .3,.1 .4-1.6 .3,1.7 .3-.7 .3,6 .4,2 .3-1.1 .3,2.9 .3-1.3 .4-1.1 .3-1 .3-1.3 .4-2 .3,2.2 .3-6.2 .3-.3 .4-3.5 .3-.8 .3-3.9 .3-4 .4-2.9 .3-6.1 .3-8.8 .3-7.4 .4-9.8 .3-1 .3,1.5 .3,1.3 .4,7.6 .3,2.8 .3,4 .3-.6 .4-1.7 .3-1.4 .3-2.1 .3-6.9 .4-7.4 .3-5.1 .3-4.8 .3,3.3 .4,5 .3,8.5 .3,5.8 .3,5.7 .4,1.1 .3-1 .3,.1 .3-5.2 .4-3.6 .3-6 .3-2.9 .3-1.1 .4,8 .3,6.6 .3,7.6 .4,8.4 .3,5.7 .3,.6 .3,6.1 .4,2.1 .3,2 .3,1.9 .3,.6 .4,.4 .3-5.1 .3-.3 .3,.1 .4,.8 .3,2.8 .3,4.9 .3,3.3 .4,.8 .3,.9 .3,2.6 .3,0 .4-1 .3,.1 .3,1.1 .3,1.1 .4-.3 .3-.3 .3,0 .3,.2 .4-3.7 .3,2 .3,1.9 .3-2.3 .4,.2 .3,.4 .3,1.9 .3,.7 .4-4.8 .3,4.2 .3,.2 .3-1.4 .4-.6 .3,.2 .3,1.8 .4-1.4 .3,.5 .3-.5 .3,.8 .4-3.8 .3,1.8 .3,2.4 .3-.8 .4-2.2 .3,2.6 .3-.6 .3-.6 .4,.3 .3-1.5 .3,3.3 .3,.2 .4,.3 .3-1.9 .3,.1 .3-1.1 .4-.5 .3-1.7 .3,1.1 .3,1.2 .4-.4 .3,.9 .3,0 .3,1 .4-1.9 .3,1 .3-.6 .3-.4 .4-1.2 .3-.7 .3,1.2 .3-1 .4-.4 .3,0 .3-4.1 .3-7.7 .4,2.8 .3-3.5 .3-.7 .4,2.4 .3,1.1 .3,2.9 .3,1.9 .4,1.4 .3,2.4 .3,1.3 .3,.4 .4,.6 .3,.1 .3,1.6 .3-3.5 .4,3.8 .3,1.4 .3,0 .3-1.9 .4-.5 .3,0 .3,1.1 .3-1.8 .4,1.5 .3,.5 .3-.6 .3-.2 .4-.6 .3,1.5 .3-.7 .3-1.9 .4,2.1 .3-1.7 .3,1.9 .3,.8 .4-1.5 .3,1.4 .3-.5 .3-.7 .4-.3 .3,2.7 .3-1.5 .3-1.9 .4,1 .3-1.3 .3-.7 .4,2.8 .3-.9 .3-1.9 .3,1.4 .4,2.4 .3-1.3 .3-.4 .3,1.6 .4-.7 .3-2.2 .3,0 .3,2.7 .4-.6 .3-.4 .3-.3 .3-.4 .4,.6 .3-1.1 .3,2.9 .3-1.5 .4-.6 .3,.5 .3,.1 .3-.5 .4,.7 .3,0 .3-2.8 .3,2.4 .4-2.7 .3,4.8 .3-2.1 .3,2.9 .4-.4 .3-1.4 .3,2.7 .3-3.5 .4-.9 .3,1.6 .3-.6 .3-1.3 .4,2 .3-1.9 .3,1.3 .3-2.6 .4,3 .3,.8 .3-1.9 .4,.8 .3,2.2 .3-5.1 .3,2.8 .4-1.4 .3-2.7 .3,3.5 .3-.1 .4-.9 .3,3.6 .3-3.2 .3,2.6 .4-2.3 .3,.4 .3,2.3L251.4,1104.0L56.1,1104.0Z" fill="#fff" stroke="#e23a3f" stroke-width="1.2" stroke-linejoin="round" stroke-dasharray="1110.0 9999"/>
<path d="M31.6,1111.1l.3-3.9 .3,3.7 .4,2.7 .3-.7 .4-.8 .3-.5 .4-1.2 .3,1.8 .4-2.5 .3,.8 .4-1.4 .3,2.1 .4,.2 .3,0 .3,1.4 .4-1.1 .3-1.6 .4,2.7 .3-2.1 .4,.6 .3-1.7 .4,1.4 .3,.4 .4,1.3 .3-1.4 .3,1.3 .4-1.8 .3,1.5 .4-.4 .3-1.6 .4-.3 .3,2.7 .4-2.1 .3-.1 .4,2.6 .3-.7 .4-2.3 .3,.3 .3,1.1 .4-2.6 .3,4.2 .4-4.1 .3,3.2 .4-2.9 .3,2.5 .4-1.2 .3-2.6 .4-1.3 .3-2.7 .4-.1 .3,2.2 .3,1.3 .4,1.5 .3-1 .4,3.4 .3-1.3 .4,1.5 .3,.4 .4,1.5 .3-2.6 .4-.2 .3,.1 .3-.8 .4-.7 .3-1.2 .4,2.1 .3,2 .4-2.2 .3,3.4 .4-1.3 .3,.3 .4-2.3 .3-1.4 .4,3.4 .3-.7 .3,.4 .4,1.5 .3-1.7 .4,.2 .3,1.6 .4,1.6 .3-1.1 .4-2.1 .3,2.3 .4-1.6 .3-.7 .4-1.1 .3,.9 .3-.9 .4-2.1 .3,2.8 .4-.1 .3-1.2 .4,3.7 .3-2.1 .4,4.3 .3-1.5 .4-1 .3-1.4 .4-.4 .3,2.5 .3-5.5 .4,.1 .3,.4 .4,2 .3-.9 .4,1.7 .3-.4 .4-.6 .3-2.7 .4-.5 .3-1.3 .3-3.2 .4,2.5 .3-.1 .4,1.5 .3,1.9 .4,.2 .3-1.2 .4,2.1 .3-1.1 .4,1.4 .3-.1 .4-1.5 .3,4.5 .3-1.4 .4,.4 .3-.9 .4,.6 .3-1.2 .4-.5 .3-1.8 .4,1 .3,2.3 .4-3.8 .3,2.5 .4,1.5 .3-1.8 .3,2.5 .4-.4 .3-.2 .4-1.4 .3,3.1 .4-4.4 .3,1.1 .4-.5 .3,.8 .4,0 .3-1.9 .3,.1 .4,2.5 .3-1.6 .4,1.4 .3,.6 .4-1.1 .3-.8 .4,0 .3,1.5 .4-3.6 .3-2.1 .4-.4 .3,.6 .3,2.4 .4,0 .3,3.1 .4-1.2 .3-1 .4,3.1 .3,1 .4-2.7 .3,1.5 .4-.6 .3-1 .4,1.1 .3-1.8 .3,1.4 .4,0 .3-1.7 .4,.2 .3,1.2 .4-.3 .3,.7 .4,1.2 .3-1.8 .4,2.2 .3-2.6 .4-1.3 .3,.6 .3-.5 .4,.9 .3-.2 .4,.5 .3-.6 .4-1.5 .3-.8 .4,.8 .3-2.6 .4,1.3 .3,2.6 .3-3.7 .4,2.3 .3-.4 .4,1.5 .3,.9 .4-2.8 .3,1.1 .4,2.1 .3,1.3 .4-.6 .3-.1 .4-1.2 .3-.9 .3,2.8 .4-2.5 .3,1.6 .4,.1 .3-1.4 .4,2.4 .3,.1 .4-1.1 .3,1.3 .4,.2 .3-2.3 .4,2.5 .3-3.5 .3-1.1 .4,2.1 .3-1.2 .4,2.6 .3-.3 .4,.5 .3,.1 .4-1.5 .3,.7 .4-1.6 .3,3.6 .3-2 .4,.4 .3,.5 .4-3.1 .3,1.3 .4,0 .3-1.8 .4,3.7 .3-2.4 .4,3.9 .3-4.7 .4,.6 .3,1.4 .3-1.1 .4-7.3 .3,.7 .4-8.1 .3-5.7 .4-7.1 .3-3.7 .4,1.8 .3,4.4 .4,6.2 .3,4.3 .4,8.9 .3,1.9 .3,0 .4,1.7 .3,1.4 .4-.5 .3-.2 .4-3.3 .3-3.5 .4-5.3 .3-5 .4-3.6 .3-5.5 .3,6.3 .4-.2 .3,7.3 .4,5.1 .3,4.6 .4,2.7 .3,1.1 .4,3 .3-3.5 .4,1 .3,.1 .4,.3 .3-2.1 .3,1 .4-.8 .3,1.8 .4-3.7 .3,3.6 .4,.9 .3-.6 .4-3.1 .3-1.9 .4-1 .3-5.4 .4-.2 .3-1.9 .3,1.3 .4,1.4 .3,5.7 .4,1.7 .3,3 .4-.7 .3,2.3 .4-3.9 .3,2.3 .4,2 .3-1.6 .4-.3 .3-.1 .3-.6 .4,2.4 .3-4.3 .4-.1 .3,1.4 .4-3.3 .3,.5 .4-4.3 .3,1 .4,1.6 .3,2.1 .3-.3 .4,2.5 .3,.3 .4,1 .3,.7 .4,1 .3,2.1 .4-3 .3-2.6 .4-.9 .3,3.2 .4-.5 .3-1.1 .3,4.4 .4-2.7 .3,2.1 .4-2.9 .3,.8 .4-.5 .3,.8 .4-2.2 .3,6 .4-1.3 .3-1.7 .4,.3 .3,.6 .3-2.1 .4-1.4 .3-2.6 .4-5 .3,.4 .4-3.6 .3-.8 .4,4.4 .3,.5 .4,5 .3,3.6 .3,.4 .4-1.2 .3-1.7 .4,1.2 .3-1.4 .4-.8 .3-2.1 .4,1.3 .3-2.5 .4-1 .3-4.6 .4-2.8 .3,.5 .3-6.6 .4-4.1 .3-6 .4-5.2 .3-7.5 .4-4.9 .3-5.4 .4-1.2 .3,6.5 .4,2.5 .3,3.8 .4,4.6 .3,.7 .3,.6 .4-2.4 .3-.3 .4-6.2 .3-3.1 .4-7 .3-1 .4,4.1 .3,2.9 .4,3.4 .3,4.5 .3,1.7 .4-2 .3,4.3 .4-2.4 .3-2.4 .4-4.9 .3-3.3 .4-2.6 .3,3 .4,4.9 .3,3.2 .4,6.2 .3,9.5 .3,4 .4,6.2 .3,1.9 .4,1.3 .3,1.8 .4,1.9 .3-2.8 .4-2.9 .3,2.1 .4-1.2 .3-3.4 .4,1.6 .3,4.7 .3,2.1 .4,2.1 .3,3.5 .4,2.5 .3-.6 .4,2.4 .3-2.5 .4,1.9 .3,2.8 .4-.9 .3-1.9 .4-1.3 .3,1.8 .3,.2 .4-3.4 .3,4.8 .4-3 .3,4 .4,1.1 .3-1.2 .4-2.1 .3,.1 .4-.6 .3-.7 .3,1.4 .4-3.2 .3,3 .4,.8 .3,1.4 .4-1.5 .3,.8 .4-3.3 .3,2 .4-2.8 .3-.3 .4,.7 .3-1.3 .3,0 .4,2.7 .3,.4 .4,0 .3,.1 .4,.1 .3,.3 .4-2.8 .3,2.3 .4,.3 .3-2.8 .4,3.1 .3-1.8 .3-.2 .4,.1 .3,4 .4-.3 .3-.2 .4-.5 .3-2.5 .4,.4 .3,.1 .4,1.3 .3-1.7 .3-2.3 .4-.4 .3-.3 .4-1.8 .3,1.6 .4-1.5 .3-1.9 .4-2.2 .3-3.7 .4,1.1 .3-3.8 .4,2.7 .3,1.1 .3-1 .4,2.5 .3,3.3 .4,4.6 .3-2.3 .4,1.3 .3,2.2 .4-2.5 .3,3.3 .4-.4 .3,1.8 .4,.4 .3,.8 .3-2.3 .4-1.4 .3,1.4 .4-.8 .3,.1 .4,.1 .3,1.2 .4,.7 .3-.2 .4,.5 .3,.7 .4-.1 .3-3.3 .3,3.3 .4-2 .3-1.6 .4,1.7 .3,.4 .4-1 .3-.8 .4,3.7 .3-.3 .4-.1 .3-2.1 .3-1.2 .4,.9 .3-.5 .4-1.3 .3,2.8 .4-1 .3-.7 .4-1 .3,.9 .4,2.4 .3-2 .4,1.6 .3-.4 .3-.6 .4,1 .3-.5 .4-3.2 .3,.6 .4,1.9 .3,1.4 .4-2.3 .3,3.7 .4,.5 .3-3.3 .4,.3 .3,2.2 .3-1.9 .4-.1 .3-.1 .4-.9 .3-.9 .4,.2 .3,1.7 .4-1.8 .3-.3 .4,2.2 .3,.1 .3-.9 .4-.2 .3,0 .4,0 .3,2.4 .4,.9 .3-1.5 .4,.3 .3-.5 .4-.4 .3,.8 .4-1.4 .3-.2 .3,1.1 .4,.7 .3,0 .4,.8 .3-1.6 .4,1.4 .3,1.9 .4-4.9 .3,1.6 .4-1.2 .3,.4 .4,.1 .3-.5 .3-.2 .4,.9 .3,2L239.1,1132.3L31.6,1132.3Z" fill="#fff" stroke="#000000" stroke-width="1.2" stroke-linejoin="round" stroke-dasharray="1159.9 9999"/>
<path d="M18.3,1127.1l.4,.8 .3,.4 .4-2.1 .3,.2 .4,.6 .3-3.5 .4,2.2 .4-2.1 .3,2.2 .4-.2 .3,.6 .4-.5 .3,.4 .4,1.4 .4-.3 .3-2.4 .4,.2 .3,.4 .4,2.6 .3-4.1 .4,2.1 .4,2 .3-1.4 .4-.7 .3,.3 .4,2.6 .3-.9 .4-2.5 .4,.6 .3,1.8 .4-1.1 .3-1.2 .4,1.2 .3-.2 .4,1.5 .4-1.2 .3-2.2 .4,.7 .3-.3 .4,2.3 .3,1.6 .4-2.4 .4-.3 .3-.4 .4-2.7 .3-.5 .4,.9 .3-1.1 .4-1.6 .3,.3 .4-.3 .4,4.5 .3-2.1 .4,2.1 .3,1.9 .4,1.6 .3-2.3 .4,2.8 .4,.3 .3-1.8 .4,.1 .3-.3 .4-.1 .3-.6 .4-2.1 .4,1.7 .3,1 .4,.8 .3-.9 .4-2.1 .3,1.8 .4-1.4 .4,1.4 .3-1.7 .4,3.6 .3-.4 .4-3 .3-1.2 .4,2.4 .4-.4 .3,.6 .4-.5 .3,2.3 .4,.1 .3-.9 .4,0 .4-1.6 .3,.8 .4-.9 .3,1.2 .4-.3 .3,.7 .4-4.4 .4,3.5 .3-1.6 .4,0 .3,2.2 .4-2.2 .3,.4 .4,2 .4,.5 .3-.8 .4-.2 .3,.2 .4-.5 .3-1.7 .4,.3 .4-.9 .3-2.3 .4-3.4 .3,1.9 .4-1.2 .3-2.8 .4,5.5 .4-.1 .3-.7 .4,3.5 .3,1.2 .4-.5 .3-1 .4,2.3 .4-1.3 .3,.1 .4-1.5 .3,.3 .4,.7 .3-1 .4,0 .4-.9 .3,2 .4,1.2 .3-1.3 .4-2.3 .3,.9 .4-.5 .4,3.5 .3-3.7 .4,2.4 .3,.7 .4,1 .3-.1 .4,2.6 .4-4.1 .3,2.1 .4-4.6 .3,1.5 .4,1.3 .3,.6 .4-1 .3-2.3 .4,2.1 .4,.5 .3,.8 .4-2.9 .3,1.6 .4-.3 .3-2.8 .4,.2 .4-1.8 .3,1.7 .4,.4 .3-1.2 .4,3.2 .3-.7 .4,.9 .4-.4 .3,0 .4-.9 .3,1.4 .4,.4 .3-1.8 .4,3.2 .4,.6 .3,1.8 .4-.6 .3-2.6 .4-.2 .3,3.2 .4-.1 .4-1.4 .3-.7 .4-2 .3,.3 .4-.8 .3,.9 .4,2.5 .4-3.6 .3,.3 .4,.5 .3,.4 .4-1.9 .3,.7 .4,.5 .4,.1 .3-1.5 .4,3.1 .3-.7 .4-.9 .3-1.6 .4-.5 .4,.8 .3-1.3 .4,1.3 .3-1.7 .4,1.1 .3,1.8 .4,.3 .4,0 .3,.6 .4-1.3 .3-.7 .4,4.2 .3-.8 .4-2.5 .4-.5 .3,3.3 .4,.2 .3,1.1 .4-2.7 .3,1.2 .4,0 .4,1 .3-2.2 .4,1.4 .3-2.7 .4,2.4 .3-2 .4,.1 .4,.4 .3,1 .4-2.8 .3,.9 .4,3.1 .3-3.5 .4,3.6 .4-2.2 .3-.1 .4,1 .3,1.6 .4-.3 .3-3.3 .4,2.4 .4-1.2 .3-.3 .4,1.5 .3,.9 .4-.9 .3-1.4 .4-2.6 .4-.1 .3-1.6 .4-5.3 .3-3.9 .4-5.4 .3-5.2 .4-5.1 .3,.1 .4,4.6 .4,5.8 .3,6.7 .4,4.1 .3,5.9 .4,2.4 .3-3 .4-.4 .4,1.7 .3-1.1 .4-5.9 .3-2 .4-4.7 .3-6.1 .4-2.9 .4-1.7 .3-.3 .4,8.4 .3,3.2 .4-.8 .3,6.9 .4,2.1 .4,4.4 .3-2.1 .4,5.1 .3-1.6 .4-.1 .3,2.1 .4-2.4 .4,4.9 .3-5.2 .4,1.2 .3,.3 .4,1.1 .3-.3 .4-.7 .4-.8 .3-3.1 .4-.8 .3-5.2 .4-1.9 .3-6.8 .4,4.4 .4,8.5 .3-.6 .4,0 .3,4.3 .4-.6 .3,.4 .4-1.4 .4-.9 .3,2.7 .4,3.7 .3-3.1 .4,1.1 .3-.3 .4-4 .4,.5 .3-1.5 .4-2.4 .3-2.7 .4,1.1 .3-3.6 .4,4.2 .4-.3 .3,3.7 .4,1.4 .3,1.3 .4-.8 .3,1.3 .4,1.2 .4-2 .3,3.7 .4-1.7 .3,1.4 .4,2.4 .3-.6 .4-3.3 .4,1.1 .3,.4 .4,.9 .3,.2 .4,.6 .3-1.7 .4-.4 .4,.1 .3,.1 .4,.2 .3-.1 .4-.9 .3,2.2 .4-2.6 .3-1.8 .4,1.3 .4-3.1 .3-3.7 .4-1.2 .3-2.9 .4,.3 .3-1 .4,4.8 .4,1.1 .3,4.5 .4,1.1 .3,.7 .4-.3 .3-4.8 .4,1.4 .4,.1 .3,1.5 .4-3.3 .3-3.3 .4-1.7 .3-1.6 .4-4.3 .4-3.3 .3-2.9 .4-6.5 .3-7.3 .4-8.5 .3-7.2 .4-7.5 .4-5 .3-.4 .4,5.1 .3,4.5 .4,6.3 .3,3.3 .4,1.4 .4-1.1 .3-.1 .4-7.6 .3-3.9 .4-9.2 .3-6.2 .4,.9 .4,1.7 .3,6 .4,8.2 .3,5.4 .4,5.4 .3-1 .4,.3 .4-1.5 .3-.1 .4-8.5 .3-1.5 .4-6.4 .3,2.9 .4,8.6 .4,8.4 .3,5.4 .4,6.5 .3,6.6 .4,5 .3,3.2 .4,.7 .4,3 .3,3.7 .4-5.2 .3-1.5 .4-1.8 .3-2.5 .4-3.2 .4,3.7 .3,5.9 .4,2.7 .3,6.4 .4,2.8 .3,4 .4-.4 .4-3.7 .3,5.2 .4-.4 .3-2.9 .4,1.7 .3-2 .4,0 .4,2.5 .3-.2 .4-2.7 .3,1.2 .4-2.5 .3,2.5 .4-.9 .4,1.8 .3-.4 .4,.1 .3-.6 .4-3.3 .3,1 .4,1.5 .4,1.1 .3,.6 .4-1.9 .3,1.7 .4,2 .3-2.7 .4,2.2 .3-1.8 .4,.7 .4,2.2 .3,.2 .4-1.8 .3-.2 .4-.3 .3,1.7 .4,.3 .4-1.1 .3-2 .4-.1 .3,.7 .4,1.1 .3-2.9 .4,.7 .4,1.6 .3,.7 .4-.3 .3-2.1 .4,.1 .3,2.2 .4-.6 .4-2 .3,3.8 .4-1.7 .3,.1 .4-.5 .3,1.3 .4-2.8 .4,1.6 .3-5.3 .4-1.4 .3-.7 .4-4 .3-.5 .4,0 .4-2.5 .3,1.4 .4-.4 .3-.1 .4,4.9 .3-1.6 .4,1.4 .4,.5 .3,6.5 .4-1.9 .3-.1 .4,3.2 .3,.5 .4,1 .4,1.8 .3-5.1 .4,3.6 .3,.5 .4-3.1 .3,.1 .4,1.2 .4-.1 .3,2.2 .4-1.4 .3-.2 .4,.2 .3-1.9 .4,2.2 .4-1.3 .3-2.2 .4,2.3 .3,.2 .4-.8 .3,2.8 .4-1.8 .4-2.2 .3,.7 .4,1.2 .3-2.1 .4,2.1 .3-.9 .4,2.6 .4-.2 .3-3.3 .4,2.5 .3-.4 .4,1.3 .3-.5 .4-2.8 .4,.8 .3,1.2 .4,2.9 .3-3.8 .4,.2 .3-.4 .4,2.1 .3-1.7 .4,2.1 .4,1.5 .3,0 .4-3.3 .3,1.4 .4-1.7 .3,1.7 .4-3.7 .4,1.9 .3,1.5 .4-.1 .3-.9 .4-2.1 .3,1.5 .4,.2 .4,1.3 .3-2.3 .4,1 .3-1.5 .4,2.1 .3,0 .4,.4 .4,0 .3-.1 .4-1.1 .3,1.8 .4,2.3 .3-1.7 .4,.4 .4,1 .3-3 .4-.8 .3,.2 .4-1.6 .3,3.5 .4-2.7 .4,.5 .3,1.1 .4-3 .3,3.9 .4-1.6 .3-.1 .4,1.9 .4,.6 .3-2.2 .4-.2 .3,1.9 .4-2.8 .3,.6 .4,1.8L232.5,1147.6L18.3,1147.6Z" fill="#fff" stroke="#000000" stroke-width="1.2" stroke-linejoin="round" stroke-dasharray="1204.1 9999"/>
<line x1="18.30" y1="1147.60" x2="233.10" y2="1147.60" stroke="#000" stroke-width="1.4" stroke-linecap="square"/>
<line x1="18.30" y1="1147.60" x2="18.30" y2="1039.00" stroke="#000" stroke-width="1.4" stroke-linecap="square"/>
<line x1="18.30" y1="1039.00" x2="151.23" y2="919.05" stroke="#000" stroke-width="1.4" stroke-linecap="square"/>
<line x1="151.23" y1="919.05" x2="299.47" y2="919.05" stroke="#000" stroke-width="1.4" stroke-linecap="square"/>
<line x1="299.47" y1="919.05" x2="299.47" y2="994.00" stroke="#000" stroke-width="1.4" stroke-linecap="square"/>
<line x1="233.10" y1="1147.60" x2="299.47" y2="994.00" stroke="#000" stroke-width="1.4" stroke-linecap="square"/>
<line x1="151.23" y1="919.05" x2="151.23" y2="987.10" stroke="#000" stroke-width="1.2" />
<line x1="18.30" y1="1147.60" x2="18.30" y2="1151.10" stroke="#000" stroke-width="1.1" />
<text x="18.30" y="1168.30" font-size="12.2" text-anchor="middle" font-family="Liberation Sans, sans-serif" font-weight="bold">600</text>
<line x1="36.15" y1="1147.60" x2="36.15" y2="1149.80" stroke="#000" stroke-width="1.1" />
<line x1="54.00" y1="1147.60" x2="54.00" y2="1151.10" stroke="#000" stroke-width="1.1" />
<text x="54.00" y="1168.30" font-size="12.2" text-anchor="middle" font-family="Liberation Sans, sans-serif" font-weight="bold">800</text>
<line x1="71.85" y1="1147.60" x2="71.85" y2="1149.80" stroke="#000" stroke-width="1.1" />
<line x1="89.70" y1="1147.60" x2="89.70" y2="1151.10" stroke="#000" stroke-width="1.1" />
<text x="89.70" y="1168.30" font-size="12.2" text-anchor="middle" font-family="Liberation Sans, sans-serif" font-weight="bold">1000</text>
<line x1="107.55" y1="1147.60" x2="107.55" y2="1149.80" stroke="#000" stroke-width="1.1" />
<line x1="125.40" y1="1147.60" x2="125.40" y2="1151.10" stroke="#000" stroke-width="1.1" />
<text x="125.40" y="1168.30" font-size="12.2" text-anchor="middle" font-family="Liberation Sans, sans-serif" font-weight="bold">1200</text>
<line x1="143.25" y1="1147.60" x2="143.25" y2="1149.80" stroke="#000" stroke-width="1.1" />
<line x1="161.10" y1="1147.60" x2="161.10" y2="1151.10" stroke="#000" stroke-width="1.1" />
<text x="161.10" y="1168.30" font-size="12.2" text-anchor="middle" font-family="Liberation Sans, sans-serif" font-weight="bold">1400</text>
<line x1="178.95" y1="1147.60" x2="178.95" y2="1149.80" stroke="#000" stroke-width="1.1" />
<line x1="196.80" y1="1147.60" x2="196.80" y2="1151.10" stroke="#000" stroke-width="1.1" />
<text x="196.80" y="1168.30" font-size="12.2" text-anchor="middle" font-family="Liberation Sans, sans-serif" font-weight="bold">1600</text>
<line x1="214.65" y1="1147.60" x2="214.65" y2="1149.80" stroke="#000" stroke-width="1.1" />
<line x1="232.50" y1="1147.60" x2="232.50" y2="1151.10" stroke="#000" stroke-width="1.1" />
<text x="232.50" y="1168.30" font-size="12.2" text-anchor="middle" font-family="Liberation Sans, sans-serif" font-weight="bold">1800</text>
<line x1="236.60" y1="1139.50" x2="238.80" y2="1139.50" stroke="#000" stroke-width="1.1" />
<line x1="246.32" y1="1117.00" x2="249.82" y2="1117.00" stroke="#000" stroke-width="1.1" />
<text x="256.02" y="1121.30" font-size="12.3" text-anchor="middle" font-family="Liberation Sans, sans-serif" font-weight="bold">1</text>
<line x1="254.79" y1="1097.40" x2="256.99" y2="1097.40" stroke="#000" stroke-width="1.1" />
<line x1="262.92" y1="1078.60" x2="266.42" y2="1078.60" stroke="#000" stroke-width="1.1" />
<text x="272.62" y="1082.90" font-size="12.3" text-anchor="middle" font-family="Liberation Sans, sans-serif" font-weight="bold">2</text>
<line x1="270.31" y1="1061.50" x2="272.51" y2="1061.50" stroke="#000" stroke-width="1.1" />
<line x1="277.26" y1="1045.40" x2="280.76" y2="1045.40" stroke="#000" stroke-width="1.1" />
<text x="286.96" y="1049.70" font-size="12.3" text-anchor="middle" font-family="Liberation Sans, sans-serif" font-weight="bold">3</text>
<line x1="283.48" y1="1031.00" x2="285.68" y2="1031.00" stroke="#000" stroke-width="1.1" />
<line x1="289.28" y1="1017.60" x2="292.78" y2="1017.60" stroke="#000" stroke-width="1.1" />
<text x="298.98" y="1021.90" font-size="12.3" text-anchor="middle" font-family="Liberation Sans, sans-serif" font-weight="bold">4</text>
<line x1="294.94" y1="1004.50" x2="297.14" y2="1004.50" stroke="#000" stroke-width="1.1" />
<line x1="300.12" y1="992.50" x2="303.62" y2="992.50" stroke="#000" stroke-width="1.1" />
<text x="309.82" y="996.80" font-size="12.3" text-anchor="middle" font-family="Liberation Sans, sans-serif" font-weight="bold">5</text>
<text x="298" y="1088.4" font-size="12.55" text-anchor="middle" transform="rotate(-66.4 298 1084)" font-family="Liberation Sans, sans-serif" font-weight="bold">Different batches of samples</text>
<text x="122" y="1191" font-size="12.8" text-anchor="middle" font-family="Liberation Sans, sans-serif" font-weight="bold">Raman shift (cm<tspan font-size="7.94" dy="-4.61">−1</tspan><tspan dy="4.61">)</tspan></text>
</svg></body></html>
